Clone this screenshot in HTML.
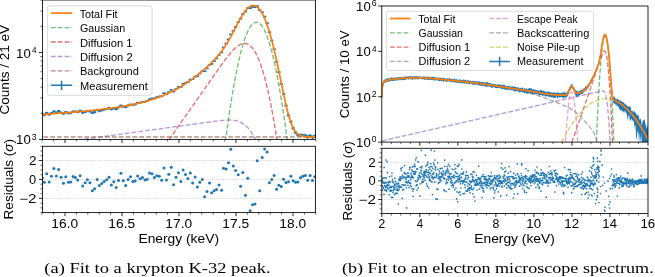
<!DOCTYPE html>
<html><head><meta charset="utf-8"><title>Fit figures</title>
<style>html,body{margin:0;padding:0;background:#fff;} svg{display:block;filter:blur(0.25px);} text{fill:#000;} text.s{stroke:none;}</style>
</head><body>
<svg width="655" height="277" viewBox="0 0 655 277">
<rect width="655" height="277" fill="#fff"/>
<defs>
<clipPath id="cL"><rect x="42.5" y="0.0" width="272.9" height="139.4"/></clipPath>
<clipPath id="cLr"><rect x="42.5" y="146.3" width="272.9" height="66.29999999999998"/></clipPath>
</defs>
<g clip-path="url(#cL)">
<path d="M220.48,182.86 L220.72,180.74 L220.95,178.63 L221.19,176.54 L221.43,174.46 L221.67,172.40 L221.90,170.35 L222.14,168.32 L222.38,166.30 L222.62,164.29 L222.86,162.30 L223.09,160.32 L223.33,158.36 L223.57,156.41 L223.81,154.47 L224.04,152.55 L224.28,150.64 L224.52,148.74 L224.76,146.86 L224.99,145.00 L225.23,143.15 L225.47,141.31 L225.71,139.48 L225.95,137.68 L226.18,135.88 L226.42,134.10 L226.66,132.33 L226.90,130.58 L227.13,128.84 L227.37,127.11 L227.61,125.40 L227.85,123.70 L228.08,122.02 L228.32,120.35 L228.56,118.70 L228.80,117.06 L229.04,115.43 L229.27,113.82 L229.51,112.22 L229.75,110.63 L229.99,109.06 L230.22,107.51 L230.46,105.96 L230.70,104.44 L230.94,102.92 L231.17,101.42 L231.41,99.94 L231.65,98.46 L231.89,97.00 L232.13,95.56 L232.36,94.13 L232.60,92.72 L232.84,91.31 L233.08,89.93 L233.31,88.55 L233.55,87.19 L233.79,85.85 L234.03,84.52 L234.26,83.20 L234.50,81.90 L234.74,80.61 L234.98,79.33 L235.22,78.07 L235.45,76.82 L235.69,75.59 L235.93,74.37 L236.17,73.17 L236.40,71.98 L236.64,70.80 L236.88,69.64 L237.12,68.49 L237.35,67.35 L237.59,66.23 L237.83,65.13 L238.07,64.03 L238.31,62.96 L238.54,61.89 L238.78,60.84 L239.02,59.81 L239.26,58.78 L239.49,57.78 L239.73,56.78 L239.97,55.80 L240.21,54.84 L240.44,53.89 L240.68,52.95 L240.92,52.02 L241.16,51.11 L241.40,50.22 L241.63,49.34 L241.87,48.47 L242.11,47.62 L242.35,46.78 L242.58,45.95 L242.82,45.14 L243.06,44.35 L243.30,43.56 L243.54,42.79 L243.77,42.04 L244.01,41.30 L244.25,40.57 L244.49,39.86 L244.72,39.16 L244.96,38.48 L245.20,37.81 L245.44,37.15 L245.67,36.51 L245.91,35.88 L246.15,35.27 L246.39,34.67 L246.63,34.08 L246.86,33.51 L247.10,32.95 L247.34,32.41 L247.58,31.88 L247.81,31.36 L248.05,30.86 L248.29,30.37 L248.53,29.90 L248.76,29.44 L249.00,29.00 L249.24,28.56 L249.48,28.15 L249.72,27.74 L249.95,27.36 L250.19,26.98 L250.43,26.62 L250.67,26.27 L250.90,25.94 L251.14,25.62 L251.38,25.32 L251.62,25.03 L251.85,24.75 L252.09,24.49 L252.33,24.24 L252.57,24.01 L252.81,23.79 L253.04,23.58 L253.28,23.39 L253.52,23.21 L253.76,23.05 L253.99,22.90 L254.23,22.76 L254.47,22.64 L254.71,22.53 L254.94,22.44 L255.18,22.36 L255.42,22.29 L255.66,22.24 L255.90,22.20 L256.13,22.18 L256.37,22.17 L256.61,22.18 L256.85,22.20 L257.08,22.23 L257.32,22.28 L257.56,22.34 L257.80,22.41 L258.03,22.50 L258.27,22.61 L258.51,22.72 L258.75,22.85 L258.99,23.00 L259.22,23.16 L259.46,23.33 L259.70,23.52 L259.94,23.72 L260.17,23.94 L260.41,24.17 L260.65,24.41 L260.89,24.67 L261.12,24.94 L261.36,25.23 L261.60,25.53 L261.84,25.84 L262.08,26.17 L262.31,26.52 L262.55,26.87 L262.79,27.24 L263.03,27.63 L263.26,28.03 L263.50,28.44 L263.74,28.87 L263.98,29.31 L264.21,29.76 L264.45,30.23 L264.69,30.71 L264.93,31.21 L265.17,31.72 L265.40,32.25 L265.64,32.79 L265.88,33.34 L266.12,33.91 L266.35,34.49 L266.59,35.09 L266.83,35.70 L267.07,36.32 L267.30,36.96 L267.54,37.61 L267.78,38.28 L268.02,38.96 L268.26,39.65 L268.49,40.36 L268.73,41.08 L268.97,41.82 L269.21,42.57 L269.44,43.33 L269.68,44.11 L269.92,44.90 L270.16,45.71 L270.39,46.53 L270.63,47.37 L270.87,48.22 L271.11,49.08 L271.35,49.96 L271.58,50.85 L271.82,51.75 L272.06,52.67 L272.30,53.61 L272.53,54.55 L272.77,55.51 L273.01,56.49 L273.25,57.48 L273.48,58.48 L273.72,59.50 L273.96,60.53 L274.20,61.58 L274.44,62.64 L274.67,63.71 L274.91,64.80 L275.15,65.90 L275.39,67.02 L275.62,68.15 L275.86,69.29 L276.10,70.45 L276.34,71.62 L276.58,72.81 L276.81,74.01 L277.05,75.23 L277.29,76.46 L277.53,77.70 L277.76,78.96 L278.00,80.23 L278.24,81.51 L278.48,82.81 L278.71,84.12 L278.95,85.45 L279.19,86.79 L279.43,88.15 L279.67,89.52 L279.90,90.90 L280.14,92.30 L280.38,93.71 L280.62,95.14 L280.85,96.57 L281.09,98.03 L281.33,99.50 L281.57,100.98 L281.80,102.47 L282.04,103.98 L282.28,105.51 L282.52,107.05 L282.76,108.60 L282.99,110.17 L283.23,111.75 L283.47,113.34 L283.71,114.95 L283.94,116.57 L284.18,118.21 L284.42,119.86 L284.66,121.52 L284.89,123.20 L285.13,124.90 L285.37,126.60 L285.61,128.32 L285.85,130.06 L286.08,131.81 L286.32,133.57 L286.56,135.35 L286.80,137.14 L287.03,138.95 L287.27,140.77 L287.51,142.60 L287.75,144.45 L287.98,146.31 L288.22,148.18 L288.46,150.07 L288.70,151.98 L288.94,153.90 L289.17,155.83 L289.41,157.78 L289.65,159.74 L289.89,161.71 L290.12,163.70 L290.36,165.70 L290.60,167.72 L290.84,169.75 L291.07,171.79 L291.31,173.85 L291.55,175.92 L291.79,178.01 L292.03,180.11 L292.26,182.23 L292.50,184.36" stroke="#2ca02c" stroke-opacity="0.66" stroke-width="1.35" stroke-dasharray="4.8 2.05" fill="none"/>
<path d="M137.52,184.80 L137.76,184.46 L138.00,184.12 L138.23,183.78 L138.47,183.44 L138.71,183.10 L138.95,182.76 L139.19,182.42 L139.42,182.08 L139.66,181.74 L139.90,181.40 L140.14,181.06 L140.37,180.72 L140.61,180.38 L140.85,180.04 L141.09,179.70 L141.32,179.36 L141.56,179.02 L141.80,178.68 L142.04,178.34 L142.28,178.00 L142.51,177.66 L142.75,177.32 L142.99,176.98 L143.23,176.64 L143.46,176.30 L143.70,175.96 L143.94,175.62 L144.18,175.28 L144.41,174.94 L144.65,174.60 L144.89,174.25 L145.13,173.91 L145.37,173.57 L145.60,173.23 L145.84,172.89 L146.08,172.55 L146.32,172.21 L146.55,171.87 L146.79,171.53 L147.03,171.19 L147.27,170.85 L147.51,170.51 L147.74,170.17 L147.98,169.83 L148.22,169.49 L148.46,169.15 L148.69,168.81 L148.93,168.47 L149.17,168.13 L149.41,167.79 L149.64,167.45 L149.88,167.11 L150.12,166.77 L150.36,166.43 L150.60,166.09 L150.83,165.75 L151.07,165.41 L151.31,165.07 L151.55,164.73 L151.78,164.39 L152.02,164.05 L152.26,163.71 L152.50,163.37 L152.73,163.03 L152.97,162.69 L153.21,162.35 L153.45,162.01 L153.69,161.67 L153.92,161.33 L154.16,160.99 L154.40,160.65 L154.64,160.31 L154.87,159.97 L155.11,159.63 L155.35,159.29 L155.59,158.95 L155.82,158.61 L156.06,158.27 L156.30,157.93 L156.54,157.59 L156.78,157.25 L157.01,156.91 L157.25,156.57 L157.49,156.23 L157.73,155.89 L157.96,155.55 L158.20,155.21 L158.44,154.87 L158.68,154.53 L158.91,154.19 L159.15,153.85 L159.39,153.51 L159.63,153.17 L159.87,152.83 L160.10,152.49 L160.34,152.15 L160.58,151.81 L160.82,151.47 L161.05,151.13 L161.29,150.79 L161.53,150.45 L161.77,150.11 L162.00,149.77 L162.24,149.43 L162.48,149.09 L162.72,148.75 L162.96,148.41 L163.19,148.07 L163.43,147.73 L163.67,147.39 L163.91,147.05 L164.14,146.71 L164.38,146.37 L164.62,146.03 L164.86,145.69 L165.09,145.35 L165.33,145.01 L165.57,144.67 L165.81,144.33 L166.05,143.99 L166.28,143.65 L166.52,143.31 L166.76,142.97 L167.00,142.63 L167.23,142.29 L167.47,141.95 L167.71,141.61 L167.95,141.27 L168.18,140.93 L168.42,140.59 L168.66,140.25 L168.90,139.91 L169.14,139.57 L169.37,139.23 L169.61,138.89 L169.85,138.55 L170.09,138.21 L170.32,137.87 L170.56,137.53 L170.80,137.19 L171.04,136.85 L171.27,136.51 L171.51,136.17 L171.75,135.83 L171.99,135.49 L172.23,135.15 L172.46,134.81 L172.70,134.47 L172.94,134.13 L173.18,133.79 L173.41,133.45 L173.65,133.11 L173.89,132.77 L174.13,132.43 L174.36,132.09 L174.60,131.75 L174.84,131.41 L175.08,131.07 L175.32,130.73 L175.55,130.39 L175.79,130.05 L176.03,129.71 L176.27,129.37 L176.50,129.02 L176.74,128.68 L176.98,128.34 L177.22,128.00 L177.45,127.66 L177.69,127.32 L177.93,126.98 L178.17,126.64 L178.41,126.30 L178.64,125.96 L178.88,125.62 L179.12,125.28 L179.36,124.94 L179.59,124.60 L179.83,124.26 L180.07,123.92 L180.31,123.58 L180.55,123.24 L180.78,122.90 L181.02,122.56 L181.26,122.22 L181.50,121.88 L181.73,121.54 L181.97,121.20 L182.21,120.86 L182.45,120.52 L182.68,120.18 L182.92,119.84 L183.16,119.50 L183.40,119.16 L183.64,118.82 L183.87,118.48 L184.11,118.14 L184.35,117.80 L184.59,117.46 L184.82,117.12 L185.06,116.78 L185.30,116.44 L185.54,116.10 L185.77,115.76 L186.01,115.42 L186.25,115.08 L186.49,114.74 L186.73,114.40 L186.96,114.06 L187.20,113.72 L187.44,113.38 L187.68,113.04 L187.91,112.70 L188.15,112.36 L188.39,112.02 L188.63,111.68 L188.86,111.34 L189.10,111.00 L189.34,110.66 L189.58,110.32 L189.82,109.98 L190.05,109.64 L190.29,109.30 L190.53,108.96 L190.77,108.62 L191.00,108.28 L191.24,107.94 L191.48,107.60 L191.72,107.26 L191.95,106.92 L192.19,106.58 L192.43,106.24 L192.67,105.90 L192.91,105.56 L193.14,105.22 L193.38,104.88 L193.62,104.54 L193.86,104.20 L194.09,103.86 L194.33,103.52 L194.57,103.18 L194.81,102.84 L195.04,102.50 L195.28,102.16 L195.52,101.82 L195.76,101.48 L196.00,101.14 L196.23,100.80 L196.47,100.46 L196.71,100.12 L196.95,99.78 L197.18,99.44 L197.42,99.10 L197.66,98.76 L197.90,98.42 L198.13,98.08 L198.37,97.74 L198.61,97.40 L198.85,97.06 L199.09,96.72 L199.32,96.38 L199.56,96.04 L199.80,95.70 L200.04,95.36 L200.27,95.02 L200.51,94.68 L200.75,94.34 L200.99,94.00 L201.22,93.66 L201.46,93.32 L201.70,92.98 L201.94,92.64 L202.18,92.30 L202.41,91.96 L202.65,91.62 L202.89,91.28 L203.13,90.94 L203.36,90.60 L203.60,90.26 L203.84,89.92 L204.08,89.58 L204.31,89.24 L204.55,88.90 L204.79,88.56 L205.03,88.22 L205.27,87.88 L205.50,87.54 L205.74,87.20 L205.98,86.86 L206.22,86.52 L206.45,86.18 L206.69,85.84 L206.93,85.50 L207.17,85.16 L207.40,84.82 L207.64,84.48 L207.88,84.14 L208.12,83.80 L208.36,83.46 L208.59,83.12 L208.83,82.78 L209.07,82.44 L209.31,82.10 L209.54,81.76 L209.78,81.42 L210.02,81.08 L210.26,80.74 L210.49,80.40 L210.73,80.06 L210.97,79.72 L211.21,79.38 L211.45,79.05 L211.68,78.71 L211.92,78.37 L212.16,78.03 L212.40,77.69 L212.63,77.35 L212.87,77.01 L213.11,76.67 L213.35,76.33 L213.59,76.00 L213.82,75.66 L214.06,75.32 L214.30,74.98 L214.54,74.64 L214.77,74.30 L215.01,73.97 L215.25,73.63 L215.49,73.29 L215.72,72.95 L215.96,72.62 L216.20,72.28 L216.44,71.94 L216.68,71.61 L216.91,71.27 L217.15,70.93 L217.39,70.60 L217.63,70.26 L217.86,69.93 L218.10,69.59 L218.34,69.26 L218.58,68.92 L218.81,68.59 L219.05,68.25 L219.29,67.92 L219.53,67.59 L219.77,67.25 L220.00,66.92 L220.24,66.59 L220.48,66.26 L220.72,65.93 L220.95,65.60 L221.19,65.27 L221.43,64.94 L221.67,64.61 L221.90,64.28 L222.14,63.95 L222.38,63.63 L222.62,63.30 L222.86,62.97 L223.09,62.65 L223.33,62.33 L223.57,62.00 L223.81,61.68 L224.04,61.36 L224.28,61.04 L224.52,60.72 L224.76,60.40 L224.99,60.08 L225.23,59.77 L225.47,59.45 L225.71,59.14 L225.95,58.82 L226.18,58.51 L226.42,58.20 L226.66,57.89 L226.90,57.58 L227.13,57.28 L227.37,56.97 L227.61,56.67 L227.85,56.37 L228.08,56.07 L228.32,55.77 L228.56,55.47 L228.80,55.18 L229.04,54.88 L229.27,54.59 L229.51,54.30 L229.75,54.02 L229.99,53.73 L230.22,53.45 L230.46,53.17 L230.70,52.89 L230.94,52.62 L231.17,52.34 L231.41,52.07 L231.65,51.80 L231.89,51.54 L232.13,51.28 L232.36,51.02 L232.60,50.76 L232.84,50.50 L233.08,50.25 L233.31,50.01 L233.55,49.76 L233.79,49.52 L234.03,49.28 L234.26,49.05 L234.50,48.82 L234.74,48.59 L234.98,48.36 L235.22,48.14 L235.45,47.93 L235.69,47.72 L235.93,47.51 L236.17,47.30 L236.40,47.10 L236.64,46.91 L236.88,46.72 L237.12,46.53 L237.35,46.35 L237.59,46.17 L237.83,46.00 L238.07,45.83 L238.31,45.67 L238.54,45.51 L238.78,45.36 L239.02,45.21 L239.26,45.07 L239.49,44.93 L239.73,44.80 L239.97,44.67 L240.21,44.55 L240.44,44.44 L240.68,44.33 L240.92,44.22 L241.16,44.13 L241.40,44.04 L241.63,43.95 L241.87,43.87 L242.11,43.80 L242.35,43.74 L242.58,43.68 L242.82,43.63 L243.06,43.58 L243.30,43.54 L243.54,43.51 L243.77,43.48 L244.01,43.47 L244.25,43.46 L244.49,43.45 L244.72,43.46 L244.96,43.47 L245.20,43.49 L245.44,43.51 L245.67,43.55 L245.91,43.59 L246.15,43.64 L246.39,43.70 L246.63,43.76 L246.86,43.84 L247.10,43.92 L247.34,44.01 L247.58,44.11 L247.81,44.22 L248.05,44.33 L248.29,44.46 L248.53,44.59 L248.76,44.73 L249.00,44.88 L249.24,45.04 L249.48,45.21 L249.72,45.39 L249.95,45.58 L250.19,45.77 L250.43,45.98 L250.67,46.19 L250.90,46.42 L251.14,46.65 L251.38,46.89 L251.62,47.14 L251.85,47.41 L252.09,47.68 L252.33,47.96 L252.57,48.25 L252.81,48.56 L253.04,48.87 L253.28,49.19 L253.52,49.52 L253.76,49.86 L253.99,50.22 L254.23,50.58 L254.47,50.95 L254.71,51.34 L254.94,51.73 L255.18,52.13 L255.42,52.55 L255.66,52.98 L255.90,53.41 L256.13,53.86 L256.37,54.32 L256.61,54.79 L256.85,55.27 L257.08,55.76 L257.32,56.26 L257.56,56.78 L257.80,57.30 L258.03,57.84 L258.27,58.39 L258.51,58.94 L258.75,59.51 L258.99,60.10 L259.22,60.69 L259.46,61.29 L259.70,61.91 L259.94,62.54 L260.17,63.18 L260.41,63.83 L260.65,64.49 L260.89,65.16 L261.12,65.85 L261.36,66.55 L261.60,67.26 L261.84,67.98 L262.08,68.72 L262.31,69.46 L262.55,70.22 L262.79,70.99 L263.03,71.77 L263.26,72.57 L263.50,73.37 L263.74,74.19 L263.98,75.02 L264.21,75.87 L264.45,76.72 L264.69,77.59 L264.93,78.47 L265.17,79.37 L265.40,80.27 L265.64,81.19 L265.88,82.12 L266.12,83.06 L266.35,84.02 L266.59,84.99 L266.83,85.97 L267.07,86.96 L267.30,87.97 L267.54,88.99 L267.78,90.02 L268.02,91.07 L268.26,92.13 L268.49,93.20 L268.73,94.28 L268.97,95.38 L269.21,96.49 L269.44,97.61 L269.68,98.75 L269.92,99.90 L270.16,101.06 L270.39,102.24 L270.63,103.42 L270.87,104.62 L271.11,105.84 L271.35,107.07 L271.58,108.31 L271.82,109.56 L272.06,110.83 L272.30,112.11 L272.53,113.41 L272.77,114.71 L273.01,116.03 L273.25,117.37 L273.48,118.72 L273.72,120.08 L273.96,121.45 L274.20,122.84 L274.44,124.24 L274.67,125.66 L274.91,127.08 L275.15,128.53 L275.39,129.98 L275.62,131.45 L275.86,132.93 L276.10,134.43 L276.34,135.94 L276.58,137.46 L276.81,139.00 L277.05,140.55 L277.29,142.12 L277.53,143.70 L277.76,145.29 L278.00,146.89 L278.24,148.51 L278.48,150.15 L278.71,151.79 L278.95,153.45 L279.19,155.13 L279.43,156.82 L279.67,158.52 L279.90,160.24 L280.14,161.97 L280.38,163.71 L280.62,165.47 L280.85,167.24 L281.09,169.03 L281.33,170.83 L281.57,172.64 L281.80,174.47 L282.04,176.31 L282.28,178.17 L282.52,180.04 L282.76,181.92 L282.99,183.82" stroke="#d62728" stroke-opacity="0.66" stroke-width="1.35" stroke-dasharray="4.8 2.05" fill="none"/>
<path d="M36.50,145.70 L36.74,145.67 L36.98,145.64 L37.21,145.60 L37.45,145.57 L37.69,145.54 L37.93,145.51 L38.16,145.47 L38.40,145.44 L38.64,145.41 L38.88,145.38 L39.11,145.34 L39.35,145.31 L39.59,145.28 L39.83,145.24 L40.07,145.21 L40.30,145.18 L40.54,145.15 L40.78,145.11 L41.02,145.08 L41.25,145.05 L41.49,145.02 L41.73,144.98 L41.97,144.95 L42.20,144.92 L42.44,144.89 L42.68,144.85 L42.92,144.82 L43.16,144.79 L43.39,144.76 L43.63,144.72 L43.87,144.69 L44.11,144.66 L44.34,144.63 L44.58,144.59 L44.82,144.56 L45.06,144.53 L45.29,144.49 L45.53,144.46 L45.77,144.43 L46.01,144.40 L46.25,144.36 L46.48,144.33 L46.72,144.30 L46.96,144.27 L47.20,144.23 L47.43,144.20 L47.67,144.17 L47.91,144.14 L48.15,144.10 L48.38,144.07 L48.62,144.04 L48.86,144.01 L49.10,143.97 L49.34,143.94 L49.57,143.91 L49.81,143.88 L50.05,143.84 L50.29,143.81 L50.52,143.78 L50.76,143.74 L51.00,143.71 L51.24,143.68 L51.47,143.65 L51.71,143.61 L51.95,143.58 L52.19,143.55 L52.43,143.52 L52.66,143.48 L52.90,143.45 L53.14,143.42 L53.38,143.39 L53.61,143.35 L53.85,143.32 L54.09,143.29 L54.33,143.26 L54.57,143.22 L54.80,143.19 L55.04,143.16 L55.28,143.13 L55.52,143.09 L55.75,143.06 L55.99,143.03 L56.23,142.99 L56.47,142.96 L56.70,142.93 L56.94,142.90 L57.18,142.86 L57.42,142.83 L57.66,142.80 L57.89,142.77 L58.13,142.73 L58.37,142.70 L58.61,142.67 L58.84,142.64 L59.08,142.60 L59.32,142.57 L59.56,142.54 L59.79,142.51 L60.03,142.47 L60.27,142.44 L60.51,142.41 L60.75,142.38 L60.98,142.34 L61.22,142.31 L61.46,142.28 L61.70,142.24 L61.93,142.21 L62.17,142.18 L62.41,142.15 L62.65,142.11 L62.88,142.08 L63.12,142.05 L63.36,142.02 L63.60,141.98 L63.84,141.95 L64.07,141.92 L64.31,141.89 L64.55,141.85 L64.79,141.82 L65.02,141.79 L65.26,141.76 L65.50,141.72 L65.74,141.69 L65.97,141.66 L66.21,141.63 L66.45,141.59 L66.69,141.56 L66.93,141.53 L67.16,141.49 L67.40,141.46 L67.64,141.43 L67.88,141.40 L68.11,141.36 L68.35,141.33 L68.59,141.30 L68.83,141.27 L69.06,141.23 L69.30,141.20 L69.54,141.17 L69.78,141.14 L70.02,141.10 L70.25,141.07 L70.49,141.04 L70.73,141.01 L70.97,140.97 L71.20,140.94 L71.44,140.91 L71.68,140.88 L71.92,140.84 L72.15,140.81 L72.39,140.78 L72.63,140.74 L72.87,140.71 L73.11,140.68 L73.34,140.65 L73.58,140.61 L73.82,140.58 L74.06,140.55 L74.29,140.52 L74.53,140.48 L74.77,140.45 L75.01,140.42 L75.24,140.39 L75.48,140.35 L75.72,140.32 L75.96,140.29 L76.20,140.26 L76.43,140.22 L76.67,140.19 L76.91,140.16 L77.15,140.13 L77.38,140.09 L77.62,140.06 L77.86,140.03 L78.10,140.00 L78.33,139.96 L78.57,139.93 L78.81,139.90 L79.05,139.86 L79.29,139.83 L79.52,139.80 L79.76,139.77 L80.00,139.73 L80.24,139.70 L80.47,139.67 L80.71,139.64 L80.95,139.60 L81.19,139.57 L81.42,139.54 L81.66,139.51 L81.90,139.47 L82.14,139.44 L82.38,139.41 L82.61,139.38 L82.85,139.34 L83.09,139.31 L83.33,139.28 L83.56,139.25 L83.80,139.21 L84.04,139.18 L84.28,139.15 L84.52,139.11 L84.75,139.08 L84.99,139.05 L85.23,139.02 L85.47,138.98 L85.70,138.95 L85.94,138.92 L86.18,138.89 L86.42,138.85 L86.65,138.82 L86.89,138.79 L87.13,138.76 L87.37,138.72 L87.61,138.69 L87.84,138.66 L88.08,138.63 L88.32,138.59 L88.56,138.56 L88.79,138.53 L89.03,138.50 L89.27,138.46 L89.51,138.43 L89.74,138.40 L89.98,138.36 L90.22,138.33 L90.46,138.30 L90.70,138.27 L90.93,138.23 L91.17,138.20 L91.41,138.17 L91.65,138.14 L91.88,138.10 L92.12,138.07 L92.36,138.04 L92.60,138.01 L92.83,137.97 L93.07,137.94 L93.31,137.91 L93.55,137.88 L93.79,137.84 L94.02,137.81 L94.26,137.78 L94.50,137.75 L94.74,137.71 L94.97,137.68 L95.21,137.65 L95.45,137.61 L95.69,137.58 L95.92,137.55 L96.16,137.52 L96.40,137.48 L96.64,137.45 L96.88,137.42 L97.11,137.39 L97.35,137.35 L97.59,137.32 L97.83,137.29 L98.06,137.26 L98.30,137.22 L98.54,137.19 L98.78,137.16 L99.01,137.13 L99.25,137.09 L99.49,137.06 L99.73,137.03 L99.97,137.00 L100.20,136.96 L100.44,136.93 L100.68,136.90 L100.92,136.86 L101.15,136.83 L101.39,136.80 L101.63,136.77 L101.87,136.73 L102.10,136.70 L102.34,136.67 L102.58,136.64 L102.82,136.60 L103.06,136.57 L103.29,136.54 L103.53,136.51 L103.77,136.47 L104.01,136.44 L104.24,136.41 L104.48,136.38 L104.72,136.34 L104.96,136.31 L105.19,136.28 L105.43,136.25 L105.67,136.21 L105.91,136.18 L106.15,136.15 L106.38,136.11 L106.62,136.08 L106.86,136.05 L107.10,136.02 L107.33,135.98 L107.57,135.95 L107.81,135.92 L108.05,135.89 L108.28,135.85 L108.52,135.82 L108.76,135.79 L109.00,135.76 L109.24,135.72 L109.47,135.69 L109.71,135.66 L109.95,135.63 L110.19,135.59 L110.42,135.56 L110.66,135.53 L110.90,135.50 L111.14,135.46 L111.37,135.43 L111.61,135.40 L111.85,135.36 L112.09,135.33 L112.33,135.30 L112.56,135.27 L112.80,135.23 L113.04,135.20 L113.28,135.17 L113.51,135.14 L113.75,135.10 L113.99,135.07 L114.23,135.04 L114.46,135.01 L114.70,134.97 L114.94,134.94 L115.18,134.91 L115.42,134.88 L115.65,134.84 L115.89,134.81 L116.13,134.78 L116.37,134.75 L116.60,134.71 L116.84,134.68 L117.08,134.65 L117.32,134.61 L117.56,134.58 L117.79,134.55 L118.03,134.52 L118.27,134.48 L118.51,134.45 L118.74,134.42 L118.98,134.39 L119.22,134.35 L119.46,134.32 L119.69,134.29 L119.93,134.26 L120.17,134.22 L120.41,134.19 L120.65,134.16 L120.88,134.13 L121.12,134.09 L121.36,134.06 L121.60,134.03 L121.83,134.00 L122.07,133.96 L122.31,133.93 L122.55,133.90 L122.78,133.86 L123.02,133.83 L123.26,133.80 L123.50,133.77 L123.74,133.73 L123.97,133.70 L124.21,133.67 L124.45,133.64 L124.69,133.60 L124.92,133.57 L125.16,133.54 L125.40,133.51 L125.64,133.47 L125.87,133.44 L126.11,133.41 L126.35,133.38 L126.59,133.34 L126.83,133.31 L127.06,133.28 L127.30,133.25 L127.54,133.21 L127.78,133.18 L128.01,133.15 L128.25,133.11 L128.49,133.08 L128.73,133.05 L128.96,133.02 L129.20,132.98 L129.44,132.95 L129.68,132.92 L129.92,132.89 L130.15,132.85 L130.39,132.82 L130.63,132.79 L130.87,132.76 L131.10,132.72 L131.34,132.69 L131.58,132.66 L131.82,132.63 L132.05,132.59 L132.29,132.56 L132.53,132.53 L132.77,132.50 L133.01,132.46 L133.24,132.43 L133.48,132.40 L133.72,132.36 L133.96,132.33 L134.19,132.30 L134.43,132.27 L134.67,132.23 L134.91,132.20 L135.14,132.17 L135.38,132.14 L135.62,132.10 L135.86,132.07 L136.10,132.04 L136.33,132.01 L136.57,131.97 L136.81,131.94 L137.05,131.91 L137.28,131.88 L137.52,131.84 L137.76,131.81 L138.00,131.78 L138.23,131.75 L138.47,131.71 L138.71,131.68 L138.95,131.65 L139.19,131.61 L139.42,131.58 L139.66,131.55 L139.90,131.52 L140.14,131.48 L140.37,131.45 L140.61,131.42 L140.85,131.39 L141.09,131.35 L141.32,131.32 L141.56,131.29 L141.80,131.26 L142.04,131.22 L142.28,131.19 L142.51,131.16 L142.75,131.13 L142.99,131.09 L143.23,131.06 L143.46,131.03 L143.70,131.00 L143.94,130.96 L144.18,130.93 L144.41,130.90 L144.65,130.86 L144.89,130.83 L145.13,130.80 L145.37,130.77 L145.60,130.73 L145.84,130.70 L146.08,130.67 L146.32,130.64 L146.55,130.60 L146.79,130.57 L147.03,130.54 L147.27,130.51 L147.51,130.47 L147.74,130.44 L147.98,130.41 L148.22,130.38 L148.46,130.34 L148.69,130.31 L148.93,130.28 L149.17,130.25 L149.41,130.21 L149.64,130.18 L149.88,130.15 L150.12,130.11 L150.36,130.08 L150.60,130.05 L150.83,130.02 L151.07,129.98 L151.31,129.95 L151.55,129.92 L151.78,129.89 L152.02,129.85 L152.26,129.82 L152.50,129.79 L152.73,129.76 L152.97,129.72 L153.21,129.69 L153.45,129.66 L153.69,129.63 L153.92,129.59 L154.16,129.56 L154.40,129.53 L154.64,129.50 L154.87,129.46 L155.11,129.43 L155.35,129.40 L155.59,129.36 L155.82,129.33 L156.06,129.30 L156.30,129.27 L156.54,129.23 L156.78,129.20 L157.01,129.17 L157.25,129.14 L157.49,129.10 L157.73,129.07 L157.96,129.04 L158.20,129.01 L158.44,128.97 L158.68,128.94 L158.91,128.91 L159.15,128.88 L159.39,128.84 L159.63,128.81 L159.87,128.78 L160.10,128.75 L160.34,128.71 L160.58,128.68 L160.82,128.65 L161.05,128.61 L161.29,128.58 L161.53,128.55 L161.77,128.52 L162.00,128.48 L162.24,128.45 L162.48,128.42 L162.72,128.39 L162.96,128.35 L163.19,128.32 L163.43,128.29 L163.67,128.26 L163.91,128.22 L164.14,128.19 L164.38,128.16 L164.62,128.13 L164.86,128.09 L165.09,128.06 L165.33,128.03 L165.57,128.00 L165.81,127.96 L166.05,127.93 L166.28,127.90 L166.52,127.86 L166.76,127.83 L167.00,127.80 L167.23,127.77 L167.47,127.73 L167.71,127.70 L167.95,127.67 L168.18,127.64 L168.42,127.60 L168.66,127.57 L168.90,127.54 L169.14,127.51 L169.37,127.47 L169.61,127.44 L169.85,127.41 L170.09,127.38 L170.32,127.34 L170.56,127.31 L170.80,127.28 L171.04,127.25 L171.27,127.21 L171.51,127.18 L171.75,127.15 L171.99,127.11 L172.23,127.08 L172.46,127.05 L172.70,127.02 L172.94,126.98 L173.18,126.95 L173.41,126.92 L173.65,126.89 L173.89,126.85 L174.13,126.82 L174.36,126.79 L174.60,126.76 L174.84,126.72 L175.08,126.69 L175.32,126.66 L175.55,126.63 L175.79,126.59 L176.03,126.56 L176.27,126.53 L176.50,126.50 L176.74,126.46 L176.98,126.43 L177.22,126.40 L177.45,126.36 L177.69,126.33 L177.93,126.30 L178.17,126.27 L178.41,126.23 L178.64,126.20 L178.88,126.17 L179.12,126.14 L179.36,126.10 L179.59,126.07 L179.83,126.04 L180.07,126.01 L180.31,125.97 L180.55,125.94 L180.78,125.91 L181.02,125.88 L181.26,125.84 L181.50,125.81 L181.73,125.78 L181.97,125.75 L182.21,125.71 L182.45,125.68 L182.68,125.65 L182.92,125.61 L183.16,125.58 L183.40,125.55 L183.64,125.52 L183.87,125.48 L184.11,125.45 L184.35,125.42 L184.59,125.39 L184.82,125.35 L185.06,125.32 L185.30,125.29 L185.54,125.26 L185.77,125.22 L186.01,125.19 L186.25,125.16 L186.49,125.13 L186.73,125.09 L186.96,125.06 L187.20,125.03 L187.44,125.00 L187.68,124.96 L187.91,124.93 L188.15,124.90 L188.39,124.86 L188.63,124.83 L188.86,124.80 L189.10,124.77 L189.34,124.73 L189.58,124.70 L189.82,124.67 L190.05,124.64 L190.29,124.60 L190.53,124.57 L190.77,124.54 L191.00,124.51 L191.24,124.47 L191.48,124.44 L191.72,124.41 L191.95,124.38 L192.19,124.34 L192.43,124.31 L192.67,124.28 L192.91,124.25 L193.14,124.21 L193.38,124.18 L193.62,124.15 L193.86,124.11 L194.09,124.08 L194.33,124.05 L194.57,124.02 L194.81,123.98 L195.04,123.95 L195.28,123.92 L195.52,123.89 L195.76,123.85 L196.00,123.82 L196.23,123.79 L196.47,123.76 L196.71,123.72 L196.95,123.69 L197.18,123.66 L197.42,123.63 L197.66,123.59 L197.90,123.56 L198.13,123.53 L198.37,123.50 L198.61,123.46 L198.85,123.43 L199.09,123.40 L199.32,123.37 L199.56,123.33 L199.80,123.30 L200.04,123.27 L200.27,123.23 L200.51,123.20 L200.75,123.17 L200.99,123.14 L201.22,123.10 L201.46,123.07 L201.70,123.04 L201.94,123.01 L202.18,122.97 L202.41,122.94 L202.65,122.91 L202.89,122.88 L203.13,122.84 L203.36,122.81 L203.60,122.78 L203.84,122.75 L204.08,122.71 L204.31,122.68 L204.55,122.65 L204.79,122.62 L205.03,122.58 L205.27,122.55 L205.50,122.52 L205.74,122.49 L205.98,122.45 L206.22,122.42 L206.45,122.39 L206.69,122.36 L206.93,122.33 L207.17,122.29 L207.40,122.26 L207.64,122.23 L207.88,122.20 L208.12,122.16 L208.36,122.13 L208.59,122.10 L208.83,122.07 L209.07,122.03 L209.31,122.00 L209.54,121.97 L209.78,121.94 L210.02,121.91 L210.26,121.87 L210.49,121.84 L210.73,121.81 L210.97,121.78 L211.21,121.75 L211.45,121.72 L211.68,121.68 L211.92,121.65 L212.16,121.62 L212.40,121.59 L212.63,121.56 L212.87,121.53 L213.11,121.49 L213.35,121.46 L213.59,121.43 L213.82,121.40 L214.06,121.37 L214.30,121.34 L214.54,121.31 L214.77,121.28 L215.01,121.25 L215.25,121.22 L215.49,121.19 L215.72,121.16 L215.96,121.13 L216.20,121.10 L216.44,121.07 L216.68,121.04 L216.91,121.01 L217.15,120.98 L217.39,120.95 L217.63,120.92 L217.86,120.89 L218.10,120.86 L218.34,120.83 L218.58,120.80 L218.81,120.78 L219.05,120.75 L219.29,120.72 L219.53,120.69 L219.77,120.67 L220.00,120.64 L220.24,120.61 L220.48,120.59 L220.72,120.56 L220.95,120.54 L221.19,120.51 L221.43,120.49 L221.67,120.46 L221.90,120.44 L222.14,120.42 L222.38,120.39 L222.62,120.37 L222.86,120.35 L223.09,120.33 L223.33,120.31 L223.57,120.29 L223.81,120.27 L224.04,120.25 L224.28,120.23 L224.52,120.21 L224.76,120.19 L224.99,120.18 L225.23,120.16 L225.47,120.15 L225.71,120.13 L225.95,120.12 L226.18,120.10 L226.42,120.09 L226.66,120.08 L226.90,120.07 L227.13,120.06 L227.37,120.05 L227.61,120.04 L227.85,120.04 L228.08,120.03 L228.32,120.03 L228.56,120.02 L228.80,120.02 L229.04,120.02 L229.27,120.02 L229.51,120.02 L229.75,120.02 L229.99,120.03 L230.22,120.03 L230.46,120.04 L230.70,120.05 L230.94,120.06 L231.17,120.07 L231.41,120.08 L231.65,120.10 L231.89,120.11 L232.13,120.13 L232.36,120.15 L232.60,120.17 L232.84,120.19 L233.08,120.22 L233.31,120.25 L233.55,120.28 L233.79,120.31 L234.03,120.34 L234.26,120.37 L234.50,120.41 L234.74,120.45 L234.98,120.49 L235.22,120.54 L235.45,120.58 L235.69,120.63 L235.93,120.69 L236.17,120.74 L236.40,120.80 L236.64,120.86 L236.88,120.92 L237.12,120.98 L237.35,121.05 L237.59,121.12 L237.83,121.20 L238.07,121.27 L238.31,121.35 L238.54,121.44 L238.78,121.52 L239.02,121.61 L239.26,121.70 L239.49,121.80 L239.73,121.90 L239.97,122.00 L240.21,122.11 L240.44,122.22 L240.68,122.33 L240.92,122.45 L241.16,122.57 L241.40,122.70 L241.63,122.83 L241.87,122.96 L242.11,123.10 L242.35,123.24 L242.58,123.39 L242.82,123.54 L243.06,123.69 L243.30,123.85 L243.54,124.01 L243.77,124.18 L244.01,124.35 L244.25,124.53 L244.49,124.71 L244.72,124.90 L244.96,125.09 L245.20,125.28 L245.44,125.49 L245.67,125.69 L245.91,125.90 L246.15,126.12 L246.39,126.34 L246.63,126.57 L246.86,126.80 L247.10,127.04 L247.34,127.28 L247.58,127.53 L247.81,127.78 L248.05,128.04 L248.29,128.31 L248.53,128.58 L248.76,128.86 L249.00,129.14 L249.24,129.43 L249.48,129.72 L249.72,130.02 L249.95,130.33 L250.19,130.64 L250.43,130.96 L250.67,131.29 L250.90,131.62 L251.14,131.96 L251.38,132.30 L251.62,132.65 L251.85,133.01 L252.09,133.38 L252.33,133.75 L252.57,134.12 L252.81,134.51 L253.04,134.90 L253.28,135.30 L253.52,135.70 L253.76,136.12 L253.99,136.54 L254.23,136.96 L254.47,137.40 L254.71,137.84 L254.94,138.28 L255.18,138.74 L255.42,139.20 L255.66,139.67 L255.90,140.15 L256.13,140.64 L256.37,141.13 L256.61,141.63 L256.85,142.14 L257.08,142.65 L257.32,143.18 L257.56,143.71 L257.80,144.25 L258.03,144.79 L258.27,145.35 L258.51,145.91 L258.75,146.48 L258.99,147.06 L259.22,147.65 L259.46,148.24 L259.70,148.84 L259.94,149.46 L260.17,150.08 L260.41,150.70 L260.65,151.34 L260.89,151.98 L261.12,152.64 L261.36,153.30 L261.60,153.97 L261.84,154.65 L262.08,155.33 L262.31,156.03 L262.55,156.73 L262.79,157.45 L263.03,158.17 L263.26,158.90 L263.50,159.64 L263.74,160.39 L263.98,161.14 L264.21,161.91 L264.45,162.68 L264.69,163.47 L264.93,164.26 L265.17,165.06 L265.40,165.87 L265.64,166.69 L265.88,167.52 L266.12,168.36 L266.35,169.21 L266.59,170.06 L266.83,170.93 L267.07,171.80 L267.30,172.69 L267.54,173.58 L267.78,174.48 L268.02,175.40 L268.26,176.32 L268.49,177.25 L268.73,178.19 L268.97,179.14 L269.21,180.10 L269.44,181.07 L269.68,182.05 L269.92,183.03 L270.16,184.03" stroke="#9467bd" stroke-opacity="0.66" stroke-width="1.35" stroke-dasharray="4.8 2.05" fill="none"/>
<path d="M36.50,136.97 L36.74,136.97 L36.98,136.97 L37.21,136.97 L37.45,136.97 L37.69,136.97 L37.93,136.97 L38.16,136.97 L38.40,136.97 L38.64,136.97 L38.88,136.97 L39.11,136.97 L39.35,136.97 L39.59,136.97 L39.83,136.97 L40.07,136.97 L40.30,136.97 L40.54,136.97 L40.78,136.97 L41.02,136.97 L41.25,136.97 L41.49,136.97 L41.73,136.97 L41.97,136.97 L42.20,136.97 L42.44,136.97 L42.68,136.97 L42.92,136.97 L43.16,136.97 L43.39,136.97 L43.63,136.97 L43.87,136.97 L44.11,136.97 L44.34,136.97 L44.58,136.97 L44.82,136.97 L45.06,136.97 L45.29,136.97 L45.53,136.97 L45.77,136.97 L46.01,136.97 L46.25,136.97 L46.48,136.97 L46.72,136.97 L46.96,136.97 L47.20,136.97 L47.43,136.97 L47.67,136.97 L47.91,136.97 L48.15,136.97 L48.38,136.97 L48.62,136.97 L48.86,136.97 L49.10,136.97 L49.34,136.97 L49.57,136.97 L49.81,136.97 L50.05,136.97 L50.29,136.97 L50.52,136.97 L50.76,136.97 L51.00,136.97 L51.24,136.97 L51.47,136.97 L51.71,136.97 L51.95,136.97 L52.19,136.97 L52.43,136.97 L52.66,136.97 L52.90,136.97 L53.14,136.97 L53.38,136.97 L53.61,136.97 L53.85,136.97 L54.09,136.97 L54.33,136.97 L54.57,136.97 L54.80,136.97 L55.04,136.97 L55.28,136.97 L55.52,136.97 L55.75,136.97 L55.99,136.97 L56.23,136.97 L56.47,136.97 L56.70,136.97 L56.94,136.97 L57.18,136.97 L57.42,136.97 L57.66,136.97 L57.89,136.97 L58.13,136.97 L58.37,136.97 L58.61,136.97 L58.84,136.97 L59.08,136.97 L59.32,136.97 L59.56,136.97 L59.79,136.97 L60.03,136.97 L60.27,136.97 L60.51,136.97 L60.75,136.97 L60.98,136.97 L61.22,136.97 L61.46,136.97 L61.70,136.97 L61.93,136.97 L62.17,136.97 L62.41,136.97 L62.65,136.97 L62.88,136.97 L63.12,136.97 L63.36,136.97 L63.60,136.97 L63.84,136.97 L64.07,136.97 L64.31,136.97 L64.55,136.97 L64.79,136.97 L65.02,136.97 L65.26,136.97 L65.50,136.97 L65.74,136.97 L65.97,136.97 L66.21,136.97 L66.45,136.97 L66.69,136.97 L66.93,136.97 L67.16,136.97 L67.40,136.97 L67.64,136.97 L67.88,136.97 L68.11,136.97 L68.35,136.97 L68.59,136.97 L68.83,136.97 L69.06,136.97 L69.30,136.97 L69.54,136.97 L69.78,136.97 L70.02,136.97 L70.25,136.97 L70.49,136.97 L70.73,136.97 L70.97,136.97 L71.20,136.97 L71.44,136.97 L71.68,136.97 L71.92,136.97 L72.15,136.97 L72.39,136.97 L72.63,136.97 L72.87,136.97 L73.11,136.97 L73.34,136.97 L73.58,136.97 L73.82,136.97 L74.06,136.97 L74.29,136.97 L74.53,136.97 L74.77,136.97 L75.01,136.97 L75.24,136.97 L75.48,136.97 L75.72,136.97 L75.96,136.97 L76.20,136.97 L76.43,136.97 L76.67,136.97 L76.91,136.97 L77.15,136.97 L77.38,136.97 L77.62,136.97 L77.86,136.97 L78.10,136.97 L78.33,136.97 L78.57,136.97 L78.81,136.97 L79.05,136.97 L79.29,136.97 L79.52,136.97 L79.76,136.97 L80.00,136.97 L80.24,136.97 L80.47,136.97 L80.71,136.97 L80.95,136.97 L81.19,136.97 L81.42,136.97 L81.66,136.97 L81.90,136.97 L82.14,136.97 L82.38,136.97 L82.61,136.97 L82.85,136.97 L83.09,136.97 L83.33,136.97 L83.56,136.97 L83.80,136.97 L84.04,136.97 L84.28,136.97 L84.52,136.97 L84.75,136.97 L84.99,136.97 L85.23,136.97 L85.47,136.97 L85.70,136.97 L85.94,136.97 L86.18,136.97 L86.42,136.97 L86.65,136.97 L86.89,136.97 L87.13,136.97 L87.37,136.97 L87.61,136.97 L87.84,136.97 L88.08,136.97 L88.32,136.97 L88.56,136.97 L88.79,136.97 L89.03,136.97 L89.27,136.97 L89.51,136.97 L89.74,136.97 L89.98,136.97 L90.22,136.97 L90.46,136.97 L90.70,136.97 L90.93,136.97 L91.17,136.97 L91.41,136.97 L91.65,136.97 L91.88,136.97 L92.12,136.97 L92.36,136.97 L92.60,136.97 L92.83,136.97 L93.07,136.97 L93.31,136.97 L93.55,136.97 L93.79,136.97 L94.02,136.97 L94.26,136.97 L94.50,136.97 L94.74,136.97 L94.97,136.97 L95.21,136.97 L95.45,136.97 L95.69,136.97 L95.92,136.97 L96.16,136.97 L96.40,136.97 L96.64,136.97 L96.88,136.97 L97.11,136.97 L97.35,136.97 L97.59,136.97 L97.83,136.97 L98.06,136.97 L98.30,136.97 L98.54,136.97 L98.78,136.97 L99.01,136.97 L99.25,136.97 L99.49,136.97 L99.73,136.97 L99.97,136.97 L100.20,136.97 L100.44,136.97 L100.68,136.97 L100.92,136.97 L101.15,136.97 L101.39,136.97 L101.63,136.97 L101.87,136.97 L102.10,136.97 L102.34,136.97 L102.58,136.97 L102.82,136.97 L103.06,136.97 L103.29,136.97 L103.53,136.97 L103.77,136.97 L104.01,136.97 L104.24,136.97 L104.48,136.97 L104.72,136.97 L104.96,136.97 L105.19,136.97 L105.43,136.97 L105.67,136.97 L105.91,136.97 L106.15,136.97 L106.38,136.97 L106.62,136.97 L106.86,136.97 L107.10,136.97 L107.33,136.97 L107.57,136.97 L107.81,136.97 L108.05,136.97 L108.28,136.97 L108.52,136.97 L108.76,136.97 L109.00,136.97 L109.24,136.97 L109.47,136.97 L109.71,136.97 L109.95,136.97 L110.19,136.97 L110.42,136.97 L110.66,136.97 L110.90,136.97 L111.14,136.97 L111.37,136.97 L111.61,136.97 L111.85,136.97 L112.09,136.97 L112.33,136.97 L112.56,136.97 L112.80,136.97 L113.04,136.97 L113.28,136.97 L113.51,136.97 L113.75,136.97 L113.99,136.97 L114.23,136.97 L114.46,136.97 L114.70,136.97 L114.94,136.97 L115.18,136.97 L115.42,136.97 L115.65,136.97 L115.89,136.97 L116.13,136.97 L116.37,136.97 L116.60,136.97 L116.84,136.97 L117.08,136.97 L117.32,136.97 L117.56,136.97 L117.79,136.97 L118.03,136.97 L118.27,136.97 L118.51,136.97 L118.74,136.97 L118.98,136.97 L119.22,136.97 L119.46,136.97 L119.69,136.97 L119.93,136.97 L120.17,136.97 L120.41,136.97 L120.65,136.97 L120.88,136.97 L121.12,136.97 L121.36,136.97 L121.60,136.97 L121.83,136.97 L122.07,136.97 L122.31,136.97 L122.55,136.97 L122.78,136.97 L123.02,136.97 L123.26,136.97 L123.50,136.97 L123.74,136.97 L123.97,136.97 L124.21,136.97 L124.45,136.97 L124.69,136.97 L124.92,136.97 L125.16,136.97 L125.40,136.97 L125.64,136.97 L125.87,136.97 L126.11,136.97 L126.35,136.97 L126.59,136.97 L126.83,136.97 L127.06,136.97 L127.30,136.97 L127.54,136.97 L127.78,136.97 L128.01,136.97 L128.25,136.97 L128.49,136.97 L128.73,136.97 L128.96,136.97 L129.20,136.97 L129.44,136.97 L129.68,136.97 L129.92,136.97 L130.15,136.97 L130.39,136.97 L130.63,136.97 L130.87,136.97 L131.10,136.97 L131.34,136.97 L131.58,136.97 L131.82,136.97 L132.05,136.97 L132.29,136.97 L132.53,136.97 L132.77,136.97 L133.01,136.97 L133.24,136.97 L133.48,136.97 L133.72,136.97 L133.96,136.97 L134.19,136.97 L134.43,136.97 L134.67,136.97 L134.91,136.97 L135.14,136.97 L135.38,136.97 L135.62,136.97 L135.86,136.97 L136.10,136.97 L136.33,136.97 L136.57,136.97 L136.81,136.97 L137.05,136.97 L137.28,136.97 L137.52,136.97 L137.76,136.97 L138.00,136.97 L138.23,136.97 L138.47,136.97 L138.71,136.97 L138.95,136.97 L139.19,136.97 L139.42,136.97 L139.66,136.97 L139.90,136.97 L140.14,136.97 L140.37,136.97 L140.61,136.97 L140.85,136.97 L141.09,136.97 L141.32,136.97 L141.56,136.97 L141.80,136.97 L142.04,136.97 L142.28,136.97 L142.51,136.97 L142.75,136.97 L142.99,136.97 L143.23,136.97 L143.46,136.97 L143.70,136.97 L143.94,136.97 L144.18,136.97 L144.41,136.97 L144.65,136.97 L144.89,136.97 L145.13,136.97 L145.37,136.97 L145.60,136.97 L145.84,136.97 L146.08,136.97 L146.32,136.97 L146.55,136.97 L146.79,136.97 L147.03,136.97 L147.27,136.97 L147.51,136.97 L147.74,136.97 L147.98,136.97 L148.22,136.97 L148.46,136.97 L148.69,136.97 L148.93,136.97 L149.17,136.97 L149.41,136.97 L149.64,136.97 L149.88,136.97 L150.12,136.97 L150.36,136.97 L150.60,136.97 L150.83,136.97 L151.07,136.97 L151.31,136.97 L151.55,136.97 L151.78,136.97 L152.02,136.97 L152.26,136.97 L152.50,136.97 L152.73,136.97 L152.97,136.97 L153.21,136.97 L153.45,136.97 L153.69,136.97 L153.92,136.97 L154.16,136.97 L154.40,136.97 L154.64,136.97 L154.87,136.97 L155.11,136.97 L155.35,136.97 L155.59,136.97 L155.82,136.97 L156.06,136.97 L156.30,136.97 L156.54,136.97 L156.78,136.97 L157.01,136.97 L157.25,136.97 L157.49,136.97 L157.73,136.97 L157.96,136.97 L158.20,136.97 L158.44,136.97 L158.68,136.97 L158.91,136.97 L159.15,136.97 L159.39,136.97 L159.63,136.97 L159.87,136.97 L160.10,136.97 L160.34,136.97 L160.58,136.97 L160.82,136.97 L161.05,136.97 L161.29,136.97 L161.53,136.97 L161.77,136.97 L162.00,136.97 L162.24,136.97 L162.48,136.97 L162.72,136.97 L162.96,136.97 L163.19,136.97 L163.43,136.97 L163.67,136.97 L163.91,136.97 L164.14,136.97 L164.38,136.97 L164.62,136.97 L164.86,136.97 L165.09,136.97 L165.33,136.97 L165.57,136.97 L165.81,136.97 L166.05,136.97 L166.28,136.97 L166.52,136.97 L166.76,136.97 L167.00,136.97 L167.23,136.97 L167.47,136.97 L167.71,136.97 L167.95,136.97 L168.18,136.97 L168.42,136.97 L168.66,136.97 L168.90,136.97 L169.14,136.97 L169.37,136.97 L169.61,136.97 L169.85,136.97 L170.09,136.97 L170.32,136.97 L170.56,136.97 L170.80,136.97 L171.04,136.97 L171.27,136.97 L171.51,136.97 L171.75,136.97 L171.99,136.97 L172.23,136.97 L172.46,136.97 L172.70,136.97 L172.94,136.97 L173.18,136.97 L173.41,136.97 L173.65,136.97 L173.89,136.97 L174.13,136.97 L174.36,136.97 L174.60,136.97 L174.84,136.97 L175.08,136.97 L175.32,136.97 L175.55,136.97 L175.79,136.97 L176.03,136.97 L176.27,136.97 L176.50,136.97 L176.74,136.97 L176.98,136.97 L177.22,136.97 L177.45,136.97 L177.69,136.97 L177.93,136.97 L178.17,136.97 L178.41,136.97 L178.64,136.97 L178.88,136.97 L179.12,136.97 L179.36,136.97 L179.59,136.97 L179.83,136.97 L180.07,136.97 L180.31,136.97 L180.55,136.97 L180.78,136.97 L181.02,136.97 L181.26,136.97 L181.50,136.97 L181.73,136.97 L181.97,136.97 L182.21,136.97 L182.45,136.97 L182.68,136.97 L182.92,136.97 L183.16,136.97 L183.40,136.97 L183.64,136.97 L183.87,136.97 L184.11,136.97 L184.35,136.97 L184.59,136.97 L184.82,136.97 L185.06,136.97 L185.30,136.97 L185.54,136.97 L185.77,136.97 L186.01,136.97 L186.25,136.97 L186.49,136.97 L186.73,136.97 L186.96,136.97 L187.20,136.97 L187.44,136.97 L187.68,136.97 L187.91,136.97 L188.15,136.97 L188.39,136.97 L188.63,136.97 L188.86,136.97 L189.10,136.97 L189.34,136.97 L189.58,136.97 L189.82,136.97 L190.05,136.97 L190.29,136.97 L190.53,136.97 L190.77,136.97 L191.00,136.97 L191.24,136.97 L191.48,136.97 L191.72,136.97 L191.95,136.97 L192.19,136.97 L192.43,136.97 L192.67,136.97 L192.91,136.97 L193.14,136.97 L193.38,136.97 L193.62,136.97 L193.86,136.97 L194.09,136.97 L194.33,136.97 L194.57,136.97 L194.81,136.97 L195.04,136.97 L195.28,136.97 L195.52,136.97 L195.76,136.97 L196.00,136.97 L196.23,136.97 L196.47,136.97 L196.71,136.97 L196.95,136.97 L197.18,136.97 L197.42,136.97 L197.66,136.97 L197.90,136.97 L198.13,136.97 L198.37,136.97 L198.61,136.97 L198.85,136.97 L199.09,136.97 L199.32,136.97 L199.56,136.97 L199.80,136.97 L200.04,136.97 L200.27,136.97 L200.51,136.97 L200.75,136.97 L200.99,136.97 L201.22,136.97 L201.46,136.97 L201.70,136.97 L201.94,136.97 L202.18,136.97 L202.41,136.97 L202.65,136.97 L202.89,136.97 L203.13,136.97 L203.36,136.97 L203.60,136.97 L203.84,136.97 L204.08,136.97 L204.31,136.97 L204.55,136.97 L204.79,136.97 L205.03,136.97 L205.27,136.97 L205.50,136.97 L205.74,136.97 L205.98,136.97 L206.22,136.97 L206.45,136.97 L206.69,136.97 L206.93,136.97 L207.17,136.97 L207.40,136.97 L207.64,136.97 L207.88,136.97 L208.12,136.97 L208.36,136.97 L208.59,136.97 L208.83,136.97 L209.07,136.97 L209.31,136.97 L209.54,136.97 L209.78,136.97 L210.02,136.97 L210.26,136.97 L210.49,136.97 L210.73,136.97 L210.97,136.97 L211.21,136.97 L211.45,136.97 L211.68,136.97 L211.92,136.97 L212.16,136.97 L212.40,136.97 L212.63,136.97 L212.87,136.97 L213.11,136.97 L213.35,136.97 L213.59,136.97 L213.82,136.97 L214.06,136.97 L214.30,136.97 L214.54,136.97 L214.77,136.97 L215.01,136.97 L215.25,136.97 L215.49,136.97 L215.72,136.97 L215.96,136.97 L216.20,136.97 L216.44,136.97 L216.68,136.97 L216.91,136.97 L217.15,136.97 L217.39,136.97 L217.63,136.97 L217.86,136.97 L218.10,136.97 L218.34,136.97 L218.58,136.97 L218.81,136.97 L219.05,136.97 L219.29,136.97 L219.53,136.97 L219.77,136.97 L220.00,136.97 L220.24,136.97 L220.48,136.97 L220.72,136.97 L220.95,136.97 L221.19,136.97 L221.43,136.97 L221.67,136.97 L221.90,136.97 L222.14,136.97 L222.38,136.97 L222.62,136.97 L222.86,136.97 L223.09,136.97 L223.33,136.97 L223.57,136.97 L223.81,136.97 L224.04,136.97 L224.28,136.97 L224.52,136.97 L224.76,136.97 L224.99,136.97 L225.23,136.97 L225.47,136.97 L225.71,136.97 L225.95,136.97 L226.18,136.97 L226.42,136.97 L226.66,136.97 L226.90,136.97 L227.13,136.97 L227.37,136.97 L227.61,136.97 L227.85,136.97 L228.08,136.97 L228.32,136.97 L228.56,136.97 L228.80,136.97 L229.04,136.97 L229.27,136.97 L229.51,136.97 L229.75,136.97 L229.99,136.97 L230.22,136.97 L230.46,136.97 L230.70,136.97 L230.94,136.97 L231.17,136.97 L231.41,136.97 L231.65,136.97 L231.89,136.97 L232.13,136.97 L232.36,136.97 L232.60,136.97 L232.84,136.97 L233.08,136.97 L233.31,136.97 L233.55,136.97 L233.79,136.97 L234.03,136.97 L234.26,136.97 L234.50,136.97 L234.74,136.97 L234.98,136.97 L235.22,136.97 L235.45,136.97 L235.69,136.97 L235.93,136.97 L236.17,136.97 L236.40,136.97 L236.64,136.97 L236.88,136.97 L237.12,136.97 L237.35,136.97 L237.59,136.97 L237.83,136.97 L238.07,136.97 L238.31,136.97 L238.54,136.97 L238.78,136.97 L239.02,136.97 L239.26,136.97 L239.49,136.97 L239.73,136.97 L239.97,136.97 L240.21,136.97 L240.44,136.97 L240.68,136.97 L240.92,136.97 L241.16,136.97 L241.40,136.97 L241.63,136.97 L241.87,136.97 L242.11,136.97 L242.35,136.97 L242.58,136.97 L242.82,136.97 L243.06,136.97 L243.30,136.97 L243.54,136.97 L243.77,136.97 L244.01,136.97 L244.25,136.97 L244.49,136.97 L244.72,136.97 L244.96,136.97 L245.20,136.97 L245.44,136.97 L245.67,136.97 L245.91,136.97 L246.15,136.97 L246.39,136.97 L246.63,136.97 L246.86,136.97 L247.10,136.97 L247.34,136.97 L247.58,136.97 L247.81,136.97 L248.05,136.97 L248.29,136.97 L248.53,136.97 L248.76,136.97 L249.00,136.97 L249.24,136.97 L249.48,136.97 L249.72,136.97 L249.95,136.97 L250.19,136.97 L250.43,136.97 L250.67,136.97 L250.90,136.97 L251.14,136.97 L251.38,136.97 L251.62,136.97 L251.85,136.97 L252.09,136.97 L252.33,136.97 L252.57,136.97 L252.81,136.97 L253.04,136.97 L253.28,136.97 L253.52,136.97 L253.76,136.97 L253.99,136.97 L254.23,136.97 L254.47,136.97 L254.71,136.97 L254.94,136.97 L255.18,136.97 L255.42,136.97 L255.66,136.97 L255.90,136.97 L256.13,136.97 L256.37,136.97 L256.61,136.97 L256.85,136.97 L257.08,136.97 L257.32,136.97 L257.56,136.97 L257.80,136.97 L258.03,136.97 L258.27,136.97 L258.51,136.97 L258.75,136.97 L258.99,136.97 L259.22,136.97 L259.46,136.97 L259.70,136.97 L259.94,136.97 L260.17,136.97 L260.41,136.97 L260.65,136.97 L260.89,136.97 L261.12,136.97 L261.36,136.97 L261.60,136.97 L261.84,136.97 L262.08,136.97 L262.31,136.97 L262.55,136.97 L262.79,136.97 L263.03,136.97 L263.26,136.97 L263.50,136.97 L263.74,136.97 L263.98,136.97 L264.21,136.97 L264.45,136.97 L264.69,136.97 L264.93,136.97 L265.17,136.97 L265.40,136.97 L265.64,136.97 L265.88,136.97 L266.12,136.97 L266.35,136.97 L266.59,136.97 L266.83,136.97 L267.07,136.97 L267.30,136.97 L267.54,136.97 L267.78,136.97 L268.02,136.97 L268.26,136.97 L268.49,136.97 L268.73,136.97 L268.97,136.97 L269.21,136.97 L269.44,136.97 L269.68,136.97 L269.92,136.97 L270.16,136.97 L270.39,136.97 L270.63,136.97 L270.87,136.97 L271.11,136.97 L271.35,136.97 L271.58,136.97 L271.82,136.97 L272.06,136.97 L272.30,136.97 L272.53,136.97 L272.77,136.97 L273.01,136.97 L273.25,136.97 L273.48,136.97 L273.72,136.97 L273.96,136.97 L274.20,136.97 L274.44,136.97 L274.67,136.97 L274.91,136.97 L275.15,136.97 L275.39,136.97 L275.62,136.97 L275.86,136.97 L276.10,136.97 L276.34,136.97 L276.58,136.97 L276.81,136.97 L277.05,136.97 L277.29,136.97 L277.53,136.97 L277.76,136.97 L278.00,136.97 L278.24,136.97 L278.48,136.97 L278.71,136.97 L278.95,136.97 L279.19,136.97 L279.43,136.97 L279.67,136.97 L279.90,136.97 L280.14,136.97 L280.38,136.97 L280.62,136.97 L280.85,136.97 L281.09,136.97 L281.33,136.97 L281.57,136.97 L281.80,136.97 L282.04,136.97 L282.28,136.97 L282.52,136.97 L282.76,136.97 L282.99,136.97 L283.23,136.97 L283.47,136.97 L283.71,136.97 L283.94,136.97 L284.18,136.97 L284.42,136.97 L284.66,136.97 L284.89,136.97 L285.13,136.97 L285.37,136.97 L285.61,136.97 L285.85,136.97 L286.08,136.97 L286.32,136.97 L286.56,136.97 L286.80,136.97 L287.03,136.97 L287.27,136.97 L287.51,136.97 L287.75,136.97 L287.98,136.97 L288.22,136.97 L288.46,136.97 L288.70,136.97 L288.94,136.97 L289.17,136.97 L289.41,136.97 L289.65,136.97 L289.89,136.97 L290.12,136.97 L290.36,136.97 L290.60,136.97 L290.84,136.97 L291.07,136.97 L291.31,136.97 L291.55,136.97 L291.79,136.97 L292.03,136.97 L292.26,136.97 L292.50,136.97 L292.74,136.97 L292.98,136.97 L293.21,136.97 L293.45,136.97 L293.69,136.97 L293.93,136.97 L294.16,136.97 L294.40,136.97 L294.64,136.97 L294.88,136.97 L295.12,136.97 L295.35,136.97 L295.59,136.97 L295.83,136.97 L296.07,136.97 L296.30,136.97 L296.54,136.97 L296.78,136.97 L297.02,136.97 L297.25,136.97 L297.49,136.97 L297.73,136.97 L297.97,136.97 L298.21,136.97 L298.44,136.97 L298.68,136.97 L298.92,136.97 L299.16,136.97 L299.39,136.97 L299.63,136.97 L299.87,136.97 L300.11,136.97 L300.34,136.97 L300.58,136.97 L300.82,136.97 L301.06,136.97 L301.30,136.97 L301.53,136.97 L301.77,136.97 L302.01,136.97 L302.25,136.97 L302.48,136.97 L302.72,136.97 L302.96,136.97 L303.20,136.97 L303.43,136.97 L303.67,136.97 L303.91,136.97 L304.15,136.97 L304.39,136.97 L304.62,136.97 L304.86,136.97 L305.10,136.97 L305.34,136.97 L305.57,136.97 L305.81,136.97 L306.05,136.97 L306.29,136.97 L306.53,136.97 L306.76,136.97 L307.00,136.97 L307.24,136.97 L307.48,136.97 L307.71,136.97 L307.95,136.97 L308.19,136.97 L308.43,136.97 L308.66,136.97 L308.90,136.97 L309.14,136.97 L309.38,136.97 L309.62,136.97 L309.85,136.97 L310.09,136.97 L310.33,136.97 L310.57,136.97 L310.80,136.97 L311.04,136.97 L311.28,136.97 L311.52,136.97 L311.75,136.97 L311.99,136.97 L312.23,136.97 L312.47,136.97 L312.71,136.97 L312.94,136.97 L313.18,136.97 L313.42,136.97 L313.66,136.97 L313.89,136.97 L314.13,136.97 L314.37,136.97 L314.61,136.97 L314.84,136.97 L315.08,136.97 L315.32,136.97 L315.56,136.97 L315.80,136.97 L316.03,136.97 L316.27,136.97 L316.51,136.97 L316.75,136.97 L316.98,136.97 L317.22,136.97 L317.46,136.97 L317.70,136.97 L317.93,136.97 L318.17,136.97 L318.41,136.97 L318.65,136.97 L318.89,136.97 L319.12,136.97 L319.36,136.97 L319.60,136.97 L319.84,136.97 L320.07,136.97 L320.31,136.97 L320.55,136.97 L320.79,136.97 L321.02,136.97 L321.26,136.97 L321.50,136.97" stroke="#8c564b" stroke-opacity="0.66" stroke-width="1.35" stroke-dasharray="4.8 2.05" fill="none"/>
<path d="M42.40,115.39V112.84M40.70,114.09H44.10M44.30,116.20V113.59M42.60,114.88H46.00M46.70,114.17V111.69M45.00,112.91H48.40M49.20,115.81V113.22M47.50,114.49H50.90M51.40,114.39V111.88M49.70,113.11H53.10M53.90,112.52V110.13M52.20,111.30H55.60M56.30,113.97V111.48M54.60,112.70H58.00M58.60,112.41V110.01M56.90,111.19H60.30M61.10,113.89V111.40M59.40,112.62H62.80M63.50,115.04V112.46M61.80,113.73H65.20M65.80,113.42V110.94M64.10,112.16H67.50M68.40,114.40V111.85M66.70,113.10H70.10M70.70,114.17V111.63M69.00,112.88H72.40M73.10,112.79V110.33M71.40,111.54H74.80M75.40,112.81V110.35M73.70,111.56H77.10M77.70,113.13V110.64M76.00,111.86H79.40M80.10,112.02V109.59M78.40,110.78H81.80M82.70,114.02V111.46M81.00,112.72H84.40M85.20,113.05V110.55M83.50,111.78H86.90M87.40,112.19V109.73M85.70,110.94H89.10M89.90,112.59V110.10M88.20,111.32H91.60M92.30,114.12V111.52M90.60,112.80H94.00M94.60,113.42V110.86M92.90,112.12H96.30M97.10,111.12V108.70M95.40,109.89H98.80M99.30,112.16V109.66M97.60,110.89H101.00M101.80,111.43V108.97M100.10,110.18H103.50M104.20,110.69V108.27M102.50,109.46H105.90M106.70,110.04V107.65M105.00,108.83H108.40M109.00,109.21V106.86M107.30,108.02H110.70M111.40,110.53V108.09M109.70,109.29H113.10M113.80,109.49V107.11M112.10,108.28H115.50M116.20,110.36V107.90M114.50,109.11H117.90M118.50,108.51V106.16M116.80,107.32H120.20M120.90,106.68V104.43M119.20,105.54H122.60M123.30,107.78V105.45M121.60,106.59H125.00M125.70,108.33V105.95M124.00,107.12H127.40M128.10,106.62V104.34M126.40,105.46H129.80M130.50,105.62V103.38M128.80,104.48H132.20M132.90,106.05V103.77M131.20,104.89H134.60M135.20,105.45V103.19M133.50,104.30H136.90M137.60,103.95V101.77M135.90,102.84H139.30M140.10,103.87V101.67M138.40,102.75H141.80M142.50,103.01V100.84M140.80,101.91H144.20M144.90,102.86V100.68M143.20,101.75H146.60M147.10,102.10V99.95M145.40,101.01H148.80M149.50,100.25V98.18M147.80,99.20H151.20M152.00,99.60V97.54M150.30,98.56H153.70M154.40,99.49V97.42M152.70,98.44H156.10M156.80,98.31V96.28M155.10,97.28H158.50M159.30,97.49V95.48M157.60,96.47H161.00M161.70,97.25V95.22M160.00,96.22H163.40M164.00,94.20V92.31M162.30,93.24H165.70M166.50,95.15V93.18M164.80,94.15H168.20M168.80,93.12V91.23M167.10,92.16H170.50M171.20,90.87V89.06M169.50,89.95H172.90M173.60,92.47V90.55M171.90,91.50H175.30M176.00,89.98V88.15M174.30,89.05H177.70M178.50,87.88V86.12M176.80,86.99H180.20M180.90,87.79V86.00M179.20,86.89H182.60M183.10,84.73V83.05M181.40,83.88H184.80M185.50,83.85V82.17M183.80,83.00H187.20M187.90,82.85V81.18M186.20,82.00H189.60M190.30,80.38V78.78M188.60,79.57H192.00M192.60,80.10V78.47M190.90,79.28H194.30M195.10,77.39V75.84M193.40,76.60H196.80M197.40,76.91V75.34M195.70,76.12H199.10M199.80,74.28V72.77M198.10,73.52H201.50M202.30,71.79V70.34M200.60,71.06H204.00M204.60,71.94V70.45M202.90,71.19H206.30M207.00,69.02V67.60M205.30,68.30H208.70M209.50,65.61V64.27M207.80,64.94H211.20M211.70,64.55V63.20M210.00,63.87H213.40M214.10,61.81V60.52M212.40,61.16H215.80M216.50,58.99V57.75M214.80,58.36H218.20M219.00,55.56V54.38M217.30,54.97H220.70M221.50,52.89V51.74M219.80,52.31H223.20M223.60,47.91V46.87M221.90,47.38H225.30M226.20,44.09V43.10M224.50,43.59H227.90M228.50,39.82V38.88M226.80,39.35H230.20M230.80,34.78V33.92M229.10,34.35H232.50M233.30,31.39V30.55M231.60,30.96H235.00M235.60,27.30V26.50M233.90,26.90H237.30M238.20,22.61V21.85M236.50,22.23H239.90M240.60,18.94V18.21M238.90,18.57H242.30M242.80,14.44V13.76M241.10,14.10H244.50M245.40,12.02V11.35M243.70,11.69H247.10M247.70,8.50V7.87M246.00,8.19H249.40M250.10,8.41V7.77M248.40,8.09H251.80M252.60,7.19V6.57M250.90,6.88H254.30M255.00,7.41V6.77M253.30,7.09H256.70M257.20,6.35V5.75M255.50,6.05H258.90M259.70,10.52V9.87M258.00,10.19H261.40M262.20,12.53V11.88M260.50,12.20H263.90M264.60,16.93V16.24M262.90,16.58H266.30M267.10,23.45V22.70M265.40,23.08H268.80M269.40,32.63V31.76M267.70,32.19H271.10M271.80,40.95V39.99M270.10,40.47H273.50M274.10,49.83V48.75M272.40,49.29H275.80M276.60,62.30V61.01M274.90,61.65H278.30M278.90,72.81V71.33M277.20,72.06H280.60M281.30,84.85V83.11M279.60,83.97H283.00M283.60,94.96V93.00M281.90,93.97H285.30M286.00,106.65V104.35M284.30,105.48H287.70M288.50,116.67V114.04M286.80,115.33H290.20M290.90,123.14V120.34M289.20,121.71H292.60M293.10,129.64V126.54M291.40,128.06H294.80M295.50,134.13V130.83M293.80,132.44H297.20M297.90,136.58V133.17M296.20,134.84H299.60M300.40,136.77V133.41M298.70,135.05H302.10M302.80,137.04V133.69M301.10,135.33H304.50M305.30,137.22V133.87M303.60,135.51H307.00M307.70,138.82V135.34M306.00,137.04H309.40M310.10,137.48V134.12M308.40,135.76H311.80M312.50,139.01V135.51M310.80,137.22H314.20M314.80,137.90V134.50M313.10,136.16H316.50" stroke="#1f77b4" stroke-width="1.65" fill="none"/>
<path d="M36.50,114.79 L36.74,114.78 L36.98,114.76 L37.21,114.75 L37.45,114.73 L37.69,114.72 L37.93,114.70 L38.16,114.68 L38.40,114.67 L38.64,114.65 L38.88,114.64 L39.11,114.62 L39.35,114.61 L39.59,114.59 L39.83,114.57 L40.07,114.56 L40.30,114.54 L40.54,114.53 L40.78,114.51 L41.02,114.50 L41.25,114.48 L41.49,114.46 L41.73,114.45 L41.97,114.43 L42.20,114.42 L42.44,114.40 L42.68,114.38 L42.92,114.37 L43.16,114.35 L43.39,114.34 L43.63,114.32 L43.87,114.30 L44.11,114.29 L44.34,114.27 L44.58,114.26 L44.82,114.24 L45.06,114.22 L45.29,114.21 L45.53,114.19 L45.77,114.17 L46.01,114.16 L46.25,114.14 L46.48,114.13 L46.72,114.11 L46.96,114.09 L47.20,114.08 L47.43,114.06 L47.67,114.04 L47.91,114.03 L48.15,114.01 L48.38,113.99 L48.62,113.98 L48.86,113.96 L49.10,113.95 L49.34,113.93 L49.57,113.91 L49.81,113.90 L50.05,113.88 L50.29,113.86 L50.52,113.85 L50.76,113.83 L51.00,113.81 L51.24,113.80 L51.47,113.78 L51.71,113.76 L51.95,113.75 L52.19,113.73 L52.43,113.71 L52.66,113.69 L52.90,113.68 L53.14,113.66 L53.38,113.64 L53.61,113.63 L53.85,113.61 L54.09,113.59 L54.33,113.58 L54.57,113.56 L54.80,113.54 L55.04,113.52 L55.28,113.51 L55.52,113.49 L55.75,113.47 L55.99,113.46 L56.23,113.44 L56.47,113.42 L56.70,113.40 L56.94,113.39 L57.18,113.37 L57.42,113.35 L57.66,113.33 L57.89,113.32 L58.13,113.30 L58.37,113.28 L58.61,113.26 L58.84,113.25 L59.08,113.23 L59.32,113.21 L59.56,113.19 L59.79,113.18 L60.03,113.16 L60.27,113.14 L60.51,113.12 L60.75,113.11 L60.98,113.09 L61.22,113.07 L61.46,113.05 L61.70,113.03 L61.93,113.02 L62.17,113.00 L62.41,112.98 L62.65,112.96 L62.88,112.94 L63.12,112.93 L63.36,112.91 L63.60,112.89 L63.84,112.87 L64.07,112.85 L64.31,112.84 L64.55,112.82 L64.79,112.80 L65.02,112.78 L65.26,112.76 L65.50,112.74 L65.74,112.73 L65.97,112.71 L66.21,112.69 L66.45,112.67 L66.69,112.65 L66.93,112.63 L67.16,112.61 L67.40,112.60 L67.64,112.58 L67.88,112.56 L68.11,112.54 L68.35,112.52 L68.59,112.50 L68.83,112.48 L69.06,112.46 L69.30,112.45 L69.54,112.43 L69.78,112.41 L70.02,112.39 L70.25,112.37 L70.49,112.35 L70.73,112.33 L70.97,112.31 L71.20,112.29 L71.44,112.27 L71.68,112.25 L71.92,112.23 L72.15,112.21 L72.39,112.19 L72.63,112.18 L72.87,112.16 L73.11,112.14 L73.34,112.12 L73.58,112.10 L73.82,112.08 L74.06,112.06 L74.29,112.04 L74.53,112.02 L74.77,112.00 L75.01,111.98 L75.24,111.96 L75.48,111.94 L75.72,111.92 L75.96,111.90 L76.20,111.88 L76.43,111.86 L76.67,111.84 L76.91,111.82 L77.15,111.80 L77.38,111.78 L77.62,111.76 L77.86,111.74 L78.10,111.71 L78.33,111.69 L78.57,111.67 L78.81,111.65 L79.05,111.63 L79.29,111.61 L79.52,111.59 L79.76,111.57 L80.00,111.55 L80.24,111.53 L80.47,111.51 L80.71,111.49 L80.95,111.46 L81.19,111.44 L81.42,111.42 L81.66,111.40 L81.90,111.38 L82.14,111.36 L82.38,111.34 L82.61,111.31 L82.85,111.29 L83.09,111.27 L83.33,111.25 L83.56,111.23 L83.80,111.21 L84.04,111.18 L84.28,111.16 L84.52,111.14 L84.75,111.12 L84.99,111.10 L85.23,111.07 L85.47,111.05 L85.70,111.03 L85.94,111.01 L86.18,110.98 L86.42,110.96 L86.65,110.94 L86.89,110.92 L87.13,110.89 L87.37,110.87 L87.61,110.85 L87.84,110.83 L88.08,110.80 L88.32,110.78 L88.56,110.76 L88.79,110.73 L89.03,110.71 L89.27,110.69 L89.51,110.66 L89.74,110.64 L89.98,110.62 L90.22,110.59 L90.46,110.57 L90.70,110.55 L90.93,110.52 L91.17,110.50 L91.41,110.48 L91.65,110.45 L91.88,110.43 L92.12,110.40 L92.36,110.38 L92.60,110.35 L92.83,110.33 L93.07,110.31 L93.31,110.28 L93.55,110.26 L93.79,110.23 L94.02,110.21 L94.26,110.18 L94.50,110.16 L94.74,110.13 L94.97,110.11 L95.21,110.08 L95.45,110.06 L95.69,110.03 L95.92,110.01 L96.16,109.98 L96.40,109.96 L96.64,109.93 L96.88,109.90 L97.11,109.88 L97.35,109.85 L97.59,109.83 L97.83,109.80 L98.06,109.78 L98.30,109.75 L98.54,109.72 L98.78,109.70 L99.01,109.67 L99.25,109.64 L99.49,109.62 L99.73,109.59 L99.97,109.56 L100.20,109.54 L100.44,109.51 L100.68,109.48 L100.92,109.45 L101.15,109.43 L101.39,109.40 L101.63,109.37 L101.87,109.34 L102.10,109.32 L102.34,109.29 L102.58,109.26 L102.82,109.23 L103.06,109.20 L103.29,109.18 L103.53,109.15 L103.77,109.12 L104.01,109.09 L104.24,109.06 L104.48,109.03 L104.72,109.00 L104.96,108.98 L105.19,108.95 L105.43,108.92 L105.67,108.89 L105.91,108.86 L106.15,108.83 L106.38,108.80 L106.62,108.77 L106.86,108.74 L107.10,108.71 L107.33,108.68 L107.57,108.65 L107.81,108.62 L108.05,108.59 L108.28,108.56 L108.52,108.53 L108.76,108.50 L109.00,108.46 L109.24,108.43 L109.47,108.40 L109.71,108.37 L109.95,108.34 L110.19,108.31 L110.42,108.28 L110.66,108.24 L110.90,108.21 L111.14,108.18 L111.37,108.15 L111.61,108.11 L111.85,108.08 L112.09,108.05 L112.33,108.02 L112.56,107.98 L112.80,107.95 L113.04,107.92 L113.28,107.88 L113.51,107.85 L113.75,107.82 L113.99,107.78 L114.23,107.75 L114.46,107.71 L114.70,107.68 L114.94,107.65 L115.18,107.61 L115.42,107.58 L115.65,107.54 L115.89,107.51 L116.13,107.47 L116.37,107.44 L116.60,107.40 L116.84,107.36 L117.08,107.33 L117.32,107.29 L117.56,107.26 L117.79,107.22 L118.03,107.18 L118.27,107.15 L118.51,107.11 L118.74,107.07 L118.98,107.04 L119.22,107.00 L119.46,106.96 L119.69,106.92 L119.93,106.89 L120.17,106.85 L120.41,106.81 L120.65,106.77 L120.88,106.73 L121.12,106.69 L121.36,106.65 L121.60,106.62 L121.83,106.58 L122.07,106.54 L122.31,106.50 L122.55,106.46 L122.78,106.42 L123.02,106.38 L123.26,106.34 L123.50,106.30 L123.74,106.26 L123.97,106.21 L124.21,106.17 L124.45,106.13 L124.69,106.09 L124.92,106.05 L125.16,106.01 L125.40,105.96 L125.64,105.92 L125.87,105.88 L126.11,105.84 L126.35,105.79 L126.59,105.75 L126.83,105.71 L127.06,105.66 L127.30,105.62 L127.54,105.57 L127.78,105.53 L128.01,105.49 L128.25,105.44 L128.49,105.40 L128.73,105.35 L128.96,105.31 L129.20,105.26 L129.44,105.21 L129.68,105.17 L129.92,105.12 L130.15,105.07 L130.39,105.03 L130.63,104.98 L130.87,104.93 L131.10,104.89 L131.34,104.84 L131.58,104.79 L131.82,104.74 L132.05,104.69 L132.29,104.64 L132.53,104.60 L132.77,104.55 L133.01,104.50 L133.24,104.45 L133.48,104.40 L133.72,104.35 L133.96,104.30 L134.19,104.24 L134.43,104.19 L134.67,104.14 L134.91,104.09 L135.14,104.04 L135.38,103.99 L135.62,103.93 L135.86,103.88 L136.10,103.83 L136.33,103.78 L136.57,103.72 L136.81,103.67 L137.05,103.61 L137.28,103.56 L137.52,103.50 L137.76,103.45 L138.00,103.39 L138.23,103.34 L138.47,103.28 L138.71,103.23 L138.95,103.17 L139.19,103.11 L139.42,103.06 L139.66,103.00 L139.90,102.94 L140.14,102.88 L140.37,102.82 L140.61,102.77 L140.85,102.71 L141.09,102.65 L141.32,102.59 L141.56,102.53 L141.80,102.47 L142.04,102.41 L142.28,102.35 L142.51,102.29 L142.75,102.22 L142.99,102.16 L143.23,102.10 L143.46,102.04 L143.70,101.98 L143.94,101.91 L144.18,101.85 L144.41,101.78 L144.65,101.72 L144.89,101.66 L145.13,101.59 L145.37,101.53 L145.60,101.46 L145.84,101.39 L146.08,101.33 L146.32,101.26 L146.55,101.19 L146.79,101.13 L147.03,101.06 L147.27,100.99 L147.51,100.92 L147.74,100.85 L147.98,100.78 L148.22,100.71 L148.46,100.64 L148.69,100.57 L148.93,100.50 L149.17,100.43 L149.41,100.36 L149.64,100.29 L149.88,100.22 L150.12,100.14 L150.36,100.07 L150.60,100.00 L150.83,99.92 L151.07,99.85 L151.31,99.77 L151.55,99.70 L151.78,99.62 L152.02,99.55 L152.26,99.47 L152.50,99.39 L152.73,99.32 L152.97,99.24 L153.21,99.16 L153.45,99.08 L153.69,99.00 L153.92,98.92 L154.16,98.84 L154.40,98.76 L154.64,98.68 L154.87,98.60 L155.11,98.52 L155.35,98.44 L155.59,98.36 L155.82,98.27 L156.06,98.19 L156.30,98.11 L156.54,98.02 L156.78,97.94 L157.01,97.85 L157.25,97.77 L157.49,97.68 L157.73,97.60 L157.96,97.51 L158.20,97.42 L158.44,97.33 L158.68,97.24 L158.91,97.16 L159.15,97.07 L159.39,96.98 L159.63,96.89 L159.87,96.80 L160.10,96.70 L160.34,96.61 L160.58,96.52 L160.82,96.43 L161.05,96.33 L161.29,96.24 L161.53,96.15 L161.77,96.05 L162.00,95.96 L162.24,95.86 L162.48,95.76 L162.72,95.67 L162.96,95.57 L163.19,95.47 L163.43,95.37 L163.67,95.28 L163.91,95.18 L164.14,95.08 L164.38,94.98 L164.62,94.87 L164.86,94.77 L165.09,94.67 L165.33,94.57 L165.57,94.47 L165.81,94.36 L166.05,94.26 L166.28,94.15 L166.52,94.05 L166.76,93.94 L167.00,93.84 L167.23,93.73 L167.47,93.62 L167.71,93.51 L167.95,93.41 L168.18,93.30 L168.42,93.19 L168.66,93.08 L168.90,92.97 L169.14,92.85 L169.37,92.74 L169.61,92.63 L169.85,92.52 L170.09,92.40 L170.32,92.29 L170.56,92.17 L170.80,92.06 L171.04,91.94 L171.27,91.83 L171.51,91.71 L171.75,91.59 L171.99,91.47 L172.23,91.35 L172.46,91.23 L172.70,91.11 L172.94,90.99 L173.18,90.87 L173.41,90.75 L173.65,90.63 L173.89,90.50 L174.13,90.38 L174.36,90.26 L174.60,90.13 L174.84,90.01 L175.08,89.88 L175.32,89.75 L175.55,89.63 L175.79,89.50 L176.03,89.37 L176.27,89.24 L176.50,89.11 L176.74,88.98 L176.98,88.85 L177.22,88.72 L177.45,88.58 L177.69,88.45 L177.93,88.32 L178.17,88.18 L178.41,88.05 L178.64,87.91 L178.88,87.78 L179.12,87.64 L179.36,87.50 L179.59,87.36 L179.83,87.22 L180.07,87.09 L180.31,86.95 L180.55,86.80 L180.78,86.66 L181.02,86.52 L181.26,86.38 L181.50,86.23 L181.73,86.09 L181.97,85.95 L182.21,85.80 L182.45,85.66 L182.68,85.51 L182.92,85.36 L183.16,85.21 L183.40,85.06 L183.64,84.92 L183.87,84.77 L184.11,84.61 L184.35,84.46 L184.59,84.31 L184.82,84.16 L185.06,84.01 L185.30,83.85 L185.54,83.70 L185.77,83.54 L186.01,83.39 L186.25,83.23 L186.49,83.07 L186.73,82.91 L186.96,82.76 L187.20,82.60 L187.44,82.44 L187.68,82.28 L187.91,82.11 L188.15,81.95 L188.39,81.79 L188.63,81.63 L188.86,81.46 L189.10,81.30 L189.34,81.13 L189.58,80.97 L189.82,80.80 L190.05,80.63 L190.29,80.46 L190.53,80.29 L190.77,80.12 L191.00,79.95 L191.24,79.78 L191.48,79.61 L191.72,79.44 L191.95,79.27 L192.19,79.09 L192.43,78.92 L192.67,78.74 L192.91,78.57 L193.14,78.39 L193.38,78.21 L193.62,78.04 L193.86,77.86 L194.09,77.68 L194.33,77.50 L194.57,77.32 L194.81,77.14 L195.04,76.96 L195.28,76.77 L195.52,76.59 L195.76,76.41 L196.00,76.22 L196.23,76.04 L196.47,75.85 L196.71,75.66 L196.95,75.47 L197.18,75.29 L197.42,75.10 L197.66,74.91 L197.90,74.72 L198.13,74.53 L198.37,74.34 L198.61,74.14 L198.85,73.95 L199.09,73.76 L199.32,73.56 L199.56,73.37 L199.80,73.17 L200.04,72.97 L200.27,72.78 L200.51,72.58 L200.75,72.38 L200.99,72.18 L201.22,71.98 L201.46,71.78 L201.70,71.58 L201.94,71.38 L202.18,71.17 L202.41,70.97 L202.65,70.77 L202.89,70.56 L203.13,70.36 L203.36,70.15 L203.60,69.94 L203.84,69.73 L204.08,69.52 L204.31,69.32 L204.55,69.10 L204.79,68.89 L205.03,68.68 L205.27,68.47 L205.50,68.26 L205.74,68.04 L205.98,67.83 L206.22,67.61 L206.45,67.40 L206.69,67.18 L206.93,66.96 L207.17,66.74 L207.40,66.52 L207.64,66.30 L207.88,66.08 L208.12,65.86 L208.36,65.63 L208.59,65.41 L208.83,65.19 L209.07,64.96 L209.31,64.73 L209.54,64.51 L209.78,64.28 L210.02,64.05 L210.26,63.82 L210.49,63.59 L210.73,63.35 L210.97,63.12 L211.21,62.89 L211.45,62.65 L211.68,62.41 L211.92,62.18 L212.16,61.94 L212.40,61.70 L212.63,61.45 L212.87,61.21 L213.11,60.97 L213.35,60.72 L213.59,60.48 L213.82,60.23 L214.06,59.98 L214.30,59.73 L214.54,59.48 L214.77,59.22 L215.01,58.97 L215.25,58.71 L215.49,58.45 L215.72,58.19 L215.96,57.93 L216.20,57.67 L216.44,57.41 L216.68,57.14 L216.91,56.87 L217.15,56.60 L217.39,56.33 L217.63,56.06 L217.86,55.78 L218.10,55.50 L218.34,55.22 L218.58,54.94 L218.81,54.65 L219.05,54.37 L219.29,54.08 L219.53,53.79 L219.77,53.49 L220.00,53.20 L220.24,52.90 L220.48,52.60 L220.72,52.30 L220.95,51.99 L221.19,51.68 L221.43,51.37 L221.67,51.05 L221.90,50.74 L222.14,50.42 L222.38,50.09 L222.62,49.77 L222.86,49.44 L223.09,49.11 L223.33,48.77 L223.57,48.43 L223.81,48.09 L224.04,47.75 L224.28,47.40 L224.52,47.05 L224.76,46.70 L224.99,46.34 L225.23,45.98 L225.47,45.62 L225.71,45.25 L225.95,44.88 L226.18,44.51 L226.42,44.13 L226.66,43.75 L226.90,43.36 L227.13,42.98 L227.37,42.59 L227.61,42.19 L227.85,41.80 L228.08,41.40 L228.32,40.99 L228.56,40.59 L228.80,40.18 L229.04,39.77 L229.27,39.35 L229.51,38.93 L229.75,38.51 L229.99,38.09 L230.22,37.66 L230.46,37.23 L230.70,36.80 L230.94,36.37 L231.17,35.93 L231.41,35.49 L231.65,35.05 L231.89,34.60 L232.13,34.16 L232.36,33.71 L232.60,33.26 L232.84,32.81 L233.08,32.36 L233.31,31.91 L233.55,31.45 L233.79,30.99 L234.03,30.54 L234.26,30.08 L234.50,29.62 L234.74,29.16 L234.98,28.70 L235.22,28.24 L235.45,27.78 L235.69,27.32 L235.93,26.86 L236.17,26.41 L236.40,25.95 L236.64,25.49 L236.88,25.03 L237.12,24.58 L237.35,24.12 L237.59,23.67 L237.83,23.22 L238.07,22.77 L238.31,22.33 L238.54,21.88 L238.78,21.44 L239.02,21.00 L239.26,20.56 L239.49,20.13 L239.73,19.70 L239.97,19.27 L240.21,18.85 L240.44,18.43 L240.68,18.01 L240.92,17.60 L241.16,17.19 L241.40,16.79 L241.63,16.39 L241.87,16.00 L242.11,15.61 L242.35,15.22 L242.58,14.84 L242.82,14.47 L243.06,14.10 L243.30,13.74 L243.54,13.38 L243.77,13.03 L244.01,12.69 L244.25,12.35 L244.49,12.02 L244.72,11.70 L244.96,11.38 L245.20,11.07 L245.44,10.76 L245.67,10.47 L245.91,10.18 L246.15,9.90 L246.39,9.62 L246.63,9.36 L246.86,9.10 L247.10,8.85 L247.34,8.61 L247.58,8.37 L247.81,8.15 L248.05,7.93 L248.29,7.72 L248.53,7.52 L248.76,7.33 L249.00,7.15 L249.24,6.98 L249.48,6.81 L249.72,6.66 L249.95,6.51 L250.19,6.38 L250.43,6.25 L250.67,6.14 L250.90,6.03 L251.14,5.93 L251.38,5.85 L251.62,5.77 L251.85,5.70 L252.09,5.65 L252.33,5.60 L252.57,5.56 L252.81,5.54 L253.04,5.52 L253.28,5.52 L253.52,5.52 L253.76,5.54 L253.99,5.57 L254.23,5.60 L254.47,5.65 L254.71,5.71 L254.94,5.78 L255.18,5.87 L255.42,5.96 L255.66,6.06 L255.90,6.18 L256.13,6.30 L256.37,6.44 L256.61,6.59 L256.85,6.75 L257.08,6.92 L257.32,7.10 L257.56,7.30 L257.80,7.50 L258.03,7.72 L258.27,7.95 L258.51,8.19 L258.75,8.44 L258.99,8.71 L259.22,8.98 L259.46,9.27 L259.70,9.57 L259.94,9.88 L260.17,10.20 L260.41,10.54 L260.65,10.89 L260.89,11.24 L261.12,11.61 L261.36,12.00 L261.60,12.39 L261.84,12.80 L262.08,13.22 L262.31,13.65 L262.55,14.09 L262.79,14.54 L263.03,15.01 L263.26,15.49 L263.50,15.98 L263.74,16.48 L263.98,16.99 L264.21,17.52 L264.45,18.06 L264.69,18.60 L264.93,19.17 L265.17,19.74 L265.40,20.33 L265.64,20.92 L265.88,21.53 L266.12,22.16 L266.35,22.79 L266.59,23.43 L266.83,24.09 L267.07,24.76 L267.30,25.44 L267.54,26.13 L267.78,26.84 L268.02,27.55 L268.26,28.28 L268.49,29.02 L268.73,29.77 L268.97,30.53 L269.21,31.31 L269.44,32.09 L269.68,32.89 L269.92,33.69 L270.16,34.51 L270.39,35.34 L270.63,36.18 L270.87,37.04 L271.11,37.90 L271.35,38.77 L271.58,39.66 L271.82,40.55 L272.06,41.46 L272.30,42.37 L272.53,43.30 L272.77,44.24 L273.01,45.18 L273.25,46.14 L273.48,47.11 L273.72,48.08 L273.96,49.07 L274.20,50.06 L274.44,51.07 L274.67,52.08 L274.91,53.10 L275.15,54.13 L275.39,55.17 L275.62,56.22 L275.86,57.27 L276.10,58.34 L276.34,59.41 L276.58,60.48 L276.81,61.57 L277.05,62.66 L277.29,63.76 L277.53,64.86 L277.76,65.97 L278.00,67.09 L278.24,68.21 L278.48,69.34 L278.71,70.47 L278.95,71.60 L279.19,72.74 L279.43,73.88 L279.67,75.03 L279.90,76.18 L280.14,77.33 L280.38,78.48 L280.62,79.63 L280.85,80.79 L281.09,81.94 L281.33,83.09 L281.57,84.25 L281.80,85.40 L282.04,86.55 L282.28,87.70 L282.52,88.84 L282.76,89.98 L282.99,91.12 L283.23,92.25 L283.47,93.38 L283.71,94.50 L283.94,95.61 L284.18,96.72 L284.42,97.82 L284.66,98.91 L284.89,99.99 L285.13,101.06 L285.37,102.12 L285.61,103.17 L285.85,104.21 L286.08,105.23 L286.32,106.25 L286.56,107.24 L286.80,108.23 L287.03,109.20 L287.27,110.15 L287.51,111.09 L287.75,112.01 L287.98,112.92 L288.22,113.80 L288.46,114.67 L288.70,115.52 L288.94,116.36 L289.17,117.17 L289.41,117.97 L289.65,118.74 L289.89,119.50 L290.12,120.23 L290.36,120.95 L290.60,121.64 L290.84,122.32 L291.07,122.97 L291.31,123.61 L291.55,124.22 L291.79,124.81 L292.03,125.39 L292.26,125.94 L292.50,126.48 L292.74,126.99 L292.98,127.49 L293.21,127.97 L293.45,128.42 L293.69,128.86 L293.93,129.29 L294.16,129.69 L294.40,130.08 L294.64,130.45 L294.88,130.80 L295.12,131.14 L295.35,131.47 L295.59,131.77 L295.83,132.07 L296.07,132.35 L296.30,132.61 L296.54,132.87 L296.78,133.11 L297.02,133.34 L297.25,133.55 L297.49,133.76 L297.73,133.95 L297.97,134.14 L298.21,134.31 L298.44,134.48 L298.68,134.63 L298.92,134.78 L299.16,134.92 L299.39,135.05 L299.63,135.17 L299.87,135.29 L300.11,135.40 L300.34,135.50 L300.58,135.60 L300.82,135.69 L301.06,135.77 L301.30,135.85 L301.53,135.93 L301.77,136.00 L302.01,136.07 L302.25,136.13 L302.48,136.19 L302.72,136.24 L302.96,136.29 L303.20,136.34 L303.43,136.38 L303.67,136.42 L303.91,136.46 L304.15,136.50 L304.39,136.53 L304.62,136.56 L304.86,136.59 L305.10,136.62 L305.34,136.65 L305.57,136.67 L305.81,136.69 L306.05,136.71 L306.29,136.73 L306.53,136.75 L306.76,136.77 L307.00,136.78 L307.24,136.80 L307.48,136.81 L307.71,136.82 L307.95,136.83 L308.19,136.84 L308.43,136.85 L308.66,136.86 L308.90,136.87 L309.14,136.88 L309.38,136.88 L309.62,136.89 L309.85,136.90 L310.09,136.90 L310.33,136.91 L310.57,136.91 L310.80,136.92 L311.04,136.92 L311.28,136.92 L311.52,136.93 L311.75,136.93 L311.99,136.93 L312.23,136.94 L312.47,136.94 L312.71,136.94 L312.94,136.94 L313.18,136.95 L313.42,136.95 L313.66,136.95 L313.89,136.95 L314.13,136.95 L314.37,136.95 L314.61,136.95 L314.84,136.96 L315.08,136.96 L315.32,136.96 L315.56,136.96 L315.80,136.96 L316.03,136.96 L316.27,136.96 L316.51,136.96 L316.75,136.96 L316.98,136.96 L317.22,136.96 L317.46,136.96 L317.70,136.96 L317.93,136.96 L318.17,136.96 L318.41,136.96 L318.65,136.96 L318.89,136.96 L319.12,136.96 L319.36,136.96 L319.60,136.97 L319.84,136.97 L320.07,136.97 L320.31,136.97 L320.55,136.97 L320.79,136.97 L321.02,136.97 L321.26,136.97 L321.50,136.97" stroke="#ff7f0e" stroke-width="1.7" fill="none"/>
</g>
<g clip-path="url(#cLr)">
<line x1="42.5" y1="198.39" x2="315.4" y2="198.39" stroke="#c4c4c4" stroke-width="0.75" stroke-dasharray="1.1 1.1"/>
<line x1="42.5" y1="179.45" x2="315.4" y2="179.45" stroke="#c4c4c4" stroke-width="0.75" stroke-dasharray="1.1 1.1"/>
<line x1="42.5" y1="160.51" x2="315.4" y2="160.51" stroke="#c4c4c4" stroke-width="0.75" stroke-dasharray="1.1 1.1"/>
<g fill="#1f77b4"><circle cx="42.40" cy="178.00" r="1.5"/><circle cx="44.30" cy="182.20" r="1.5"/><circle cx="46.70" cy="173.80" r="1.5"/><circle cx="49.20" cy="182.00" r="1.5"/><circle cx="51.40" cy="176.30" r="1.5"/><circle cx="53.90" cy="168.40" r="1.5"/><circle cx="56.30" cy="176.00" r="1.5"/><circle cx="58.60" cy="169.50" r="1.5"/><circle cx="61.10" cy="177.30" r="1.5"/><circle cx="63.50" cy="183.30" r="1.5"/><circle cx="65.80" cy="176.80" r="1.5"/><circle cx="68.40" cy="182.20" r="1.5"/><circle cx="70.70" cy="182.00" r="1.5"/><circle cx="73.10" cy="176.60" r="1.5"/><circle cx="75.40" cy="177.60" r="1.5"/><circle cx="77.70" cy="180.00" r="1.5"/><circle cx="80.10" cy="175.80" r="1.5"/><circle cx="82.70" cy="186.10" r="1.5"/><circle cx="85.20" cy="182.80" r="1.5"/><circle cx="87.40" cy="179.80" r="1.5"/><circle cx="89.90" cy="182.80" r="1.5"/><circle cx="92.30" cy="190.80" r="1.5"/><circle cx="94.60" cy="188.80" r="1.5"/><circle cx="97.10" cy="179.50" r="1.5"/><circle cx="99.30" cy="185.50" r="1.5"/><circle cx="101.80" cy="183.50" r="1.5"/><circle cx="104.20" cy="181.40" r="1.5"/><circle cx="106.70" cy="179.80" r="1.5"/><circle cx="109.00" cy="177.20" r="1.5"/><circle cx="111.40" cy="185.10" r="1.5"/><circle cx="113.80" cy="181.80" r="1.5"/><circle cx="116.20" cy="187.60" r="1.5"/><circle cx="118.50" cy="180.50" r="1.5"/><circle cx="120.90" cy="173.30" r="1.5"/><circle cx="123.30" cy="180.80" r="1.5"/><circle cx="125.70" cy="185.60" r="1.5"/><circle cx="128.10" cy="179.40" r="1.5"/><circle cx="130.50" cy="176.70" r="1.5"/><circle cx="132.90" cy="181.40" r="1.5"/><circle cx="135.20" cy="180.90" r="1.5"/><circle cx="137.60" cy="176.00" r="1.5"/><circle cx="140.10" cy="178.70" r="1.5"/><circle cx="142.50" cy="177.40" r="1.5"/><circle cx="144.90" cy="180.00" r="1.5"/><circle cx="147.10" cy="179.30" r="1.5"/><circle cx="149.50" cy="173.10" r="1.5"/><circle cx="152.00" cy="173.80" r="1.5"/><circle cx="154.40" cy="177.60" r="1.5"/><circle cx="156.80" cy="175.70" r="1.5"/><circle cx="159.30" cy="176.30" r="1.5"/><circle cx="161.70" cy="180.30" r="1.5"/><circle cx="164.00" cy="167.90" r="1.5"/><circle cx="166.50" cy="180.00" r="1.5"/><circle cx="168.80" cy="174.20" r="1.5"/><circle cx="171.20" cy="167.30" r="1.5"/><circle cx="173.60" cy="184.70" r="1.5"/><circle cx="176.00" cy="177.30" r="1.5"/><circle cx="178.50" cy="172.80" r="1.5"/><circle cx="180.90" cy="181.40" r="1.5"/><circle cx="183.10" cy="170.00" r="1.5"/><circle cx="185.50" cy="174.40" r="1.5"/><circle cx="187.90" cy="178.60" r="1.5"/><circle cx="190.30" cy="173.00" r="1.5"/><circle cx="192.60" cy="183.00" r="1.5"/><circle cx="195.10" cy="177.10" r="1.5"/><circle cx="197.40" cy="187.10" r="1.5"/><circle cx="199.80" cy="182.20" r="1.5"/><circle cx="202.30" cy="179.40" r="1.5"/><circle cx="204.60" cy="196.80" r="1.5"/><circle cx="207.00" cy="191.40" r="1.5"/><circle cx="209.50" cy="182.90" r="1.5"/><circle cx="211.70" cy="192.70" r="1.5"/><circle cx="214.10" cy="190.80" r="1.5"/><circle cx="216.50" cy="189.40" r="1.5"/><circle cx="219.00" cy="184.90" r="1.5"/><circle cx="221.50" cy="190.30" r="1.5"/><circle cx="223.60" cy="168.20" r="1.5"/><circle cx="226.20" cy="169.00" r="1.5"/><circle cx="228.50" cy="162.70" r="1.5"/><circle cx="230.80" cy="149.30" r="1.5"/><circle cx="233.30" cy="166.00" r="1.5"/><circle cx="235.60" cy="170.60" r="1.5"/><circle cx="238.20" cy="174.80" r="1.5"/><circle cx="240.60" cy="186.30" r="1.5"/><circle cx="242.80" cy="172.40" r="1.5"/><circle cx="245.40" cy="195.20" r="1.5"/><circle cx="247.70" cy="178.20" r="1.5"/><circle cx="250.10" cy="210.70" r="1.5"/><circle cx="252.60" cy="204.70" r="1.5"/><circle cx="255.00" cy="204.00" r="1.5"/><circle cx="257.20" cy="160.80" r="1.5"/><circle cx="259.70" cy="190.80" r="1.5"/><circle cx="262.20" cy="157.40" r="1.5"/><circle cx="264.60" cy="148.90" r="1.5"/><circle cx="267.10" cy="152.00" r="1.5"/><circle cx="269.40" cy="182.80" r="1.5"/><circle cx="271.80" cy="179.40" r="1.5"/><circle cx="274.10" cy="175.50" r="1.5"/><circle cx="276.60" cy="189.20" r="1.5"/><circle cx="278.90" cy="185.20" r="1.5"/><circle cx="281.30" cy="186.50" r="1.5"/><circle cx="283.60" cy="179.30" r="1.5"/><circle cx="286.00" cy="182.60" r="1.5"/><circle cx="288.50" cy="181.80" r="1.5"/><circle cx="290.90" cy="176.20" r="1.5"/><circle cx="293.10" cy="180.70" r="1.5"/><circle cx="295.50" cy="182.30" r="1.5"/><circle cx="297.90" cy="182.10" r="1.5"/><circle cx="300.40" cy="177.80" r="1.5"/><circle cx="302.80" cy="176.20" r="1.5"/><circle cx="305.30" cy="175.50" r="1.5"/><circle cx="307.70" cy="180.20" r="1.5"/><circle cx="310.10" cy="175.50" r="1.5"/><circle cx="312.50" cy="180.40" r="1.5"/><circle cx="314.80" cy="176.70" r="1.5"/></g>
</g>
<rect x="42.5" y="0.0" width="272.90" height="139.40" fill="none" stroke="#000" stroke-width="0.85"/>
<rect x="42.5" y="146.3" width="272.90" height="66.30" fill="none" stroke="#000" stroke-width="0.85"/>
<defs><clipPath id="cR"><rect x="381.8" y="6.0" width="266.20" height="136.10"/></clipPath>
<clipPath id="cRr"><rect x="381.8" y="148.3" width="266.20" height="65.20"/></clipPath></defs>
<g clip-path="url(#cR)">
<path d="M596.06,148.36 L596.13,146.71 L596.20,145.07 L596.26,143.45 L596.33,141.84 L596.40,140.24 L596.47,138.65 L596.53,137.08 L596.60,135.52 L596.67,133.97 L596.73,132.43 L596.80,130.90 L596.87,129.39 L596.93,127.89 L597.00,126.40 L597.07,124.92 L597.14,123.46 L597.20,122.00 L597.27,120.56 L597.34,119.14 L597.40,117.72 L597.47,116.32 L597.54,114.93 L597.61,113.55 L597.67,112.18 L597.74,110.83 L597.81,109.49 L597.87,108.16 L597.94,106.84 L598.01,105.53 L598.07,104.24 L598.14,102.96 L598.21,101.69 L598.28,100.43 L598.34,99.19 L598.41,97.96 L598.48,96.74 L598.54,95.53 L598.61,94.34 L598.68,93.15 L598.75,91.98 L598.81,90.82 L598.88,89.68 L598.95,88.54 L599.01,87.42 L599.08,86.31 L599.15,85.22 L599.21,84.13 L599.28,83.06 L599.35,82.00 L599.42,80.95 L599.48,79.91 L599.55,78.89 L599.62,77.88 L599.68,76.88 L599.75,75.89 L599.82,74.92 L599.88,73.96 L599.95,73.01 L600.02,72.07 L600.09,71.14 L600.15,70.23 L600.22,69.33 L600.29,68.44 L600.35,67.56 L600.42,66.70 L600.49,65.85 L600.56,65.01 L600.62,64.18 L600.69,63.36 L600.76,62.56 L600.82,61.77 L600.89,60.99 L600.96,60.22 L601.02,59.47 L601.09,58.73 L601.16,58.00 L601.23,57.28 L601.29,56.58 L601.36,55.88 L601.43,55.20 L601.49,54.53 L601.56,53.88 L601.63,53.23 L601.69,52.60 L601.76,51.98 L601.83,51.38 L601.90,50.78 L601.96,50.20 L602.03,49.63 L602.10,49.07 L602.16,48.52 L602.23,47.99 L602.30,47.47 L602.37,46.96 L602.43,46.46 L602.50,45.98 L602.57,45.50 L602.63,45.04 L602.70,44.60 L602.77,44.16 L602.83,43.74 L602.90,43.33 L602.97,42.93 L603.04,42.54 L603.10,42.17 L603.17,41.80 L603.24,41.45 L603.30,41.12 L603.37,40.79 L603.44,40.48 L603.50,40.18 L603.57,39.89 L603.64,39.61 L603.71,39.35 L603.77,39.09 L603.84,38.85 L603.91,38.63 L603.97,38.41 L604.04,38.21 L604.11,38.02 L604.18,37.84 L604.24,37.67 L604.31,37.52 L604.38,37.38 L604.44,37.25 L604.51,37.13 L604.58,37.02 L604.64,36.93 L604.71,36.85 L604.78,36.78 L604.85,36.73 L604.91,36.68 L604.98,36.65 L605.05,36.63 L605.11,36.62 L605.18,36.63 L605.25,36.65 L605.32,36.68 L605.38,36.72 L605.45,36.77 L605.52,36.84 L605.58,36.92 L605.65,37.01 L605.72,37.11 L605.78,37.23 L605.85,37.35 L605.92,37.49 L605.99,37.65 L606.05,37.81 L606.12,37.99 L606.19,38.18 L606.25,38.38 L606.32,38.59 L606.39,38.82 L606.45,39.05 L606.52,39.30 L606.59,39.57 L606.66,39.84 L606.72,40.13 L606.79,40.43 L606.86,40.74 L606.92,41.06 L606.99,41.40 L607.06,41.74 L607.13,42.11 L607.19,42.48 L607.26,42.86 L607.33,43.26 L607.39,43.67 L607.46,44.09 L607.53,44.52 L607.59,44.97 L607.66,45.43 L607.73,45.90 L607.80,46.38 L607.86,46.88 L607.93,47.38 L608.00,47.90 L608.06,48.43 L608.13,48.98 L608.20,49.53 L608.26,50.10 L608.33,50.68 L608.40,51.28 L608.47,51.88 L608.53,52.50 L608.60,53.13 L608.67,53.77 L608.73,54.43 L608.80,55.09 L608.87,55.77 L608.94,56.46 L609.00,57.16 L609.07,57.88 L609.14,58.61 L609.20,59.35 L609.27,60.10 L609.34,60.86 L609.40,61.64 L609.47,62.43 L609.54,63.23 L609.61,64.04 L609.67,64.87 L609.74,65.71 L609.81,66.56 L609.87,67.42 L609.94,68.30 L610.01,69.18 L610.07,70.08 L610.14,70.99 L610.21,71.92 L610.28,72.85 L610.34,73.80 L610.41,74.76 L610.48,75.73 L610.54,76.72 L610.61,77.72 L610.68,78.72 L610.75,79.75 L610.81,80.78 L610.88,81.83 L610.95,82.88 L611.01,83.96 L611.08,85.04 L611.15,86.13 L611.21,87.24 L611.28,88.36 L611.35,89.49 L611.42,90.64 L611.48,91.79 L611.55,92.96 L611.62,94.14 L611.68,95.33 L611.75,96.54 L611.82,97.76 L611.89,98.99 L611.95,100.23 L612.02,101.48 L612.09,102.75 L612.15,104.03 L612.22,105.32 L612.29,106.62 L612.35,107.94 L612.42,109.27 L612.49,110.61 L612.56,111.96 L612.62,113.32 L612.69,114.70 L612.76,116.09 L612.82,117.49 L612.89,118.90 L612.96,120.33 L613.02,121.77 L613.09,123.22 L613.16,124.68 L613.23,126.15 L613.29,127.64 L613.36,129.14 L613.43,130.65 L613.49,132.18 L613.56,133.71 L613.63,135.26 L613.70,136.82 L613.76,138.39 L613.83,139.98 L613.90,141.58 L613.96,143.19 L614.03,144.81 L614.10,146.44 L614.16,148.09" stroke="#2ca02c" stroke-opacity="0.66" stroke-width="1.35" stroke-dasharray="4.8 2.05" fill="none"/>
<path d="M569.58,148.91 L569.65,148.71 L569.72,148.52 L569.78,148.32 L569.85,148.13 L569.92,147.93 L569.98,147.74 L570.05,147.55 L570.12,147.35 L570.19,147.16 L570.25,146.96 L570.32,146.77 L570.39,146.57 L570.45,146.38 L570.52,146.18 L570.59,145.99 L570.65,145.79 L570.72,145.60 L570.79,145.41 L570.86,145.21 L570.92,145.02 L570.99,144.82 L571.06,144.63 L571.12,144.43 L571.19,144.24 L571.26,144.04 L571.33,143.85 L571.39,143.65 L571.46,143.46 L571.53,143.27 L571.59,143.07 L571.66,142.88 L571.73,142.68 L571.79,142.49 L571.86,142.29 L571.93,142.10 L572.00,141.90 L572.06,141.71 L572.13,141.52 L572.20,141.32 L572.26,141.13 L572.33,140.93 L572.40,140.74 L572.46,140.54 L572.53,140.35 L572.60,140.15 L572.67,139.96 L572.73,139.76 L572.80,139.57 L572.87,139.38 L572.93,139.18 L573.00,138.99 L573.07,138.79 L573.14,138.60 L573.20,138.40 L573.27,138.21 L573.34,138.01 L573.40,137.82 L573.47,137.63 L573.54,137.43 L573.60,137.24 L573.67,137.04 L573.74,136.85 L573.81,136.65 L573.87,136.46 L573.94,136.26 L574.01,136.07 L574.07,135.87 L574.14,135.68 L574.21,135.49 L574.28,135.29 L574.34,135.10 L574.41,134.90 L574.48,134.71 L574.54,134.51 L574.61,134.32 L574.68,134.12 L574.74,133.93 L574.81,133.73 L574.88,133.54 L574.95,133.35 L575.01,133.15 L575.08,132.96 L575.15,132.76 L575.21,132.57 L575.28,132.37 L575.35,132.18 L575.41,131.98 L575.48,131.79 L575.55,131.60 L575.62,131.40 L575.68,131.21 L575.75,131.01 L575.82,130.82 L575.88,130.62 L575.95,130.43 L576.02,130.23 L576.09,130.04 L576.15,129.84 L576.22,129.65 L576.29,129.46 L576.35,129.26 L576.42,129.07 L576.49,128.87 L576.55,128.68 L576.62,128.48 L576.69,128.29 L576.76,128.09 L576.82,127.90 L576.89,127.71 L576.96,127.51 L577.02,127.32 L577.09,127.12 L577.16,126.93 L577.22,126.73 L577.29,126.54 L577.36,126.34 L577.43,126.15 L577.49,125.95 L577.56,125.76 L577.63,125.57 L577.69,125.37 L577.76,125.18 L577.83,124.98 L577.90,124.79 L577.96,124.59 L578.03,124.40 L578.10,124.20 L578.16,124.01 L578.23,123.81 L578.30,123.62 L578.36,123.43 L578.43,123.23 L578.50,123.04 L578.57,122.84 L578.63,122.65 L578.70,122.45 L578.77,122.26 L578.83,122.06 L578.90,121.87 L578.97,121.68 L579.03,121.48 L579.10,121.29 L579.17,121.09 L579.24,120.90 L579.30,120.70 L579.37,120.51 L579.44,120.31 L579.50,120.12 L579.57,119.92 L579.64,119.73 L579.71,119.54 L579.77,119.34 L579.84,119.15 L579.91,118.95 L579.97,118.76 L580.04,118.56 L580.11,118.37 L580.17,118.17 L580.24,117.98 L580.31,117.79 L580.38,117.59 L580.44,117.40 L580.51,117.20 L580.58,117.01 L580.64,116.81 L580.71,116.62 L580.78,116.42 L580.85,116.23 L580.91,116.03 L580.98,115.84 L581.05,115.65 L581.11,115.45 L581.18,115.26 L581.25,115.06 L581.31,114.87 L581.38,114.67 L581.45,114.48 L581.52,114.28 L581.58,114.09 L581.65,113.89 L581.72,113.70 L581.78,113.51 L581.85,113.31 L581.92,113.12 L581.98,112.92 L582.05,112.73 L582.12,112.53 L582.19,112.34 L582.25,112.14 L582.32,111.95 L582.39,111.76 L582.45,111.56 L582.52,111.37 L582.59,111.17 L582.66,110.98 L582.72,110.78 L582.79,110.59 L582.86,110.39 L582.92,110.20 L582.99,110.00 L583.06,109.81 L583.12,109.62 L583.19,109.42 L583.26,109.23 L583.33,109.03 L583.39,108.84 L583.46,108.64 L583.53,108.45 L583.59,108.25 L583.66,108.06 L583.73,107.87 L583.79,107.67 L583.86,107.48 L583.93,107.28 L584.00,107.09 L584.06,106.89 L584.13,106.70 L584.20,106.50 L584.26,106.31 L584.33,106.11 L584.40,105.92 L584.47,105.73 L584.53,105.53 L584.60,105.34 L584.67,105.14 L584.73,104.95 L584.80,104.75 L584.87,104.56 L584.93,104.36 L585.00,104.17 L585.07,103.97 L585.14,103.78 L585.20,103.59 L585.27,103.39 L585.34,103.20 L585.40,103.00 L585.47,102.81 L585.54,102.61 L585.60,102.42 L585.67,102.22 L585.74,102.03 L585.81,101.84 L585.87,101.64 L585.94,101.45 L586.01,101.25 L586.07,101.06 L586.14,100.86 L586.21,100.67 L586.28,100.47 L586.34,100.28 L586.41,100.08 L586.48,99.89 L586.54,99.70 L586.61,99.50 L586.68,99.31 L586.74,99.11 L586.81,98.92 L586.88,98.72 L586.95,98.53 L587.01,98.33 L587.08,98.14 L587.15,97.95 L587.21,97.75 L587.28,97.56 L587.35,97.36 L587.42,97.17 L587.48,96.97 L587.55,96.78 L587.62,96.58 L587.68,96.39 L587.75,96.19 L587.82,96.00 L587.88,95.81 L587.95,95.61 L588.02,95.42 L588.09,95.22 L588.15,95.03 L588.22,94.83 L588.29,94.64 L588.35,94.44 L588.42,94.25 L588.49,94.05 L588.55,93.86 L588.62,93.67 L588.69,93.47 L588.76,93.28 L588.82,93.08 L588.89,92.89 L588.96,92.69 L589.02,92.50 L589.09,92.30 L589.16,92.11 L589.23,91.92 L589.29,91.72 L589.36,91.53 L589.43,91.33 L589.49,91.14 L589.56,90.94 L589.63,90.75 L589.69,90.55 L589.76,90.36 L589.83,90.16 L589.90,89.97 L589.96,89.78 L590.03,89.58 L590.10,89.39 L590.16,89.19 L590.23,89.00 L590.30,88.80 L590.36,88.61 L590.43,88.41 L590.50,88.22 L590.57,88.03 L590.63,87.83 L590.70,87.64 L590.77,87.44 L590.83,87.25 L590.90,87.05 L590.97,86.86 L591.04,86.66 L591.10,86.47 L591.17,86.27 L591.24,86.08 L591.30,85.89 L591.37,85.69 L591.44,85.50 L591.50,85.30 L591.57,85.11 L591.64,84.91 L591.71,84.72 L591.77,84.52 L591.84,84.33 L591.91,84.14 L591.97,83.94 L592.04,83.75 L592.11,83.55 L592.18,83.36 L592.24,83.16 L592.31,82.97 L592.38,82.77 L592.44,82.58 L592.51,82.38 L592.58,82.19 L592.64,82.00 L592.71,81.80 L592.78,81.61 L592.85,81.41 L592.91,81.22 L592.98,81.02 L593.05,80.83 L593.11,80.63 L593.18,80.44 L593.25,80.24 L593.31,80.05 L593.38,79.86 L593.45,79.66 L593.52,79.47 L593.58,79.27 L593.65,79.08 L593.72,78.88 L593.78,78.69 L593.85,78.49 L593.92,78.30 L593.99,78.11 L594.05,77.91 L594.12,77.72 L594.19,77.52 L594.25,77.33 L594.32,77.13 L594.39,76.94 L594.45,76.74 L594.52,76.55 L594.59,76.35 L594.66,76.16 L594.72,75.97 L594.79,75.77 L594.86,75.58 L594.92,75.38 L594.99,75.19 L595.06,74.99 L595.12,74.80 L595.19,74.60 L595.26,74.41 L595.33,74.22 L595.39,74.02 L595.46,73.83 L595.53,73.63 L595.59,73.44 L595.66,73.24 L595.73,73.05 L595.80,72.85 L595.86,72.66 L595.93,72.46 L596.00,72.27 L596.06,72.08 L596.13,71.88 L596.20,71.69 L596.26,71.49 L596.33,71.30 L596.40,71.10 L596.47,70.91 L596.53,70.71 L596.60,70.52 L596.67,70.32 L596.73,70.13 L596.80,69.94 L596.87,69.74 L596.93,69.55 L597.00,69.35 L597.07,69.16 L597.14,68.96 L597.20,68.77 L597.27,68.57 L597.34,68.38 L597.40,68.19 L597.47,67.99 L597.54,67.80 L597.61,67.60 L597.67,67.41 L597.74,67.21 L597.81,67.02 L597.87,66.82 L597.94,66.63 L598.01,66.43 L598.07,66.24 L598.14,66.05 L598.21,65.85 L598.28,65.66 L598.34,65.46 L598.41,65.27 L598.48,65.07 L598.54,64.88 L598.61,64.68 L598.68,64.49 L598.75,64.30 L598.81,64.10 L598.88,63.91 L598.95,63.71 L599.01,63.52 L599.08,63.32 L599.15,63.13 L599.21,62.93 L599.28,62.74 L599.35,62.55 L599.42,62.35 L599.48,62.16 L599.55,61.96 L599.62,61.77 L599.68,61.57 L599.75,61.38 L599.82,61.19 L599.88,60.99 L599.95,60.80 L600.02,60.60 L600.09,60.41 L600.15,60.22 L600.22,60.02 L600.29,59.83 L600.35,59.64 L600.42,59.44 L600.49,59.25 L600.56,59.06 L600.62,58.86 L600.69,58.67 L600.76,58.48 L600.82,58.29 L600.89,58.10 L600.96,57.91 L601.02,57.72 L601.09,57.53 L601.16,57.34 L601.23,57.15 L601.29,56.96 L601.36,56.77 L601.43,56.58 L601.49,56.40 L601.56,56.21 L601.63,56.03 L601.69,55.85 L601.76,55.66 L601.83,55.48 L601.90,55.30 L601.96,55.13 L602.03,54.95 L602.10,54.77 L602.16,54.60 L602.23,54.43 L602.30,54.26 L602.37,54.10 L602.43,53.93 L602.50,53.77 L602.57,53.61 L602.63,53.45 L602.70,53.30 L602.77,53.15 L602.83,53.00 L602.90,52.86 L602.97,52.72 L603.04,52.58 L603.10,52.45 L603.17,52.32 L603.24,52.20 L603.30,52.08 L603.37,51.97 L603.44,51.86 L603.50,51.76 L603.57,51.66 L603.64,51.56 L603.71,51.48 L603.77,51.40 L603.84,51.32 L603.91,51.25 L603.97,51.19 L604.04,51.14 L604.11,51.09 L604.18,51.05 L604.24,51.02 L604.31,50.99 L604.38,50.98 L604.44,50.97 L604.51,50.97 L604.58,50.98 L604.64,50.99 L604.71,51.02 L604.78,51.05 L604.85,51.10 L604.91,51.15 L604.98,51.21 L605.05,51.28 L605.11,51.37 L605.18,51.46 L605.25,51.56 L605.32,51.68 L605.38,51.80 L605.45,51.93 L605.52,52.08 L605.58,52.24 L605.65,52.41 L605.72,52.58 L605.78,52.77 L605.85,52.98 L605.92,53.19 L605.99,53.42 L606.05,53.66 L606.12,53.91 L606.19,54.17 L606.25,54.44 L606.32,54.73 L606.39,55.03 L606.45,55.34 L606.52,55.67 L606.59,56.01 L606.66,56.36 L606.72,56.72 L606.79,57.10 L606.86,57.49 L606.92,57.89 L606.99,58.31 L607.06,58.74 L607.13,59.19 L607.19,59.65 L607.26,60.12 L607.33,60.61 L607.39,61.11 L607.46,61.62 L607.53,62.15 L607.59,62.69 L607.66,63.25 L607.73,63.82 L607.80,64.40 L607.86,65.00 L607.93,65.62 L608.00,66.25 L608.06,66.89 L608.13,67.55 L608.20,68.22 L608.26,68.91 L608.33,69.61 L608.40,70.32 L608.47,71.06 L608.53,71.80 L608.60,72.56 L608.67,73.34 L608.73,74.13 L608.80,74.94 L608.87,75.76 L608.94,76.60 L609.00,77.45 L609.07,78.32 L609.14,79.20 L609.20,80.10 L609.27,81.01 L609.34,81.94 L609.40,82.88 L609.47,83.84 L609.54,84.82 L609.61,85.81 L609.67,86.81 L609.74,87.83 L609.81,88.87 L609.87,89.92 L609.94,90.99 L610.01,92.08 L610.07,93.18 L610.14,94.29 L610.21,95.42 L610.28,96.57 L610.34,97.73 L610.41,98.91 L610.48,100.10 L610.54,101.31 L610.61,102.54 L610.68,103.78 L610.75,105.04 L610.81,106.31 L610.88,107.60 L610.95,108.90 L611.01,110.23 L611.08,111.56 L611.15,112.92 L611.21,114.29 L611.28,115.67 L611.35,117.07 L611.42,118.49 L611.48,119.92 L611.55,121.37 L611.62,122.84 L611.68,124.32 L611.75,125.82 L611.82,127.33 L611.89,128.86 L611.95,130.41 L612.02,131.97 L612.09,133.55 L612.15,135.14 L612.22,136.75 L612.29,138.38 L612.35,140.02 L612.42,141.68 L612.49,143.36 L612.56,145.05 L612.62,146.76 L612.69,148.48" stroke="#d62728" stroke-opacity="0.66" stroke-width="1.35" stroke-dasharray="4.8 2.05" fill="none"/>
<path d="M381.80,140.92 L381.87,140.90 L381.93,140.89 L382.00,140.87 L382.07,140.86 L382.14,140.84 L382.20,140.83 L382.27,140.81 L382.34,140.80 L382.40,140.78 L382.47,140.77 L382.54,140.75 L382.60,140.74 L382.67,140.72 L382.74,140.71 L382.81,140.69 L382.87,140.68 L382.94,140.66 L383.01,140.64 L383.07,140.63 L383.14,140.61 L383.21,140.60 L383.27,140.58 L383.34,140.57 L383.41,140.55 L383.48,140.54 L383.54,140.52 L383.61,140.51 L383.68,140.49 L383.74,140.48 L383.81,140.46 L383.88,140.45 L383.95,140.43 L384.01,140.42 L384.08,140.40 L384.15,140.39 L384.21,140.37 L384.28,140.36 L384.35,140.34 L384.41,140.32 L384.48,140.31 L384.55,140.29 L384.62,140.28 L384.68,140.26 L384.75,140.25 L384.82,140.23 L384.88,140.22 L384.95,140.20 L385.02,140.19 L385.09,140.17 L385.15,140.16 L385.22,140.14 L385.29,140.13 L385.35,140.11 L385.42,140.10 L385.49,140.08 L385.55,140.07 L385.62,140.05 L385.69,140.04 L385.76,140.02 L385.82,140.00 L385.89,139.99 L385.96,139.97 L386.02,139.96 L386.09,139.94 L386.16,139.93 L386.22,139.91 L386.29,139.90 L386.36,139.88 L386.43,139.87 L386.49,139.85 L386.56,139.84 L386.63,139.82 L386.69,139.81 L386.76,139.79 L386.83,139.78 L386.90,139.76 L386.96,139.75 L387.03,139.73 L387.10,139.72 L387.16,139.70 L387.23,139.68 L387.30,139.67 L387.36,139.65 L387.43,139.64 L387.50,139.62 L387.57,139.61 L387.63,139.59 L387.70,139.58 L387.77,139.56 L387.83,139.55 L387.90,139.53 L387.97,139.52 L388.03,139.50 L388.10,139.49 L388.17,139.47 L388.24,139.46 L388.30,139.44 L388.37,139.43 L388.44,139.41 L388.50,139.40 L388.57,139.38 L388.64,139.36 L388.71,139.35 L388.77,139.33 L388.84,139.32 L388.91,139.30 L388.97,139.29 L389.04,139.27 L389.11,139.26 L389.17,139.24 L389.24,139.23 L389.31,139.21 L389.38,139.20 L389.44,139.18 L389.51,139.17 L389.58,139.15 L389.64,139.14 L389.71,139.12 L389.78,139.11 L389.84,139.09 L389.91,139.08 L389.98,139.06 L390.05,139.04 L390.11,139.03 L390.18,139.01 L390.25,139.00 L390.31,138.98 L390.38,138.97 L390.45,138.95 L390.52,138.94 L390.58,138.92 L390.65,138.91 L390.72,138.89 L390.78,138.88 L390.85,138.86 L390.92,138.85 L390.98,138.83 L391.05,138.82 L391.12,138.80 L391.19,138.79 L391.25,138.77 L391.32,138.76 L391.39,138.74 L391.45,138.72 L391.52,138.71 L391.59,138.69 L391.66,138.68 L391.72,138.66 L391.79,138.65 L391.86,138.63 L391.92,138.62 L391.99,138.60 L392.06,138.59 L392.12,138.57 L392.19,138.56 L392.26,138.54 L392.33,138.53 L392.39,138.51 L392.46,138.50 L392.53,138.48 L392.59,138.47 L392.66,138.45 L392.73,138.44 L392.79,138.42 L392.86,138.40 L392.93,138.39 L393.00,138.37 L393.06,138.36 L393.13,138.34 L393.20,138.33 L393.26,138.31 L393.33,138.30 L393.40,138.28 L393.47,138.27 L393.53,138.25 L393.60,138.24 L393.67,138.22 L393.73,138.21 L393.80,138.19 L393.87,138.18 L393.93,138.16 L394.00,138.15 L394.07,138.13 L394.14,138.12 L394.20,138.10 L394.27,138.08 L394.34,138.07 L394.40,138.05 L394.47,138.04 L394.54,138.02 L394.60,138.01 L394.67,137.99 L394.74,137.98 L394.81,137.96 L394.87,137.95 L394.94,137.93 L395.01,137.92 L395.07,137.90 L395.14,137.89 L395.21,137.87 L395.28,137.86 L395.34,137.84 L395.41,137.83 L395.48,137.81 L395.54,137.80 L395.61,137.78 L395.68,137.76 L395.74,137.75 L395.81,137.73 L395.88,137.72 L395.95,137.70 L396.01,137.69 L396.08,137.67 L396.15,137.66 L396.21,137.64 L396.28,137.63 L396.35,137.61 L396.41,137.60 L396.48,137.58 L396.55,137.57 L396.62,137.55 L396.68,137.54 L396.75,137.52 L396.82,137.51 L396.88,137.49 L396.95,137.48 L397.02,137.46 L397.09,137.44 L397.15,137.43 L397.22,137.41 L397.29,137.40 L397.35,137.38 L397.42,137.37 L397.49,137.35 L397.55,137.34 L397.62,137.32 L397.69,137.31 L397.76,137.29 L397.82,137.28 L397.89,137.26 L397.96,137.25 L398.02,137.23 L398.09,137.22 L398.16,137.20 L398.23,137.19 L398.29,137.17 L398.36,137.16 L398.43,137.14 L398.49,137.12 L398.56,137.11 L398.63,137.09 L398.69,137.08 L398.76,137.06 L398.83,137.05 L398.90,137.03 L398.96,137.02 L399.03,137.00 L399.10,136.99 L399.16,136.97 L399.23,136.96 L399.30,136.94 L399.36,136.93 L399.43,136.91 L399.50,136.90 L399.57,136.88 L399.63,136.87 L399.70,136.85 L399.77,136.84 L399.83,136.82 L399.90,136.80 L399.97,136.79 L400.04,136.77 L400.10,136.76 L400.17,136.74 L400.24,136.73 L400.30,136.71 L400.37,136.70 L400.44,136.68 L400.50,136.67 L400.57,136.65 L400.64,136.64 L400.71,136.62 L400.77,136.61 L400.84,136.59 L400.91,136.58 L400.97,136.56 L401.04,136.55 L401.11,136.53 L401.17,136.52 L401.24,136.50 L401.31,136.48 L401.38,136.47 L401.44,136.45 L401.51,136.44 L401.58,136.42 L401.64,136.41 L401.71,136.39 L401.78,136.38 L401.85,136.36 L401.91,136.35 L401.98,136.33 L402.05,136.32 L402.11,136.30 L402.18,136.29 L402.25,136.27 L402.31,136.26 L402.38,136.24 L402.45,136.23 L402.52,136.21 L402.58,136.20 L402.65,136.18 L402.72,136.16 L402.78,136.15 L402.85,136.13 L402.92,136.12 L402.98,136.10 L403.05,136.09 L403.12,136.07 L403.19,136.06 L403.25,136.04 L403.32,136.03 L403.39,136.01 L403.45,136.00 L403.52,135.98 L403.59,135.97 L403.66,135.95 L403.72,135.94 L403.79,135.92 L403.86,135.91 L403.92,135.89 L403.99,135.88 L404.06,135.86 L404.12,135.84 L404.19,135.83 L404.26,135.81 L404.33,135.80 L404.39,135.78 L404.46,135.77 L404.53,135.75 L404.59,135.74 L404.66,135.72 L404.73,135.71 L404.80,135.69 L404.86,135.68 L404.93,135.66 L405.00,135.65 L405.06,135.63 L405.13,135.62 L405.20,135.60 L405.26,135.59 L405.33,135.57 L405.40,135.56 L405.47,135.54 L405.53,135.52 L405.60,135.51 L405.67,135.49 L405.73,135.48 L405.80,135.46 L405.87,135.45 L405.93,135.43 L406.00,135.42 L406.07,135.40 L406.14,135.39 L406.20,135.37 L406.27,135.36 L406.34,135.34 L406.40,135.33 L406.47,135.31 L406.54,135.30 L406.61,135.28 L406.67,135.27 L406.74,135.25 L406.81,135.24 L406.87,135.22 L406.94,135.20 L407.01,135.19 L407.07,135.17 L407.14,135.16 L407.21,135.14 L407.28,135.13 L407.34,135.11 L407.41,135.10 L407.48,135.08 L407.54,135.07 L407.61,135.05 L407.68,135.04 L407.74,135.02 L407.81,135.01 L407.88,134.99 L407.95,134.98 L408.01,134.96 L408.08,134.95 L408.15,134.93 L408.21,134.92 L408.28,134.90 L408.35,134.88 L408.42,134.87 L408.48,134.85 L408.55,134.84 L408.62,134.82 L408.68,134.81 L408.75,134.79 L408.82,134.78 L408.88,134.76 L408.95,134.75 L409.02,134.73 L409.09,134.72 L409.15,134.70 L409.22,134.69 L409.29,134.67 L409.35,134.66 L409.42,134.64 L409.49,134.63 L409.56,134.61 L409.62,134.60 L409.69,134.58 L409.76,134.56 L409.82,134.55 L409.89,134.53 L409.96,134.52 L410.02,134.50 L410.09,134.49 L410.16,134.47 L410.23,134.46 L410.29,134.44 L410.36,134.43 L410.43,134.41 L410.49,134.40 L410.56,134.38 L410.63,134.37 L410.69,134.35 L410.76,134.34 L410.83,134.32 L410.90,134.31 L410.96,134.29 L411.03,134.28 L411.10,134.26 L411.16,134.24 L411.23,134.23 L411.30,134.21 L411.37,134.20 L411.43,134.18 L411.50,134.17 L411.57,134.15 L411.63,134.14 L411.70,134.12 L411.77,134.11 L411.83,134.09 L411.90,134.08 L411.97,134.06 L412.04,134.05 L412.10,134.03 L412.17,134.02 L412.24,134.00 L412.30,133.99 L412.37,133.97 L412.44,133.96 L412.50,133.94 L412.57,133.92 L412.64,133.91 L412.71,133.89 L412.77,133.88 L412.84,133.86 L412.91,133.85 L412.97,133.83 L413.04,133.82 L413.11,133.80 L413.18,133.79 L413.24,133.77 L413.31,133.76 L413.38,133.74 L413.44,133.73 L413.51,133.71 L413.58,133.70 L413.64,133.68 L413.71,133.67 L413.78,133.65 L413.85,133.64 L413.91,133.62 L413.98,133.60 L414.05,133.59 L414.11,133.57 L414.18,133.56 L414.25,133.54 L414.31,133.53 L414.38,133.51 L414.45,133.50 L414.52,133.48 L414.58,133.47 L414.65,133.45 L414.72,133.44 L414.78,133.42 L414.85,133.41 L414.92,133.39 L414.99,133.38 L415.05,133.36 L415.12,133.35 L415.19,133.33 L415.25,133.32 L415.32,133.30 L415.39,133.28 L415.45,133.27 L415.52,133.25 L415.59,133.24 L415.66,133.22 L415.72,133.21 L415.79,133.19 L415.86,133.18 L415.92,133.16 L415.99,133.15 L416.06,133.13 L416.13,133.12 L416.19,133.10 L416.26,133.09 L416.33,133.07 L416.39,133.06 L416.46,133.04 L416.53,133.03 L416.59,133.01 L416.66,133.00 L416.73,132.98 L416.80,132.96 L416.86,132.95 L416.93,132.93 L417.00,132.92 L417.06,132.90 L417.13,132.89 L417.20,132.87 L417.26,132.86 L417.33,132.84 L417.40,132.83 L417.47,132.81 L417.53,132.80 L417.60,132.78 L417.67,132.77 L417.73,132.75 L417.80,132.74 L417.87,132.72 L417.94,132.71 L418.00,132.69 L418.07,132.68 L418.14,132.66 L418.20,132.64 L418.27,132.63 L418.34,132.61 L418.40,132.60 L418.47,132.58 L418.54,132.57 L418.61,132.55 L418.67,132.54 L418.74,132.52 L418.81,132.51 L418.87,132.49 L418.94,132.48 L419.01,132.46 L419.07,132.45 L419.14,132.43 L419.21,132.42 L419.28,132.40 L419.34,132.39 L419.41,132.37 L419.48,132.36 L419.54,132.34 L419.61,132.32 L419.68,132.31 L419.75,132.29 L419.81,132.28 L419.88,132.26 L419.95,132.25 L420.01,132.23 L420.08,132.22 L420.15,132.20 L420.21,132.19 L420.28,132.17 L420.35,132.16 L420.42,132.14 L420.48,132.13 L420.55,132.11 L420.62,132.10 L420.68,132.08 L420.75,132.07 L420.82,132.05 L420.88,132.04 L420.95,132.02 L421.02,132.00 L421.09,131.99 L421.15,131.97 L421.22,131.96 L421.29,131.94 L421.35,131.93 L421.42,131.91 L421.49,131.90 L421.56,131.88 L421.62,131.87 L421.69,131.85 L421.76,131.84 L421.82,131.82 L421.89,131.81 L421.96,131.79 L422.02,131.78 L422.09,131.76 L422.16,131.75 L422.23,131.73 L422.29,131.72 L422.36,131.70 L422.43,131.68 L422.49,131.67 L422.56,131.65 L422.63,131.64 L422.70,131.62 L422.76,131.61 L422.83,131.59 L422.90,131.58 L422.96,131.56 L423.03,131.55 L423.10,131.53 L423.16,131.52 L423.23,131.50 L423.30,131.49 L423.37,131.47 L423.43,131.46 L423.50,131.44 L423.57,131.43 L423.63,131.41 L423.70,131.40 L423.77,131.38 L423.83,131.36 L423.90,131.35 L423.97,131.33 L424.04,131.32 L424.10,131.30 L424.17,131.29 L424.24,131.27 L424.30,131.26 L424.37,131.24 L424.44,131.23 L424.51,131.21 L424.57,131.20 L424.64,131.18 L424.71,131.17 L424.77,131.15 L424.84,131.14 L424.91,131.12 L424.97,131.11 L425.04,131.09 L425.11,131.08 L425.18,131.06 L425.24,131.04 L425.31,131.03 L425.38,131.01 L425.44,131.00 L425.51,130.98 L425.58,130.97 L425.64,130.95 L425.71,130.94 L425.78,130.92 L425.85,130.91 L425.91,130.89 L425.98,130.88 L426.05,130.86 L426.11,130.85 L426.18,130.83 L426.25,130.82 L426.32,130.80 L426.38,130.79 L426.45,130.77 L426.52,130.76 L426.58,130.74 L426.65,130.72 L426.72,130.71 L426.78,130.69 L426.85,130.68 L426.92,130.66 L426.99,130.65 L427.05,130.63 L427.12,130.62 L427.19,130.60 L427.25,130.59 L427.32,130.57 L427.39,130.56 L427.45,130.54 L427.52,130.53 L427.59,130.51 L427.66,130.50 L427.72,130.48 L427.79,130.47 L427.86,130.45 L427.92,130.44 L427.99,130.42 L428.06,130.40 L428.13,130.39 L428.19,130.37 L428.26,130.36 L428.33,130.34 L428.39,130.33 L428.46,130.31 L428.53,130.30 L428.59,130.28 L428.66,130.27 L428.73,130.25 L428.80,130.24 L428.86,130.22 L428.93,130.21 L429.00,130.19 L429.06,130.18 L429.13,130.16 L429.20,130.15 L429.27,130.13 L429.33,130.12 L429.40,130.10 L429.47,130.08 L429.53,130.07 L429.60,130.05 L429.67,130.04 L429.73,130.02 L429.80,130.01 L429.87,129.99 L429.94,129.98 L430.00,129.96 L430.07,129.95 L430.14,129.93 L430.20,129.92 L430.27,129.90 L430.34,129.89 L430.40,129.87 L430.47,129.86 L430.54,129.84 L430.61,129.83 L430.67,129.81 L430.74,129.80 L430.81,129.78 L430.87,129.76 L430.94,129.75 L431.01,129.73 L431.08,129.72 L431.14,129.70 L431.21,129.69 L431.28,129.67 L431.34,129.66 L431.41,129.64 L431.48,129.63 L431.54,129.61 L431.61,129.60 L431.68,129.58 L431.75,129.57 L431.81,129.55 L431.88,129.54 L431.95,129.52 L432.01,129.51 L432.08,129.49 L432.15,129.48 L432.21,129.46 L432.28,129.44 L432.35,129.43 L432.42,129.41 L432.48,129.40 L432.55,129.38 L432.62,129.37 L432.68,129.35 L432.75,129.34 L432.82,129.32 L432.89,129.31 L432.95,129.29 L433.02,129.28 L433.09,129.26 L433.15,129.25 L433.22,129.23 L433.29,129.22 L433.35,129.20 L433.42,129.19 L433.49,129.17 L433.56,129.16 L433.62,129.14 L433.69,129.12 L433.76,129.11 L433.82,129.09 L433.89,129.08 L433.96,129.06 L434.03,129.05 L434.09,129.03 L434.16,129.02 L434.23,129.00 L434.29,128.99 L434.36,128.97 L434.43,128.96 L434.49,128.94 L434.56,128.93 L434.63,128.91 L434.70,128.90 L434.76,128.88 L434.83,128.87 L434.90,128.85 L434.96,128.84 L435.03,128.82 L435.10,128.80 L435.16,128.79 L435.23,128.77 L435.30,128.76 L435.37,128.74 L435.43,128.73 L435.50,128.71 L435.57,128.70 L435.63,128.68 L435.70,128.67 L435.77,128.65 L435.84,128.64 L435.90,128.62 L435.97,128.61 L436.04,128.59 L436.10,128.58 L436.17,128.56 L436.24,128.55 L436.30,128.53 L436.37,128.52 L436.44,128.50 L436.51,128.48 L436.57,128.47 L436.64,128.45 L436.71,128.44 L436.77,128.42 L436.84,128.41 L436.91,128.39 L436.97,128.38 L437.04,128.36 L437.11,128.35 L437.18,128.33 L437.24,128.32 L437.31,128.30 L437.38,128.29 L437.44,128.27 L437.51,128.26 L437.58,128.24 L437.65,128.23 L437.71,128.21 L437.78,128.20 L437.85,128.18 L437.91,128.16 L437.98,128.15 L438.05,128.13 L438.11,128.12 L438.18,128.10 L438.25,128.09 L438.32,128.07 L438.38,128.06 L438.45,128.04 L438.52,128.03 L438.58,128.01 L438.65,128.00 L438.72,127.98 L438.78,127.97 L438.85,127.95 L438.92,127.94 L438.99,127.92 L439.05,127.91 L439.12,127.89 L439.19,127.88 L439.25,127.86 L439.32,127.84 L439.39,127.83 L439.46,127.81 L439.52,127.80 L439.59,127.78 L439.66,127.77 L439.72,127.75 L439.79,127.74 L439.86,127.72 L439.92,127.71 L439.99,127.69 L440.06,127.68 L440.13,127.66 L440.19,127.65 L440.26,127.63 L440.33,127.62 L440.39,127.60 L440.46,127.59 L440.53,127.57 L440.60,127.56 L440.66,127.54 L440.73,127.52 L440.80,127.51 L440.86,127.49 L440.93,127.48 L441.00,127.46 L441.06,127.45 L441.13,127.43 L441.20,127.42 L441.27,127.40 L441.33,127.39 L441.40,127.37 L441.47,127.36 L441.53,127.34 L441.60,127.33 L441.67,127.31 L441.73,127.30 L441.80,127.28 L441.87,127.27 L441.94,127.25 L442.00,127.24 L442.07,127.22 L442.14,127.20 L442.20,127.19 L442.27,127.17 L442.34,127.16 L442.41,127.14 L442.47,127.13 L442.54,127.11 L442.61,127.10 L442.67,127.08 L442.74,127.07 L442.81,127.05 L442.87,127.04 L442.94,127.02 L443.01,127.01 L443.08,126.99 L443.14,126.98 L443.21,126.96 L443.28,126.95 L443.34,126.93 L443.41,126.92 L443.48,126.90 L443.54,126.88 L443.61,126.87 L443.68,126.85 L443.75,126.84 L443.81,126.82 L443.88,126.81 L443.95,126.79 L444.01,126.78 L444.08,126.76 L444.15,126.75 L444.22,126.73 L444.28,126.72 L444.35,126.70 L444.42,126.69 L444.48,126.67 L444.55,126.66 L444.62,126.64 L444.68,126.63 L444.75,126.61 L444.82,126.60 L444.89,126.58 L444.95,126.56 L445.02,126.55 L445.09,126.53 L445.15,126.52 L445.22,126.50 L445.29,126.49 L445.35,126.47 L445.42,126.46 L445.49,126.44 L445.56,126.43 L445.62,126.41 L445.69,126.40 L445.76,126.38 L445.82,126.37 L445.89,126.35 L445.96,126.34 L446.03,126.32 L446.09,126.31 L446.16,126.29 L446.23,126.28 L446.29,126.26 L446.36,126.24 L446.43,126.23 L446.49,126.21 L446.56,126.20 L446.63,126.18 L446.70,126.17 L446.76,126.15 L446.83,126.14 L446.90,126.12 L446.96,126.11 L447.03,126.09 L447.10,126.08 L447.17,126.06 L447.23,126.05 L447.30,126.03 L447.37,126.02 L447.43,126.00 L447.50,125.99 L447.57,125.97 L447.63,125.96 L447.70,125.94 L447.77,125.92 L447.84,125.91 L447.90,125.89 L447.97,125.88 L448.04,125.86 L448.10,125.85 L448.17,125.83 L448.24,125.82 L448.30,125.80 L448.37,125.79 L448.44,125.77 L448.51,125.76 L448.57,125.74 L448.64,125.73 L448.71,125.71 L448.77,125.70 L448.84,125.68 L448.91,125.67 L448.98,125.65 L449.04,125.64 L449.11,125.62 L449.18,125.60 L449.24,125.59 L449.31,125.57 L449.38,125.56 L449.44,125.54 L449.51,125.53 L449.58,125.51 L449.65,125.50 L449.71,125.48 L449.78,125.47 L449.85,125.45 L449.91,125.44 L449.98,125.42 L450.05,125.41 L450.11,125.39 L450.18,125.38 L450.25,125.36 L450.32,125.35 L450.38,125.33 L450.45,125.32 L450.52,125.30 L450.58,125.28 L450.65,125.27 L450.72,125.25 L450.79,125.24 L450.85,125.22 L450.92,125.21 L450.99,125.19 L451.05,125.18 L451.12,125.16 L451.19,125.15 L451.25,125.13 L451.32,125.12 L451.39,125.10 L451.46,125.09 L451.52,125.07 L451.59,125.06 L451.66,125.04 L451.72,125.03 L451.79,125.01 L451.86,125.00 L451.93,124.98 L451.99,124.96 L452.06,124.95 L452.13,124.93 L452.19,124.92 L452.26,124.90 L452.33,124.89 L452.39,124.87 L452.46,124.86 L452.53,124.84 L452.60,124.83 L452.66,124.81 L452.73,124.80 L452.80,124.78 L452.86,124.77 L452.93,124.75 L453.00,124.74 L453.06,124.72 L453.13,124.71 L453.20,124.69 L453.27,124.68 L453.33,124.66 L453.40,124.64 L453.47,124.63 L453.53,124.61 L453.60,124.60 L453.67,124.58 L453.74,124.57 L453.80,124.55 L453.87,124.54 L453.94,124.52 L454.00,124.51 L454.07,124.49 L454.14,124.48 L454.20,124.46 L454.27,124.45 L454.34,124.43 L454.41,124.42 L454.47,124.40 L454.54,124.39 L454.61,124.37 L454.67,124.36 L454.74,124.34 L454.81,124.32 L454.87,124.31 L454.94,124.29 L455.01,124.28 L455.08,124.26 L455.14,124.25 L455.21,124.23 L455.28,124.22 L455.34,124.20 L455.41,124.19 L455.48,124.17 L455.55,124.16 L455.61,124.14 L455.68,124.13 L455.75,124.11 L455.81,124.10 L455.88,124.08 L455.95,124.07 L456.01,124.05 L456.08,124.04 L456.15,124.02 L456.22,124.00 L456.28,123.99 L456.35,123.97 L456.42,123.96 L456.48,123.94 L456.55,123.93 L456.62,123.91 L456.68,123.90 L456.75,123.88 L456.82,123.87 L456.89,123.85 L456.95,123.84 L457.02,123.82 L457.09,123.81 L457.15,123.79 L457.22,123.78 L457.29,123.76 L457.36,123.75 L457.42,123.73 L457.49,123.72 L457.56,123.70 L457.62,123.68 L457.69,123.67 L457.76,123.65 L457.82,123.64 L457.89,123.62 L457.96,123.61 L458.03,123.59 L458.09,123.58 L458.16,123.56 L458.23,123.55 L458.29,123.53 L458.36,123.52 L458.43,123.50 L458.50,123.49 L458.56,123.47 L458.63,123.46 L458.70,123.44 L458.76,123.43 L458.83,123.41 L458.90,123.40 L458.96,123.38 L459.03,123.36 L459.10,123.35 L459.17,123.33 L459.23,123.32 L459.30,123.30 L459.37,123.29 L459.43,123.27 L459.50,123.26 L459.57,123.24 L459.63,123.23 L459.70,123.21 L459.77,123.20 L459.84,123.18 L459.90,123.17 L459.97,123.15 L460.04,123.14 L460.10,123.12 L460.17,123.11 L460.24,123.09 L460.31,123.08 L460.37,123.06 L460.44,123.04 L460.51,123.03 L460.57,123.01 L460.64,123.00 L460.71,122.98 L460.77,122.97 L460.84,122.95 L460.91,122.94 L460.98,122.92 L461.04,122.91 L461.11,122.89 L461.18,122.88 L461.24,122.86 L461.31,122.85 L461.38,122.83 L461.44,122.82 L461.51,122.80 L461.58,122.79 L461.65,122.77 L461.71,122.76 L461.78,122.74 L461.85,122.72 L461.91,122.71 L461.98,122.69 L462.05,122.68 L462.12,122.66 L462.18,122.65 L462.25,122.63 L462.32,122.62 L462.38,122.60 L462.45,122.59 L462.52,122.57 L462.58,122.56 L462.65,122.54 L462.72,122.53 L462.79,122.51 L462.85,122.50 L462.92,122.48 L462.99,122.47 L463.05,122.45 L463.12,122.44 L463.19,122.42 L463.25,122.41 L463.32,122.39 L463.39,122.37 L463.46,122.36 L463.52,122.34 L463.59,122.33 L463.66,122.31 L463.72,122.30 L463.79,122.28 L463.86,122.27 L463.93,122.25 L463.99,122.24 L464.06,122.22 L464.13,122.21 L464.19,122.19 L464.26,122.18 L464.33,122.16 L464.39,122.15 L464.46,122.13 L464.53,122.12 L464.60,122.10 L464.66,122.09 L464.73,122.07 L464.80,122.05 L464.86,122.04 L464.93,122.02 L465.00,122.01 L465.07,121.99 L465.13,121.98 L465.20,121.96 L465.27,121.95 L465.33,121.93 L465.40,121.92 L465.47,121.90 L465.53,121.89 L465.60,121.87 L465.67,121.86 L465.74,121.84 L465.80,121.83 L465.87,121.81 L465.94,121.80 L466.00,121.78 L466.07,121.77 L466.14,121.75 L466.20,121.73 L466.27,121.72 L466.34,121.70 L466.41,121.69 L466.47,121.67 L466.54,121.66 L466.61,121.64 L466.67,121.63 L466.74,121.61 L466.81,121.60 L466.88,121.58 L466.94,121.57 L467.01,121.55 L467.08,121.54 L467.14,121.52 L467.21,121.51 L467.28,121.49 L467.34,121.48 L467.41,121.46 L467.48,121.45 L467.55,121.43 L467.61,121.41 L467.68,121.40 L467.75,121.38 L467.81,121.37 L467.88,121.35 L467.95,121.34 L468.01,121.32 L468.08,121.31 L468.15,121.29 L468.22,121.28 L468.28,121.26 L468.35,121.25 L468.42,121.23 L468.48,121.22 L468.55,121.20 L468.62,121.19 L468.69,121.17 L468.75,121.16 L468.82,121.14 L468.89,121.13 L468.95,121.11 L469.02,121.09 L469.09,121.08 L469.15,121.06 L469.22,121.05 L469.29,121.03 L469.36,121.02 L469.42,121.00 L469.49,120.99 L469.56,120.97 L469.62,120.96 L469.69,120.94 L469.76,120.93 L469.82,120.91 L469.89,120.90 L469.96,120.88 L470.03,120.87 L470.09,120.85 L470.16,120.84 L470.23,120.82 L470.29,120.81 L470.36,120.79 L470.43,120.77 L470.50,120.76 L470.56,120.74 L470.63,120.73 L470.70,120.71 L470.76,120.70 L470.83,120.68 L470.90,120.67 L470.96,120.65 L471.03,120.64 L471.10,120.62 L471.17,120.61 L471.23,120.59 L471.30,120.58 L471.37,120.56 L471.43,120.55 L471.50,120.53 L471.57,120.52 L471.64,120.50 L471.70,120.49 L471.77,120.47 L471.84,120.45 L471.90,120.44 L471.97,120.42 L472.04,120.41 L472.10,120.39 L472.17,120.38 L472.24,120.36 L472.31,120.35 L472.37,120.33 L472.44,120.32 L472.51,120.30 L472.57,120.29 L472.64,120.27 L472.71,120.26 L472.77,120.24 L472.84,120.23 L472.91,120.21 L472.98,120.20 L473.04,120.18 L473.11,120.17 L473.18,120.15 L473.24,120.13 L473.31,120.12 L473.38,120.10 L473.45,120.09 L473.51,120.07 L473.58,120.06 L473.65,120.04 L473.71,120.03 L473.78,120.01 L473.85,120.00 L473.91,119.98 L473.98,119.97 L474.05,119.95 L474.12,119.94 L474.18,119.92 L474.25,119.91 L474.32,119.89 L474.38,119.88 L474.45,119.86 L474.52,119.85 L474.58,119.83 L474.65,119.81 L474.72,119.80 L474.79,119.78 L474.85,119.77 L474.92,119.75 L474.99,119.74 L475.05,119.72 L475.12,119.71 L475.19,119.69 L475.26,119.68 L475.32,119.66 L475.39,119.65 L475.46,119.63 L475.52,119.62 L475.59,119.60 L475.66,119.59 L475.72,119.57 L475.79,119.56 L475.86,119.54 L475.93,119.53 L475.99,119.51 L476.06,119.49 L476.13,119.48 L476.19,119.46 L476.26,119.45 L476.33,119.43 L476.40,119.42 L476.46,119.40 L476.53,119.39 L476.60,119.37 L476.66,119.36 L476.73,119.34 L476.80,119.33 L476.86,119.31 L476.93,119.30 L477.00,119.28 L477.07,119.27 L477.13,119.25 L477.20,119.24 L477.27,119.22 L477.33,119.21 L477.40,119.19 L477.47,119.17 L477.53,119.16 L477.60,119.14 L477.67,119.13 L477.74,119.11 L477.80,119.10 L477.87,119.08 L477.94,119.07 L478.00,119.05 L478.07,119.04 L478.14,119.02 L478.21,119.01 L478.27,118.99 L478.34,118.98 L478.41,118.96 L478.47,118.95 L478.54,118.93 L478.61,118.92 L478.67,118.90 L478.74,118.89 L478.81,118.87 L478.88,118.85 L478.94,118.84 L479.01,118.82 L479.08,118.81 L479.14,118.79 L479.21,118.78 L479.28,118.76 L479.34,118.75 L479.41,118.73 L479.48,118.72 L479.55,118.70 L479.61,118.69 L479.68,118.67 L479.75,118.66 L479.81,118.64 L479.88,118.63 L479.95,118.61 L480.02,118.60 L480.08,118.58 L480.15,118.57 L480.22,118.55 L480.28,118.53 L480.35,118.52 L480.42,118.50 L480.48,118.49 L480.55,118.47 L480.62,118.46 L480.69,118.44 L480.75,118.43 L480.82,118.41 L480.89,118.40 L480.95,118.38 L481.02,118.37 L481.09,118.35 L481.15,118.34 L481.22,118.32 L481.29,118.31 L481.36,118.29 L481.42,118.28 L481.49,118.26 L481.56,118.25 L481.62,118.23 L481.69,118.21 L481.76,118.20 L481.83,118.18 L481.89,118.17 L481.96,118.15 L482.03,118.14 L482.09,118.12 L482.16,118.11 L482.23,118.09 L482.29,118.08 L482.36,118.06 L482.43,118.05 L482.50,118.03 L482.56,118.02 L482.63,118.00 L482.70,117.99 L482.76,117.97 L482.83,117.96 L482.90,117.94 L482.97,117.93 L483.03,117.91 L483.10,117.89 L483.17,117.88 L483.23,117.86 L483.30,117.85 L483.37,117.83 L483.43,117.82 L483.50,117.80 L483.57,117.79 L483.64,117.77 L483.70,117.76 L483.77,117.74 L483.84,117.73 L483.90,117.71 L483.97,117.70 L484.04,117.68 L484.10,117.67 L484.17,117.65 L484.24,117.64 L484.31,117.62 L484.37,117.61 L484.44,117.59 L484.51,117.57 L484.57,117.56 L484.64,117.54 L484.71,117.53 L484.78,117.51 L484.84,117.50 L484.91,117.48 L484.98,117.47 L485.04,117.45 L485.11,117.44 L485.18,117.42 L485.24,117.41 L485.31,117.39 L485.38,117.38 L485.45,117.36 L485.51,117.35 L485.58,117.33 L485.65,117.32 L485.71,117.30 L485.78,117.29 L485.85,117.27 L485.91,117.25 L485.98,117.24 L486.05,117.22 L486.12,117.21 L486.18,117.19 L486.25,117.18 L486.32,117.16 L486.38,117.15 L486.45,117.13 L486.52,117.12 L486.59,117.10 L486.65,117.09 L486.72,117.07 L486.79,117.06 L486.85,117.04 L486.92,117.03 L486.99,117.01 L487.05,117.00 L487.12,116.98 L487.19,116.97 L487.26,116.95 L487.32,116.93 L487.39,116.92 L487.46,116.90 L487.52,116.89 L487.59,116.87 L487.66,116.86 L487.72,116.84 L487.79,116.83 L487.86,116.81 L487.93,116.80 L487.99,116.78 L488.06,116.77 L488.13,116.75 L488.19,116.74 L488.26,116.72 L488.33,116.71 L488.40,116.69 L488.46,116.68 L488.53,116.66 L488.60,116.65 L488.66,116.63 L488.73,116.61 L488.80,116.60 L488.86,116.58 L488.93,116.57 L489.00,116.55 L489.07,116.54 L489.13,116.52 L489.20,116.51 L489.27,116.49 L489.33,116.48 L489.40,116.46 L489.47,116.45 L489.54,116.43 L489.60,116.42 L489.67,116.40 L489.74,116.39 L489.80,116.37 L489.87,116.36 L489.94,116.34 L490.00,116.33 L490.07,116.31 L490.14,116.29 L490.21,116.28 L490.27,116.26 L490.34,116.25 L490.41,116.23 L490.47,116.22 L490.54,116.20 L490.61,116.19 L490.67,116.17 L490.74,116.16 L490.81,116.14 L490.88,116.13 L490.94,116.11 L491.01,116.10 L491.08,116.08 L491.14,116.07 L491.21,116.05 L491.28,116.04 L491.35,116.02 L491.41,116.01 L491.48,115.99 L491.55,115.97 L491.61,115.96 L491.68,115.94 L491.75,115.93 L491.81,115.91 L491.88,115.90 L491.95,115.88 L492.02,115.87 L492.08,115.85 L492.15,115.84 L492.22,115.82 L492.28,115.81 L492.35,115.79 L492.42,115.78 L492.48,115.76 L492.55,115.75 L492.62,115.73 L492.69,115.72 L492.75,115.70 L492.82,115.69 L492.89,115.67 L492.95,115.65 L493.02,115.64 L493.09,115.62 L493.16,115.61 L493.22,115.59 L493.29,115.58 L493.36,115.56 L493.42,115.55 L493.49,115.53 L493.56,115.52 L493.62,115.50 L493.69,115.49 L493.76,115.47 L493.83,115.46 L493.89,115.44 L493.96,115.43 L494.03,115.41 L494.09,115.40 L494.16,115.38 L494.23,115.37 L494.29,115.35 L494.36,115.33 L494.43,115.32 L494.50,115.30 L494.56,115.29 L494.63,115.27 L494.70,115.26 L494.76,115.24 L494.83,115.23 L494.90,115.21 L494.97,115.20 L495.03,115.18 L495.10,115.17 L495.17,115.15 L495.23,115.14 L495.30,115.12 L495.37,115.11 L495.43,115.09 L495.50,115.08 L495.57,115.06 L495.64,115.05 L495.70,115.03 L495.77,115.01 L495.84,115.00 L495.90,114.98 L495.97,114.97 L496.04,114.95 L496.11,114.94 L496.17,114.92 L496.24,114.91 L496.31,114.89 L496.37,114.88 L496.44,114.86 L496.51,114.85 L496.57,114.83 L496.64,114.82 L496.71,114.80 L496.78,114.79 L496.84,114.77 L496.91,114.76 L496.98,114.74 L497.04,114.73 L497.11,114.71 L497.18,114.69 L497.24,114.68 L497.31,114.66 L497.38,114.65 L497.45,114.63 L497.51,114.62 L497.58,114.60 L497.65,114.59 L497.71,114.57 L497.78,114.56 L497.85,114.54 L497.92,114.53 L497.98,114.51 L498.05,114.50 L498.12,114.48 L498.18,114.47 L498.25,114.45 L498.32,114.44 L498.38,114.42 L498.45,114.41 L498.52,114.39 L498.59,114.37 L498.65,114.36 L498.72,114.34 L498.79,114.33 L498.85,114.31 L498.92,114.30 L498.99,114.28 L499.05,114.27 L499.12,114.25 L499.19,114.24 L499.26,114.22 L499.32,114.21 L499.39,114.19 L499.46,114.18 L499.52,114.16 L499.59,114.15 L499.66,114.13 L499.73,114.12 L499.79,114.10 L499.86,114.09 L499.93,114.07 L499.99,114.05 L500.06,114.04 L500.13,114.02 L500.19,114.01 L500.26,113.99 L500.33,113.98 L500.40,113.96 L500.46,113.95 L500.53,113.93 L500.60,113.92 L500.66,113.90 L500.73,113.89 L500.80,113.87 L500.87,113.86 L500.93,113.84 L501.00,113.83 L501.07,113.81 L501.13,113.80 L501.20,113.78 L501.27,113.77 L501.33,113.75 L501.40,113.73 L501.47,113.72 L501.54,113.70 L501.60,113.69 L501.67,113.67 L501.74,113.66 L501.80,113.64 L501.87,113.63 L501.94,113.61 L502.00,113.60 L502.07,113.58 L502.14,113.57 L502.21,113.55 L502.27,113.54 L502.34,113.52 L502.41,113.51 L502.47,113.49 L502.54,113.48 L502.61,113.46 L502.68,113.45 L502.74,113.43 L502.81,113.41 L502.88,113.40 L502.94,113.38 L503.01,113.37 L503.08,113.35 L503.14,113.34 L503.21,113.32 L503.28,113.31 L503.35,113.29 L503.41,113.28 L503.48,113.26 L503.55,113.25 L503.61,113.23 L503.68,113.22 L503.75,113.20 L503.81,113.19 L503.88,113.17 L503.95,113.16 L504.02,113.14 L504.08,113.13 L504.15,113.11 L504.22,113.09 L504.28,113.08 L504.35,113.06 L504.42,113.05 L504.49,113.03 L504.55,113.02 L504.62,113.00 L504.69,112.99 L504.75,112.97 L504.82,112.96 L504.89,112.94 L504.95,112.93 L505.02,112.91 L505.09,112.90 L505.16,112.88 L505.22,112.87 L505.29,112.85 L505.36,112.84 L505.42,112.82 L505.49,112.81 L505.56,112.79 L505.62,112.77 L505.69,112.76 L505.76,112.74 L505.83,112.73 L505.89,112.71 L505.96,112.70 L506.03,112.68 L506.09,112.67 L506.16,112.65 L506.23,112.64 L506.30,112.62 L506.36,112.61 L506.43,112.59 L506.50,112.58 L506.56,112.56 L506.63,112.55 L506.70,112.53 L506.76,112.52 L506.83,112.50 L506.90,112.49 L506.97,112.47 L507.03,112.45 L507.10,112.44 L507.17,112.42 L507.23,112.41 L507.30,112.39 L507.37,112.38 L507.44,112.36 L507.50,112.35 L507.57,112.33 L507.64,112.32 L507.70,112.30 L507.77,112.29 L507.84,112.27 L507.90,112.26 L507.97,112.24 L508.04,112.23 L508.11,112.21 L508.17,112.20 L508.24,112.18 L508.31,112.17 L508.37,112.15 L508.44,112.13 L508.51,112.12 L508.57,112.10 L508.64,112.09 L508.71,112.07 L508.78,112.06 L508.84,112.04 L508.91,112.03 L508.98,112.01 L509.04,112.00 L509.11,111.98 L509.18,111.97 L509.25,111.95 L509.31,111.94 L509.38,111.92 L509.45,111.91 L509.51,111.89 L509.58,111.88 L509.65,111.86 L509.71,111.85 L509.78,111.83 L509.85,111.81 L509.92,111.80 L509.98,111.78 L510.05,111.77 L510.12,111.75 L510.18,111.74 L510.25,111.72 L510.32,111.71 L510.38,111.69 L510.45,111.68 L510.52,111.66 L510.59,111.65 L510.65,111.63 L510.72,111.62 L510.79,111.60 L510.85,111.59 L510.92,111.57 L510.99,111.56 L511.06,111.54 L511.12,111.53 L511.19,111.51 L511.26,111.49 L511.32,111.48 L511.39,111.46 L511.46,111.45 L511.52,111.43 L511.59,111.42 L511.66,111.40 L511.73,111.39 L511.79,111.37 L511.86,111.36 L511.93,111.34 L511.99,111.33 L512.06,111.31 L512.13,111.30 L512.19,111.28 L512.26,111.27 L512.33,111.25 L512.40,111.24 L512.46,111.22 L512.53,111.21 L512.60,111.19 L512.66,111.17 L512.73,111.16 L512.80,111.14 L512.87,111.13 L512.93,111.11 L513.00,111.10 L513.07,111.08 L513.13,111.07 L513.20,111.05 L513.27,111.04 L513.33,111.02 L513.40,111.01 L513.47,110.99 L513.54,110.98 L513.60,110.96 L513.67,110.95 L513.74,110.93 L513.80,110.92 L513.87,110.90 L513.94,110.89 L514.01,110.87 L514.07,110.85 L514.14,110.84 L514.21,110.82 L514.27,110.81 L514.34,110.79 L514.41,110.78 L514.47,110.76 L514.54,110.75 L514.61,110.73 L514.68,110.72 L514.74,110.70 L514.81,110.69 L514.88,110.67 L514.94,110.66 L515.01,110.64 L515.08,110.63 L515.14,110.61 L515.21,110.60 L515.28,110.58 L515.35,110.57 L515.41,110.55 L515.48,110.53 L515.55,110.52 L515.61,110.50 L515.68,110.49 L515.75,110.47 L515.82,110.46 L515.88,110.44 L515.95,110.43 L516.02,110.41 L516.08,110.40 L516.15,110.38 L516.22,110.37 L516.28,110.35 L516.35,110.34 L516.42,110.32 L516.49,110.31 L516.55,110.29 L516.62,110.28 L516.69,110.26 L516.75,110.25 L516.82,110.23 L516.89,110.21 L516.95,110.20 L517.02,110.18 L517.09,110.17 L517.16,110.15 L517.22,110.14 L517.29,110.12 L517.36,110.11 L517.42,110.09 L517.49,110.08 L517.56,110.06 L517.63,110.05 L517.69,110.03 L517.76,110.02 L517.83,110.00 L517.89,109.99 L517.96,109.97 L518.03,109.96 L518.09,109.94 L518.16,109.93 L518.23,109.91 L518.30,109.89 L518.36,109.88 L518.43,109.86 L518.50,109.85 L518.56,109.83 L518.63,109.82 L518.70,109.80 L518.76,109.79 L518.83,109.77 L518.90,109.76 L518.97,109.74 L519.03,109.73 L519.10,109.71 L519.17,109.70 L519.23,109.68 L519.30,109.67 L519.37,109.65 L519.44,109.64 L519.50,109.62 L519.57,109.61 L519.64,109.59 L519.70,109.57 L519.77,109.56 L519.84,109.54 L519.90,109.53 L519.97,109.51 L520.04,109.50 L520.11,109.48 L520.17,109.47 L520.24,109.45 L520.31,109.44 L520.37,109.42 L520.44,109.41 L520.51,109.39 L520.58,109.38 L520.64,109.36 L520.71,109.35 L520.78,109.33 L520.84,109.32 L520.91,109.30 L520.98,109.29 L521.04,109.27 L521.11,109.25 L521.18,109.24 L521.25,109.22 L521.31,109.21 L521.38,109.19 L521.45,109.18 L521.51,109.16 L521.58,109.15 L521.65,109.13 L521.71,109.12 L521.78,109.10 L521.85,109.09 L521.92,109.07 L521.98,109.06 L522.05,109.04 L522.12,109.03 L522.18,109.01 L522.25,109.00 L522.32,108.98 L522.39,108.97 L522.45,108.95 L522.52,108.93 L522.59,108.92 L522.65,108.90 L522.72,108.89 L522.79,108.87 L522.85,108.86 L522.92,108.84 L522.99,108.83 L523.06,108.81 L523.12,108.80 L523.19,108.78 L523.26,108.77 L523.32,108.75 L523.39,108.74 L523.46,108.72 L523.52,108.71 L523.59,108.69 L523.66,108.68 L523.73,108.66 L523.79,108.65 L523.86,108.63 L523.93,108.61 L523.99,108.60 L524.06,108.58 L524.13,108.57 L524.20,108.55 L524.26,108.54 L524.33,108.52 L524.40,108.51 L524.46,108.49 L524.53,108.48 L524.60,108.46 L524.66,108.45 L524.73,108.43 L524.80,108.42 L524.87,108.40 L524.93,108.39 L525.00,108.37 L525.07,108.36 L525.13,108.34 L525.20,108.33 L525.27,108.31 L525.34,108.29 L525.40,108.28 L525.47,108.26 L525.54,108.25 L525.60,108.23 L525.67,108.22 L525.74,108.20 L525.80,108.19 L525.87,108.17 L525.94,108.16 L526.01,108.14 L526.07,108.13 L526.14,108.11 L526.21,108.10 L526.27,108.08 L526.34,108.07 L526.41,108.05 L526.47,108.04 L526.54,108.02 L526.61,108.01 L526.68,107.99 L526.74,107.97 L526.81,107.96 L526.88,107.94 L526.94,107.93 L527.01,107.91 L527.08,107.90 L527.15,107.88 L527.21,107.87 L527.28,107.85 L527.35,107.84 L527.41,107.82 L527.48,107.81 L527.55,107.79 L527.61,107.78 L527.68,107.76 L527.75,107.75 L527.82,107.73 L527.88,107.72 L527.95,107.70 L528.02,107.69 L528.08,107.67 L528.15,107.65 L528.22,107.64 L528.28,107.62 L528.35,107.61 L528.42,107.59 L528.49,107.58 L528.55,107.56 L528.62,107.55 L528.69,107.53 L528.75,107.52 L528.82,107.50 L528.89,107.49 L528.96,107.47 L529.02,107.46 L529.09,107.44 L529.16,107.43 L529.22,107.41 L529.29,107.40 L529.36,107.38 L529.42,107.37 L529.49,107.35 L529.56,107.33 L529.63,107.32 L529.69,107.30 L529.76,107.29 L529.83,107.27 L529.89,107.26 L529.96,107.24 L530.03,107.23 L530.09,107.21 L530.16,107.20 L530.23,107.18 L530.30,107.17 L530.36,107.15 L530.43,107.14 L530.50,107.12 L530.56,107.11 L530.63,107.09 L530.70,107.08 L530.77,107.06 L530.83,107.05 L530.90,107.03 L530.97,107.01 L531.03,107.00 L531.10,106.98 L531.17,106.97 L531.23,106.95 L531.30,106.94 L531.37,106.92 L531.44,106.91 L531.50,106.89 L531.57,106.88 L531.64,106.86 L531.70,106.85 L531.77,106.83 L531.84,106.82 L531.91,106.80 L531.97,106.79 L532.04,106.77 L532.11,106.76 L532.17,106.74 L532.24,106.73 L532.31,106.71 L532.37,106.69 L532.44,106.68 L532.51,106.66 L532.58,106.65 L532.64,106.63 L532.71,106.62 L532.78,106.60 L532.84,106.59 L532.91,106.57 L532.98,106.56 L533.04,106.54 L533.11,106.53 L533.18,106.51 L533.25,106.50 L533.31,106.48 L533.38,106.47 L533.45,106.45 L533.51,106.44 L533.58,106.42 L533.65,106.41 L533.72,106.39 L533.78,106.37 L533.85,106.36 L533.92,106.34 L533.98,106.33 L534.05,106.31 L534.12,106.30 L534.18,106.28 L534.25,106.27 L534.32,106.25 L534.39,106.24 L534.45,106.22 L534.52,106.21 L534.59,106.19 L534.65,106.18 L534.72,106.16 L534.79,106.15 L534.85,106.13 L534.92,106.12 L534.99,106.10 L535.06,106.09 L535.12,106.07 L535.19,106.05 L535.26,106.04 L535.32,106.02 L535.39,106.01 L535.46,105.99 L535.53,105.98 L535.59,105.96 L535.66,105.95 L535.73,105.93 L535.79,105.92 L535.86,105.90 L535.93,105.89 L535.99,105.87 L536.06,105.86 L536.13,105.84 L536.20,105.83 L536.26,105.81 L536.33,105.80 L536.40,105.78 L536.46,105.77 L536.53,105.75 L536.60,105.73 L536.66,105.72 L536.73,105.70 L536.80,105.69 L536.87,105.67 L536.93,105.66 L537.00,105.64 L537.07,105.63 L537.13,105.61 L537.20,105.60 L537.27,105.58 L537.34,105.57 L537.40,105.55 L537.47,105.54 L537.54,105.52 L537.60,105.51 L537.67,105.49 L537.74,105.48 L537.80,105.46 L537.87,105.45 L537.94,105.43 L538.01,105.41 L538.07,105.40 L538.14,105.38 L538.21,105.37 L538.27,105.35 L538.34,105.34 L538.41,105.32 L538.48,105.31 L538.54,105.29 L538.61,105.28 L538.68,105.26 L538.74,105.25 L538.81,105.23 L538.88,105.22 L538.94,105.20 L539.01,105.19 L539.08,105.17 L539.15,105.16 L539.21,105.14 L539.28,105.13 L539.35,105.11 L539.41,105.09 L539.48,105.08 L539.55,105.06 L539.61,105.05 L539.68,105.03 L539.75,105.02 L539.82,105.00 L539.88,104.99 L539.95,104.97 L540.02,104.96 L540.08,104.94 L540.15,104.93 L540.22,104.91 L540.29,104.90 L540.35,104.88 L540.42,104.87 L540.49,104.85 L540.55,104.84 L540.62,104.82 L540.69,104.81 L540.75,104.79 L540.82,104.77 L540.89,104.76 L540.96,104.74 L541.02,104.73 L541.09,104.71 L541.16,104.70 L541.22,104.68 L541.29,104.67 L541.36,104.65 L541.42,104.64 L541.49,104.62 L541.56,104.61 L541.63,104.59 L541.69,104.58 L541.76,104.56 L541.83,104.55 L541.89,104.53 L541.96,104.52 L542.03,104.50 L542.10,104.49 L542.16,104.47 L542.23,104.45 L542.30,104.44 L542.36,104.42 L542.43,104.41 L542.50,104.39 L542.56,104.38 L542.63,104.36 L542.70,104.35 L542.77,104.33 L542.83,104.32 L542.90,104.30 L542.97,104.29 L543.03,104.27 L543.10,104.26 L543.17,104.24 L543.23,104.23 L543.30,104.21 L543.37,104.20 L543.44,104.18 L543.50,104.17 L543.57,104.15 L543.64,104.13 L543.70,104.12 L543.77,104.10 L543.84,104.09 L543.91,104.07 L543.97,104.06 L544.04,104.04 L544.11,104.03 L544.17,104.01 L544.24,104.00 L544.31,103.98 L544.37,103.97 L544.44,103.95 L544.51,103.94 L544.58,103.92 L544.64,103.91 L544.71,103.89 L544.78,103.88 L544.84,103.86 L544.91,103.85 L544.98,103.83 L545.05,103.81 L545.11,103.80 L545.18,103.78 L545.25,103.77 L545.31,103.75 L545.38,103.74 L545.45,103.72 L545.51,103.71 L545.58,103.69 L545.65,103.68 L545.72,103.66 L545.78,103.65 L545.85,103.63 L545.92,103.62 L545.98,103.60 L546.05,103.59 L546.12,103.57 L546.18,103.56 L546.25,103.54 L546.32,103.53 L546.39,103.51 L546.45,103.49 L546.52,103.48 L546.59,103.46 L546.65,103.45 L546.72,103.43 L546.79,103.42 L546.86,103.40 L546.92,103.39 L546.99,103.37 L547.06,103.36 L547.12,103.34 L547.19,103.33 L547.26,103.31 L547.32,103.30 L547.39,103.28 L547.46,103.27 L547.53,103.25 L547.59,103.24 L547.66,103.22 L547.73,103.21 L547.79,103.19 L547.86,103.17 L547.93,103.16 L547.99,103.14 L548.06,103.13 L548.13,103.11 L548.20,103.10 L548.26,103.08 L548.33,103.07 L548.40,103.05 L548.46,103.04 L548.53,103.02 L548.60,103.01 L548.67,102.99 L548.73,102.98 L548.80,102.96 L548.87,102.95 L548.93,102.93 L549.00,102.92 L549.07,102.90 L549.13,102.89 L549.20,102.87 L549.27,102.85 L549.34,102.84 L549.40,102.82 L549.47,102.81 L549.54,102.79 L549.60,102.78 L549.67,102.76 L549.74,102.75 L549.81,102.73 L549.87,102.72 L549.94,102.70 L550.01,102.69 L550.07,102.67 L550.14,102.66 L550.21,102.64 L550.27,102.63 L550.34,102.61 L550.41,102.60 L550.48,102.58 L550.54,102.57 L550.61,102.55 L550.68,102.54 L550.74,102.52 L550.81,102.50 L550.88,102.49 L550.94,102.47 L551.01,102.46 L551.08,102.44 L551.15,102.43 L551.21,102.41 L551.28,102.40 L551.35,102.38 L551.41,102.37 L551.48,102.35 L551.55,102.34 L551.62,102.32 L551.68,102.31 L551.75,102.29 L551.82,102.28 L551.88,102.26 L551.95,102.25 L552.02,102.23 L552.08,102.22 L552.15,102.20 L552.22,102.18 L552.29,102.17 L552.35,102.15 L552.42,102.14 L552.49,102.12 L552.55,102.11 L552.62,102.09 L552.69,102.08 L552.75,102.06 L552.82,102.05 L552.89,102.03 L552.96,102.02 L553.02,102.00 L553.09,101.99 L553.16,101.97 L553.22,101.96 L553.29,101.94 L553.36,101.93 L553.43,101.91 L553.49,101.90 L553.56,101.88 L553.63,101.86 L553.69,101.85 L553.76,101.83 L553.83,101.82 L553.89,101.80 L553.96,101.79 L554.03,101.77 L554.10,101.76 L554.16,101.74 L554.23,101.73 L554.30,101.71 L554.36,101.70 L554.43,101.68 L554.50,101.67 L554.56,101.65 L554.63,101.64 L554.70,101.62 L554.77,101.61 L554.83,101.59 L554.90,101.58 L554.97,101.56 L555.03,101.54 L555.10,101.53 L555.17,101.51 L555.24,101.50 L555.30,101.48 L555.37,101.47 L555.44,101.45 L555.50,101.44 L555.57,101.42 L555.64,101.41 L555.70,101.39 L555.77,101.38 L555.84,101.36 L555.91,101.35 L555.97,101.33 L556.04,101.32 L556.11,101.30 L556.17,101.29 L556.24,101.27 L556.31,101.26 L556.38,101.24 L556.44,101.22 L556.51,101.21 L556.58,101.19 L556.64,101.18 L556.71,101.16 L556.78,101.15 L556.84,101.13 L556.91,101.12 L556.98,101.10 L557.05,101.09 L557.11,101.07 L557.18,101.06 L557.25,101.04 L557.31,101.03 L557.38,101.01 L557.45,101.00 L557.51,100.98 L557.58,100.97 L557.65,100.95 L557.72,100.94 L557.78,100.92 L557.85,100.90 L557.92,100.89 L557.98,100.87 L558.05,100.86 L558.12,100.84 L558.19,100.83 L558.25,100.81 L558.32,100.80 L558.39,100.78 L558.45,100.77 L558.52,100.75 L558.59,100.74 L558.65,100.72 L558.72,100.71 L558.79,100.69 L558.86,100.68 L558.92,100.66 L558.99,100.65 L559.06,100.63 L559.12,100.62 L559.19,100.60 L559.26,100.58 L559.32,100.57 L559.39,100.55 L559.46,100.54 L559.53,100.52 L559.59,100.51 L559.66,100.49 L559.73,100.48 L559.79,100.46 L559.86,100.45 L559.93,100.43 L560.00,100.42 L560.06,100.40 L560.13,100.39 L560.20,100.37 L560.26,100.36 L560.33,100.34 L560.40,100.33 L560.46,100.31 L560.53,100.30 L560.60,100.28 L560.67,100.26 L560.73,100.25 L560.80,100.23 L560.87,100.22 L560.93,100.20 L561.00,100.19 L561.07,100.17 L561.13,100.16 L561.20,100.14 L561.27,100.13 L561.34,100.11 L561.40,100.10 L561.47,100.08 L561.54,100.07 L561.60,100.05 L561.67,100.04 L561.74,100.02 L561.81,100.01 L561.87,99.99 L561.94,99.98 L562.01,99.96 L562.07,99.94 L562.14,99.93 L562.21,99.91 L562.27,99.90 L562.34,99.88 L562.41,99.87 L562.48,99.85 L562.54,99.84 L562.61,99.82 L562.68,99.81 L562.74,99.79 L562.81,99.78 L562.88,99.76 L562.95,99.75 L563.01,99.73 L563.08,99.72 L563.15,99.70 L563.21,99.69 L563.28,99.67 L563.35,99.66 L563.41,99.64 L563.48,99.62 L563.55,99.61 L563.62,99.59 L563.68,99.58 L563.75,99.56 L563.82,99.55 L563.88,99.53 L563.95,99.52 L564.02,99.50 L564.08,99.49 L564.15,99.47 L564.22,99.46 L564.29,99.44 L564.35,99.43 L564.42,99.41 L564.49,99.40 L564.55,99.38 L564.62,99.37 L564.69,99.35 L564.76,99.34 L564.82,99.32 L564.89,99.30 L564.96,99.29 L565.02,99.27 L565.09,99.26 L565.16,99.24 L565.22,99.23 L565.29,99.21 L565.36,99.20 L565.43,99.18 L565.49,99.17 L565.56,99.15 L565.63,99.14 L565.69,99.12 L565.76,99.11 L565.83,99.09 L565.89,99.08 L565.96,99.06 L566.03,99.05 L566.10,99.03 L566.16,99.02 L566.23,99.00 L566.30,98.98 L566.36,98.97 L566.43,98.95 L566.50,98.94 L566.57,98.92 L566.63,98.91 L566.70,98.89 L566.77,98.88 L566.83,98.86 L566.90,98.85 L566.97,98.83 L567.03,98.82 L567.10,98.80 L567.17,98.79 L567.24,98.77 L567.30,98.76 L567.37,98.74 L567.44,98.73 L567.50,98.71 L567.57,98.70 L567.64,98.68 L567.70,98.66 L567.77,98.65 L567.84,98.63 L567.91,98.62 L567.97,98.60 L568.04,98.59 L568.11,98.57 L568.17,98.56 L568.24,98.54 L568.31,98.53 L568.38,98.51 L568.44,98.50 L568.51,98.48 L568.58,98.47 L568.64,98.45 L568.71,98.44 L568.78,98.42 L568.84,98.41 L568.91,98.39 L568.98,98.38 L569.05,98.36 L569.11,98.34 L569.18,98.33 L569.25,98.31 L569.31,98.30 L569.38,98.28 L569.45,98.27 L569.52,98.25 L569.58,98.24 L569.65,98.22 L569.72,98.21 L569.78,98.19 L569.85,98.18 L569.92,98.16 L569.98,98.15 L570.05,98.13 L570.12,98.12 L570.19,98.10 L570.25,98.09 L570.32,98.07 L570.39,98.06 L570.45,98.04 L570.52,98.02 L570.59,98.01 L570.65,97.99 L570.72,97.98 L570.79,97.96 L570.86,97.95 L570.92,97.93 L570.99,97.92 L571.06,97.90 L571.12,97.89 L571.19,97.87 L571.26,97.86 L571.33,97.84 L571.39,97.83 L571.46,97.81 L571.53,97.80 L571.59,97.78 L571.66,97.77 L571.73,97.75 L571.79,97.74 L571.86,97.72 L571.93,97.70 L572.00,97.69 L572.06,97.67 L572.13,97.66 L572.20,97.64 L572.26,97.63 L572.33,97.61 L572.40,97.60 L572.46,97.58 L572.53,97.57 L572.60,97.55 L572.67,97.54 L572.73,97.52 L572.80,97.51 L572.87,97.49 L572.93,97.48 L573.00,97.46 L573.07,97.45 L573.14,97.43 L573.20,97.42 L573.27,97.40 L573.34,97.38 L573.40,97.37 L573.47,97.35 L573.54,97.34 L573.60,97.32 L573.67,97.31 L573.74,97.29 L573.81,97.28 L573.87,97.26 L573.94,97.25 L574.01,97.23 L574.07,97.22 L574.14,97.20 L574.21,97.19 L574.28,97.17 L574.34,97.16 L574.41,97.14 L574.48,97.13 L574.54,97.11 L574.61,97.10 L574.68,97.08 L574.74,97.06 L574.81,97.05 L574.88,97.03 L574.95,97.02 L575.01,97.00 L575.08,96.99 L575.15,96.97 L575.21,96.96 L575.28,96.94 L575.35,96.93 L575.41,96.91 L575.48,96.90 L575.55,96.88 L575.62,96.87 L575.68,96.85 L575.75,96.84 L575.82,96.82 L575.88,96.81 L575.95,96.79 L576.02,96.78 L576.09,96.76 L576.15,96.74 L576.22,96.73 L576.29,96.71 L576.35,96.70 L576.42,96.68 L576.49,96.67 L576.55,96.65 L576.62,96.64 L576.69,96.62 L576.76,96.61 L576.82,96.59 L576.89,96.58 L576.96,96.56 L577.02,96.55 L577.09,96.53 L577.16,96.52 L577.22,96.50 L577.29,96.49 L577.36,96.47 L577.43,96.46 L577.49,96.44 L577.56,96.42 L577.63,96.41 L577.69,96.39 L577.76,96.38 L577.83,96.36 L577.90,96.35 L577.96,96.33 L578.03,96.32 L578.10,96.30 L578.16,96.29 L578.23,96.27 L578.30,96.26 L578.36,96.24 L578.43,96.23 L578.50,96.21 L578.57,96.20 L578.63,96.18 L578.70,96.17 L578.77,96.15 L578.83,96.14 L578.90,96.12 L578.97,96.10 L579.03,96.09 L579.10,96.07 L579.17,96.06 L579.24,96.04 L579.30,96.03 L579.37,96.01 L579.44,96.00 L579.50,95.98 L579.57,95.97 L579.64,95.95 L579.71,95.94 L579.77,95.92 L579.84,95.91 L579.91,95.89 L579.97,95.88 L580.04,95.86 L580.11,95.85 L580.17,95.83 L580.24,95.82 L580.31,95.80 L580.38,95.78 L580.44,95.77 L580.51,95.75 L580.58,95.74 L580.64,95.72 L580.71,95.71 L580.78,95.69 L580.85,95.68 L580.91,95.66 L580.98,95.65 L581.05,95.63 L581.11,95.62 L581.18,95.60 L581.25,95.59 L581.31,95.57 L581.38,95.56 L581.45,95.54 L581.52,95.53 L581.58,95.51 L581.65,95.50 L581.72,95.48 L581.78,95.46 L581.85,95.45 L581.92,95.43 L581.98,95.42 L582.05,95.40 L582.12,95.39 L582.19,95.37 L582.25,95.36 L582.32,95.34 L582.39,95.33 L582.45,95.31 L582.52,95.30 L582.59,95.28 L582.66,95.27 L582.72,95.25 L582.79,95.24 L582.86,95.22 L582.92,95.21 L582.99,95.19 L583.06,95.18 L583.12,95.16 L583.19,95.14 L583.26,95.13 L583.33,95.11 L583.39,95.10 L583.46,95.08 L583.53,95.07 L583.59,95.05 L583.66,95.04 L583.73,95.02 L583.79,95.01 L583.86,94.99 L583.93,94.98 L584.00,94.96 L584.06,94.95 L584.13,94.93 L584.20,94.92 L584.26,94.90 L584.33,94.89 L584.40,94.87 L584.47,94.86 L584.53,94.84 L584.60,94.82 L584.67,94.81 L584.73,94.79 L584.80,94.78 L584.87,94.76 L584.93,94.75 L585.00,94.73 L585.07,94.72 L585.14,94.70 L585.20,94.69 L585.27,94.67 L585.34,94.66 L585.40,94.64 L585.47,94.63 L585.54,94.61 L585.60,94.60 L585.67,94.58 L585.74,94.57 L585.81,94.55 L585.87,94.54 L585.94,94.52 L586.01,94.50 L586.07,94.49 L586.14,94.47 L586.21,94.46 L586.28,94.44 L586.34,94.43 L586.41,94.41 L586.48,94.40 L586.54,94.38 L586.61,94.37 L586.68,94.35 L586.74,94.34 L586.81,94.32 L586.88,94.31 L586.95,94.29 L587.01,94.28 L587.08,94.26 L587.15,94.25 L587.21,94.23 L587.28,94.22 L587.35,94.20 L587.42,94.18 L587.48,94.17 L587.55,94.15 L587.62,94.14 L587.68,94.12 L587.75,94.11 L587.82,94.09 L587.88,94.08 L587.95,94.06 L588.02,94.05 L588.09,94.03 L588.15,94.02 L588.22,94.00 L588.29,93.99 L588.35,93.97 L588.42,93.96 L588.49,93.94 L588.55,93.93 L588.62,93.91 L588.69,93.90 L588.76,93.88 L588.82,93.86 L588.89,93.85 L588.96,93.83 L589.02,93.82 L589.09,93.80 L589.16,93.79 L589.23,93.77 L589.29,93.76 L589.36,93.74 L589.43,93.73 L589.49,93.71 L589.56,93.70 L589.63,93.68 L589.69,93.67 L589.76,93.65 L589.83,93.64 L589.90,93.62 L589.96,93.61 L590.03,93.59 L590.10,93.58 L590.16,93.56 L590.23,93.54 L590.30,93.53 L590.36,93.51 L590.43,93.50 L590.50,93.48 L590.57,93.47 L590.63,93.45 L590.70,93.44 L590.77,93.42 L590.83,93.41 L590.90,93.39 L590.97,93.38 L591.04,93.36 L591.10,93.35 L591.17,93.33 L591.24,93.32 L591.30,93.30 L591.37,93.29 L591.44,93.27 L591.50,93.26 L591.57,93.24 L591.64,93.22 L591.71,93.21 L591.77,93.19 L591.84,93.18 L591.91,93.16 L591.97,93.15 L592.04,93.13 L592.11,93.12 L592.18,93.10 L592.24,93.09 L592.31,93.07 L592.38,93.06 L592.44,93.04 L592.51,93.03 L592.58,93.01 L592.64,93.00 L592.71,92.98 L592.78,92.97 L592.85,92.95 L592.91,92.94 L592.98,92.92 L593.05,92.90 L593.11,92.89 L593.18,92.87 L593.25,92.86 L593.31,92.84 L593.38,92.83 L593.45,92.81 L593.52,92.80 L593.58,92.78 L593.65,92.77 L593.72,92.75 L593.78,92.74 L593.85,92.72 L593.92,92.71 L593.99,92.69 L594.05,92.68 L594.12,92.66 L594.19,92.65 L594.25,92.63 L594.32,92.62 L594.39,92.60 L594.45,92.58 L594.52,92.57 L594.59,92.55 L594.66,92.54 L594.72,92.52 L594.79,92.51 L594.86,92.49 L594.92,92.48 L594.99,92.46 L595.06,92.45 L595.12,92.43 L595.19,92.42 L595.26,92.40 L595.33,92.39 L595.39,92.37 L595.46,92.36 L595.53,92.34 L595.59,92.33 L595.66,92.31 L595.73,92.30 L595.80,92.28 L595.86,92.26 L595.93,92.25 L596.00,92.23 L596.06,92.22 L596.13,92.20 L596.20,92.19 L596.26,92.17 L596.33,92.16 L596.40,92.14 L596.47,92.13 L596.53,92.11 L596.60,92.10 L596.67,92.08 L596.73,92.07 L596.80,92.05 L596.87,92.04 L596.93,92.02 L597.00,92.01 L597.07,91.99 L597.14,91.98 L597.20,91.96 L597.27,91.94 L597.34,91.93 L597.40,91.91 L597.47,91.90 L597.54,91.88 L597.61,91.87 L597.67,91.85 L597.74,91.84 L597.81,91.82 L597.87,91.81 L597.94,91.79 L598.01,91.78 L598.07,91.76 L598.14,91.75 L598.21,91.73 L598.28,91.72 L598.34,91.70 L598.41,91.69 L598.48,91.67 L598.54,91.66 L598.61,91.64 L598.68,91.62 L598.75,91.61 L598.81,91.59 L598.88,91.58 L598.95,91.56 L599.01,91.55 L599.08,91.53 L599.15,91.52 L599.21,91.50 L599.28,91.49 L599.35,91.47 L599.42,91.46 L599.48,91.44 L599.55,91.43 L599.62,91.41 L599.68,91.40 L599.75,91.38 L599.82,91.37 L599.88,91.35 L599.95,91.34 L600.02,91.32 L600.09,91.31 L600.15,91.29 L600.22,91.27 L600.29,91.26 L600.35,91.24 L600.42,91.23 L600.49,91.21 L600.56,91.20 L600.62,91.18 L600.69,91.17 L600.76,91.15 L600.82,91.14 L600.89,91.12 L600.96,91.11 L601.02,91.10 L601.09,91.08 L601.16,91.07 L601.23,91.05 L601.29,91.04 L601.36,91.02 L601.43,91.01 L601.49,91.00 L601.56,90.98 L601.63,90.97 L601.69,90.96 L601.76,90.94 L601.83,90.93 L601.90,90.92 L601.96,90.91 L602.03,90.90 L602.10,90.89 L602.16,90.88 L602.23,90.87 L602.30,90.86 L602.37,90.85 L602.43,90.85 L602.50,90.84 L602.57,90.84 L602.63,90.84 L602.70,90.83 L602.77,90.83 L602.83,90.83 L602.90,90.84 L602.97,90.84 L603.04,90.85 L603.10,90.86 L603.17,90.87 L603.24,90.88 L603.30,90.90 L603.37,90.92 L603.44,90.94 L603.50,90.96 L603.57,90.99 L603.64,91.02 L603.71,91.06 L603.77,91.10 L603.84,91.14 L603.91,91.19 L603.97,91.24 L604.04,91.30 L604.11,91.36 L604.18,91.43 L604.24,91.50 L604.31,91.58 L604.38,91.67 L604.44,91.76 L604.51,91.86 L604.58,91.96 L604.64,92.07 L604.71,92.19 L604.78,92.32 L604.85,92.45 L604.91,92.60 L604.98,92.75 L605.05,92.91 L605.11,93.07 L605.18,93.25 L605.25,93.44 L605.32,93.63 L605.38,93.84 L605.45,94.05 L605.52,94.28 L605.58,94.52 L605.65,94.76 L605.72,95.02 L605.78,95.29 L605.85,95.57 L605.92,95.86 L605.99,96.16 L606.05,96.48 L606.12,96.80 L606.19,97.14 L606.25,97.49 L606.32,97.86 L606.39,98.23 L606.45,98.62 L606.52,99.02 L606.59,99.44 L606.66,99.87 L606.72,100.31 L606.79,100.77 L606.86,101.24 L606.92,101.72 L606.99,102.22 L607.06,102.73 L607.13,103.26 L607.19,103.80 L607.26,104.35 L607.33,104.93 L607.39,105.51 L607.46,106.11 L607.53,106.73 L607.59,107.36 L607.66,108.00 L607.73,108.66 L607.80,109.34 L607.86,110.03 L607.93,110.74 L608.00,111.46 L608.06,112.20 L608.13,112.96 L608.20,113.73 L608.26,114.52 L608.33,115.32 L608.40,116.14 L608.47,116.98 L608.53,117.83 L608.60,118.70 L608.67,119.58 L608.73,120.48 L608.80,121.40 L608.87,122.34 L608.94,123.29 L609.00,124.26 L609.07,125.24 L609.14,126.25 L609.20,127.26 L609.27,128.30 L609.34,129.35 L609.40,130.42 L609.47,131.51 L609.54,132.62 L609.61,133.74 L609.67,134.88 L609.74,136.03 L609.81,137.21 L609.87,138.40 L609.94,139.61 L610.01,140.83 L610.07,142.08 L610.14,143.34 L610.21,144.62 L610.28,145.91 L610.34,147.22 L610.41,148.56" stroke="#9467bd" stroke-opacity="0.66" stroke-width="1.35" stroke-dasharray="4.8 2.05" fill="none"/>
<path d="M565.22,148.19 L565.29,147.02 L565.36,145.87 L565.43,144.72 L565.49,143.59 L565.56,142.47 L565.63,141.36 L565.69,140.27 L565.76,139.19 L565.83,138.12 L565.89,137.06 L565.96,136.01 L566.03,134.98 L566.10,133.96 L566.16,132.95 L566.23,131.95 L566.30,130.96 L566.36,129.99 L566.43,129.03 L566.50,128.08 L566.57,127.15 L566.63,126.22 L566.70,125.31 L566.77,124.41 L566.83,123.53 L566.90,122.65 L566.97,121.79 L567.03,120.94 L567.10,120.10 L567.17,119.28 L567.24,118.46 L567.30,117.66 L567.37,116.87 L567.44,116.10 L567.50,115.33 L567.57,114.58 L567.64,113.84 L567.70,113.11 L567.77,112.40 L567.84,111.69 L567.91,111.00 L567.97,110.32 L568.04,109.66 L568.11,109.00 L568.17,108.36 L568.24,107.73 L568.31,107.11 L568.38,106.51 L568.44,105.92 L568.51,105.34 L568.58,104.77 L568.64,104.21 L568.71,103.67 L568.78,103.14 L568.84,102.62 L568.91,102.11 L568.98,101.61 L569.05,101.13 L569.11,100.66 L569.18,100.20 L569.25,99.76 L569.31,99.32 L569.38,98.90 L569.45,98.49 L569.52,98.09 L569.58,97.71 L569.65,97.34 L569.72,96.98 L569.78,96.63 L569.85,96.29 L569.92,95.97 L569.98,95.66 L570.05,95.36 L570.12,95.07 L570.19,94.80 L570.25,94.54 L570.32,94.29 L570.39,94.05 L570.45,93.82 L570.52,93.61 L570.59,93.41 L570.65,93.22 L570.72,93.04 L570.79,92.88 L570.86,92.73 L570.92,92.59 L570.99,92.46 L571.06,92.34 L571.12,92.24 L571.19,92.15 L571.26,92.07 L571.33,92.01 L571.39,91.95 L571.46,91.91 L571.53,91.88 L571.59,91.86 L571.66,91.86 L571.73,91.86 L571.79,91.88 L571.86,91.92 L571.93,91.96 L572.00,92.02 L572.06,92.08 L572.13,92.16 L572.20,92.26 L572.26,92.36 L572.33,92.48 L572.40,92.61 L572.46,92.75 L572.53,92.91 L572.60,93.07 L572.67,93.25 L572.73,93.44 L572.80,93.64 L572.87,93.86 L572.93,94.09 L573.00,94.33 L573.07,94.58 L573.14,94.84 L573.20,95.12 L573.27,95.41 L573.34,95.71 L573.40,96.02 L573.47,96.35 L573.54,96.69 L573.60,97.04 L573.67,97.40 L573.74,97.77 L573.81,98.16 L573.87,98.56 L573.94,98.97 L574.01,99.39 L574.07,99.83 L574.14,100.28 L574.21,100.74 L574.28,101.21 L574.34,101.70 L574.41,102.19 L574.48,102.70 L574.54,103.22 L574.61,103.76 L574.68,104.30 L574.74,104.86 L574.81,105.43 L574.88,106.01 L574.95,106.61 L575.01,107.22 L575.08,107.84 L575.15,108.47 L575.21,109.11 L575.28,109.77 L575.35,110.44 L575.41,111.12 L575.48,111.81 L575.55,112.52 L575.62,113.23 L575.68,113.96 L575.75,114.71 L575.82,115.46 L575.88,116.23 L575.95,117.00 L576.02,117.80 L576.09,118.60 L576.15,119.41 L576.22,120.24 L576.29,121.08 L576.35,121.93 L576.42,122.80 L576.49,123.67 L576.55,124.56 L576.62,125.46 L576.69,126.38 L576.76,127.30 L576.82,128.24 L576.89,129.19 L576.96,130.15 L577.02,131.13 L577.09,132.12 L577.16,133.12 L577.22,134.13 L577.29,135.15 L577.36,136.19 L577.43,137.23 L577.49,138.29 L577.56,139.37 L577.63,140.45 L577.69,141.55 L577.76,142.66 L577.83,143.78 L577.90,144.91 L577.96,146.06 L578.03,147.22 L578.10,148.39" stroke="#e377c2" stroke-opacity="0.66" stroke-width="1.35" stroke-dasharray="4.8 2.05" fill="none"/>
<path d="M381.80,97.73 L381.87,95.24 L381.93,93.38 L382.00,91.90 L382.07,90.70 L382.14,89.69 L382.20,88.83 L382.27,88.09 L382.34,87.44 L382.40,86.87 L382.47,86.36 L382.54,85.91 L382.60,85.51 L382.67,85.14 L382.74,84.81 L382.81,84.51 L382.87,84.23 L382.94,83.98 L383.01,83.75 L383.07,83.54 L383.14,83.34 L383.21,83.16 L383.27,82.99 L383.34,82.84 L383.41,82.69 L383.48,82.56 L383.54,82.43 L383.61,82.32 L383.68,82.21 L383.74,82.10 L383.81,82.01 L383.88,81.92 L383.95,81.83 L384.01,81.75 L384.08,81.68 L384.15,81.61 L384.21,81.54 L384.28,81.48 L384.35,81.42 L384.41,81.36 L384.48,81.31 L384.55,81.26 L384.62,81.21 L384.68,81.16 L384.75,81.12 L384.82,81.07 L384.88,81.03 L384.95,80.99 L385.02,80.96 L385.09,80.92 L385.15,80.88 L385.22,80.85 L385.29,80.82 L385.35,80.79 L385.42,80.76 L385.49,80.73 L385.55,80.70 L385.62,80.67 L385.69,80.65 L385.76,80.62 L385.82,80.60 L385.89,80.57 L385.96,80.55 L386.02,80.53 L386.09,80.51 L386.16,80.48 L386.22,80.46 L386.29,80.44 L386.36,80.42 L386.43,80.40 L386.49,80.38 L386.56,80.36 L386.63,80.35 L386.69,80.33 L386.76,80.31 L386.83,80.29 L386.90,80.28 L386.96,80.26 L387.03,80.24 L387.10,80.23 L387.16,80.21 L387.23,80.19 L387.30,80.18 L387.36,80.16 L387.43,80.15 L387.50,80.13 L387.57,80.12 L387.63,80.10 L387.70,80.09 L387.77,80.07 L387.83,80.06 L387.90,80.05 L387.97,80.03 L388.03,80.02 L388.10,80.00 L388.17,79.99 L388.24,79.98 L388.30,79.96 L388.37,79.95 L388.44,79.94 L388.50,79.93 L388.57,79.91 L388.64,79.90 L388.71,79.89 L388.77,79.88 L388.84,79.86 L388.91,79.85 L388.97,79.84 L389.04,79.83 L389.11,79.82 L389.17,79.81 L389.24,79.79 L389.31,79.78 L389.38,79.77 L389.44,79.76 L389.51,79.75 L389.58,79.74 L389.64,79.73 L389.71,79.72 L389.78,79.71 L389.84,79.70 L389.91,79.69 L389.98,79.67 L390.05,79.66 L390.11,79.65 L390.18,79.64 L390.25,79.63 L390.31,79.62 L390.38,79.61 L390.45,79.60 L390.52,79.59 L390.58,79.58 L390.65,79.57 L390.72,79.56 L390.78,79.56 L390.85,79.55 L390.92,79.54 L390.98,79.53 L391.05,79.52 L391.12,79.51 L391.19,79.50 L391.25,79.49 L391.32,79.48 L391.39,79.47 L391.45,79.46 L391.52,79.45 L391.59,79.45 L391.66,79.44 L391.72,79.43 L391.79,79.42 L391.86,79.41 L391.92,79.40 L391.99,79.39 L392.06,79.39 L392.12,79.38 L392.19,79.37 L392.26,79.36 L392.33,79.35 L392.39,79.34 L392.46,79.34 L392.53,79.33 L392.59,79.32 L392.66,79.31 L392.73,79.30 L392.79,79.30 L392.86,79.29 L392.93,79.28 L393.00,79.27 L393.06,79.27 L393.13,79.26 L393.20,79.25 L393.26,79.24 L393.33,79.24 L393.40,79.23 L393.47,79.22 L393.53,79.21 L393.60,79.21 L393.67,79.20 L393.73,79.19 L393.80,79.18 L393.87,79.18 L393.93,79.17 L394.00,79.16 L394.07,79.16 L394.14,79.15 L394.20,79.14 L394.27,79.14 L394.34,79.13 L394.40,79.12 L394.47,79.11 L394.54,79.11 L394.60,79.10 L394.67,79.09 L394.74,79.09 L394.81,79.08 L394.87,79.07 L394.94,79.07 L395.01,79.06 L395.07,79.06 L395.14,79.05 L395.21,79.04 L395.28,79.04 L395.34,79.03 L395.41,79.02 L395.48,79.02 L395.54,79.01 L395.61,79.00 L395.68,79.00 L395.74,78.99 L395.81,78.99 L395.88,78.98 L395.95,78.97 L396.01,78.97 L396.08,78.96 L396.15,78.96 L396.21,78.95 L396.28,78.94 L396.35,78.94 L396.41,78.93 L396.48,78.93 L396.55,78.92 L396.62,78.91 L396.68,78.91 L396.75,78.90 L396.82,78.90 L396.88,78.89 L396.95,78.89 L397.02,78.88 L397.09,78.87 L397.15,78.87 L397.22,78.86 L397.29,78.86 L397.35,78.85 L397.42,78.85 L397.49,78.84 L397.55,78.83 L397.62,78.83 L397.69,78.82 L397.76,78.82 L397.82,78.81 L397.89,78.81 L397.96,78.80 L398.02,78.80 L398.09,78.79 L398.16,78.79 L398.23,78.78 L398.29,78.78 L398.36,78.77 L398.43,78.76 L398.49,78.76 L398.56,78.75 L398.63,78.75 L398.69,78.74 L398.76,78.74 L398.83,78.73 L398.90,78.73 L398.96,78.72 L399.03,78.72 L399.10,78.71 L399.16,78.71 L399.23,78.70 L399.30,78.70 L399.36,78.69 L399.43,78.69 L399.50,78.68 L399.57,78.68 L399.63,78.67 L399.70,78.67 L399.77,78.66 L399.83,78.66 L399.90,78.65 L399.97,78.65 L400.04,78.64 L400.10,78.64 L400.17,78.63 L400.24,78.63 L400.30,78.62 L400.37,78.62 L400.44,78.61 L400.50,78.61 L400.57,78.60 L400.64,78.60 L400.71,78.60 L400.77,78.59 L400.84,78.59 L400.91,78.58 L400.97,78.58 L401.04,78.57 L401.11,78.57 L401.17,78.56 L401.24,78.56 L401.31,78.55 L401.38,78.55 L401.44,78.54 L401.51,78.54 L401.58,78.53 L401.64,78.53 L401.71,78.52 L401.78,78.52 L401.85,78.51 L401.91,78.51 L401.98,78.50 L402.05,78.49 L402.11,78.49 L402.18,78.48 L402.25,78.48 L402.31,78.47 L402.38,78.47 L402.45,78.46 L402.52,78.46 L402.58,78.45 L402.65,78.45 L402.72,78.44 L402.78,78.44 L402.85,78.43 L402.92,78.42 L402.98,78.42 L403.05,78.41 L403.12,78.41 L403.19,78.40 L403.25,78.40 L403.32,78.39 L403.39,78.38 L403.45,78.38 L403.52,78.37 L403.59,78.37 L403.66,78.36 L403.72,78.36 L403.79,78.35 L403.86,78.35 L403.92,78.34 L403.99,78.33 L404.06,78.33 L404.12,78.32 L404.19,78.32 L404.26,78.31 L404.33,78.30 L404.39,78.30 L404.46,78.29 L404.53,78.29 L404.59,78.28 L404.66,78.28 L404.73,78.27 L404.80,78.26 L404.86,78.26 L404.93,78.25 L405.00,78.25 L405.06,78.24 L405.13,78.24 L405.20,78.23 L405.26,78.23 L405.33,78.22 L405.40,78.21 L405.47,78.21 L405.53,78.20 L405.60,78.20 L405.67,78.19 L405.73,78.19 L405.80,78.18 L405.87,78.17 L405.93,78.17 L406.00,78.16 L406.07,78.16 L406.14,78.15 L406.20,78.15 L406.27,78.14 L406.34,78.14 L406.40,78.13 L406.47,78.13 L406.54,78.12 L406.61,78.12 L406.67,78.11 L406.74,78.10 L406.81,78.10 L406.87,78.09 L406.94,78.09 L407.01,78.08 L407.07,78.08 L407.14,78.07 L407.21,78.07 L407.28,78.06 L407.34,78.06 L407.41,78.05 L407.48,78.05 L407.54,78.04 L407.61,78.04 L407.68,78.03 L407.74,78.03 L407.81,78.03 L407.88,78.02 L407.95,78.02 L408.01,78.01 L408.08,78.01 L408.15,78.00 L408.21,78.00 L408.28,77.99 L408.35,77.99 L408.42,77.98 L408.48,77.98 L408.55,77.98 L408.62,77.97 L408.68,77.97 L408.75,77.96 L408.82,77.96 L408.88,77.96 L408.95,77.95 L409.02,77.95 L409.09,77.94 L409.15,77.94 L409.22,77.94 L409.29,77.93 L409.35,77.93 L409.42,77.93 L409.49,77.92 L409.56,77.92 L409.62,77.92 L409.69,77.91 L409.76,77.91 L409.82,77.91 L409.89,77.90 L409.96,77.90 L410.02,77.90 L410.09,77.89 L410.16,77.89 L410.23,77.89 L410.29,77.89 L410.36,77.88 L410.43,77.88 L410.49,77.88 L410.56,77.87 L410.63,77.87 L410.69,77.87 L410.76,77.87 L410.83,77.87 L410.90,77.86 L410.96,77.86 L411.03,77.86 L411.10,77.86 L411.16,77.86 L411.23,77.85 L411.30,77.85 L411.37,77.85 L411.43,77.85 L411.50,77.85 L411.57,77.85 L411.63,77.85 L411.70,77.84 L411.77,77.84 L411.83,77.84 L411.90,77.84 L411.97,77.84 L412.04,77.84 L412.10,77.84 L412.17,77.84 L412.24,77.84 L412.30,77.84 L412.37,77.84 L412.44,77.84 L412.50,77.84 L412.57,77.84 L412.64,77.84 L412.71,77.84 L412.77,77.84 L412.84,77.84 L412.91,77.84 L412.97,77.84 L413.04,77.84 L413.11,77.84 L413.18,77.84 L413.24,77.84 L413.31,77.84 L413.38,77.84 L413.44,77.84 L413.51,77.84 L413.58,77.84 L413.64,77.84 L413.71,77.84 L413.78,77.84 L413.85,77.84 L413.91,77.84 L413.98,77.84 L414.05,77.84 L414.11,77.84 L414.18,77.84 L414.25,77.84 L414.31,77.84 L414.38,77.84 L414.45,77.84 L414.52,77.84 L414.58,77.84 L414.65,77.84 L414.72,77.84 L414.78,77.84 L414.85,77.84 L414.92,77.85 L414.99,77.85 L415.05,77.85 L415.12,77.85 L415.19,77.85 L415.25,77.85 L415.32,77.85 L415.39,77.85 L415.45,77.85 L415.52,77.85 L415.59,77.85 L415.66,77.85 L415.72,77.86 L415.79,77.86 L415.86,77.86 L415.92,77.86 L415.99,77.86 L416.06,77.86 L416.13,77.86 L416.19,77.86 L416.26,77.86 L416.33,77.86 L416.39,77.87 L416.46,77.87 L416.53,77.87 L416.59,77.87 L416.66,77.87 L416.73,77.87 L416.80,77.87 L416.86,77.87 L416.93,77.88 L417.00,77.88 L417.06,77.88 L417.13,77.88 L417.20,77.88 L417.26,77.88 L417.33,77.88 L417.40,77.88 L417.47,77.89 L417.53,77.89 L417.60,77.89 L417.67,77.89 L417.73,77.89 L417.80,77.89 L417.87,77.90 L417.94,77.90 L418.00,77.90 L418.07,77.90 L418.14,77.90 L418.20,77.90 L418.27,77.90 L418.34,77.91 L418.40,77.91 L418.47,77.91 L418.54,77.91 L418.61,77.91 L418.67,77.91 L418.74,77.92 L418.81,77.92 L418.87,77.92 L418.94,77.92 L419.01,77.92 L419.07,77.93 L419.14,77.93 L419.21,77.93 L419.28,77.93 L419.34,77.93 L419.41,77.93 L419.48,77.94 L419.54,77.94 L419.61,77.94 L419.68,77.94 L419.75,77.94 L419.81,77.95 L419.88,77.95 L419.95,77.95 L420.01,77.95 L420.08,77.95 L420.15,77.96 L420.21,77.96 L420.28,77.96 L420.35,77.96 L420.42,77.96 L420.48,77.97 L420.55,77.97 L420.62,77.97 L420.68,77.97 L420.75,77.97 L420.82,77.98 L420.88,77.98 L420.95,77.98 L421.02,77.98 L421.09,77.99 L421.15,77.99 L421.22,77.99 L421.29,77.99 L421.35,77.99 L421.42,78.00 L421.49,78.00 L421.56,78.00 L421.62,78.00 L421.69,78.00 L421.76,78.01 L421.82,78.01 L421.89,78.01 L421.96,78.01 L422.02,78.02 L422.09,78.02 L422.16,78.02 L422.23,78.02 L422.29,78.02 L422.36,78.03 L422.43,78.03 L422.49,78.03 L422.56,78.03 L422.63,78.04 L422.70,78.04 L422.76,78.04 L422.83,78.04 L422.90,78.05 L422.96,78.05 L423.03,78.05 L423.10,78.05 L423.16,78.05 L423.23,78.06 L423.30,78.06 L423.37,78.06 L423.43,78.06 L423.50,78.07 L423.57,78.07 L423.63,78.07 L423.70,78.07 L423.77,78.08 L423.83,78.08 L423.90,78.08 L423.97,78.08 L424.04,78.09 L424.10,78.09 L424.17,78.09 L424.24,78.09 L424.30,78.09 L424.37,78.10 L424.44,78.10 L424.51,78.10 L424.57,78.10 L424.64,78.11 L424.71,78.11 L424.77,78.11 L424.84,78.11 L424.91,78.12 L424.97,78.12 L425.04,78.12 L425.11,78.13 L425.18,78.13 L425.24,78.13 L425.31,78.13 L425.38,78.14 L425.44,78.14 L425.51,78.14 L425.58,78.15 L425.64,78.15 L425.71,78.15 L425.78,78.16 L425.85,78.16 L425.91,78.16 L425.98,78.17 L426.05,78.17 L426.11,78.17 L426.18,78.18 L426.25,78.18 L426.32,78.18 L426.38,78.19 L426.45,78.19 L426.52,78.20 L426.58,78.20 L426.65,78.20 L426.72,78.21 L426.78,78.21 L426.85,78.21 L426.92,78.22 L426.99,78.22 L427.05,78.23 L427.12,78.23 L427.19,78.23 L427.25,78.24 L427.32,78.24 L427.39,78.25 L427.45,78.25 L427.52,78.26 L427.59,78.26 L427.66,78.26 L427.72,78.27 L427.79,78.27 L427.86,78.28 L427.92,78.28 L427.99,78.29 L428.06,78.29 L428.13,78.30 L428.19,78.30 L428.26,78.30 L428.33,78.31 L428.39,78.31 L428.46,78.32 L428.53,78.32 L428.59,78.33 L428.66,78.33 L428.73,78.34 L428.80,78.34 L428.86,78.35 L428.93,78.35 L429.00,78.36 L429.06,78.36 L429.13,78.37 L429.20,78.37 L429.27,78.38 L429.33,78.38 L429.40,78.39 L429.47,78.39 L429.53,78.40 L429.60,78.40 L429.67,78.41 L429.73,78.41 L429.80,78.42 L429.87,78.42 L429.94,78.43 L430.00,78.43 L430.07,78.44 L430.14,78.44 L430.20,78.45 L430.27,78.45 L430.34,78.46 L430.40,78.46 L430.47,78.47 L430.54,78.48 L430.61,78.48 L430.67,78.49 L430.74,78.49 L430.81,78.50 L430.87,78.50 L430.94,78.51 L431.01,78.51 L431.08,78.52 L431.14,78.53 L431.21,78.53 L431.28,78.54 L431.34,78.54 L431.41,78.55 L431.48,78.55 L431.54,78.56 L431.61,78.56 L431.68,78.57 L431.75,78.58 L431.81,78.58 L431.88,78.59 L431.95,78.59 L432.01,78.60 L432.08,78.60 L432.15,78.61 L432.21,78.62 L432.28,78.62 L432.35,78.63 L432.42,78.63 L432.48,78.64 L432.55,78.65 L432.62,78.65 L432.68,78.66 L432.75,78.66 L432.82,78.67 L432.89,78.67 L432.95,78.68 L433.02,78.69 L433.09,78.69 L433.15,78.70 L433.22,78.70 L433.29,78.71 L433.35,78.72 L433.42,78.72 L433.49,78.73 L433.56,78.73 L433.62,78.74 L433.69,78.75 L433.76,78.75 L433.82,78.76 L433.89,78.76 L433.96,78.77 L434.03,78.77 L434.09,78.78 L434.16,78.79 L434.23,78.79 L434.29,78.80 L434.36,78.80 L434.43,78.81 L434.49,78.82 L434.56,78.82 L434.63,78.83 L434.70,78.83 L434.76,78.84 L434.83,78.85 L434.90,78.85 L434.96,78.86 L435.03,78.86 L435.10,78.87 L435.16,78.88 L435.23,78.88 L435.30,78.89 L435.37,78.89 L435.43,78.90 L435.50,78.91 L435.57,78.91 L435.63,78.92 L435.70,78.92 L435.77,78.93 L435.84,78.93 L435.90,78.94 L435.97,78.95 L436.04,78.95 L436.10,78.96 L436.17,78.96 L436.24,78.97 L436.30,78.98 L436.37,78.98 L436.44,78.99 L436.51,78.99 L436.57,79.00 L436.64,79.00 L436.71,79.01 L436.77,79.02 L436.84,79.02 L436.91,79.03 L436.97,79.03 L437.04,79.04 L437.11,79.05 L437.18,79.05 L437.24,79.06 L437.31,79.06 L437.38,79.07 L437.44,79.08 L437.51,79.08 L437.58,79.09 L437.65,79.09 L437.71,79.10 L437.78,79.11 L437.85,79.11 L437.91,79.12 L437.98,79.13 L438.05,79.13 L438.11,79.14 L438.18,79.14 L438.25,79.15 L438.32,79.16 L438.38,79.16 L438.45,79.17 L438.52,79.18 L438.58,79.18 L438.65,79.19 L438.72,79.19 L438.78,79.20 L438.85,79.21 L438.92,79.21 L438.99,79.22 L439.05,79.23 L439.12,79.23 L439.19,79.24 L439.25,79.25 L439.32,79.25 L439.39,79.26 L439.46,79.27 L439.52,79.27 L439.59,79.28 L439.66,79.29 L439.72,79.29 L439.79,79.30 L439.86,79.31 L439.92,79.31 L439.99,79.32 L440.06,79.33 L440.13,79.33 L440.19,79.34 L440.26,79.35 L440.33,79.35 L440.39,79.36 L440.46,79.37 L440.53,79.37 L440.60,79.38 L440.66,79.39 L440.73,79.40 L440.80,79.40 L440.86,79.41 L440.93,79.42 L441.00,79.42 L441.06,79.43 L441.13,79.44 L441.20,79.44 L441.27,79.45 L441.33,79.46 L441.40,79.46 L441.47,79.47 L441.53,79.48 L441.60,79.49 L441.67,79.49 L441.73,79.50 L441.80,79.51 L441.87,79.51 L441.94,79.52 L442.00,79.53 L442.07,79.53 L442.14,79.54 L442.20,79.55 L442.27,79.56 L442.34,79.56 L442.41,79.57 L442.47,79.58 L442.54,79.58 L442.61,79.59 L442.67,79.60 L442.74,79.61 L442.81,79.61 L442.87,79.62 L442.94,79.63 L443.01,79.63 L443.08,79.64 L443.14,79.65 L443.21,79.66 L443.28,79.66 L443.34,79.67 L443.41,79.68 L443.48,79.68 L443.54,79.69 L443.61,79.70 L443.68,79.71 L443.75,79.71 L443.81,79.72 L443.88,79.73 L443.95,79.74 L444.01,79.74 L444.08,79.75 L444.15,79.76 L444.22,79.76 L444.28,79.77 L444.35,79.78 L444.42,79.79 L444.48,79.79 L444.55,79.80 L444.62,79.81 L444.68,79.81 L444.75,79.82 L444.82,79.83 L444.89,79.84 L444.95,79.84 L445.02,79.85 L445.09,79.86 L445.15,79.87 L445.22,79.87 L445.29,79.88 L445.35,79.89 L445.42,79.89 L445.49,79.90 L445.56,79.91 L445.62,79.92 L445.69,79.92 L445.76,79.93 L445.82,79.94 L445.89,79.94 L445.96,79.95 L446.03,79.96 L446.09,79.97 L446.16,79.97 L446.23,79.98 L446.29,79.99 L446.36,79.99 L446.43,80.00 L446.49,80.01 L446.56,80.02 L446.63,80.02 L446.70,80.03 L446.76,80.04 L446.83,80.04 L446.90,80.05 L446.96,80.06 L447.03,80.07 L447.10,80.07 L447.17,80.08 L447.23,80.09 L447.30,80.09 L447.37,80.10 L447.43,80.11 L447.50,80.12 L447.57,80.12 L447.63,80.13 L447.70,80.14 L447.77,80.14 L447.84,80.15 L447.90,80.16 L447.97,80.17 L448.04,80.17 L448.10,80.18 L448.17,80.19 L448.24,80.19 L448.30,80.20 L448.37,80.21 L448.44,80.21 L448.51,80.22 L448.57,80.23 L448.64,80.23 L448.71,80.24 L448.77,80.25 L448.84,80.26 L448.91,80.26 L448.98,80.27 L449.04,80.28 L449.11,80.28 L449.18,80.29 L449.24,80.30 L449.31,80.30 L449.38,80.31 L449.44,80.32 L449.51,80.32 L449.58,80.33 L449.65,80.34 L449.71,80.34 L449.78,80.35 L449.85,80.36 L449.91,80.36 L449.98,80.37 L450.05,80.38 L450.11,80.38 L450.18,80.39 L450.25,80.40 L450.32,80.41 L450.38,80.41 L450.45,80.42 L450.52,80.43 L450.58,80.43 L450.65,80.44 L450.72,80.45 L450.79,80.45 L450.85,80.46 L450.92,80.47 L450.99,80.47 L451.05,80.48 L451.12,80.49 L451.19,80.49 L451.25,80.50 L451.32,80.51 L451.39,80.51 L451.46,80.52 L451.52,80.53 L451.59,80.53 L451.66,80.54 L451.72,80.55 L451.79,80.55 L451.86,80.56 L451.93,80.57 L451.99,80.57 L452.06,80.58 L452.13,80.59 L452.19,80.59 L452.26,80.60 L452.33,80.61 L452.39,80.61 L452.46,80.62 L452.53,80.63 L452.60,80.63 L452.66,80.64 L452.73,80.65 L452.80,80.65 L452.86,80.66 L452.93,80.67 L453.00,80.67 L453.06,80.68 L453.13,80.69 L453.20,80.69 L453.27,80.70 L453.33,80.71 L453.40,80.71 L453.47,80.72 L453.53,80.73 L453.60,80.73 L453.67,80.74 L453.74,80.75 L453.80,80.75 L453.87,80.76 L453.94,80.77 L454.00,80.77 L454.07,80.78 L454.14,80.79 L454.20,80.79 L454.27,80.80 L454.34,80.81 L454.41,80.81 L454.47,80.82 L454.54,80.83 L454.61,80.83 L454.67,80.84 L454.74,80.85 L454.81,80.85 L454.87,80.86 L454.94,80.87 L455.01,80.87 L455.08,80.88 L455.14,80.89 L455.21,80.90 L455.28,80.90 L455.34,80.91 L455.41,80.92 L455.48,80.92 L455.55,80.93 L455.61,80.94 L455.68,80.94 L455.75,80.95 L455.81,80.96 L455.88,80.96 L455.95,80.97 L456.01,80.98 L456.08,80.98 L456.15,80.99 L456.22,81.00 L456.28,81.00 L456.35,81.01 L456.42,81.02 L456.48,81.02 L456.55,81.03 L456.62,81.04 L456.68,81.04 L456.75,81.05 L456.82,81.06 L456.89,81.07 L456.95,81.07 L457.02,81.08 L457.09,81.09 L457.15,81.09 L457.22,81.10 L457.29,81.11 L457.36,81.11 L457.42,81.12 L457.49,81.13 L457.56,81.13 L457.62,81.14 L457.69,81.15 L457.76,81.16 L457.82,81.16 L457.89,81.17 L457.96,81.18 L458.03,81.18 L458.09,81.19 L458.16,81.20 L458.23,81.20 L458.29,81.21 L458.36,81.22 L458.43,81.23 L458.50,81.23 L458.56,81.24 L458.63,81.25 L458.70,81.25 L458.76,81.26 L458.83,81.27 L458.90,81.28 L458.96,81.28 L459.03,81.29 L459.10,81.30 L459.17,81.30 L459.23,81.31 L459.30,81.32 L459.37,81.33 L459.43,81.33 L459.50,81.34 L459.57,81.35 L459.63,81.35 L459.70,81.36 L459.77,81.37 L459.84,81.38 L459.90,81.38 L459.97,81.39 L460.04,81.40 L460.10,81.41 L460.17,81.41 L460.24,81.42 L460.31,81.43 L460.37,81.43 L460.44,81.44 L460.51,81.45 L460.57,81.46 L460.64,81.46 L460.71,81.47 L460.77,81.48 L460.84,81.49 L460.91,81.49 L460.98,81.50 L461.04,81.51 L461.11,81.52 L461.18,81.52 L461.24,81.53 L461.31,81.54 L461.38,81.55 L461.44,81.55 L461.51,81.56 L461.58,81.57 L461.65,81.58 L461.71,81.58 L461.78,81.59 L461.85,81.60 L461.91,81.61 L461.98,81.61 L462.05,81.62 L462.12,81.63 L462.18,81.64 L462.25,81.64 L462.32,81.65 L462.38,81.66 L462.45,81.67 L462.52,81.67 L462.58,81.68 L462.65,81.69 L462.72,81.70 L462.79,81.70 L462.85,81.71 L462.92,81.72 L462.99,81.73 L463.05,81.73 L463.12,81.74 L463.19,81.75 L463.25,81.76 L463.32,81.77 L463.39,81.77 L463.46,81.78 L463.52,81.79 L463.59,81.80 L463.66,81.80 L463.72,81.81 L463.79,81.82 L463.86,81.83 L463.93,81.83 L463.99,81.84 L464.06,81.85 L464.13,81.86 L464.19,81.86 L464.26,81.87 L464.33,81.88 L464.39,81.89 L464.46,81.90 L464.53,81.90 L464.60,81.91 L464.66,81.92 L464.73,81.93 L464.80,81.93 L464.86,81.94 L464.93,81.95 L465.00,81.96 L465.07,81.96 L465.13,81.97 L465.20,81.98 L465.27,81.99 L465.33,82.00 L465.40,82.00 L465.47,82.01 L465.53,82.02 L465.60,82.03 L465.67,82.03 L465.74,82.04 L465.80,82.05 L465.87,82.06 L465.94,82.07 L466.00,82.07 L466.07,82.08 L466.14,82.09 L466.20,82.10 L466.27,82.10 L466.34,82.11 L466.41,82.12 L466.47,82.13 L466.54,82.14 L466.61,82.14 L466.67,82.15 L466.74,82.16 L466.81,82.17 L466.88,82.18 L466.94,82.18 L467.01,82.19 L467.08,82.20 L467.14,82.21 L467.21,82.21 L467.28,82.22 L467.34,82.23 L467.41,82.24 L467.48,82.25 L467.55,82.25 L467.61,82.26 L467.68,82.27 L467.75,82.28 L467.81,82.29 L467.88,82.29 L467.95,82.30 L468.01,82.31 L468.08,82.32 L468.15,82.33 L468.22,82.33 L468.28,82.34 L468.35,82.35 L468.42,82.36 L468.48,82.37 L468.55,82.37 L468.62,82.38 L468.69,82.39 L468.75,82.40 L468.82,82.41 L468.89,82.41 L468.95,82.42 L469.02,82.43 L469.09,82.44 L469.15,82.45 L469.22,82.45 L469.29,82.46 L469.36,82.47 L469.42,82.48 L469.49,82.49 L469.56,82.49 L469.62,82.50 L469.69,82.51 L469.76,82.52 L469.82,82.53 L469.89,82.54 L469.96,82.54 L470.03,82.55 L470.09,82.56 L470.16,82.57 L470.23,82.58 L470.29,82.58 L470.36,82.59 L470.43,82.60 L470.50,82.61 L470.56,82.62 L470.63,82.63 L470.70,82.63 L470.76,82.64 L470.83,82.65 L470.90,82.66 L470.96,82.67 L471.03,82.67 L471.10,82.68 L471.17,82.69 L471.23,82.70 L471.30,82.71 L471.37,82.72 L471.43,82.72 L471.50,82.73 L471.57,82.74 L471.64,82.75 L471.70,82.76 L471.77,82.77 L471.84,82.77 L471.90,82.78 L471.97,82.79 L472.04,82.80 L472.10,82.81 L472.17,82.82 L472.24,82.83 L472.31,82.83 L472.37,82.84 L472.44,82.85 L472.51,82.86 L472.57,82.87 L472.64,82.88 L472.71,82.88 L472.77,82.89 L472.84,82.90 L472.91,82.91 L472.98,82.92 L473.04,82.93 L473.11,82.94 L473.18,82.94 L473.24,82.95 L473.31,82.96 L473.38,82.97 L473.45,82.98 L473.51,82.99 L473.58,82.99 L473.65,83.00 L473.71,83.01 L473.78,83.02 L473.85,83.03 L473.91,83.04 L473.98,83.05 L474.05,83.06 L474.12,83.06 L474.18,83.07 L474.25,83.08 L474.32,83.09 L474.38,83.10 L474.45,83.11 L474.52,83.12 L474.58,83.12 L474.65,83.13 L474.72,83.14 L474.79,83.15 L474.85,83.16 L474.92,83.17 L474.99,83.18 L475.05,83.19 L475.12,83.19 L475.19,83.20 L475.26,83.21 L475.32,83.22 L475.39,83.23 L475.46,83.24 L475.52,83.25 L475.59,83.26 L475.66,83.26 L475.72,83.27 L475.79,83.28 L475.86,83.29 L475.93,83.30 L475.99,83.31 L476.06,83.32 L476.13,83.33 L476.19,83.34 L476.26,83.34 L476.33,83.35 L476.40,83.36 L476.46,83.37 L476.53,83.38 L476.60,83.39 L476.66,83.40 L476.73,83.41 L476.80,83.42 L476.86,83.43 L476.93,83.43 L477.00,83.44 L477.07,83.45 L477.13,83.46 L477.20,83.47 L477.27,83.48 L477.33,83.49 L477.40,83.50 L477.47,83.51 L477.53,83.52 L477.60,83.53 L477.67,83.53 L477.74,83.54 L477.80,83.55 L477.87,83.56 L477.94,83.57 L478.00,83.58 L478.07,83.59 L478.14,83.60 L478.21,83.61 L478.27,83.62 L478.34,83.63 L478.41,83.64 L478.47,83.64 L478.54,83.65 L478.61,83.66 L478.67,83.67 L478.74,83.68 L478.81,83.69 L478.88,83.70 L478.94,83.71 L479.01,83.72 L479.08,83.73 L479.14,83.74 L479.21,83.75 L479.28,83.76 L479.34,83.77 L479.41,83.78 L479.48,83.78 L479.55,83.79 L479.61,83.80 L479.68,83.81 L479.75,83.82 L479.81,83.83 L479.88,83.84 L479.95,83.85 L480.02,83.86 L480.08,83.87 L480.15,83.88 L480.22,83.89 L480.28,83.90 L480.35,83.91 L480.42,83.92 L480.48,83.93 L480.55,83.94 L480.62,83.95 L480.69,83.96 L480.75,83.97 L480.82,83.98 L480.89,83.99 L480.95,84.00 L481.02,84.01 L481.09,84.02 L481.15,84.03 L481.22,84.03 L481.29,84.04 L481.36,84.05 L481.42,84.06 L481.49,84.07 L481.56,84.08 L481.62,84.09 L481.69,84.10 L481.76,84.11 L481.83,84.12 L481.89,84.13 L481.96,84.15 L482.03,84.16 L482.09,84.17 L482.16,84.18 L482.23,84.19 L482.29,84.20 L482.36,84.21 L482.43,84.22 L482.50,84.23 L482.56,84.24 L482.63,84.25 L482.70,84.26 L482.76,84.27 L482.83,84.28 L482.90,84.29 L482.97,84.30 L483.03,84.31 L483.10,84.32 L483.17,84.33 L483.23,84.34 L483.30,84.35 L483.37,84.36 L483.43,84.37 L483.50,84.38 L483.57,84.39 L483.64,84.40 L483.70,84.41 L483.77,84.43 L483.84,84.44 L483.90,84.45 L483.97,84.46 L484.04,84.47 L484.10,84.48 L484.17,84.49 L484.24,84.50 L484.31,84.51 L484.37,84.52 L484.44,84.53 L484.51,84.54 L484.57,84.55 L484.64,84.56 L484.71,84.58 L484.78,84.59 L484.84,84.60 L484.91,84.61 L484.98,84.62 L485.04,84.63 L485.11,84.64 L485.18,84.65 L485.24,84.66 L485.31,84.67 L485.38,84.68 L485.45,84.69 L485.51,84.71 L485.58,84.72 L485.65,84.73 L485.71,84.74 L485.78,84.75 L485.85,84.76 L485.91,84.77 L485.98,84.78 L486.05,84.79 L486.12,84.80 L486.18,84.82 L486.25,84.83 L486.32,84.84 L486.38,84.85 L486.45,84.86 L486.52,84.87 L486.59,84.88 L486.65,84.89 L486.72,84.90 L486.79,84.92 L486.85,84.93 L486.92,84.94 L486.99,84.95 L487.05,84.96 L487.12,84.97 L487.19,84.98 L487.26,84.99 L487.32,85.01 L487.39,85.02 L487.46,85.03 L487.52,85.04 L487.59,85.05 L487.66,85.06 L487.72,85.07 L487.79,85.08 L487.86,85.10 L487.93,85.11 L487.99,85.12 L488.06,85.13 L488.13,85.14 L488.19,85.15 L488.26,85.16 L488.33,85.17 L488.40,85.19 L488.46,85.20 L488.53,85.21 L488.60,85.22 L488.66,85.23 L488.73,85.24 L488.80,85.25 L488.86,85.27 L488.93,85.28 L489.00,85.29 L489.07,85.30 L489.13,85.31 L489.20,85.32 L489.27,85.33 L489.33,85.35 L489.40,85.36 L489.47,85.37 L489.54,85.38 L489.60,85.39 L489.67,85.40 L489.74,85.41 L489.80,85.43 L489.87,85.44 L489.94,85.45 L490.00,85.46 L490.07,85.47 L490.14,85.48 L490.21,85.49 L490.27,85.51 L490.34,85.52 L490.41,85.53 L490.47,85.54 L490.54,85.55 L490.61,85.56 L490.67,85.57 L490.74,85.59 L490.81,85.60 L490.88,85.61 L490.94,85.62 L491.01,85.63 L491.08,85.64 L491.14,85.65 L491.21,85.67 L491.28,85.68 L491.35,85.69 L491.41,85.70 L491.48,85.71 L491.55,85.72 L491.61,85.73 L491.68,85.75 L491.75,85.76 L491.81,85.77 L491.88,85.78 L491.95,85.79 L492.02,85.80 L492.08,85.81 L492.15,85.83 L492.22,85.84 L492.28,85.85 L492.35,85.86 L492.42,85.87 L492.48,85.88 L492.55,85.89 L492.62,85.91 L492.69,85.92 L492.75,85.93 L492.82,85.94 L492.89,85.95 L492.95,85.96 L493.02,85.97 L493.09,85.99 L493.16,86.00 L493.22,86.01 L493.29,86.02 L493.36,86.03 L493.42,86.04 L493.49,86.05 L493.56,86.07 L493.62,86.08 L493.69,86.09 L493.76,86.10 L493.83,86.11 L493.89,86.12 L493.96,86.14 L494.03,86.15 L494.09,86.16 L494.16,86.17 L494.23,86.18 L494.29,86.19 L494.36,86.21 L494.43,86.22 L494.50,86.23 L494.56,86.24 L494.63,86.25 L494.70,86.26 L494.76,86.28 L494.83,86.29 L494.90,86.30 L494.97,86.31 L495.03,86.32 L495.10,86.33 L495.17,86.35 L495.23,86.36 L495.30,86.37 L495.37,86.38 L495.43,86.39 L495.50,86.40 L495.57,86.42 L495.64,86.43 L495.70,86.44 L495.77,86.45 L495.84,86.46 L495.90,86.48 L495.97,86.49 L496.04,86.50 L496.11,86.51 L496.17,86.52 L496.24,86.53 L496.31,86.55 L496.37,86.56 L496.44,86.57 L496.51,86.58 L496.57,86.59 L496.64,86.61 L496.71,86.62 L496.78,86.63 L496.84,86.64 L496.91,86.65 L496.98,86.67 L497.04,86.68 L497.11,86.69 L497.18,86.70 L497.24,86.71 L497.31,86.73 L497.38,86.74 L497.45,86.75 L497.51,86.76 L497.58,86.77 L497.65,86.79 L497.71,86.80 L497.78,86.81 L497.85,86.82 L497.92,86.83 L497.98,86.84 L498.05,86.86 L498.12,86.87 L498.18,86.88 L498.25,86.89 L498.32,86.91 L498.38,86.92 L498.45,86.93 L498.52,86.94 L498.59,86.95 L498.65,86.97 L498.72,86.98 L498.79,86.99 L498.85,87.00 L498.92,87.01 L498.99,87.03 L499.05,87.04 L499.12,87.05 L499.19,87.06 L499.26,87.07 L499.32,87.09 L499.39,87.10 L499.46,87.11 L499.52,87.12 L499.59,87.13 L499.66,87.15 L499.73,87.16 L499.79,87.17 L499.86,87.18 L499.93,87.20 L499.99,87.21 L500.06,87.22 L500.13,87.23 L500.19,87.24 L500.26,87.26 L500.33,87.27 L500.40,87.28 L500.46,87.29 L500.53,87.31 L500.60,87.32 L500.66,87.33 L500.73,87.34 L500.80,87.35 L500.87,87.37 L500.93,87.38 L501.00,87.39 L501.07,87.40 L501.13,87.42 L501.20,87.43 L501.27,87.44 L501.33,87.45 L501.40,87.46 L501.47,87.48 L501.54,87.49 L501.60,87.50 L501.67,87.51 L501.74,87.53 L501.80,87.54 L501.87,87.55 L501.94,87.56 L502.00,87.57 L502.07,87.59 L502.14,87.60 L502.21,87.61 L502.27,87.62 L502.34,87.64 L502.41,87.65 L502.47,87.66 L502.54,87.67 L502.61,87.69 L502.68,87.70 L502.74,87.71 L502.81,87.72 L502.88,87.73 L502.94,87.75 L503.01,87.76 L503.08,87.77 L503.14,87.78 L503.21,87.80 L503.28,87.81 L503.35,87.82 L503.41,87.83 L503.48,87.85 L503.55,87.86 L503.61,87.87 L503.68,87.88 L503.75,87.90 L503.81,87.91 L503.88,87.92 L503.95,87.93 L504.02,87.95 L504.08,87.96 L504.15,87.97 L504.22,87.98 L504.28,87.99 L504.35,88.01 L504.42,88.02 L504.49,88.03 L504.55,88.04 L504.62,88.06 L504.69,88.07 L504.75,88.08 L504.82,88.09 L504.89,88.11 L504.95,88.12 L505.02,88.13 L505.09,88.14 L505.16,88.16 L505.22,88.17 L505.29,88.18 L505.36,88.19 L505.42,88.21 L505.49,88.22 L505.56,88.23 L505.62,88.24 L505.69,88.26 L505.76,88.27 L505.83,88.28 L505.89,88.29 L505.96,88.31 L506.03,88.32 L506.09,88.33 L506.16,88.34 L506.23,88.36 L506.30,88.37 L506.36,88.38 L506.43,88.39 L506.50,88.41 L506.56,88.42 L506.63,88.43 L506.70,88.44 L506.76,88.46 L506.83,88.47 L506.90,88.48 L506.97,88.49 L507.03,88.51 L507.10,88.52 L507.17,88.53 L507.23,88.54 L507.30,88.56 L507.37,88.57 L507.44,88.58 L507.50,88.59 L507.57,88.61 L507.64,88.62 L507.70,88.63 L507.77,88.64 L507.84,88.66 L507.90,88.67 L507.97,88.68 L508.04,88.69 L508.11,88.71 L508.17,88.72 L508.24,88.73 L508.31,88.74 L508.37,88.76 L508.44,88.77 L508.51,88.78 L508.57,88.79 L508.64,88.81 L508.71,88.82 L508.78,88.83 L508.84,88.84 L508.91,88.86 L508.98,88.87 L509.04,88.88 L509.11,88.90 L509.18,88.91 L509.25,88.92 L509.31,88.93 L509.38,88.95 L509.45,88.96 L509.51,88.97 L509.58,88.98 L509.65,89.00 L509.71,89.01 L509.78,89.02 L509.85,89.03 L509.92,89.05 L509.98,89.06 L510.05,89.07 L510.12,89.09 L510.18,89.10 L510.25,89.11 L510.32,89.12 L510.38,89.14 L510.45,89.15 L510.52,89.16 L510.59,89.17 L510.65,89.19 L510.72,89.20 L510.79,89.21 L510.85,89.23 L510.92,89.24 L510.99,89.25 L511.06,89.26 L511.12,89.28 L511.19,89.29 L511.26,89.30 L511.32,89.32 L511.39,89.33 L511.46,89.34 L511.52,89.35 L511.59,89.37 L511.66,89.38 L511.73,89.39 L511.79,89.41 L511.86,89.42 L511.93,89.43 L511.99,89.44 L512.06,89.46 L512.13,89.47 L512.19,89.48 L512.26,89.50 L512.33,89.51 L512.40,89.52 L512.46,89.54 L512.53,89.55 L512.60,89.56 L512.66,89.57 L512.73,89.59 L512.80,89.60 L512.87,89.61 L512.93,89.63 L513.00,89.64 L513.07,89.65 L513.13,89.67 L513.20,89.68 L513.27,89.69 L513.33,89.71 L513.40,89.72 L513.47,89.73 L513.54,89.75 L513.60,89.76 L513.67,89.77 L513.74,89.78 L513.80,89.80 L513.87,89.81 L513.94,89.82 L514.01,89.84 L514.07,89.85 L514.14,89.86 L514.21,89.88 L514.27,89.89 L514.34,89.90 L514.41,89.92 L514.47,89.93 L514.54,89.94 L514.61,89.96 L514.68,89.97 L514.74,89.98 L514.81,90.00 L514.88,90.01 L514.94,90.02 L515.01,90.04 L515.08,90.05 L515.14,90.06 L515.21,90.08 L515.28,90.09 L515.35,90.10 L515.41,90.12 L515.48,90.13 L515.55,90.14 L515.61,90.16 L515.68,90.17 L515.75,90.19 L515.82,90.20 L515.88,90.21 L515.95,90.23 L516.02,90.24 L516.08,90.25 L516.15,90.27 L516.22,90.28 L516.28,90.29 L516.35,90.31 L516.42,90.32 L516.49,90.33 L516.55,90.35 L516.62,90.36 L516.69,90.38 L516.75,90.39 L516.82,90.40 L516.89,90.42 L516.95,90.43 L517.02,90.44 L517.09,90.46 L517.16,90.47 L517.22,90.49 L517.29,90.50 L517.36,90.51 L517.42,90.53 L517.49,90.54 L517.56,90.55 L517.63,90.57 L517.69,90.58 L517.76,90.59 L517.83,90.61 L517.89,90.62 L517.96,90.64 L518.03,90.65 L518.09,90.66 L518.16,90.68 L518.23,90.69 L518.30,90.70 L518.36,90.72 L518.43,90.73 L518.50,90.74 L518.56,90.76 L518.63,90.77 L518.70,90.79 L518.76,90.80 L518.83,90.81 L518.90,90.83 L518.97,90.84 L519.03,90.85 L519.10,90.87 L519.17,90.88 L519.23,90.90 L519.30,90.91 L519.37,90.92 L519.44,90.94 L519.50,90.95 L519.57,90.96 L519.64,90.98 L519.70,90.99 L519.77,91.01 L519.84,91.02 L519.90,91.03 L519.97,91.05 L520.04,91.06 L520.11,91.07 L520.17,91.09 L520.24,91.10 L520.31,91.12 L520.37,91.13 L520.44,91.14 L520.51,91.16 L520.58,91.17 L520.64,91.19 L520.71,91.20 L520.78,91.21 L520.84,91.23 L520.91,91.24 L520.98,91.25 L521.04,91.27 L521.11,91.28 L521.18,91.30 L521.25,91.31 L521.31,91.32 L521.38,91.34 L521.45,91.35 L521.51,91.37 L521.58,91.38 L521.65,91.39 L521.71,91.41 L521.78,91.42 L521.85,91.44 L521.92,91.45 L521.98,91.47 L522.05,91.48 L522.12,91.49 L522.18,91.51 L522.25,91.52 L522.32,91.54 L522.39,91.55 L522.45,91.56 L522.52,91.58 L522.59,91.59 L522.65,91.61 L522.72,91.62 L522.79,91.64 L522.85,91.65 L522.92,91.66 L522.99,91.68 L523.06,91.69 L523.12,91.71 L523.19,91.72 L523.26,91.74 L523.32,91.75 L523.39,91.77 L523.46,91.78 L523.52,91.79 L523.59,91.81 L523.66,91.82 L523.73,91.84 L523.79,91.85 L523.86,91.87 L523.93,91.88 L523.99,91.90 L524.06,91.91 L524.13,91.93 L524.20,91.94 L524.26,91.96 L524.33,91.97 L524.40,91.99 L524.46,92.00 L524.53,92.01 L524.60,92.03 L524.66,92.04 L524.73,92.06 L524.80,92.07 L524.87,92.09 L524.93,92.10 L525.00,92.12 L525.07,92.13 L525.13,92.15 L525.20,92.16 L525.27,92.18 L525.34,92.19 L525.40,92.21 L525.47,92.23 L525.54,92.24 L525.60,92.26 L525.67,92.27 L525.74,92.29 L525.80,92.30 L525.87,92.32 L525.94,92.33 L526.01,92.35 L526.07,92.36 L526.14,92.38 L526.21,92.39 L526.27,92.41 L526.34,92.43 L526.41,92.44 L526.47,92.46 L526.54,92.47 L526.61,92.49 L526.68,92.50 L526.74,92.52 L526.81,92.54 L526.88,92.55 L526.94,92.57 L527.01,92.58 L527.08,92.60 L527.15,92.61 L527.21,92.63 L527.28,92.65 L527.35,92.66 L527.41,92.68 L527.48,92.70 L527.55,92.71 L527.61,92.73 L527.68,92.74 L527.75,92.76 L527.82,92.78 L527.88,92.79 L527.95,92.81 L528.02,92.83 L528.08,92.84 L528.15,92.86 L528.22,92.87 L528.28,92.89 L528.35,92.91 L528.42,92.92 L528.49,92.94 L528.55,92.96 L528.62,92.97 L528.69,92.99 L528.75,93.01 L528.82,93.02 L528.89,93.04 L528.96,93.06 L529.02,93.08 L529.09,93.09 L529.16,93.11 L529.22,93.13 L529.29,93.14 L529.36,93.16 L529.42,93.18 L529.49,93.20 L529.56,93.21 L529.63,93.23 L529.69,93.25 L529.76,93.26 L529.83,93.28 L529.89,93.30 L529.96,93.32 L530.03,93.33 L530.09,93.35 L530.16,93.37 L530.23,93.39 L530.30,93.41 L530.36,93.42 L530.43,93.44 L530.50,93.46 L530.56,93.48 L530.63,93.49 L530.70,93.51 L530.77,93.53 L530.83,93.55 L530.90,93.57 L530.97,93.58 L531.03,93.60 L531.10,93.62 L531.17,93.64 L531.23,93.66 L531.30,93.68 L531.37,93.69 L531.44,93.71 L531.50,93.73 L531.57,93.75 L531.64,93.77 L531.70,93.79 L531.77,93.80 L531.84,93.82 L531.91,93.84 L531.97,93.86 L532.04,93.88 L532.11,93.90 L532.17,93.92 L532.24,93.93 L532.31,93.95 L532.37,93.97 L532.44,93.99 L532.51,94.01 L532.58,94.03 L532.64,94.05 L532.71,94.07 L532.78,94.09 L532.84,94.10 L532.91,94.12 L532.98,94.14 L533.04,94.16 L533.11,94.18 L533.18,94.20 L533.25,94.22 L533.31,94.24 L533.38,94.26 L533.45,94.28 L533.51,94.30 L533.58,94.32 L533.65,94.34 L533.72,94.36 L533.78,94.37 L533.85,94.39 L533.92,94.41 L533.98,94.43 L534.05,94.45 L534.12,94.47 L534.18,94.49 L534.25,94.51 L534.32,94.53 L534.39,94.55 L534.45,94.57 L534.52,94.59 L534.59,94.61 L534.65,94.63 L534.72,94.65 L534.79,94.67 L534.85,94.69 L534.92,94.71 L534.99,94.73 L535.06,94.75 L535.12,94.77 L535.19,94.79 L535.26,94.81 L535.32,94.83 L535.39,94.85 L535.46,94.87 L535.53,94.89 L535.59,94.91 L535.66,94.93 L535.73,94.95 L535.79,94.97 L535.86,94.99 L535.93,95.01 L535.99,95.03 L536.06,95.05 L536.13,95.08 L536.20,95.10 L536.26,95.12 L536.33,95.14 L536.40,95.16 L536.46,95.18 L536.53,95.20 L536.60,95.22 L536.66,95.24 L536.73,95.26 L536.80,95.28 L536.87,95.30 L536.93,95.32 L537.00,95.34 L537.07,95.37 L537.13,95.39 L537.20,95.41 L537.27,95.43 L537.34,95.45 L537.40,95.47 L537.47,95.49 L537.54,95.51 L537.60,95.53 L537.67,95.55 L537.74,95.58 L537.80,95.60 L537.87,95.62 L537.94,95.64 L538.01,95.66 L538.07,95.68 L538.14,95.70 L538.21,95.72 L538.27,95.75 L538.34,95.77 L538.41,95.79 L538.48,95.81 L538.54,95.83 L538.61,95.85 L538.68,95.87 L538.74,95.89 L538.81,95.92 L538.88,95.94 L538.94,95.96 L539.01,95.98 L539.08,96.00 L539.15,96.02 L539.21,96.05 L539.28,96.07 L539.35,96.09 L539.41,96.11 L539.48,96.13 L539.55,96.15 L539.61,96.18 L539.68,96.20 L539.75,96.22 L539.82,96.24 L539.88,96.26 L539.95,96.28 L540.02,96.31 L540.08,96.33 L540.15,96.35 L540.22,96.37 L540.29,96.39 L540.35,96.42 L540.42,96.44 L540.49,96.46 L540.55,96.48 L540.62,96.50 L540.69,96.53 L540.75,96.55 L540.82,96.57 L540.89,96.59 L540.96,96.61 L541.02,96.64 L541.09,96.66 L541.16,96.68 L541.22,96.70 L541.29,96.73 L541.36,96.75 L541.42,96.77 L541.49,96.79 L541.56,96.82 L541.63,96.84 L541.69,96.86 L541.76,96.88 L541.83,96.91 L541.89,96.93 L541.96,96.95 L542.03,96.98 L542.10,97.00 L542.16,97.02 L542.23,97.05 L542.30,97.07 L542.36,97.09 L542.43,97.12 L542.50,97.14 L542.56,97.16 L542.63,97.19 L542.70,97.21 L542.77,97.23 L542.83,97.26 L542.90,97.28 L542.97,97.30 L543.03,97.33 L543.10,97.35 L543.17,97.38 L543.23,97.40 L543.30,97.42 L543.37,97.45 L543.44,97.47 L543.50,97.50 L543.57,97.52 L543.64,97.54 L543.70,97.57 L543.77,97.59 L543.84,97.62 L543.91,97.64 L543.97,97.67 L544.04,97.69 L544.11,97.72 L544.17,97.74 L544.24,97.76 L544.31,97.79 L544.37,97.81 L544.44,97.84 L544.51,97.86 L544.58,97.89 L544.64,97.91 L544.71,97.94 L544.78,97.96 L544.84,97.99 L544.91,98.01 L544.98,98.04 L545.05,98.06 L545.11,98.09 L545.18,98.11 L545.25,98.14 L545.31,98.16 L545.38,98.19 L545.45,98.21 L545.51,98.24 L545.58,98.26 L545.65,98.29 L545.72,98.31 L545.78,98.34 L545.85,98.36 L545.92,98.39 L545.98,98.42 L546.05,98.44 L546.12,98.47 L546.18,98.49 L546.25,98.52 L546.32,98.54 L546.39,98.57 L546.45,98.59 L546.52,98.62 L546.59,98.64 L546.65,98.67 L546.72,98.70 L546.79,98.72 L546.86,98.75 L546.92,98.77 L546.99,98.80 L547.06,98.82 L547.12,98.85 L547.19,98.87 L547.26,98.90 L547.32,98.93 L547.39,98.95 L547.46,98.98 L547.53,99.00 L547.59,99.03 L547.66,99.05 L547.73,99.08 L547.79,99.11 L547.86,99.13 L547.93,99.16 L547.99,99.18 L548.06,99.21 L548.13,99.23 L548.20,99.26 L548.26,99.29 L548.33,99.31 L548.40,99.34 L548.46,99.36 L548.53,99.39 L548.60,99.41 L548.67,99.44 L548.73,99.47 L548.80,99.49 L548.87,99.52 L548.93,99.54 L549.00,99.57 L549.07,99.59 L549.13,99.62 L549.20,99.65 L549.27,99.67 L549.34,99.70 L549.40,99.72 L549.47,99.75 L549.54,99.77 L549.60,99.80 L549.67,99.82 L549.74,99.85 L549.81,99.88 L549.87,99.90 L549.94,99.93 L550.01,99.95 L550.07,99.98 L550.14,100.00 L550.21,100.03 L550.27,100.05 L550.34,100.08 L550.41,100.10 L550.48,100.13 L550.54,100.16 L550.61,100.18 L550.68,100.21 L550.74,100.23 L550.81,100.26 L550.88,100.28 L550.94,100.31 L551.01,100.33 L551.08,100.36 L551.15,100.38 L551.21,100.41 L551.28,100.43 L551.35,100.46 L551.41,100.48 L551.48,100.51 L551.55,100.53 L551.62,100.56 L551.68,100.58 L551.75,100.61 L551.82,100.63 L551.88,100.66 L551.95,100.68 L552.02,100.71 L552.08,100.73 L552.15,100.76 L552.22,100.78 L552.29,100.81 L552.35,100.83 L552.42,100.86 L552.49,100.88 L552.55,100.91 L552.62,100.94 L552.69,100.96 L552.75,100.99 L552.82,101.01 L552.89,101.04 L552.96,101.06 L553.02,101.09 L553.09,101.11 L553.16,101.14 L553.22,101.16 L553.29,101.19 L553.36,101.21 L553.43,101.24 L553.49,101.26 L553.56,101.29 L553.63,101.31 L553.69,101.34 L553.76,101.36 L553.83,101.39 L553.89,101.41 L553.96,101.44 L554.03,101.46 L554.10,101.49 L554.16,101.51 L554.23,101.54 L554.30,101.56 L554.36,101.59 L554.43,101.61 L554.50,101.64 L554.56,101.66 L554.63,101.69 L554.70,101.71 L554.77,101.74 L554.83,101.77 L554.90,101.79 L554.97,101.82 L555.03,101.84 L555.10,101.87 L555.17,101.89 L555.24,101.92 L555.30,101.94 L555.37,101.97 L555.44,101.99 L555.50,102.02 L555.57,102.05 L555.64,102.07 L555.70,102.10 L555.77,102.12 L555.84,102.15 L555.91,102.17 L555.97,102.20 L556.04,102.22 L556.11,102.25 L556.17,102.28 L556.24,102.30 L556.31,102.33 L556.38,102.35 L556.44,102.38 L556.51,102.41 L556.58,102.43 L556.64,102.46 L556.71,102.48 L556.78,102.51 L556.84,102.54 L556.91,102.56 L556.98,102.59 L557.05,102.61 L557.11,102.64 L557.18,102.67 L557.25,102.69 L557.31,102.72 L557.38,102.75 L557.45,102.77 L557.51,102.80 L557.58,102.82 L557.65,102.85 L557.72,102.88 L557.78,102.90 L557.85,102.93 L557.92,102.96 L557.98,102.98 L558.05,103.01 L558.12,103.04 L558.19,103.06 L558.25,103.09 L558.32,103.12 L558.39,103.15 L558.45,103.17 L558.52,103.20 L558.59,103.23 L558.65,103.25 L558.72,103.28 L558.79,103.31 L558.86,103.34 L558.92,103.36 L558.99,103.39 L559.06,103.42 L559.12,103.44 L559.19,103.47 L559.26,103.50 L559.32,103.53 L559.39,103.56 L559.46,103.58 L559.53,103.61 L559.59,103.64 L559.66,103.67 L559.73,103.69 L559.79,103.72 L559.86,103.75 L559.93,103.78 L560.00,103.81 L560.06,103.83 L560.13,103.86 L560.20,103.89 L560.26,103.92 L560.33,103.95 L560.40,103.98 L560.46,104.01 L560.53,104.03 L560.60,104.06 L560.67,104.09 L560.73,104.12 L560.80,104.15 L560.87,104.18 L560.93,104.21 L561.00,104.24 L561.07,104.26 L561.13,104.29 L561.20,104.32 L561.27,104.35 L561.34,104.38 L561.40,104.41 L561.47,104.44 L561.54,104.47 L561.60,104.50 L561.67,104.53 L561.74,104.56 L561.81,104.59 L561.87,104.62 L561.94,104.65 L562.01,104.68 L562.07,104.71 L562.14,104.74 L562.21,104.76 L562.27,104.79 L562.34,104.82 L562.41,104.85 L562.48,104.88 L562.54,104.91 L562.61,104.94 L562.68,104.97 L562.74,105.00 L562.81,105.03 L562.88,105.06 L562.95,105.09 L563.01,105.12 L563.08,105.15 L563.15,105.18 L563.21,105.21 L563.28,105.23 L563.35,105.26 L563.41,105.29 L563.48,105.32 L563.55,105.35 L563.62,105.38 L563.68,105.41 L563.75,105.44 L563.82,105.47 L563.88,105.50 L563.95,105.53 L564.02,105.56 L564.08,105.59 L564.15,105.62 L564.22,105.65 L564.29,105.68 L564.35,105.71 L564.42,105.74 L564.49,105.77 L564.55,105.80 L564.62,105.83 L564.69,105.86 L564.76,105.89 L564.82,105.92 L564.89,105.95 L564.96,105.98 L565.02,106.01 L565.09,106.04 L565.16,106.07 L565.22,106.10 L565.29,106.13 L565.36,106.16 L565.43,106.19 L565.49,106.22 L565.56,106.25 L565.63,106.28 L565.69,106.31 L565.76,106.34 L565.83,106.37 L565.89,106.40 L565.96,106.43 L566.03,106.46 L566.10,106.50 L566.16,106.53 L566.23,106.56 L566.30,106.59 L566.36,106.62 L566.43,106.65 L566.50,106.68 L566.57,106.71 L566.63,106.74 L566.70,106.78 L566.77,106.81 L566.83,106.84 L566.90,106.87 L566.97,106.90 L567.03,106.94 L567.10,106.97 L567.17,107.00 L567.24,107.03 L567.30,107.06 L567.37,107.10 L567.44,107.13 L567.50,107.16 L567.57,107.19 L567.64,107.23 L567.70,107.26 L567.77,107.29 L567.84,107.33 L567.91,107.36 L567.97,107.39 L568.04,107.42 L568.11,107.46 L568.17,107.49 L568.24,107.53 L568.31,107.56 L568.38,107.59 L568.44,107.63 L568.51,107.66 L568.58,107.69 L568.64,107.73 L568.71,107.76 L568.78,107.80 L568.84,107.83 L568.91,107.87 L568.98,107.90 L569.05,107.94 L569.11,107.97 L569.18,108.01 L569.25,108.04 L569.31,108.08 L569.38,108.11 L569.45,108.15 L569.52,108.18 L569.58,108.22 L569.65,108.26 L569.72,108.29 L569.78,108.33 L569.85,108.36 L569.92,108.40 L569.98,108.44 L570.05,108.47 L570.12,108.51 L570.19,108.55 L570.25,108.59 L570.32,108.62 L570.39,108.66 L570.45,108.70 L570.52,108.74 L570.59,108.77 L570.65,108.81 L570.72,108.85 L570.79,108.89 L570.86,108.93 L570.92,108.97 L570.99,109.00 L571.06,109.04 L571.12,109.08 L571.19,109.12 L571.26,109.16 L571.33,109.20 L571.39,109.24 L571.46,109.28 L571.53,109.32 L571.59,109.36 L571.66,109.40 L571.73,109.44 L571.79,109.48 L571.86,109.52 L571.93,109.56 L572.00,109.61 L572.06,109.65 L572.13,109.69 L572.20,109.73 L572.26,109.77 L572.33,109.81 L572.40,109.86 L572.46,109.90 L572.53,109.94 L572.60,109.99 L572.67,110.03 L572.73,110.07 L572.80,110.11 L572.87,110.16 L572.93,110.20 L573.00,110.25 L573.07,110.29 L573.14,110.33 L573.20,110.38 L573.27,110.42 L573.34,110.47 L573.40,110.52 L573.47,110.56 L573.54,110.61 L573.60,110.66 L573.67,110.70 L573.74,110.75 L573.81,110.80 L573.87,110.85 L573.94,110.90 L574.01,110.95 L574.07,111.00 L574.14,111.04 L574.21,111.10 L574.28,111.15 L574.34,111.20 L574.41,111.25 L574.48,111.30 L574.54,111.35 L574.61,111.40 L574.68,111.46 L574.74,111.51 L574.81,111.56 L574.88,111.62 L574.95,111.67 L575.01,111.72 L575.08,111.78 L575.15,111.83 L575.21,111.89 L575.28,111.94 L575.35,112.00 L575.41,112.05 L575.48,112.11 L575.55,112.17 L575.62,112.22 L575.68,112.28 L575.75,112.34 L575.82,112.40 L575.88,112.45 L575.95,112.51 L576.02,112.57 L576.09,112.63 L576.15,112.69 L576.22,112.75 L576.29,112.81 L576.35,112.87 L576.42,112.93 L576.49,112.99 L576.55,113.05 L576.62,113.11 L576.69,113.17 L576.76,113.23 L576.82,113.29 L576.89,113.35 L576.96,113.41 L577.02,113.48 L577.09,113.54 L577.16,113.60 L577.22,113.66 L577.29,113.73 L577.36,113.79 L577.43,113.85 L577.49,113.92 L577.56,113.98 L577.63,114.04 L577.69,114.11 L577.76,114.17 L577.83,114.24 L577.90,114.30 L577.96,114.37 L578.03,114.43 L578.10,114.50 L578.16,114.56 L578.23,114.63 L578.30,114.70 L578.36,114.76 L578.43,114.83 L578.50,114.89 L578.57,114.96 L578.63,115.03 L578.70,115.10 L578.77,115.16 L578.83,115.23 L578.90,115.30 L578.97,115.36 L579.03,115.43 L579.10,115.50 L579.17,115.57 L579.24,115.64 L579.30,115.70 L579.37,115.77 L579.44,115.84 L579.50,115.91 L579.57,115.98 L579.64,116.05 L579.71,116.12 L579.77,116.19 L579.84,116.26 L579.91,116.32 L579.97,116.39 L580.04,116.46 L580.11,116.53 L580.17,116.60 L580.24,116.67 L580.31,116.74 L580.38,116.81 L580.44,116.88 L580.51,116.95 L580.58,117.02 L580.64,117.10 L580.71,117.17 L580.78,117.24 L580.85,117.31 L580.91,117.38 L580.98,117.45 L581.05,117.52 L581.11,117.59 L581.18,117.66 L581.25,117.73 L581.31,117.80 L581.38,117.88 L581.45,117.95 L581.52,118.02 L581.58,118.09 L581.65,118.16 L581.72,118.23 L581.78,118.30 L581.85,118.38 L581.92,118.45 L581.98,118.52 L582.05,118.59 L582.12,118.66 L582.19,118.73 L582.25,118.81 L582.32,118.88 L582.39,118.95 L582.45,119.02 L582.52,119.09 L582.59,119.16 L582.66,119.24 L582.72,119.31 L582.79,119.38 L582.86,119.45 L582.92,119.52 L582.99,119.59 L583.06,119.67 L583.12,119.74 L583.19,119.81 L583.26,119.88 L583.33,119.95 L583.39,120.02 L583.46,120.10 L583.53,120.17 L583.59,120.24 L583.66,120.31 L583.73,120.38 L583.79,120.45 L583.86,120.52 L583.93,120.60 L584.00,120.67 L584.06,120.74 L584.13,120.81 L584.20,120.88 L584.26,120.95 L584.33,121.02 L584.40,121.09 L584.47,121.16 L584.53,121.24 L584.60,121.31 L584.67,121.38 L584.73,121.45 L584.80,121.52 L584.87,121.59 L584.93,121.66 L585.00,121.73 L585.07,121.80 L585.14,121.87 L585.20,121.94 L585.27,122.01 L585.34,122.07 L585.40,122.14 L585.47,122.21 L585.54,122.28 L585.60,122.35 L585.67,122.42 L585.74,122.49 L585.81,122.56 L585.87,122.63 L585.94,122.69 L586.01,122.76 L586.07,122.83 L586.14,122.90 L586.21,122.97 L586.28,123.04 L586.34,123.11 L586.41,123.17 L586.48,123.24 L586.54,123.31 L586.61,123.38 L586.68,123.45 L586.74,123.52 L586.81,123.59 L586.88,123.66 L586.95,123.73 L587.01,123.80 L587.08,123.87 L587.15,123.94 L587.21,124.00 L587.28,124.07 L587.35,124.14 L587.42,124.22 L587.48,124.29 L587.55,124.36 L587.62,124.43 L587.68,124.50 L587.75,124.57 L587.82,124.64 L587.88,124.71 L587.95,124.78 L588.02,124.86 L588.09,124.93 L588.15,125.00 L588.22,125.07 L588.29,125.15 L588.35,125.22 L588.42,125.30 L588.49,125.37 L588.55,125.44 L588.62,125.52 L588.69,125.59 L588.76,125.67 L588.82,125.75 L588.89,125.82 L588.96,125.90 L589.02,125.98 L589.09,126.05 L589.16,126.13 L589.23,126.21 L589.29,126.29 L589.36,126.37 L589.43,126.45 L589.49,126.53 L589.56,126.61 L589.63,126.69 L589.69,126.77 L589.76,126.85 L589.83,126.93 L589.90,127.02 L589.96,127.10 L590.03,127.18 L590.10,127.27 L590.16,127.35 L590.23,127.44 L590.30,127.52 L590.36,127.61 L590.43,127.70 L590.50,127.79 L590.57,127.87 L590.63,127.96 L590.70,128.05 L590.77,128.14 L590.83,128.23 L590.90,128.33 L590.97,128.42 L591.04,128.51 L591.10,128.60 L591.17,128.70 L591.24,128.79 L591.30,128.89 L591.37,128.98 L591.44,129.08 L591.50,129.18 L591.57,129.28 L591.64,129.38 L591.71,129.48 L591.77,129.58 L591.84,129.68 L591.91,129.78 L591.97,129.88 L592.04,129.98 L592.11,130.08 L592.18,130.18 L592.24,130.28 L592.31,130.38 L592.38,130.48 L592.44,130.58 L592.51,130.68 L592.58,130.78 L592.64,130.89 L592.71,130.99 L592.78,131.09 L592.85,131.20 L592.91,131.30 L592.98,131.41 L593.05,131.52 L593.11,131.63 L593.18,131.73 L593.25,131.84 L593.31,131.95 L593.38,132.07 L593.45,132.18 L593.52,132.29 L593.58,132.41 L593.65,132.53 L593.72,132.65 L593.78,132.76 L593.85,132.89 L593.92,133.01 L593.99,133.13 L594.05,133.26 L594.12,133.39 L594.19,133.51 L594.25,133.65 L594.32,133.78 L594.39,133.91 L594.45,134.05 L594.52,134.19 L594.59,134.33 L594.66,134.47 L594.72,134.62 L594.79,134.76 L594.86,134.91 L594.92,135.06 L594.99,135.22 L595.06,135.37 L595.12,135.53 L595.19,135.69 L595.26,135.86 L595.33,136.02 L595.39,136.19 L595.46,136.36 L595.53,136.54 L595.59,136.72 L595.66,136.90 L595.73,137.08 L595.80,137.27 L595.86,137.45 L595.93,137.65 L596.00,137.84 L596.06,138.04 L596.13,138.24 L596.20,138.45 L596.26,138.66 L596.33,138.87 L596.40,139.10 L596.47,139.33 L596.53,139.58 L596.60,139.84 L596.67,140.11 L596.73,140.40 L596.80,140.70 L596.87,141.00 L596.93,141.33 L597.00,141.66 L597.07,142.01 L597.14,142.37 L597.20,142.74 L597.27,143.12 L597.34,143.52 L597.40,143.93 L597.47,144.36 L597.54,144.80 L597.61,145.25 L597.67,145.72 L597.74,146.20 L597.81,146.69 L597.87,147.21 L597.94,147.76 L598.01,148.34" stroke="#7f7f7f" stroke-opacity="0.66" stroke-width="1.35" stroke-dasharray="4.8 2.05" fill="none"/>
<path d="M558.39,148.84 L558.45,148.69 L558.52,148.55 L558.59,148.41 L558.65,148.27 L558.72,148.12 L558.79,147.98 L558.86,147.84 L558.92,147.70 L558.99,147.56 L559.06,147.42 L559.12,147.28 L559.19,147.14 L559.26,147.00 L559.32,146.85 L559.39,146.71 L559.46,146.58 L559.53,146.44 L559.59,146.30 L559.66,146.16 L559.73,146.02 L559.79,145.88 L559.86,145.74 L559.93,145.60 L560.00,145.46 L560.06,145.33 L560.13,145.19 L560.20,145.05 L560.26,144.91 L560.33,144.78 L560.40,144.64 L560.46,144.50 L560.53,144.37 L560.60,144.23 L560.67,144.09 L560.73,143.96 L560.80,143.82 L560.87,143.69 L560.93,143.55 L561.00,143.42 L561.07,143.28 L561.13,143.15 L561.20,143.01 L561.27,142.88 L561.34,142.74 L561.40,142.61 L561.47,142.47 L561.54,142.34 L561.60,142.21 L561.67,142.07 L561.74,141.94 L561.81,141.81 L561.87,141.68 L561.94,141.54 L562.01,141.41 L562.07,141.28 L562.14,141.15 L562.21,141.02 L562.27,140.89 L562.34,140.76 L562.41,140.62 L562.48,140.49 L562.54,140.36 L562.61,140.23 L562.68,140.10 L562.74,139.97 L562.81,139.84 L562.88,139.71 L562.95,139.58 L563.01,139.46 L563.08,139.33 L563.15,139.20 L563.21,139.07 L563.28,138.94 L563.35,138.81 L563.41,138.69 L563.48,138.56 L563.55,138.43 L563.62,138.30 L563.68,138.18 L563.75,138.05 L563.82,137.92 L563.88,137.80 L563.95,137.67 L564.02,137.54 L564.08,137.42 L564.15,137.29 L564.22,137.17 L564.29,137.04 L564.35,136.92 L564.42,136.79 L564.49,136.67 L564.55,136.54 L564.62,136.42 L564.69,136.30 L564.76,136.17 L564.82,136.05 L564.89,135.93 L564.96,135.80 L565.02,135.68 L565.09,135.56 L565.16,135.43 L565.22,135.31 L565.29,135.19 L565.36,135.07 L565.43,134.95 L565.49,134.82 L565.56,134.70 L565.63,134.58 L565.69,134.46 L565.76,134.34 L565.83,134.22 L565.89,134.10 L565.96,133.98 L566.03,133.86 L566.10,133.74 L566.16,133.62 L566.23,133.50 L566.30,133.38 L566.36,133.26 L566.43,133.14 L566.50,133.03 L566.57,132.91 L566.63,132.79 L566.70,132.67 L566.77,132.55 L566.83,132.44 L566.90,132.32 L566.97,132.20 L567.03,132.09 L567.10,131.97 L567.17,131.85 L567.24,131.74 L567.30,131.62 L567.37,131.50 L567.44,131.39 L567.50,131.27 L567.57,131.16 L567.64,131.04 L567.70,130.93 L567.77,130.81 L567.84,130.70 L567.91,130.59 L567.97,130.47 L568.04,130.36 L568.11,130.24 L568.17,130.13 L568.24,130.02 L568.31,129.90 L568.38,129.79 L568.44,129.68 L568.51,129.57 L568.58,129.45 L568.64,129.34 L568.71,129.23 L568.78,129.12 L568.84,129.01 L568.91,128.90 L568.98,128.79 L569.05,128.68 L569.11,128.57 L569.18,128.45 L569.25,128.34 L569.31,128.23 L569.38,128.12 L569.45,128.02 L569.52,127.91 L569.58,127.80 L569.65,127.69 L569.72,127.58 L569.78,127.47 L569.85,127.36 L569.92,127.25 L569.98,127.15 L570.05,127.04 L570.12,126.93 L570.19,126.82 L570.25,126.72 L570.32,126.61 L570.39,126.50 L570.45,126.40 L570.52,126.29 L570.59,126.19 L570.65,126.08 L570.72,125.97 L570.79,125.87 L570.86,125.76 L570.92,125.66 L570.99,125.55 L571.06,125.45 L571.12,125.34 L571.19,125.24 L571.26,125.14 L571.33,125.03 L571.39,124.93 L571.46,124.83 L571.53,124.72 L571.59,124.62 L571.66,124.52 L571.73,124.41 L571.79,124.31 L571.86,124.21 L571.93,124.11 L572.00,124.01 L572.06,123.90 L572.13,123.80 L572.20,123.70 L572.26,123.60 L572.33,123.50 L572.40,123.40 L572.46,123.30 L572.53,123.20 L572.60,123.10 L572.67,123.00 L572.73,122.90 L572.80,122.80 L572.87,122.70 L572.93,122.60 L573.00,122.50 L573.07,122.40 L573.14,122.31 L573.20,122.21 L573.27,122.11 L573.34,122.01 L573.40,121.92 L573.47,121.82 L573.54,121.72 L573.60,121.62 L573.67,121.53 L573.74,121.43 L573.81,121.33 L573.87,121.24 L573.94,121.14 L574.01,121.05 L574.07,120.95 L574.14,120.86 L574.21,120.76 L574.28,120.67 L574.34,120.57 L574.41,120.48 L574.48,120.38 L574.54,120.29 L574.61,120.20 L574.68,120.10 L574.74,120.01 L574.81,119.92 L574.88,119.82 L574.95,119.73 L575.01,119.64 L575.08,119.54 L575.15,119.45 L575.21,119.36 L575.28,119.27 L575.35,119.18 L575.41,119.09 L575.48,118.99 L575.55,118.90 L575.62,118.81 L575.68,118.72 L575.75,118.63 L575.82,118.54 L575.88,118.45 L575.95,118.36 L576.02,118.27 L576.09,118.18 L576.15,118.09 L576.22,118.00 L576.29,117.92 L576.35,117.83 L576.42,117.74 L576.49,117.65 L576.55,117.56 L576.62,117.48 L576.69,117.39 L576.76,117.30 L576.82,117.21 L576.89,117.13 L576.96,117.04 L577.02,116.95 L577.09,116.87 L577.16,116.78 L577.22,116.69 L577.29,116.61 L577.36,116.52 L577.43,116.44 L577.49,116.35 L577.56,116.27 L577.63,116.18 L577.69,116.10 L577.76,116.02 L577.83,115.93 L577.90,115.85 L577.96,115.76 L578.03,115.68 L578.10,115.60 L578.16,115.51 L578.23,115.43 L578.30,115.35 L578.36,115.27 L578.43,115.18 L578.50,115.10 L578.57,115.02 L578.63,114.94 L578.70,114.86 L578.77,114.78 L578.83,114.69 L578.90,114.61 L578.97,114.53 L579.03,114.45 L579.10,114.37 L579.17,114.29 L579.24,114.21 L579.30,114.13 L579.37,114.05 L579.44,113.97 L579.50,113.90 L579.57,113.82 L579.64,113.74 L579.71,113.66 L579.77,113.58 L579.84,113.50 L579.91,113.43 L579.97,113.35 L580.04,113.27 L580.11,113.19 L580.17,113.12 L580.24,113.04 L580.31,112.96 L580.38,112.89 L580.44,112.81 L580.51,112.74 L580.58,112.66 L580.64,112.58 L580.71,112.51 L580.78,112.43 L580.85,112.36 L580.91,112.28 L580.98,112.21 L581.05,112.14 L581.11,112.06 L581.18,111.99 L581.25,111.91 L581.31,111.84 L581.38,111.77 L581.45,111.69 L581.52,111.62 L581.58,111.55 L581.65,111.48 L581.72,111.40 L581.78,111.33 L581.85,111.26 L581.92,111.19 L581.98,111.12 L582.05,111.05 L582.12,110.97 L582.19,110.90 L582.25,110.83 L582.32,110.76 L582.39,110.69 L582.45,110.62 L582.52,110.55 L582.59,110.48 L582.66,110.41 L582.72,110.34 L582.79,110.28 L582.86,110.21 L582.92,110.14 L582.99,110.07 L583.06,110.00 L583.12,109.93 L583.19,109.87 L583.26,109.80 L583.33,109.73 L583.39,109.66 L583.46,109.60 L583.53,109.53 L583.59,109.46 L583.66,109.40 L583.73,109.33 L583.79,109.27 L583.86,109.20 L583.93,109.13 L584.00,109.07 L584.06,109.00 L584.13,108.94 L584.20,108.87 L584.26,108.81 L584.33,108.75 L584.40,108.68 L584.47,108.62 L584.53,108.55 L584.60,108.49 L584.67,108.43 L584.73,108.36 L584.80,108.30 L584.87,108.24 L584.93,108.18 L585.00,108.11 L585.07,108.05 L585.14,107.99 L585.20,107.93 L585.27,107.87 L585.34,107.80 L585.40,107.74 L585.47,107.68 L585.54,107.62 L585.60,107.56 L585.67,107.50 L585.74,107.44 L585.81,107.38 L585.87,107.32 L585.94,107.26 L586.01,107.20 L586.07,107.14 L586.14,107.09 L586.21,107.03 L586.28,106.97 L586.34,106.91 L586.41,106.85 L586.48,106.79 L586.54,106.74 L586.61,106.68 L586.68,106.62 L586.74,106.57 L586.81,106.51 L586.88,106.45 L586.95,106.40 L587.01,106.34 L587.08,106.28 L587.15,106.23 L587.21,106.17 L587.28,106.12 L587.35,106.06 L587.42,106.01 L587.48,105.95 L587.55,105.90 L587.62,105.84 L587.68,105.79 L587.75,105.73 L587.82,105.68 L587.88,105.63 L587.95,105.57 L588.02,105.52 L588.09,105.47 L588.15,105.42 L588.22,105.36 L588.29,105.31 L588.35,105.26 L588.42,105.21 L588.49,105.16 L588.55,105.10 L588.62,105.05 L588.69,105.00 L588.76,104.95 L588.82,104.90 L588.89,104.85 L588.96,104.80 L589.02,104.75 L589.09,104.70 L589.16,104.65 L589.23,104.60 L589.29,104.55 L589.36,104.50 L589.43,104.45 L589.49,104.40 L589.56,104.36 L589.63,104.31 L589.69,104.26 L589.76,104.21 L589.83,104.16 L589.90,104.12 L589.96,104.07 L590.03,104.02 L590.10,103.98 L590.16,103.93 L590.23,103.88 L590.30,103.84 L590.36,103.79 L590.43,103.74 L590.50,103.70 L590.57,103.65 L590.63,103.61 L590.70,103.56 L590.77,103.52 L590.83,103.47 L590.90,103.43 L590.97,103.39 L591.04,103.34 L591.10,103.30 L591.17,103.25 L591.24,103.21 L591.30,103.17 L591.37,103.12 L591.44,103.08 L591.50,103.04 L591.57,103.00 L591.64,102.96 L591.71,102.91 L591.77,102.87 L591.84,102.83 L591.91,102.79 L591.97,102.75 L592.04,102.71 L592.11,102.67 L592.18,102.63 L592.24,102.59 L592.31,102.55 L592.38,102.51 L592.44,102.47 L592.51,102.43 L592.58,102.39 L592.64,102.35 L592.71,102.31 L592.78,102.27 L592.85,102.23 L592.91,102.19 L592.98,102.16 L593.05,102.12 L593.11,102.08 L593.18,102.04 L593.25,102.01 L593.31,101.97 L593.38,101.93 L593.45,101.89 L593.52,101.86 L593.58,101.82 L593.65,101.79 L593.72,101.75 L593.78,101.71 L593.85,101.68 L593.92,101.64 L593.99,101.61 L594.05,101.57 L594.12,101.54 L594.19,101.51 L594.25,101.47 L594.32,101.44 L594.39,101.40 L594.45,101.37 L594.52,101.34 L594.59,101.30 L594.66,101.27 L594.72,101.24 L594.79,101.20 L594.86,101.17 L594.92,101.14 L594.99,101.11 L595.06,101.08 L595.12,101.05 L595.19,101.01 L595.26,100.98 L595.33,100.95 L595.39,100.92 L595.46,100.89 L595.53,100.86 L595.59,100.83 L595.66,100.80 L595.73,100.77 L595.80,100.74 L595.86,100.71 L595.93,100.68 L596.00,100.65 L596.06,100.62 L596.13,100.60 L596.20,100.57 L596.26,100.54 L596.33,100.51 L596.40,100.48 L596.47,100.46 L596.53,100.43 L596.60,100.40 L596.67,100.38 L596.73,100.35 L596.80,100.32 L596.87,100.30 L596.93,100.27 L597.00,100.24 L597.07,100.22 L597.14,100.19 L597.20,100.17 L597.27,100.14 L597.34,100.12 L597.40,100.09 L597.47,100.07 L597.54,100.05 L597.61,100.02 L597.67,100.00 L597.74,99.97 L597.81,99.95 L597.87,99.93 L597.94,99.90 L598.01,99.88 L598.07,99.86 L598.14,99.84 L598.21,99.81 L598.28,99.79 L598.34,99.77 L598.41,99.75 L598.48,99.73 L598.54,99.71 L598.61,99.69 L598.68,99.66 L598.75,99.64 L598.81,99.62 L598.88,99.60 L598.95,99.58 L599.01,99.56 L599.08,99.54 L599.15,99.52 L599.21,99.51 L599.28,99.49 L599.35,99.47 L599.42,99.45 L599.48,99.43 L599.55,99.41 L599.62,99.40 L599.68,99.38 L599.75,99.36 L599.82,99.34 L599.88,99.33 L599.95,99.31 L600.02,99.29 L600.09,99.28 L600.15,99.26 L600.22,99.24 L600.29,99.23 L600.35,99.21 L600.42,99.20 L600.49,99.18 L600.56,99.17 L600.62,99.15 L600.69,99.14 L600.76,99.12 L600.82,99.11 L600.89,99.09 L600.96,99.08 L601.02,99.07 L601.09,99.05 L601.16,99.04 L601.23,99.03 L601.29,99.01 L601.36,99.00 L601.43,98.99 L601.49,98.98 L601.56,98.96 L601.63,98.95 L601.69,98.94 L601.76,98.93 L601.83,98.92 L601.90,98.91 L601.96,98.90 L602.03,98.89 L602.10,98.88 L602.16,98.87 L602.23,98.86 L602.30,98.85 L602.37,98.84 L602.43,98.83 L602.50,98.82 L602.57,98.81 L602.63,98.80 L602.70,98.79 L602.77,98.78 L602.83,98.78 L602.90,98.77 L602.97,98.76 L603.04,98.75 L603.10,98.74 L603.17,98.74 L603.24,98.73 L603.30,98.72 L603.37,98.72 L603.44,98.71 L603.50,98.71 L603.57,98.70 L603.64,98.69 L603.71,98.69 L603.77,98.68 L603.84,98.68 L603.91,98.67 L603.97,98.67 L604.04,98.66 L604.11,98.66 L604.18,98.66 L604.24,98.65 L604.31,98.65 L604.38,98.64 L604.44,98.64 L604.51,98.64 L604.58,98.64 L604.64,98.63 L604.71,98.63 L604.78,98.63 L604.85,98.63 L604.91,98.62 L604.98,98.62 L605.05,98.62 L605.11,98.62 L605.18,98.62 L605.25,98.62 L605.32,98.62 L605.38,98.62 L605.45,98.62 L605.52,98.62 L605.58,98.62 L605.65,98.62 L605.72,98.62 L605.78,98.62 L605.85,98.62 L605.92,98.62 L605.99,98.62 L606.05,98.62 L606.12,98.63 L606.19,98.63 L606.25,98.63 L606.32,98.63 L606.39,98.64 L606.45,98.64 L606.52,98.64 L606.59,98.64 L606.66,98.65 L606.72,98.65 L606.79,98.66 L606.86,98.66 L606.92,98.66 L606.99,98.67 L607.06,98.67 L607.13,98.68 L607.19,98.68 L607.26,98.69 L607.33,98.69 L607.39,98.70 L607.46,98.71 L607.53,98.71 L607.59,98.72 L607.66,98.72 L607.73,98.73 L607.80,98.74 L607.86,98.75 L607.93,98.75 L608.00,98.76 L608.06,98.77 L608.13,98.78 L608.20,98.78 L608.26,98.79 L608.33,98.80 L608.40,98.81 L608.47,98.82 L608.53,98.83 L608.60,98.84 L608.67,98.85 L608.73,98.86 L608.80,98.87 L608.87,98.88 L608.94,98.89 L609.00,98.90 L609.07,98.91 L609.14,98.92 L609.20,98.93 L609.27,98.94 L609.34,98.95 L609.40,98.97 L609.47,98.98 L609.54,98.99 L609.61,99.00 L609.67,99.01 L609.74,99.03 L609.81,99.04 L609.87,99.05 L609.94,99.07 L610.01,99.08 L610.07,99.09 L610.14,99.11 L610.21,99.12 L610.28,99.14 L610.34,99.15 L610.41,99.17 L610.48,99.18 L610.54,99.20 L610.61,99.21 L610.68,99.23 L610.75,99.24 L610.81,99.26 L610.88,99.28 L610.95,99.29 L611.01,99.31 L611.08,99.33 L611.15,99.34 L611.21,99.36 L611.28,99.38 L611.35,99.40 L611.42,99.41 L611.48,99.43 L611.55,99.45 L611.62,99.47 L611.68,99.49 L611.75,99.51 L611.82,99.53 L611.89,99.55 L611.95,99.56 L612.02,99.58 L612.09,99.60 L612.15,99.62 L612.22,99.65 L612.29,99.67 L612.35,99.69 L612.42,99.71 L612.49,99.73 L612.56,99.75 L612.62,99.77 L612.69,99.79 L612.76,99.82 L612.82,99.84 L612.89,99.86 L612.96,99.88 L613.02,99.91 L613.09,99.93 L613.16,99.95 L613.23,99.98 L613.29,100.00 L613.36,100.02 L613.43,100.05 L613.49,100.07 L613.56,100.10 L613.63,100.12 L613.70,100.14 L613.76,100.17 L613.83,100.19 L613.90,100.22 L613.96,100.25 L614.03,100.27 L614.10,100.30 L614.16,100.32 L614.23,100.35 L614.30,100.38 L614.37,100.40 L614.43,100.43 L614.50,100.46 L614.57,100.49 L614.63,100.51 L614.70,100.54 L614.77,100.57 L614.83,100.60 L614.90,100.63 L614.97,100.66 L615.04,100.68 L615.10,100.71 L615.17,100.74 L615.24,100.77 L615.30,100.80 L615.37,100.83 L615.44,100.86 L615.51,100.89 L615.57,100.92 L615.64,100.95 L615.71,100.98 L615.77,101.02 L615.84,101.05 L615.91,101.08 L615.97,101.11 L616.04,101.14 L616.11,101.17 L616.18,101.21 L616.24,101.24 L616.31,101.27 L616.38,101.31 L616.44,101.34 L616.51,101.37 L616.58,101.41 L616.65,101.44 L616.71,101.47 L616.78,101.51 L616.85,101.54 L616.91,101.58 L616.98,101.61 L617.05,101.65 L617.11,101.68 L617.18,101.72 L617.25,101.75 L617.32,101.79 L617.38,101.82 L617.45,101.86 L617.52,101.90 L617.58,101.93 L617.65,101.97 L617.72,102.01 L617.78,102.04 L617.85,102.08 L617.92,102.12 L617.99,102.16 L618.05,102.20 L618.12,102.23 L618.19,102.27 L618.25,102.31 L618.32,102.35 L618.39,102.39 L618.46,102.43 L618.52,102.47 L618.59,102.51 L618.66,102.55 L618.72,102.59 L618.79,102.63 L618.86,102.67 L618.92,102.71 L618.99,102.75 L619.06,102.79 L619.13,102.83 L619.19,102.87 L619.26,102.92 L619.33,102.96 L619.39,103.00 L619.46,103.04 L619.53,103.08 L619.59,103.13 L619.66,103.17 L619.73,103.21 L619.80,103.26 L619.86,103.30 L619.93,103.34 L620.00,103.39 L620.06,103.43 L620.13,103.48 L620.20,103.52 L620.27,103.57 L620.33,103.61 L620.40,103.66 L620.47,103.70 L620.53,103.75 L620.60,103.79 L620.67,103.84 L620.73,103.89 L620.80,103.93 L620.87,103.98 L620.94,104.03 L621.00,104.07 L621.07,104.12 L621.14,104.17 L621.20,104.21 L621.27,104.26 L621.34,104.31 L621.40,104.36 L621.47,104.41 L621.54,104.46 L621.61,104.50 L621.67,104.55 L621.74,104.60 L621.81,104.65 L621.87,104.70 L621.94,104.75 L622.01,104.80 L622.08,104.85 L622.14,104.90 L622.21,104.95 L622.28,105.00 L622.34,105.06 L622.41,105.11 L622.48,105.16 L622.54,105.21 L622.61,105.26 L622.68,105.31 L622.75,105.37 L622.81,105.42 L622.88,105.47 L622.95,105.52 L623.01,105.58 L623.08,105.63 L623.15,105.68 L623.22,105.74 L623.28,105.79 L623.35,105.85 L623.42,105.90 L623.48,105.96 L623.55,106.01 L623.62,106.06 L623.68,106.12 L623.75,106.18 L623.82,106.23 L623.89,106.29 L623.95,106.34 L624.02,106.40 L624.09,106.46 L624.15,106.51 L624.22,106.57 L624.29,106.63 L624.35,106.68 L624.42,106.74 L624.49,106.80 L624.56,106.86 L624.62,106.91 L624.69,106.97 L624.76,107.03 L624.82,107.09 L624.89,107.15 L624.96,107.21 L625.03,107.27 L625.09,107.33 L625.16,107.39 L625.23,107.44 L625.29,107.51 L625.36,107.57 L625.43,107.63 L625.49,107.69 L625.56,107.75 L625.63,107.81 L625.70,107.87 L625.76,107.93 L625.83,107.99 L625.90,108.05 L625.96,108.12 L626.03,108.18 L626.10,108.24 L626.16,108.30 L626.23,108.37 L626.30,108.43 L626.37,108.49 L626.43,108.56 L626.50,108.62 L626.57,108.68 L626.63,108.75 L626.70,108.81 L626.77,108.88 L626.84,108.94 L626.90,109.01 L626.97,109.07 L627.04,109.14 L627.10,109.20 L627.17,109.27 L627.24,109.34 L627.30,109.40 L627.37,109.47 L627.44,109.53 L627.51,109.60 L627.57,109.67 L627.64,109.74 L627.71,109.80 L627.77,109.87 L627.84,109.94 L627.91,110.01 L627.97,110.07 L628.04,110.14 L628.11,110.21 L628.18,110.28 L628.24,110.35 L628.31,110.42 L628.38,110.49 L628.44,110.56 L628.51,110.63 L628.58,110.70 L628.65,110.77 L628.71,110.84 L628.78,110.91 L628.85,110.98 L628.91,111.05 L628.98,111.12 L629.05,111.19 L629.11,111.26 L629.18,111.34 L629.25,111.41 L629.32,111.48 L629.38,111.55 L629.45,111.63 L629.52,111.70 L629.58,111.77 L629.65,111.84 L629.72,111.92 L629.79,111.99 L629.85,112.07 L629.92,112.14 L629.99,112.21 L630.05,112.29 L630.12,112.36 L630.19,112.44 L630.25,112.51 L630.32,112.59 L630.39,112.66 L630.46,112.74 L630.52,112.82 L630.59,112.89 L630.66,112.97 L630.72,113.05 L630.79,113.12 L630.86,113.20 L630.92,113.28 L630.99,113.35 L631.06,113.43 L631.13,113.51 L631.19,113.59 L631.26,113.66 L631.33,113.74 L631.39,113.82 L631.46,113.90 L631.53,113.98 L631.60,114.06 L631.66,114.14 L631.73,114.22 L631.80,114.30 L631.86,114.38 L631.93,114.46 L632.00,114.54 L632.06,114.62 L632.13,114.70 L632.20,114.78 L632.27,114.86 L632.33,114.94 L632.40,115.02 L632.47,115.11 L632.53,115.19 L632.60,115.27 L632.67,115.35 L632.73,115.44 L632.80,115.52 L632.87,115.60 L632.94,115.68 L633.00,115.77 L633.07,115.85 L633.14,115.94 L633.20,116.02 L633.27,116.10 L633.34,116.19 L633.41,116.27 L633.47,116.36 L633.54,116.44 L633.61,116.53 L633.67,116.61 L633.74,116.70 L633.81,116.79 L633.87,116.87 L633.94,116.96 L634.01,117.04 L634.08,117.13 L634.14,117.22 L634.21,117.31 L634.28,117.39 L634.34,117.48 L634.41,117.57 L634.48,117.66 L634.54,117.74 L634.61,117.83 L634.68,117.92 L634.75,118.01 L634.81,118.10 L634.88,118.19 L634.95,118.28 L635.01,118.37 L635.08,118.46 L635.15,118.55 L635.22,118.64 L635.28,118.73 L635.35,118.82 L635.42,118.91 L635.48,119.00 L635.55,119.09 L635.62,119.18 L635.68,119.27 L635.75,119.37 L635.82,119.46 L635.89,119.55 L635.95,119.64 L636.02,119.73 L636.09,119.83 L636.15,119.92 L636.22,120.01 L636.29,120.11 L636.36,120.20 L636.42,120.29 L636.49,120.39 L636.56,120.48 L636.62,120.58 L636.69,120.67 L636.76,120.77 L636.82,120.86 L636.89,120.96 L636.96,121.05 L637.03,121.15 L637.09,121.24 L637.16,121.34 L637.23,121.44 L637.29,121.53 L637.36,121.63 L637.43,121.73 L637.49,121.82 L637.56,121.92 L637.63,122.02 L637.70,122.12 L637.76,122.21 L637.83,122.31 L637.90,122.41 L637.96,122.51 L638.03,122.61 L638.10,122.71 L638.17,122.81 L638.23,122.91 L638.30,123.00 L638.37,123.10 L638.43,123.20 L638.50,123.30 L638.57,123.40 L638.63,123.51 L638.70,123.61 L638.77,123.71 L638.84,123.81 L638.90,123.91 L638.97,124.01 L639.04,124.11 L639.10,124.22 L639.17,124.32 L639.24,124.42 L639.30,124.52 L639.37,124.63 L639.44,124.73 L639.51,124.83 L639.57,124.93 L639.64,125.04 L639.71,125.14 L639.77,125.25 L639.84,125.35 L639.91,125.45 L639.98,125.56 L640.04,125.66 L640.11,125.77 L640.18,125.87 L640.24,125.98 L640.31,126.09 L640.38,126.19 L640.44,126.30 L640.51,126.40 L640.58,126.51 L640.65,126.62 L640.71,126.72 L640.78,126.83 L640.85,126.94 L640.91,127.05 L640.98,127.15 L641.05,127.26 L641.12,127.37 L641.18,127.48 L641.25,127.59 L641.32,127.69 L641.38,127.80 L641.45,127.91 L641.52,128.02 L641.58,128.13 L641.65,128.24 L641.72,128.35 L641.79,128.46 L641.85,128.57 L641.92,128.68 L641.99,128.79 L642.05,128.90 L642.12,129.01 L642.19,129.13 L642.25,129.24 L642.32,129.35 L642.39,129.46 L642.46,129.57 L642.52,129.69 L642.59,129.80 L642.66,129.91 L642.72,130.02 L642.79,130.14 L642.86,130.25 L642.93,130.36 L642.99,130.48 L643.06,130.59 L643.13,130.71 L643.19,130.82 L643.26,130.94 L643.33,131.05 L643.39,131.17 L643.46,131.28 L643.53,131.40 L643.60,131.51 L643.66,131.63 L643.73,131.74 L643.80,131.86 L643.86,131.98 L643.93,132.09 L644.00,132.21 L644.06,132.33 L644.13,132.44 L644.20,132.56 L644.27,132.68 L644.33,132.80 L644.40,132.91 L644.47,133.03 L644.53,133.15 L644.60,133.27 L644.67,133.39 L644.74,133.51 L644.80,133.63 L644.87,133.75 L644.94,133.87 L645.00,133.99 L645.07,134.11 L645.14,134.23 L645.20,134.35 L645.27,134.47 L645.34,134.59 L645.41,134.71 L645.47,134.83 L645.54,134.95 L645.61,135.07 L645.67,135.20 L645.74,135.32 L645.81,135.44 L645.87,135.56 L645.94,135.69 L646.01,135.81 L646.08,135.93 L646.14,136.06 L646.21,136.18 L646.28,136.30 L646.34,136.43 L646.41,136.55 L646.48,136.68 L646.55,136.80 L646.61,136.92 L646.68,137.05 L646.75,137.17 L646.81,137.30 L646.88,137.43 L646.95,137.55 L647.01,137.68 L647.08,137.80 L647.15,137.93 L647.22,138.06 L647.28,138.18 L647.35,138.31 L647.42,138.44 L647.48,138.57 L647.55,138.69 L647.62,138.82 L647.69,138.95 L647.75,139.08 L647.82,139.21 L647.89,139.33 L647.95,139.46 L648.02,139.59 L648.09,139.72 L648.15,139.85 L648.22,139.98 L648.29,140.11 L648.36,140.24 L648.42,140.37 L648.49,140.50 L648.56,140.63 L648.62,140.76 L648.69,140.89 L648.76,141.03 L648.82,141.16 L648.89,141.29 L648.96,141.42 L649.03,141.55 L649.09,141.68 L649.16,141.82 L649.23,141.95 L649.29,142.08 L649.36,142.22 L649.43,142.35 L649.50,142.48 L649.56,142.62 L649.63,142.75 L649.70,142.88 L649.76,143.02 L649.83,143.15 L649.90,143.29" stroke="#bcbd22" stroke-opacity="0.66" stroke-width="1.35" stroke-dasharray="4.8 2.05" fill="none"/>
<path d="M382.2,84.5 L382.9,82.4 L383.6,80.6 L384.2,79.6 L384.9,79.5 L385.7,79.5 L386.4,78.8 L387.1,77.8 L387.8,78.4 L388.4,78.2 L389.2,78.7 L389.9,78.0 L390.6,78.0 L391.2,77.4 L391.9,77.3 L392.7,77.9 L393.4,77.8 L394.1,77.5 L394.8,77.8 L395.4,77.5 L396.2,77.1 L396.9,78.0 L397.6,76.9 L398.2,77.2 L398.9,77.0 L399.7,77.1 L400.4,77.0 L401.1,77.3 L401.8,76.9 L402.4,77.5 L403.2,77.2 L403.9,76.6 L404.6,76.8 L405.2,76.8 L405.9,76.3 L406.7,76.6 L407.4,76.8 L408.1,76.2 L408.8,76.2 L409.4,76.2 L410.2,76.2 L410.9,76.3 L411.6,76.6 L412.2,76.2 L412.9,76.6 L413.7,76.2 L414.4,76.1 L415.1,76.6 L415.8,75.9 L416.4,76.3 L417.1,76.5 L417.9,76.1 L418.6,76.6 L419.2,76.4 L419.9,76.5 L420.6,76.4 L421.4,76.4 L422.1,76.9 L422.8,76.4 L423.4,76.4 L424.1,76.6 L424.9,76.6 L425.6,77.0 L426.2,76.8 L426.9,76.4 L427.6,76.8 L428.4,76.2 L429.1,77.2 L429.8,76.9 L430.4,76.6 L431.1,77.2 L431.9,76.5 L432.6,76.8 L433.2,76.9 L433.9,76.8 L434.6,77.2 L435.4,77.4 L436.1,77.5 L436.8,77.5 L437.4,77.9 L438.1,77.6 L438.9,77.5 L439.6,77.7 L440.2,78.2 L440.9,77.3 L441.6,77.9 L442.4,78.3 L443.1,77.7 L443.8,77.8 L444.4,78.5 L445.1,78.1 L445.9,78.7 L446.6,78.9 L447.2,78.3 L447.9,78.2 L448.6,78.4 L449.4,78.2 L450.1,78.7 L450.8,78.3 L451.4,79.3 L452.1,79.0 L452.9,79.0 L453.6,79.4 L454.2,78.3 L454.9,78.6 L455.6,79.7 L456.4,79.1 L457.1,79.6 L457.8,79.7 L458.4,79.5 L459.1,80.0 L459.9,79.5 L460.6,79.2 L461.2,80.1 L461.9,79.8 L462.6,80.3 L463.4,79.3 L464.1,79.7 L464.8,80.1 L465.4,79.3 L466.1,81.0 L466.9,80.0 L467.6,80.2 L468.2,79.9 L468.9,80.9 L469.6,80.6 L470.4,80.6 L471.1,80.9 L471.8,81.3 L472.4,80.4 L473.1,81.8 L473.9,80.4 L474.6,81.3 L475.2,81.4 L475.9,81.2 L476.6,81.1 L477.4,81.5 L478.1,81.4 L478.8,81.9 L479.4,81.0 L480.1,81.7 L480.9,82.5 L481.6,81.7 L482.2,81.8 L482.9,82.0 L483.6,82.4 L484.4,82.3 L485.1,81.9 L485.8,82.8 L486.4,82.5 L487.1,82.3 L487.9,81.8 L488.6,83.2 L489.2,83.1 L489.9,83.0 L490.6,83.6 L491.4,83.5 L492.1,84.0 L492.8,83.8 L493.4,83.5 L494.1,84.2 L494.9,84.5 L495.6,83.8 L496.2,84.7 L496.9,84.3 L497.6,84.7 L498.4,84.0 L499.1,84.8 L499.8,84.1 L500.4,84.7 L501.1,85.1 L501.9,84.8 L502.6,84.4 L503.2,85.1 L503.9,84.9 L504.6,84.8 L505.4,85.8 L506.1,86.7 L506.8,85.5 L507.4,86.2 L508.1,86.2 L508.9,85.5 L509.6,85.9 L510.2,86.4 L511.0,87.1 L511.6,86.3 L512.4,86.2 L513.0,86.6 L513.8,86.7 L514.5,86.7 L515.1,86.6 L515.9,87.1 L516.5,87.8 L517.2,87.2 L518.0,87.3 L518.6,87.5 L519.4,88.6 L520.0,87.8 L520.8,88.2 L521.5,87.8 L522.1,87.3 L522.9,88.2 L523.5,88.9 L524.2,88.1 L525.0,88.4 L525.6,89.1 L526.4,88.5 L527.0,88.4 L527.8,89.5 L528.5,88.4 L529.1,87.8 L529.9,88.4 L530.5,88.3 L531.2,87.8 L532.0,89.3 L532.6,89.7 L533.4,89.1 L534.0,88.9 L534.8,90.7 L535.5,89.2 L536.1,89.9 L536.9,90.5 L537.5,90.2 L538.2,89.9 L539.0,91.5 L539.6,90.7 L540.4,89.6 L541.0,90.3 L541.8,90.4 L542.5,90.5 L543.1,91.0 L543.9,91.0 L544.5,90.8 L545.2,92.2 L546.0,91.3 L546.6,92.5 L547.4,91.3 L548.0,91.7 L548.8,91.9 L549.5,91.2 L550.1,92.5 L550.9,92.1 L551.5,92.4 L552.2,93.3 L553.0,92.1 L553.6,92.5 L554.4,92.5 L555.0,92.7 L555.8,92.9 L556.5,92.7 L557.1,92.6 L557.9,92.4 L558.5,92.5 L559.2,92.9 L560.0,93.4 L560.6,93.0 L561.4,92.9 L562.0,92.3 L562.8,92.9 L563.5,92.1 L564.1,92.4 L564.9,92.2 L565.5,93.1 L566.2,93.1 L567.0,91.9 L567.6,91.3 L568.4,89.9 L569.0,88.3 L569.8,86.7 L570.5,85.2 L571.1,84.5 L571.9,84.5 L572.5,84.2 L573.2,87.4 L574.0,86.5 L574.6,88.5 L575.4,89.8 L576.0,91.0 L576.8,90.5 L577.5,91.2 L578.1,91.9 L578.9,91.2 L579.5,90.7 L580.2,90.7 L581.0,89.7 L581.6,89.5 L582.4,90.0 L583.0,89.2 L583.8,88.2 L584.5,87.9 L585.1,86.9 L585.9,86.1 L586.5,86.1 L587.2,85.4 L588.0,84.2 L588.6,83.4 L589.4,82.9 L590.0,80.8 L590.8,79.8 L591.5,78.3 L592.1,77.4 L592.9,76.1 L593.5,74.8 L594.2,73.2 L595.0,71.2 L595.6,69.1 L596.4,68.1 L597.0,66.2 L597.8,64.0 L598.5,61.9 L599.1,59.4 L599.9,55.7 L600.5,52.4 L601.2,47.5 L602.0,42.7 L602.6,39.6 L603.4,36.3 L604.0,34.4 L604.8,33.8 L605.5,33.8 L606.1,34.8 L606.9,37.2 L607.5,40.1 L608.2,45.3 L609.0,52.2 L609.6,58.6 L610.4,67.4 L611.0,78.0 L611.8,87.5 L612.5,91.9 L613.1,96.8 L613.9,97.4 L614.5,96.1 L615.2,99.1 L616.0,98.1 L616.6,99.8 L617.4,98.8 L618.0,99.1 L618.8,99.7 L619.5,100.6 L620.1,101.1 L620.9,100.5 L621.5,101.1 L622.2,102.1 L623.0,102.5 L623.6,102.1 L624.4,103.8 L625.0,103.6 L625.8,104.8 L626.5,105.1 L627.1,105.3 L627.9,106.5 L628.5,107.1 L629.2,106.2 L630.0,106.2 L630.6,106.8 L631.4,111.3 L632.0,110.3 L632.8,111.3 L633.5,113.0 L634.1,109.9 L634.9,112.4 L635.5,112.4 L636.2,113.7 L637.0,116.0 L637.6,114.4 L638.4,114.4 L639.0,117.9 L639.8,120.3 L640.5,117.9 L641.1,120.3 L641.9,126.0 L642.5,121.9 L643.2,120.3 L644.0,120.3 L644.6,119.0 L645.4,123.7 L646.0,126.0 L646.8,129.3 L647.5,123.7 L648.1,129.3 L648.1,144.1 L647.5,144.1 L646.8,144.1 L646.0,144.1 L645.4,144.1 L644.6,144.1 L644.0,144.1 L643.2,144.1 L642.5,144.1 L641.9,144.1 L641.1,132.8 L640.5,144.1 L639.8,132.8 L639.0,144.1 L638.4,132.8 L637.6,130.4 L637.0,136.0 L636.2,140.5 L635.5,123.9 L634.9,128.4 L634.1,123.9 L633.5,120.8 L632.8,120.8 L632.0,119.9 L631.4,118.4 L630.6,119.9 L630.0,121.7 L629.2,114.8 L628.5,115.8 L627.9,120.8 L627.1,115.8 L626.5,113.3 L625.8,111.0 L625.0,113.8 L624.4,110.3 L623.6,112.9 L623.0,110.6 L622.2,111.7 L621.5,110.0 L620.9,110.0 L620.1,110.6 L619.5,109.0 L618.8,107.7 L618.0,105.8 L617.4,106.5 L616.6,105.8 L616.0,103.5 L615.2,105.0 L614.5,103.9 L613.9,102.3 L613.1,103.7 L612.5,100.5 L611.8,95.5 L611.0,87.7 L610.4,77.2 L609.6,67.3 L609.0,58.1 L608.2,51.9 L607.5,45.7 L606.9,40.7 L606.1,38.1 L605.5,36.0 L604.8,35.7 L604.0,37.3 L603.4,40.3 L602.6,43.2 L602.0,48.0 L601.2,52.9 L600.5,56.4 L599.9,60.2 L599.1,63.5 L598.5,65.8 L597.8,67.9 L597.0,69.6 L596.4,71.2 L595.6,73.3 L595.0,74.5 L594.2,76.1 L593.5,77.9 L592.9,79.4 L592.1,80.4 L591.5,82.5 L590.8,83.7 L590.0,84.0 L589.4,85.7 L588.6,87.5 L588.0,87.5 L587.2,89.6 L586.5,90.1 L585.9,91.0 L585.1,90.2 L584.5,92.0 L583.8,92.1 L583.0,93.5 L582.4,94.0 L581.6,94.1 L581.0,94.1 L580.2,95.2 L579.5,95.0 L578.9,95.5 L578.1,96.6 L577.5,96.0 L576.8,97.4 L576.0,96.2 L575.4,95.3 L574.6,93.3 L574.0,90.6 L573.2,90.5 L572.5,88.7 L571.9,87.7 L571.1,88.6 L570.5,90.0 L569.8,90.7 L569.0,94.0 L568.4,94.1 L567.6,96.0 L567.0,96.9 L566.2,97.6 L565.5,97.5 L564.9,97.8 L564.1,97.2 L563.5,98.5 L562.8,98.1 L562.0,97.3 L561.4,96.9 L560.6,97.3 L560.0,97.2 L559.2,97.8 L558.5,96.5 L557.9,98.7 L557.1,98.1 L556.5,96.3 L555.8,97.5 L555.0,98.0 L554.4,98.1 L553.6,97.9 L553.0,97.3 L552.2,97.2 L551.5,98.0 L550.9,96.5 L550.1,97.0 L549.5,96.7 L548.8,97.3 L548.0,96.6 L547.4,95.5 L546.6,96.5 L546.0,96.6 L545.2,96.4 L544.5,95.6 L543.9,95.6 L543.1,95.6 L542.5,96.7 L541.8,94.7 L541.0,95.3 L540.4,95.2 L539.6,95.0 L539.0,95.6 L538.2,94.6 L537.5,93.9 L536.9,94.2 L536.1,94.2 L535.5,94.2 L534.8,94.3 L534.0,93.8 L533.4,93.7 L532.6,93.7 L532.0,94.3 L531.2,93.7 L530.5,94.1 L529.9,93.0 L529.1,92.9 L528.5,93.6 L527.8,93.7 L527.0,93.7 L526.4,92.8 L525.6,92.9 L525.0,93.1 L524.2,92.6 L523.5,92.6 L522.9,92.2 L522.1,92.3 L521.5,92.1 L520.8,91.8 L520.0,91.7 L519.4,93.2 L518.6,91.1 L518.0,91.4 L517.2,90.8 L516.5,90.8 L515.9,92.0 L515.1,91.0 L514.5,91.5 L513.8,91.0 L513.0,90.1 L512.4,90.2 L511.6,89.9 L511.0,90.4 L510.2,89.6 L509.6,89.7 L508.9,89.7 L508.1,89.7 L507.4,90.3 L506.8,89.3 L506.1,90.2 L505.4,89.3 L504.6,89.4 L503.9,89.5 L503.2,88.8 L502.6,88.5 L501.9,89.3 L501.1,88.9 L500.4,87.7 L499.8,88.5 L499.1,88.0 L498.4,87.8 L497.6,88.3 L496.9,88.2 L496.2,88.1 L495.6,88.3 L494.9,87.7 L494.1,87.3 L493.4,86.7 L492.8,87.8 L492.1,87.7 L491.4,87.8 L490.6,86.8 L489.9,86.6 L489.2,86.7 L488.6,86.3 L487.9,87.0 L487.1,86.1 L486.4,87.2 L485.8,87.1 L485.1,86.2 L484.4,85.7 L483.6,85.5 L482.9,86.2 L482.2,86.1 L481.6,86.0 L480.9,85.6 L480.1,85.8 L479.4,85.5 L478.8,84.9 L478.1,85.8 L477.4,84.5 L476.6,85.0 L475.9,84.0 L475.2,85.3 L474.6,85.0 L473.9,84.4 L473.1,84.5 L472.4,85.1 L471.8,84.1 L471.1,83.8 L470.4,83.6 L469.6,84.2 L468.9,84.3 L468.2,83.4 L467.6,83.4 L466.9,83.8 L466.1,83.8 L465.4,82.9 L464.8,83.9 L464.1,83.2 L463.4,83.2 L462.6,83.8 L461.9,82.7 L461.2,83.2 L460.6,83.6 L459.9,82.7 L459.1,82.7 L458.4,83.2 L457.8,82.6 L457.1,82.9 L456.4,82.8 L455.6,82.8 L454.9,82.2 L454.2,82.2 L453.6,82.1 L452.9,82.2 L452.1,82.1 L451.4,82.2 L450.8,81.6 L450.1,81.5 L449.4,82.3 L448.6,81.1 L447.9,81.6 L447.2,81.5 L446.6,81.7 L445.9,82.1 L445.1,80.6 L444.4,81.1 L443.8,81.9 L443.1,81.4 L442.4,80.8 L441.6,81.1 L440.9,80.4 L440.2,81.2 L439.6,81.1 L438.9,81.1 L438.1,80.5 L437.4,80.6 L436.8,80.2 L436.1,80.3 L435.4,80.2 L434.6,80.7 L433.9,80.2 L433.2,80.1 L432.6,80.3 L431.9,79.9 L431.1,80.2 L430.4,79.4 L429.8,79.9 L429.1,79.8 L428.4,79.9 L427.6,79.7 L426.9,79.8 L426.2,79.6 L425.6,79.5 L424.9,80.1 L424.1,79.6 L423.4,79.3 L422.8,79.3 L422.1,79.4 L421.4,79.1 L420.6,79.1 L419.9,79.0 L419.2,79.1 L418.6,79.4 L417.9,79.0 L417.1,79.8 L416.4,79.1 L415.8,79.2 L415.1,79.6 L414.4,79.2 L413.7,78.7 L412.9,80.0 L412.2,79.4 L411.6,79.2 L410.9,79.5 L410.2,79.3 L409.4,79.0 L408.8,79.6 L408.1,79.6 L407.4,79.3 L406.7,79.1 L405.9,79.8 L405.2,80.1 L404.6,80.0 L403.9,79.7 L403.2,80.3 L402.4,80.3 L401.8,80.3 L401.1,79.8 L400.4,80.2 L399.7,79.7 L398.9,80.4 L398.2,80.5 L397.6,79.8 L396.9,81.4 L396.2,79.5 L395.4,81.0 L394.8,80.4 L394.1,80.7 L393.4,80.7 L392.7,81.2 L391.9,80.8 L391.2,81.1 L390.6,80.8 L389.9,81.0 L389.2,82.3 L388.4,81.2 L387.8,81.8 L387.1,81.5 L386.4,81.9 L385.7,82.7 L384.9,82.6 L384.2,83.0 L383.6,84.8 L382.9,86.8 L382.2,95.6Z" fill="#1f77b4" stroke="none"/>
<path d="M381.80,97.61 L381.87,95.15 L381.93,93.30 L382.00,91.83 L382.07,90.63 L382.14,89.63 L382.20,88.78 L382.27,88.04 L382.34,87.40 L382.40,86.83 L382.47,86.32 L382.54,85.87 L382.60,85.47 L382.67,85.10 L382.74,84.77 L382.81,84.47 L382.87,84.20 L382.94,83.95 L383.01,83.72 L383.07,83.51 L383.14,83.31 L383.21,83.13 L383.27,82.96 L383.34,82.81 L383.41,82.66 L383.48,82.53 L383.54,82.41 L383.61,82.29 L383.68,82.18 L383.74,82.08 L383.81,81.98 L383.88,81.89 L383.95,81.81 L384.01,81.73 L384.08,81.65 L384.15,81.58 L384.21,81.52 L384.28,81.45 L384.35,81.39 L384.41,81.34 L384.48,81.28 L384.55,81.23 L384.62,81.18 L384.68,81.14 L384.75,81.09 L384.82,81.05 L384.88,81.01 L384.95,80.97 L385.02,80.93 L385.09,80.90 L385.15,80.86 L385.22,80.83 L385.29,80.80 L385.35,80.76 L385.42,80.73 L385.49,80.71 L385.55,80.68 L385.62,80.65 L385.69,80.63 L385.76,80.60 L385.82,80.57 L385.89,80.55 L385.96,80.53 L386.02,80.50 L386.09,80.48 L386.16,80.46 L386.22,80.44 L386.29,80.42 L386.36,80.40 L386.43,80.38 L386.49,80.36 L386.56,80.34 L386.63,80.32 L386.69,80.30 L386.76,80.29 L386.83,80.27 L386.90,80.25 L386.96,80.23 L387.03,80.22 L387.10,80.20 L387.16,80.19 L387.23,80.17 L387.30,80.15 L387.36,80.14 L387.43,80.12 L387.50,80.11 L387.57,80.09 L387.63,80.08 L387.70,80.06 L387.77,80.05 L387.83,80.04 L387.90,80.02 L387.97,80.01 L388.03,79.99 L388.10,79.98 L388.17,79.97 L388.24,79.95 L388.30,79.94 L388.37,79.93 L388.44,79.92 L388.50,79.90 L388.57,79.89 L388.64,79.88 L388.71,79.87 L388.77,79.85 L388.84,79.84 L388.91,79.83 L388.97,79.82 L389.04,79.81 L389.11,79.79 L389.17,79.78 L389.24,79.77 L389.31,79.76 L389.38,79.75 L389.44,79.74 L389.51,79.73 L389.58,79.72 L389.64,79.70 L389.71,79.69 L389.78,79.68 L389.84,79.67 L389.91,79.66 L389.98,79.65 L390.05,79.64 L390.11,79.63 L390.18,79.62 L390.25,79.61 L390.31,79.60 L390.38,79.59 L390.45,79.58 L390.52,79.57 L390.58,79.56 L390.65,79.55 L390.72,79.54 L390.78,79.53 L390.85,79.52 L390.92,79.51 L390.98,79.50 L391.05,79.49 L391.12,79.48 L391.19,79.48 L391.25,79.47 L391.32,79.46 L391.39,79.45 L391.45,79.44 L391.52,79.43 L391.59,79.42 L391.66,79.41 L391.72,79.40 L391.79,79.40 L391.86,79.39 L391.92,79.38 L391.99,79.37 L392.06,79.36 L392.12,79.35 L392.19,79.34 L392.26,79.34 L392.33,79.33 L392.39,79.32 L392.46,79.31 L392.53,79.30 L392.59,79.30 L392.66,79.29 L392.73,79.28 L392.79,79.27 L392.86,79.26 L392.93,79.26 L393.00,79.25 L393.06,79.24 L393.13,79.23 L393.20,79.23 L393.26,79.22 L393.33,79.21 L393.40,79.20 L393.47,79.20 L393.53,79.19 L393.60,79.18 L393.67,79.17 L393.73,79.17 L393.80,79.16 L393.87,79.15 L393.93,79.15 L394.00,79.14 L394.07,79.13 L394.14,79.12 L394.20,79.12 L394.27,79.11 L394.34,79.10 L394.40,79.10 L394.47,79.09 L394.54,79.08 L394.60,79.08 L394.67,79.07 L394.74,79.06 L394.81,79.06 L394.87,79.05 L394.94,79.04 L395.01,79.04 L395.07,79.03 L395.14,79.02 L395.21,79.02 L395.28,79.01 L395.34,79.00 L395.41,79.00 L395.48,78.99 L395.54,78.99 L395.61,78.98 L395.68,78.97 L395.74,78.97 L395.81,78.96 L395.88,78.95 L395.95,78.95 L396.01,78.94 L396.08,78.94 L396.15,78.93 L396.21,78.92 L396.28,78.92 L396.35,78.91 L396.41,78.91 L396.48,78.90 L396.55,78.89 L396.62,78.89 L396.68,78.88 L396.75,78.88 L396.82,78.87 L396.88,78.87 L396.95,78.86 L397.02,78.85 L397.09,78.85 L397.15,78.84 L397.22,78.84 L397.29,78.83 L397.35,78.83 L397.42,78.82 L397.49,78.81 L397.55,78.81 L397.62,78.80 L397.69,78.80 L397.76,78.79 L397.82,78.79 L397.89,78.78 L397.96,78.78 L398.02,78.77 L398.09,78.77 L398.16,78.76 L398.23,78.75 L398.29,78.75 L398.36,78.74 L398.43,78.74 L398.49,78.73 L398.56,78.73 L398.63,78.72 L398.69,78.72 L398.76,78.71 L398.83,78.71 L398.90,78.70 L398.96,78.70 L399.03,78.69 L399.10,78.69 L399.16,78.68 L399.23,78.68 L399.30,78.67 L399.36,78.67 L399.43,78.66 L399.50,78.66 L399.57,78.65 L399.63,78.65 L399.70,78.64 L399.77,78.64 L399.83,78.63 L399.90,78.63 L399.97,78.62 L400.04,78.62 L400.10,78.61 L400.17,78.61 L400.24,78.60 L400.30,78.60 L400.37,78.59 L400.44,78.59 L400.50,78.58 L400.57,78.58 L400.64,78.57 L400.71,78.57 L400.77,78.56 L400.84,78.56 L400.91,78.55 L400.97,78.55 L401.04,78.54 L401.11,78.54 L401.17,78.53 L401.24,78.53 L401.31,78.52 L401.38,78.52 L401.44,78.51 L401.51,78.51 L401.58,78.50 L401.64,78.50 L401.71,78.49 L401.78,78.49 L401.85,78.48 L401.91,78.48 L401.98,78.47 L402.05,78.47 L402.11,78.46 L402.18,78.46 L402.25,78.45 L402.31,78.45 L402.38,78.44 L402.45,78.43 L402.52,78.43 L402.58,78.42 L402.65,78.42 L402.72,78.41 L402.78,78.41 L402.85,78.40 L402.92,78.40 L402.98,78.39 L403.05,78.38 L403.12,78.38 L403.19,78.37 L403.25,78.37 L403.32,78.36 L403.39,78.36 L403.45,78.35 L403.52,78.35 L403.59,78.34 L403.66,78.33 L403.72,78.33 L403.79,78.32 L403.86,78.32 L403.92,78.31 L403.99,78.31 L404.06,78.30 L404.12,78.29 L404.19,78.29 L404.26,78.28 L404.33,78.28 L404.39,78.27 L404.46,78.26 L404.53,78.26 L404.59,78.25 L404.66,78.25 L404.73,78.24 L404.80,78.24 L404.86,78.23 L404.93,78.22 L405.00,78.22 L405.06,78.21 L405.13,78.21 L405.20,78.20 L405.26,78.20 L405.33,78.19 L405.40,78.18 L405.47,78.18 L405.53,78.17 L405.60,78.17 L405.67,78.16 L405.73,78.16 L405.80,78.15 L405.87,78.15 L405.93,78.14 L406.00,78.13 L406.07,78.13 L406.14,78.12 L406.20,78.12 L406.27,78.11 L406.34,78.11 L406.40,78.10 L406.47,78.10 L406.54,78.09 L406.61,78.09 L406.67,78.08 L406.74,78.08 L406.81,78.07 L406.87,78.06 L406.94,78.06 L407.01,78.05 L407.07,78.05 L407.14,78.04 L407.21,78.04 L407.28,78.03 L407.34,78.03 L407.41,78.02 L407.48,78.02 L407.54,78.01 L407.61,78.01 L407.68,78.00 L407.74,78.00 L407.81,77.99 L407.88,77.99 L407.95,77.99 L408.01,77.98 L408.08,77.98 L408.15,77.97 L408.21,77.97 L408.28,77.96 L408.35,77.96 L408.42,77.95 L408.48,77.95 L408.55,77.95 L408.62,77.94 L408.68,77.94 L408.75,77.93 L408.82,77.93 L408.88,77.92 L408.95,77.92 L409.02,77.92 L409.09,77.91 L409.15,77.91 L409.22,77.91 L409.29,77.90 L409.35,77.90 L409.42,77.89 L409.49,77.89 L409.56,77.89 L409.62,77.88 L409.69,77.88 L409.76,77.88 L409.82,77.87 L409.89,77.87 L409.96,77.87 L410.02,77.87 L410.09,77.86 L410.16,77.86 L410.23,77.86 L410.29,77.85 L410.36,77.85 L410.43,77.85 L410.49,77.85 L410.56,77.84 L410.63,77.84 L410.69,77.84 L410.76,77.84 L410.83,77.83 L410.90,77.83 L410.96,77.83 L411.03,77.83 L411.10,77.83 L411.16,77.82 L411.23,77.82 L411.30,77.82 L411.37,77.82 L411.43,77.82 L411.50,77.82 L411.57,77.81 L411.63,77.81 L411.70,77.81 L411.77,77.81 L411.83,77.81 L411.90,77.81 L411.97,77.81 L412.04,77.81 L412.10,77.81 L412.17,77.81 L412.24,77.81 L412.30,77.81 L412.37,77.81 L412.44,77.80 L412.50,77.80 L412.57,77.80 L412.64,77.80 L412.71,77.80 L412.77,77.80 L412.84,77.80 L412.91,77.80 L412.97,77.80 L413.04,77.80 L413.11,77.80 L413.18,77.80 L413.24,77.80 L413.31,77.80 L413.38,77.80 L413.44,77.80 L413.51,77.80 L413.58,77.80 L413.64,77.80 L413.71,77.80 L413.78,77.80 L413.85,77.80 L413.91,77.80 L413.98,77.80 L414.05,77.80 L414.11,77.80 L414.18,77.81 L414.25,77.81 L414.31,77.81 L414.38,77.81 L414.45,77.81 L414.52,77.81 L414.58,77.81 L414.65,77.81 L414.72,77.81 L414.78,77.81 L414.85,77.81 L414.92,77.81 L414.99,77.81 L415.05,77.81 L415.12,77.81 L415.19,77.81 L415.25,77.81 L415.32,77.81 L415.39,77.82 L415.45,77.82 L415.52,77.82 L415.59,77.82 L415.66,77.82 L415.72,77.82 L415.79,77.82 L415.86,77.82 L415.92,77.82 L415.99,77.82 L416.06,77.82 L416.13,77.83 L416.19,77.83 L416.26,77.83 L416.33,77.83 L416.39,77.83 L416.46,77.83 L416.53,77.83 L416.59,77.83 L416.66,77.83 L416.73,77.84 L416.80,77.84 L416.86,77.84 L416.93,77.84 L417.00,77.84 L417.06,77.84 L417.13,77.84 L417.20,77.84 L417.26,77.85 L417.33,77.85 L417.40,77.85 L417.47,77.85 L417.53,77.85 L417.60,77.85 L417.67,77.85 L417.73,77.85 L417.80,77.86 L417.87,77.86 L417.94,77.86 L418.00,77.86 L418.07,77.86 L418.14,77.86 L418.20,77.87 L418.27,77.87 L418.34,77.87 L418.40,77.87 L418.47,77.87 L418.54,77.87 L418.61,77.87 L418.67,77.88 L418.74,77.88 L418.81,77.88 L418.87,77.88 L418.94,77.88 L419.01,77.89 L419.07,77.89 L419.14,77.89 L419.21,77.89 L419.28,77.89 L419.34,77.89 L419.41,77.90 L419.48,77.90 L419.54,77.90 L419.61,77.90 L419.68,77.90 L419.75,77.90 L419.81,77.91 L419.88,77.91 L419.95,77.91 L420.01,77.91 L420.08,77.91 L420.15,77.92 L420.21,77.92 L420.28,77.92 L420.35,77.92 L420.42,77.92 L420.48,77.93 L420.55,77.93 L420.62,77.93 L420.68,77.93 L420.75,77.93 L420.82,77.94 L420.88,77.94 L420.95,77.94 L421.02,77.94 L421.09,77.94 L421.15,77.95 L421.22,77.95 L421.29,77.95 L421.35,77.95 L421.42,77.95 L421.49,77.96 L421.56,77.96 L421.62,77.96 L421.69,77.96 L421.76,77.97 L421.82,77.97 L421.89,77.97 L421.96,77.97 L422.02,77.97 L422.09,77.98 L422.16,77.98 L422.23,77.98 L422.29,77.98 L422.36,77.98 L422.43,77.99 L422.49,77.99 L422.56,77.99 L422.63,77.99 L422.70,78.00 L422.76,78.00 L422.83,78.00 L422.90,78.00 L422.96,78.00 L423.03,78.01 L423.10,78.01 L423.16,78.01 L423.23,78.01 L423.30,78.02 L423.37,78.02 L423.43,78.02 L423.50,78.02 L423.57,78.02 L423.63,78.03 L423.70,78.03 L423.77,78.03 L423.83,78.03 L423.90,78.04 L423.97,78.04 L424.04,78.04 L424.10,78.04 L424.17,78.05 L424.24,78.05 L424.30,78.05 L424.37,78.05 L424.44,78.05 L424.51,78.06 L424.57,78.06 L424.64,78.06 L424.71,78.06 L424.77,78.07 L424.84,78.07 L424.91,78.07 L424.97,78.07 L425.04,78.08 L425.11,78.08 L425.18,78.08 L425.24,78.09 L425.31,78.09 L425.38,78.09 L425.44,78.09 L425.51,78.10 L425.58,78.10 L425.64,78.10 L425.71,78.11 L425.78,78.11 L425.85,78.11 L425.91,78.12 L425.98,78.12 L426.05,78.12 L426.11,78.13 L426.18,78.13 L426.25,78.13 L426.32,78.14 L426.38,78.14 L426.45,78.14 L426.52,78.15 L426.58,78.15 L426.65,78.16 L426.72,78.16 L426.78,78.16 L426.85,78.17 L426.92,78.17 L426.99,78.17 L427.05,78.18 L427.12,78.18 L427.19,78.19 L427.25,78.19 L427.32,78.19 L427.39,78.20 L427.45,78.20 L427.52,78.21 L427.59,78.21 L427.66,78.22 L427.72,78.22 L427.79,78.22 L427.86,78.23 L427.92,78.23 L427.99,78.24 L428.06,78.24 L428.13,78.25 L428.19,78.25 L428.26,78.25 L428.33,78.26 L428.39,78.26 L428.46,78.27 L428.53,78.27 L428.59,78.28 L428.66,78.28 L428.73,78.29 L428.80,78.29 L428.86,78.30 L428.93,78.30 L429.00,78.31 L429.06,78.31 L429.13,78.32 L429.20,78.32 L429.27,78.33 L429.33,78.33 L429.40,78.33 L429.47,78.34 L429.53,78.34 L429.60,78.35 L429.67,78.35 L429.73,78.36 L429.80,78.37 L429.87,78.37 L429.94,78.38 L430.00,78.38 L430.07,78.39 L430.14,78.39 L430.20,78.40 L430.27,78.40 L430.34,78.41 L430.40,78.41 L430.47,78.42 L430.54,78.42 L430.61,78.43 L430.67,78.43 L430.74,78.44 L430.81,78.44 L430.87,78.45 L430.94,78.45 L431.01,78.46 L431.08,78.47 L431.14,78.47 L431.21,78.48 L431.28,78.48 L431.34,78.49 L431.41,78.49 L431.48,78.50 L431.54,78.50 L431.61,78.51 L431.68,78.51 L431.75,78.52 L431.81,78.53 L431.88,78.53 L431.95,78.54 L432.01,78.54 L432.08,78.55 L432.15,78.55 L432.21,78.56 L432.28,78.57 L432.35,78.57 L432.42,78.58 L432.48,78.58 L432.55,78.59 L432.62,78.59 L432.68,78.60 L432.75,78.61 L432.82,78.61 L432.89,78.62 L432.95,78.62 L433.02,78.63 L433.09,78.63 L433.15,78.64 L433.22,78.65 L433.29,78.65 L433.35,78.66 L433.42,78.66 L433.49,78.67 L433.56,78.67 L433.62,78.68 L433.69,78.69 L433.76,78.69 L433.82,78.70 L433.89,78.70 L433.96,78.71 L434.03,78.72 L434.09,78.72 L434.16,78.73 L434.23,78.73 L434.29,78.74 L434.36,78.74 L434.43,78.75 L434.49,78.76 L434.56,78.76 L434.63,78.77 L434.70,78.77 L434.76,78.78 L434.83,78.78 L434.90,78.79 L434.96,78.80 L435.03,78.80 L435.10,78.81 L435.16,78.81 L435.23,78.82 L435.30,78.83 L435.37,78.83 L435.43,78.84 L435.50,78.84 L435.57,78.85 L435.63,78.85 L435.70,78.86 L435.77,78.87 L435.84,78.87 L435.90,78.88 L435.97,78.88 L436.04,78.89 L436.10,78.89 L436.17,78.90 L436.24,78.91 L436.30,78.91 L436.37,78.92 L436.44,78.92 L436.51,78.93 L436.57,78.93 L436.64,78.94 L436.71,78.95 L436.77,78.95 L436.84,78.96 L436.91,78.96 L436.97,78.97 L437.04,78.97 L437.11,78.98 L437.18,78.99 L437.24,78.99 L437.31,79.00 L437.38,79.00 L437.44,79.01 L437.51,79.02 L437.58,79.02 L437.65,79.03 L437.71,79.03 L437.78,79.04 L437.85,79.05 L437.91,79.05 L437.98,79.06 L438.05,79.06 L438.11,79.07 L438.18,79.08 L438.25,79.08 L438.32,79.09 L438.38,79.09 L438.45,79.10 L438.52,79.11 L438.58,79.11 L438.65,79.12 L438.72,79.13 L438.78,79.13 L438.85,79.14 L438.92,79.14 L438.99,79.15 L439.05,79.16 L439.12,79.16 L439.19,79.17 L439.25,79.18 L439.32,79.18 L439.39,79.19 L439.46,79.20 L439.52,79.20 L439.59,79.21 L439.66,79.22 L439.72,79.22 L439.79,79.23 L439.86,79.23 L439.92,79.24 L439.99,79.25 L440.06,79.25 L440.13,79.26 L440.19,79.27 L440.26,79.27 L440.33,79.28 L440.39,79.29 L440.46,79.29 L440.53,79.30 L440.60,79.31 L440.66,79.31 L440.73,79.32 L440.80,79.33 L440.86,79.33 L440.93,79.34 L441.00,79.35 L441.06,79.35 L441.13,79.36 L441.20,79.37 L441.27,79.37 L441.33,79.38 L441.40,79.39 L441.47,79.40 L441.53,79.40 L441.60,79.41 L441.67,79.42 L441.73,79.42 L441.80,79.43 L441.87,79.44 L441.94,79.44 L442.00,79.45 L442.07,79.46 L442.14,79.46 L442.20,79.47 L442.27,79.48 L442.34,79.48 L442.41,79.49 L442.47,79.50 L442.54,79.51 L442.61,79.51 L442.67,79.52 L442.74,79.53 L442.81,79.53 L442.87,79.54 L442.94,79.55 L443.01,79.55 L443.08,79.56 L443.14,79.57 L443.21,79.58 L443.28,79.58 L443.34,79.59 L443.41,79.60 L443.48,79.60 L443.54,79.61 L443.61,79.62 L443.68,79.62 L443.75,79.63 L443.81,79.64 L443.88,79.65 L443.95,79.65 L444.01,79.66 L444.08,79.67 L444.15,79.67 L444.22,79.68 L444.28,79.69 L444.35,79.69 L444.42,79.70 L444.48,79.71 L444.55,79.72 L444.62,79.72 L444.68,79.73 L444.75,79.74 L444.82,79.74 L444.89,79.75 L444.95,79.76 L445.02,79.77 L445.09,79.77 L445.15,79.78 L445.22,79.79 L445.29,79.79 L445.35,79.80 L445.42,79.81 L445.49,79.81 L445.56,79.82 L445.62,79.83 L445.69,79.84 L445.76,79.84 L445.82,79.85 L445.89,79.86 L445.96,79.86 L446.03,79.87 L446.09,79.88 L446.16,79.88 L446.23,79.89 L446.29,79.90 L446.36,79.91 L446.43,79.91 L446.49,79.92 L446.56,79.93 L446.63,79.93 L446.70,79.94 L446.76,79.95 L446.83,79.95 L446.90,79.96 L446.96,79.97 L447.03,79.97 L447.10,79.98 L447.17,79.99 L447.23,80.00 L447.30,80.00 L447.37,80.01 L447.43,80.02 L447.50,80.02 L447.57,80.03 L447.63,80.04 L447.70,80.04 L447.77,80.05 L447.84,80.06 L447.90,80.06 L447.97,80.07 L448.04,80.08 L448.10,80.08 L448.17,80.09 L448.24,80.10 L448.30,80.10 L448.37,80.11 L448.44,80.12 L448.51,80.12 L448.57,80.13 L448.64,80.14 L448.71,80.14 L448.77,80.15 L448.84,80.16 L448.91,80.16 L448.98,80.17 L449.04,80.18 L449.11,80.18 L449.18,80.19 L449.24,80.20 L449.31,80.20 L449.38,80.21 L449.44,80.22 L449.51,80.22 L449.58,80.23 L449.65,80.24 L449.71,80.24 L449.78,80.25 L449.85,80.26 L449.91,80.26 L449.98,80.27 L450.05,80.28 L450.11,80.28 L450.18,80.29 L450.25,80.30 L450.32,80.30 L450.38,80.31 L450.45,80.32 L450.52,80.32 L450.58,80.33 L450.65,80.34 L450.72,80.34 L450.79,80.35 L450.85,80.35 L450.92,80.36 L450.99,80.37 L451.05,80.37 L451.12,80.38 L451.19,80.39 L451.25,80.39 L451.32,80.40 L451.39,80.41 L451.46,80.41 L451.52,80.42 L451.59,80.43 L451.66,80.43 L451.72,80.44 L451.79,80.45 L451.86,80.45 L451.93,80.46 L451.99,80.47 L452.06,80.47 L452.13,80.48 L452.19,80.48 L452.26,80.49 L452.33,80.50 L452.39,80.50 L452.46,80.51 L452.53,80.52 L452.60,80.52 L452.66,80.53 L452.73,80.54 L452.80,80.54 L452.86,80.55 L452.93,80.56 L453.00,80.56 L453.06,80.57 L453.13,80.57 L453.20,80.58 L453.27,80.59 L453.33,80.59 L453.40,80.60 L453.47,80.61 L453.53,80.61 L453.60,80.62 L453.67,80.63 L453.74,80.63 L453.80,80.64 L453.87,80.65 L453.94,80.65 L454.00,80.66 L454.07,80.66 L454.14,80.67 L454.20,80.68 L454.27,80.68 L454.34,80.69 L454.41,80.70 L454.47,80.70 L454.54,80.71 L454.61,80.72 L454.67,80.72 L454.74,80.73 L454.81,80.74 L454.87,80.74 L454.94,80.75 L455.01,80.76 L455.08,80.76 L455.14,80.77 L455.21,80.77 L455.28,80.78 L455.34,80.79 L455.41,80.79 L455.48,80.80 L455.55,80.81 L455.61,80.81 L455.68,80.82 L455.75,80.83 L455.81,80.83 L455.88,80.84 L455.95,80.85 L456.01,80.85 L456.08,80.86 L456.15,80.87 L456.22,80.87 L456.28,80.88 L456.35,80.89 L456.42,80.89 L456.48,80.90 L456.55,80.91 L456.62,80.91 L456.68,80.92 L456.75,80.93 L456.82,80.93 L456.89,80.94 L456.95,80.94 L457.02,80.95 L457.09,80.96 L457.15,80.96 L457.22,80.97 L457.29,80.98 L457.36,80.98 L457.42,80.99 L457.49,81.00 L457.56,81.00 L457.62,81.01 L457.69,81.02 L457.76,81.02 L457.82,81.03 L457.89,81.04 L457.96,81.04 L458.03,81.05 L458.09,81.06 L458.16,81.06 L458.23,81.07 L458.29,81.08 L458.36,81.09 L458.43,81.09 L458.50,81.10 L458.56,81.11 L458.63,81.11 L458.70,81.12 L458.76,81.13 L458.83,81.13 L458.90,81.14 L458.96,81.15 L459.03,81.15 L459.10,81.16 L459.17,81.17 L459.23,81.17 L459.30,81.18 L459.37,81.19 L459.43,81.19 L459.50,81.20 L459.57,81.21 L459.63,81.21 L459.70,81.22 L459.77,81.23 L459.84,81.24 L459.90,81.24 L459.97,81.25 L460.04,81.26 L460.10,81.26 L460.17,81.27 L460.24,81.28 L460.31,81.28 L460.37,81.29 L460.44,81.30 L460.51,81.31 L460.57,81.31 L460.64,81.32 L460.71,81.33 L460.77,81.33 L460.84,81.34 L460.91,81.35 L460.98,81.36 L461.04,81.36 L461.11,81.37 L461.18,81.38 L461.24,81.38 L461.31,81.39 L461.38,81.40 L461.44,81.41 L461.51,81.41 L461.58,81.42 L461.65,81.43 L461.71,81.43 L461.78,81.44 L461.85,81.45 L461.91,81.46 L461.98,81.46 L462.05,81.47 L462.12,81.48 L462.18,81.48 L462.25,81.49 L462.32,81.50 L462.38,81.51 L462.45,81.51 L462.52,81.52 L462.58,81.53 L462.65,81.53 L462.72,81.54 L462.79,81.55 L462.85,81.56 L462.92,81.56 L462.99,81.57 L463.05,81.58 L463.12,81.59 L463.19,81.59 L463.25,81.60 L463.32,81.61 L463.39,81.61 L463.46,81.62 L463.52,81.63 L463.59,81.64 L463.66,81.64 L463.72,81.65 L463.79,81.66 L463.86,81.67 L463.93,81.67 L463.99,81.68 L464.06,81.69 L464.13,81.69 L464.19,81.70 L464.26,81.71 L464.33,81.72 L464.39,81.72 L464.46,81.73 L464.53,81.74 L464.60,81.75 L464.66,81.75 L464.73,81.76 L464.80,81.77 L464.86,81.77 L464.93,81.78 L465.00,81.79 L465.07,81.80 L465.13,81.80 L465.20,81.81 L465.27,81.82 L465.33,81.83 L465.40,81.83 L465.47,81.84 L465.53,81.85 L465.60,81.86 L465.67,81.86 L465.74,81.87 L465.80,81.88 L465.87,81.89 L465.94,81.89 L466.00,81.90 L466.07,81.91 L466.14,81.91 L466.20,81.92 L466.27,81.93 L466.34,81.94 L466.41,81.94 L466.47,81.95 L466.54,81.96 L466.61,81.97 L466.67,81.97 L466.74,81.98 L466.81,81.99 L466.88,82.00 L466.94,82.00 L467.01,82.01 L467.08,82.02 L467.14,82.03 L467.21,82.03 L467.28,82.04 L467.34,82.05 L467.41,82.06 L467.48,82.06 L467.55,82.07 L467.61,82.08 L467.68,82.09 L467.75,82.09 L467.81,82.10 L467.88,82.11 L467.95,82.12 L468.01,82.12 L468.08,82.13 L468.15,82.14 L468.22,82.15 L468.28,82.15 L468.35,82.16 L468.42,82.17 L468.48,82.18 L468.55,82.18 L468.62,82.19 L468.69,82.20 L468.75,82.21 L468.82,82.21 L468.89,82.22 L468.95,82.23 L469.02,82.24 L469.09,82.24 L469.15,82.25 L469.22,82.26 L469.29,82.27 L469.36,82.28 L469.42,82.28 L469.49,82.29 L469.56,82.30 L469.62,82.31 L469.69,82.31 L469.76,82.32 L469.82,82.33 L469.89,82.34 L469.96,82.34 L470.03,82.35 L470.09,82.36 L470.16,82.37 L470.23,82.38 L470.29,82.38 L470.36,82.39 L470.43,82.40 L470.50,82.41 L470.56,82.41 L470.63,82.42 L470.70,82.43 L470.76,82.44 L470.83,82.44 L470.90,82.45 L470.96,82.46 L471.03,82.47 L471.10,82.48 L471.17,82.48 L471.23,82.49 L471.30,82.50 L471.37,82.51 L471.43,82.52 L471.50,82.52 L471.57,82.53 L471.64,82.54 L471.70,82.55 L471.77,82.55 L471.84,82.56 L471.90,82.57 L471.97,82.58 L472.04,82.59 L472.10,82.59 L472.17,82.60 L472.24,82.61 L472.31,82.62 L472.37,82.63 L472.44,82.63 L472.51,82.64 L472.57,82.65 L472.64,82.66 L472.71,82.66 L472.77,82.67 L472.84,82.68 L472.91,82.69 L472.98,82.70 L473.04,82.70 L473.11,82.71 L473.18,82.72 L473.24,82.73 L473.31,82.74 L473.38,82.74 L473.45,82.75 L473.51,82.76 L473.58,82.77 L473.65,82.78 L473.71,82.78 L473.78,82.79 L473.85,82.80 L473.91,82.81 L473.98,82.82 L474.05,82.83 L474.12,82.83 L474.18,82.84 L474.25,82.85 L474.32,82.86 L474.38,82.87 L474.45,82.87 L474.52,82.88 L474.58,82.89 L474.65,82.90 L474.72,82.91 L474.79,82.91 L474.85,82.92 L474.92,82.93 L474.99,82.94 L475.05,82.95 L475.12,82.96 L475.19,82.96 L475.26,82.97 L475.32,82.98 L475.39,82.99 L475.46,83.00 L475.52,83.00 L475.59,83.01 L475.66,83.02 L475.72,83.03 L475.79,83.04 L475.86,83.05 L475.93,83.05 L475.99,83.06 L476.06,83.07 L476.13,83.08 L476.19,83.09 L476.26,83.10 L476.33,83.10 L476.40,83.11 L476.46,83.12 L476.53,83.13 L476.60,83.14 L476.66,83.15 L476.73,83.15 L476.80,83.16 L476.86,83.17 L476.93,83.18 L477.00,83.19 L477.07,83.20 L477.13,83.20 L477.20,83.21 L477.27,83.22 L477.33,83.23 L477.40,83.24 L477.47,83.25 L477.53,83.26 L477.60,83.26 L477.67,83.27 L477.74,83.28 L477.80,83.29 L477.87,83.30 L477.94,83.31 L478.00,83.31 L478.07,83.32 L478.14,83.33 L478.21,83.34 L478.27,83.35 L478.34,83.36 L478.41,83.37 L478.47,83.37 L478.54,83.38 L478.61,83.39 L478.67,83.40 L478.74,83.41 L478.81,83.42 L478.88,83.43 L478.94,83.44 L479.01,83.44 L479.08,83.45 L479.14,83.46 L479.21,83.47 L479.28,83.48 L479.34,83.49 L479.41,83.50 L479.48,83.50 L479.55,83.51 L479.61,83.52 L479.68,83.53 L479.75,83.54 L479.81,83.55 L479.88,83.56 L479.95,83.57 L480.02,83.57 L480.08,83.58 L480.15,83.59 L480.22,83.60 L480.28,83.61 L480.35,83.62 L480.42,83.63 L480.48,83.64 L480.55,83.65 L480.62,83.65 L480.69,83.66 L480.75,83.67 L480.82,83.68 L480.89,83.69 L480.95,83.70 L481.02,83.71 L481.09,83.72 L481.15,83.73 L481.22,83.74 L481.29,83.75 L481.36,83.75 L481.42,83.76 L481.49,83.77 L481.56,83.78 L481.62,83.79 L481.69,83.80 L481.76,83.81 L481.83,83.82 L481.89,83.83 L481.96,83.84 L482.03,83.85 L482.09,83.86 L482.16,83.87 L482.23,83.88 L482.29,83.88 L482.36,83.89 L482.43,83.90 L482.50,83.91 L482.56,83.92 L482.63,83.93 L482.70,83.94 L482.76,83.95 L482.83,83.96 L482.90,83.97 L482.97,83.98 L483.03,83.99 L483.10,84.00 L483.17,84.01 L483.23,84.02 L483.30,84.03 L483.37,84.04 L483.43,84.05 L483.50,84.06 L483.57,84.07 L483.64,84.08 L483.70,84.09 L483.77,84.10 L483.84,84.11 L483.90,84.12 L483.97,84.13 L484.04,84.14 L484.10,84.14 L484.17,84.15 L484.24,84.16 L484.31,84.17 L484.37,84.18 L484.44,84.19 L484.51,84.20 L484.57,84.21 L484.64,84.22 L484.71,84.23 L484.78,84.24 L484.84,84.25 L484.91,84.26 L484.98,84.27 L485.04,84.28 L485.11,84.29 L485.18,84.30 L485.24,84.31 L485.31,84.32 L485.38,84.33 L485.45,84.34 L485.51,84.35 L485.58,84.36 L485.65,84.37 L485.71,84.38 L485.78,84.39 L485.85,84.40 L485.91,84.41 L485.98,84.42 L486.05,84.43 L486.12,84.44 L486.18,84.45 L486.25,84.46 L486.32,84.47 L486.38,84.48 L486.45,84.50 L486.52,84.51 L486.59,84.52 L486.65,84.53 L486.72,84.54 L486.79,84.55 L486.85,84.56 L486.92,84.57 L486.99,84.58 L487.05,84.59 L487.12,84.60 L487.19,84.61 L487.26,84.62 L487.32,84.63 L487.39,84.64 L487.46,84.65 L487.52,84.66 L487.59,84.67 L487.66,84.68 L487.72,84.69 L487.79,84.70 L487.86,84.71 L487.93,84.72 L487.99,84.73 L488.06,84.74 L488.13,84.75 L488.19,84.76 L488.26,84.77 L488.33,84.78 L488.40,84.79 L488.46,84.80 L488.53,84.81 L488.60,84.82 L488.66,84.83 L488.73,84.84 L488.80,84.85 L488.86,84.86 L488.93,84.87 L489.00,84.88 L489.07,84.89 L489.13,84.91 L489.20,84.92 L489.27,84.93 L489.33,84.94 L489.40,84.95 L489.47,84.96 L489.54,84.97 L489.60,84.98 L489.67,84.99 L489.74,85.00 L489.80,85.01 L489.87,85.02 L489.94,85.03 L490.00,85.04 L490.07,85.05 L490.14,85.06 L490.21,85.07 L490.27,85.08 L490.34,85.09 L490.41,85.10 L490.47,85.11 L490.54,85.12 L490.61,85.13 L490.67,85.14 L490.74,85.15 L490.81,85.16 L490.88,85.17 L490.94,85.18 L491.01,85.19 L491.08,85.20 L491.14,85.21 L491.21,85.22 L491.28,85.24 L491.35,85.25 L491.41,85.26 L491.48,85.27 L491.55,85.28 L491.61,85.29 L491.68,85.30 L491.75,85.31 L491.81,85.32 L491.88,85.33 L491.95,85.34 L492.02,85.35 L492.08,85.36 L492.15,85.37 L492.22,85.38 L492.28,85.39 L492.35,85.40 L492.42,85.41 L492.48,85.42 L492.55,85.43 L492.62,85.44 L492.69,85.45 L492.75,85.46 L492.82,85.47 L492.89,85.48 L492.95,85.49 L493.02,85.50 L493.09,85.51 L493.16,85.52 L493.22,85.53 L493.29,85.54 L493.36,85.55 L493.42,85.56 L493.49,85.57 L493.56,85.58 L493.62,85.59 L493.69,85.60 L493.76,85.61 L493.83,85.62 L493.89,85.63 L493.96,85.64 L494.03,85.66 L494.09,85.67 L494.16,85.68 L494.23,85.69 L494.29,85.70 L494.36,85.71 L494.43,85.72 L494.50,85.73 L494.56,85.74 L494.63,85.75 L494.70,85.76 L494.76,85.77 L494.83,85.78 L494.90,85.79 L494.97,85.80 L495.03,85.81 L495.10,85.82 L495.17,85.83 L495.23,85.84 L495.30,85.85 L495.37,85.86 L495.43,85.87 L495.50,85.88 L495.57,85.89 L495.64,85.90 L495.70,85.91 L495.77,85.92 L495.84,85.93 L495.90,85.94 L495.97,85.96 L496.04,85.97 L496.11,85.98 L496.17,85.99 L496.24,86.00 L496.31,86.01 L496.37,86.02 L496.44,86.03 L496.51,86.04 L496.57,86.05 L496.64,86.06 L496.71,86.07 L496.78,86.08 L496.84,86.09 L496.91,86.10 L496.98,86.11 L497.04,86.12 L497.11,86.13 L497.18,86.14 L497.24,86.15 L497.31,86.16 L497.38,86.17 L497.45,86.18 L497.51,86.20 L497.58,86.21 L497.65,86.22 L497.71,86.23 L497.78,86.24 L497.85,86.25 L497.92,86.26 L497.98,86.27 L498.05,86.28 L498.12,86.29 L498.18,86.30 L498.25,86.31 L498.32,86.32 L498.38,86.33 L498.45,86.34 L498.52,86.35 L498.59,86.36 L498.65,86.37 L498.72,86.38 L498.79,86.39 L498.85,86.40 L498.92,86.41 L498.99,86.43 L499.05,86.44 L499.12,86.45 L499.19,86.46 L499.26,86.47 L499.32,86.48 L499.39,86.49 L499.46,86.50 L499.52,86.51 L499.59,86.52 L499.66,86.53 L499.73,86.54 L499.79,86.55 L499.86,86.56 L499.93,86.57 L499.99,86.58 L500.06,86.59 L500.13,86.60 L500.19,86.61 L500.26,86.62 L500.33,86.63 L500.40,86.65 L500.46,86.66 L500.53,86.67 L500.60,86.68 L500.66,86.69 L500.73,86.70 L500.80,86.71 L500.87,86.72 L500.93,86.73 L501.00,86.74 L501.07,86.75 L501.13,86.76 L501.20,86.77 L501.27,86.78 L501.33,86.79 L501.40,86.80 L501.47,86.81 L501.54,86.82 L501.60,86.83 L501.67,86.84 L501.74,86.85 L501.80,86.87 L501.87,86.88 L501.94,86.89 L502.00,86.90 L502.07,86.91 L502.14,86.92 L502.21,86.93 L502.27,86.94 L502.34,86.95 L502.41,86.96 L502.47,86.97 L502.54,86.98 L502.61,86.99 L502.68,87.00 L502.74,87.01 L502.81,87.02 L502.88,87.03 L502.94,87.04 L503.01,87.05 L503.08,87.06 L503.14,87.07 L503.21,87.08 L503.28,87.10 L503.35,87.11 L503.41,87.12 L503.48,87.13 L503.55,87.14 L503.61,87.15 L503.68,87.16 L503.75,87.17 L503.81,87.18 L503.88,87.19 L503.95,87.20 L504.02,87.21 L504.08,87.22 L504.15,87.23 L504.22,87.24 L504.28,87.25 L504.35,87.26 L504.42,87.27 L504.49,87.28 L504.55,87.29 L504.62,87.30 L504.69,87.31 L504.75,87.32 L504.82,87.33 L504.89,87.35 L504.95,87.36 L505.02,87.37 L505.09,87.38 L505.16,87.39 L505.22,87.40 L505.29,87.41 L505.36,87.42 L505.42,87.43 L505.49,87.44 L505.56,87.45 L505.62,87.46 L505.69,87.47 L505.76,87.48 L505.83,87.49 L505.89,87.50 L505.96,87.51 L506.03,87.52 L506.09,87.53 L506.16,87.54 L506.23,87.55 L506.30,87.56 L506.36,87.57 L506.43,87.58 L506.50,87.59 L506.56,87.60 L506.63,87.61 L506.70,87.62 L506.76,87.63 L506.83,87.64 L506.90,87.65 L506.97,87.66 L507.03,87.68 L507.10,87.69 L507.17,87.70 L507.23,87.71 L507.30,87.72 L507.37,87.73 L507.44,87.74 L507.50,87.75 L507.57,87.76 L507.64,87.77 L507.70,87.78 L507.77,87.79 L507.84,87.80 L507.90,87.81 L507.97,87.82 L508.04,87.83 L508.11,87.84 L508.17,87.85 L508.24,87.86 L508.31,87.87 L508.37,87.88 L508.44,87.89 L508.51,87.90 L508.57,87.91 L508.64,87.92 L508.71,87.93 L508.78,87.94 L508.84,87.95 L508.91,87.96 L508.98,87.97 L509.04,87.98 L509.11,87.99 L509.18,88.00 L509.25,88.01 L509.31,88.02 L509.38,88.03 L509.45,88.04 L509.51,88.05 L509.58,88.06 L509.65,88.07 L509.71,88.08 L509.78,88.09 L509.85,88.10 L509.92,88.11 L509.98,88.12 L510.05,88.13 L510.12,88.15 L510.18,88.16 L510.25,88.17 L510.32,88.18 L510.38,88.19 L510.45,88.20 L510.52,88.21 L510.59,88.22 L510.65,88.23 L510.72,88.24 L510.79,88.25 L510.85,88.26 L510.92,88.27 L510.99,88.28 L511.06,88.29 L511.12,88.30 L511.19,88.31 L511.26,88.32 L511.32,88.33 L511.39,88.34 L511.46,88.35 L511.52,88.36 L511.59,88.37 L511.66,88.38 L511.73,88.39 L511.79,88.40 L511.86,88.41 L511.93,88.42 L511.99,88.43 L512.06,88.44 L512.13,88.45 L512.19,88.46 L512.26,88.47 L512.33,88.48 L512.40,88.49 L512.46,88.50 L512.53,88.51 L512.60,88.52 L512.66,88.53 L512.73,88.54 L512.80,88.55 L512.87,88.56 L512.93,88.57 L513.00,88.58 L513.07,88.59 L513.13,88.60 L513.20,88.61 L513.27,88.62 L513.33,88.63 L513.40,88.64 L513.47,88.65 L513.54,88.67 L513.60,88.68 L513.67,88.69 L513.74,88.70 L513.80,88.71 L513.87,88.72 L513.94,88.73 L514.01,88.74 L514.07,88.75 L514.14,88.76 L514.21,88.77 L514.27,88.78 L514.34,88.79 L514.41,88.80 L514.47,88.81 L514.54,88.82 L514.61,88.83 L514.68,88.84 L514.74,88.85 L514.81,88.86 L514.88,88.87 L514.94,88.88 L515.01,88.89 L515.08,88.90 L515.14,88.91 L515.21,88.92 L515.28,88.93 L515.35,88.94 L515.41,88.95 L515.48,88.96 L515.55,88.97 L515.61,88.98 L515.68,88.99 L515.75,89.00 L515.82,89.01 L515.88,89.02 L515.95,89.03 L516.02,89.04 L516.08,89.05 L516.15,89.06 L516.22,89.07 L516.28,89.09 L516.35,89.10 L516.42,89.11 L516.49,89.12 L516.55,89.13 L516.62,89.14 L516.69,89.15 L516.75,89.16 L516.82,89.17 L516.89,89.18 L516.95,89.19 L517.02,89.20 L517.09,89.21 L517.16,89.22 L517.22,89.23 L517.29,89.24 L517.36,89.25 L517.42,89.26 L517.49,89.27 L517.56,89.28 L517.63,89.29 L517.69,89.30 L517.76,89.31 L517.83,89.32 L517.89,89.33 L517.96,89.34 L518.03,89.35 L518.09,89.36 L518.16,89.37 L518.23,89.38 L518.30,89.39 L518.36,89.40 L518.43,89.41 L518.50,89.42 L518.56,89.43 L518.63,89.44 L518.70,89.45 L518.76,89.46 L518.83,89.47 L518.90,89.48 L518.97,89.49 L519.03,89.50 L519.10,89.51 L519.17,89.52 L519.23,89.53 L519.30,89.54 L519.37,89.55 L519.44,89.56 L519.50,89.57 L519.57,89.58 L519.64,89.59 L519.70,89.60 L519.77,89.61 L519.84,89.62 L519.90,89.63 L519.97,89.64 L520.04,89.65 L520.11,89.66 L520.17,89.67 L520.24,89.68 L520.31,89.69 L520.37,89.70 L520.44,89.71 L520.51,89.72 L520.58,89.73 L520.64,89.74 L520.71,89.75 L520.78,89.76 L520.84,89.77 L520.91,89.78 L520.98,89.79 L521.04,89.80 L521.11,89.81 L521.18,89.82 L521.25,89.83 L521.31,89.84 L521.38,89.85 L521.45,89.86 L521.51,89.87 L521.58,89.88 L521.65,89.89 L521.71,89.90 L521.78,89.91 L521.85,89.92 L521.92,89.93 L521.98,89.94 L522.05,89.95 L522.12,89.96 L522.18,89.97 L522.25,89.98 L522.32,89.99 L522.39,90.00 L522.45,90.01 L522.52,90.02 L522.59,90.03 L522.65,90.04 L522.72,90.05 L522.79,90.06 L522.85,90.07 L522.92,90.08 L522.99,90.09 L523.06,90.10 L523.12,90.11 L523.19,90.12 L523.26,90.13 L523.32,90.14 L523.39,90.15 L523.46,90.16 L523.52,90.17 L523.59,90.18 L523.66,90.19 L523.73,90.20 L523.79,90.21 L523.86,90.22 L523.93,90.23 L523.99,90.24 L524.06,90.25 L524.13,90.26 L524.20,90.27 L524.26,90.28 L524.33,90.29 L524.40,90.30 L524.46,90.31 L524.53,90.32 L524.60,90.33 L524.66,90.34 L524.73,90.35 L524.80,90.36 L524.87,90.37 L524.93,90.38 L525.00,90.39 L525.07,90.40 L525.13,90.41 L525.20,90.42 L525.27,90.43 L525.34,90.44 L525.40,90.45 L525.47,90.46 L525.54,90.47 L525.60,90.48 L525.67,90.49 L525.74,90.50 L525.80,90.51 L525.87,90.52 L525.94,90.53 L526.01,90.54 L526.07,90.55 L526.14,90.56 L526.21,90.57 L526.27,90.58 L526.34,90.59 L526.41,90.60 L526.47,90.61 L526.54,90.62 L526.61,90.64 L526.68,90.65 L526.74,90.66 L526.81,90.67 L526.88,90.68 L526.94,90.69 L527.01,90.70 L527.08,90.71 L527.15,90.72 L527.21,90.73 L527.28,90.74 L527.35,90.75 L527.41,90.76 L527.48,90.77 L527.55,90.78 L527.61,90.79 L527.68,90.80 L527.75,90.81 L527.82,90.82 L527.88,90.83 L527.95,90.85 L528.02,90.86 L528.08,90.87 L528.15,90.88 L528.22,90.89 L528.28,90.90 L528.35,90.91 L528.42,90.92 L528.49,90.93 L528.55,90.94 L528.62,90.95 L528.69,90.96 L528.75,90.97 L528.82,90.99 L528.89,91.00 L528.96,91.01 L529.02,91.02 L529.09,91.03 L529.16,91.04 L529.22,91.05 L529.29,91.06 L529.36,91.07 L529.42,91.08 L529.49,91.09 L529.56,91.11 L529.63,91.12 L529.69,91.13 L529.76,91.14 L529.83,91.15 L529.89,91.16 L529.96,91.17 L530.03,91.18 L530.09,91.19 L530.16,91.21 L530.23,91.22 L530.30,91.23 L530.36,91.24 L530.43,91.25 L530.50,91.26 L530.56,91.27 L530.63,91.28 L530.70,91.30 L530.77,91.31 L530.83,91.32 L530.90,91.33 L530.97,91.34 L531.03,91.35 L531.10,91.36 L531.17,91.37 L531.23,91.39 L531.30,91.40 L531.37,91.41 L531.44,91.42 L531.50,91.43 L531.57,91.44 L531.64,91.45 L531.70,91.47 L531.77,91.48 L531.84,91.49 L531.91,91.50 L531.97,91.51 L532.04,91.52 L532.11,91.53 L532.17,91.55 L532.24,91.56 L532.31,91.57 L532.37,91.58 L532.44,91.59 L532.51,91.60 L532.58,91.61 L532.64,91.63 L532.71,91.64 L532.78,91.65 L532.84,91.66 L532.91,91.67 L532.98,91.68 L533.04,91.69 L533.11,91.71 L533.18,91.72 L533.25,91.73 L533.31,91.74 L533.38,91.75 L533.45,91.76 L533.51,91.78 L533.58,91.79 L533.65,91.80 L533.72,91.81 L533.78,91.82 L533.85,91.83 L533.92,91.85 L533.98,91.86 L534.05,91.87 L534.12,91.88 L534.18,91.89 L534.25,91.90 L534.32,91.91 L534.39,91.93 L534.45,91.94 L534.52,91.95 L534.59,91.96 L534.65,91.97 L534.72,91.98 L534.79,92.00 L534.85,92.01 L534.92,92.02 L534.99,92.03 L535.06,92.04 L535.12,92.05 L535.19,92.07 L535.26,92.08 L535.32,92.09 L535.39,92.10 L535.46,92.11 L535.53,92.12 L535.59,92.13 L535.66,92.15 L535.73,92.16 L535.79,92.17 L535.86,92.18 L535.93,92.19 L535.99,92.20 L536.06,92.22 L536.13,92.23 L536.20,92.24 L536.26,92.25 L536.33,92.26 L536.40,92.27 L536.46,92.28 L536.53,92.30 L536.60,92.31 L536.66,92.32 L536.73,92.33 L536.80,92.34 L536.87,92.35 L536.93,92.37 L537.00,92.38 L537.07,92.39 L537.13,92.40 L537.20,92.41 L537.27,92.42 L537.34,92.43 L537.40,92.45 L537.47,92.46 L537.54,92.47 L537.60,92.48 L537.67,92.49 L537.74,92.50 L537.80,92.51 L537.87,92.53 L537.94,92.54 L538.01,92.55 L538.07,92.56 L538.14,92.57 L538.21,92.58 L538.27,92.59 L538.34,92.60 L538.41,92.62 L538.48,92.63 L538.54,92.64 L538.61,92.65 L538.68,92.66 L538.74,92.67 L538.81,92.68 L538.88,92.69 L538.94,92.71 L539.01,92.72 L539.08,92.73 L539.15,92.74 L539.21,92.75 L539.28,92.76 L539.35,92.77 L539.41,92.78 L539.48,92.79 L539.55,92.81 L539.61,92.82 L539.68,92.83 L539.75,92.84 L539.82,92.85 L539.88,92.86 L539.95,92.87 L540.02,92.88 L540.08,92.89 L540.15,92.90 L540.22,92.92 L540.29,92.93 L540.35,92.94 L540.42,92.95 L540.49,92.96 L540.55,92.97 L540.62,92.98 L540.69,92.99 L540.75,93.00 L540.82,93.01 L540.89,93.02 L540.96,93.04 L541.02,93.05 L541.09,93.06 L541.16,93.07 L541.22,93.08 L541.29,93.09 L541.36,93.10 L541.42,93.11 L541.49,93.12 L541.56,93.13 L541.63,93.14 L541.69,93.15 L541.76,93.16 L541.83,93.18 L541.89,93.19 L541.96,93.20 L542.03,93.21 L542.10,93.22 L542.16,93.23 L542.23,93.24 L542.30,93.25 L542.36,93.26 L542.43,93.27 L542.50,93.28 L542.56,93.30 L542.63,93.31 L542.70,93.32 L542.77,93.33 L542.83,93.34 L542.90,93.35 L542.97,93.36 L543.03,93.37 L543.10,93.38 L543.17,93.39 L543.23,93.40 L543.30,93.42 L543.37,93.43 L543.44,93.44 L543.50,93.45 L543.57,93.46 L543.64,93.47 L543.70,93.48 L543.77,93.49 L543.84,93.50 L543.91,93.51 L543.97,93.52 L544.04,93.53 L544.11,93.55 L544.17,93.56 L544.24,93.57 L544.31,93.58 L544.37,93.59 L544.44,93.60 L544.51,93.61 L544.58,93.62 L544.64,93.63 L544.71,93.64 L544.78,93.65 L544.84,93.66 L544.91,93.67 L544.98,93.68 L545.05,93.70 L545.11,93.71 L545.18,93.72 L545.25,93.73 L545.31,93.74 L545.38,93.75 L545.45,93.76 L545.51,93.77 L545.58,93.78 L545.65,93.79 L545.72,93.80 L545.78,93.81 L545.85,93.82 L545.92,93.83 L545.98,93.84 L546.05,93.85 L546.12,93.86 L546.18,93.87 L546.25,93.88 L546.32,93.89 L546.39,93.90 L546.45,93.91 L546.52,93.92 L546.59,93.93 L546.65,93.94 L546.72,93.95 L546.79,93.96 L546.86,93.97 L546.92,93.98 L546.99,93.99 L547.06,94.00 L547.12,94.01 L547.19,94.02 L547.26,94.03 L547.32,94.04 L547.39,94.05 L547.46,94.06 L547.53,94.07 L547.59,94.08 L547.66,94.09 L547.73,94.10 L547.79,94.11 L547.86,94.12 L547.93,94.13 L547.99,94.13 L548.06,94.14 L548.13,94.15 L548.20,94.16 L548.26,94.17 L548.33,94.18 L548.40,94.19 L548.46,94.20 L548.53,94.21 L548.60,94.22 L548.67,94.22 L548.73,94.23 L548.80,94.24 L548.87,94.25 L548.93,94.26 L549.00,94.27 L549.07,94.28 L549.13,94.29 L549.20,94.29 L549.27,94.30 L549.34,94.31 L549.40,94.32 L549.47,94.33 L549.54,94.34 L549.60,94.34 L549.67,94.35 L549.74,94.36 L549.81,94.37 L549.87,94.38 L549.94,94.38 L550.01,94.39 L550.07,94.40 L550.14,94.41 L550.21,94.41 L550.27,94.42 L550.34,94.43 L550.41,94.44 L550.48,94.44 L550.54,94.45 L550.61,94.46 L550.68,94.47 L550.74,94.47 L550.81,94.48 L550.88,94.49 L550.94,94.50 L551.01,94.50 L551.08,94.51 L551.15,94.52 L551.21,94.52 L551.28,94.53 L551.35,94.54 L551.41,94.54 L551.48,94.55 L551.55,94.56 L551.62,94.56 L551.68,94.57 L551.75,94.58 L551.82,94.58 L551.88,94.59 L551.95,94.60 L552.02,94.60 L552.08,94.61 L552.15,94.62 L552.22,94.62 L552.29,94.63 L552.35,94.63 L552.42,94.64 L552.49,94.65 L552.55,94.65 L552.62,94.66 L552.69,94.66 L552.75,94.67 L552.82,94.68 L552.89,94.68 L552.96,94.69 L553.02,94.69 L553.09,94.70 L553.16,94.70 L553.22,94.71 L553.29,94.71 L553.36,94.72 L553.43,94.73 L553.49,94.73 L553.56,94.74 L553.63,94.74 L553.69,94.75 L553.76,94.75 L553.83,94.76 L553.89,94.76 L553.96,94.77 L554.03,94.77 L554.10,94.78 L554.16,94.78 L554.23,94.79 L554.30,94.79 L554.36,94.80 L554.43,94.80 L554.50,94.81 L554.56,94.81 L554.63,94.82 L554.70,94.82 L554.77,94.83 L554.83,94.83 L554.90,94.83 L554.97,94.84 L555.03,94.84 L555.10,94.85 L555.17,94.85 L555.24,94.86 L555.30,94.86 L555.37,94.87 L555.44,94.87 L555.50,94.87 L555.57,94.88 L555.64,94.88 L555.70,94.89 L555.77,94.89 L555.84,94.89 L555.91,94.90 L555.97,94.90 L556.04,94.91 L556.11,94.91 L556.17,94.91 L556.24,94.92 L556.31,94.92 L556.38,94.93 L556.44,94.93 L556.51,94.93 L556.58,94.94 L556.64,94.94 L556.71,94.94 L556.78,94.95 L556.84,94.95 L556.91,94.95 L556.98,94.96 L557.05,94.96 L557.11,94.96 L557.18,94.97 L557.25,94.97 L557.31,94.97 L557.38,94.98 L557.45,94.98 L557.51,94.98 L557.58,94.99 L557.65,94.99 L557.72,94.99 L557.78,95.00 L557.85,95.00 L557.92,95.00 L557.98,95.00 L558.05,95.01 L558.12,95.01 L558.19,95.01 L558.25,95.02 L558.32,95.02 L558.39,95.02 L558.45,95.02 L558.52,95.03 L558.59,95.03 L558.65,95.03 L558.72,95.03 L558.79,95.04 L558.86,95.04 L558.92,95.04 L558.99,95.04 L559.06,95.05 L559.12,95.05 L559.19,95.05 L559.26,95.05 L559.32,95.06 L559.39,95.06 L559.46,95.06 L559.53,95.06 L559.59,95.06 L559.66,95.07 L559.73,95.07 L559.79,95.07 L559.86,95.07 L559.93,95.07 L560.00,95.08 L560.06,95.08 L560.13,95.08 L560.20,95.08 L560.26,95.08 L560.33,95.09 L560.40,95.09 L560.46,95.09 L560.53,95.09 L560.60,95.09 L560.67,95.09 L560.73,95.10 L560.80,95.10 L560.87,95.10 L560.93,95.10 L561.00,95.10 L561.07,95.10 L561.13,95.10 L561.20,95.10 L561.27,95.11 L561.34,95.11 L561.40,95.11 L561.47,95.11 L561.54,95.11 L561.60,95.11 L561.67,95.11 L561.74,95.11 L561.81,95.11 L561.87,95.11 L561.94,95.12 L562.01,95.12 L562.07,95.12 L562.14,95.12 L562.21,95.12 L562.27,95.12 L562.34,95.12 L562.41,95.12 L562.48,95.12 L562.54,95.12 L562.61,95.12 L562.68,95.12 L562.74,95.12 L562.81,95.12 L562.88,95.12 L562.95,95.12 L563.01,95.12 L563.08,95.12 L563.15,95.11 L563.21,95.11 L563.28,95.11 L563.35,95.11 L563.41,95.11 L563.48,95.11 L563.55,95.11 L563.62,95.11 L563.68,95.11 L563.75,95.11 L563.82,95.10 L563.88,95.10 L563.95,95.10 L564.02,95.10 L564.08,95.10 L564.15,95.09 L564.22,95.09 L564.29,95.09 L564.35,95.09 L564.42,95.08 L564.49,95.08 L564.55,95.08 L564.62,95.07 L564.69,95.07 L564.76,95.07 L564.82,95.06 L564.89,95.06 L564.96,95.05 L565.02,95.04 L565.09,95.04 L565.16,95.03 L565.22,95.02 L565.29,95.02 L565.36,95.01 L565.43,95.00 L565.49,94.99 L565.56,94.98 L565.63,94.96 L565.69,94.95 L565.76,94.94 L565.83,94.92 L565.89,94.90 L565.96,94.89 L566.03,94.87 L566.10,94.85 L566.16,94.82 L566.23,94.80 L566.30,94.77 L566.36,94.74 L566.43,94.71 L566.50,94.68 L566.57,94.64 L566.63,94.60 L566.70,94.56 L566.77,94.51 L566.83,94.47 L566.90,94.41 L566.97,94.36 L567.03,94.30 L567.10,94.24 L567.17,94.17 L567.24,94.10 L567.30,94.03 L567.37,93.95 L567.44,93.87 L567.50,93.78 L567.57,93.69 L567.64,93.60 L567.70,93.50 L567.77,93.39 L567.84,93.28 L567.91,93.17 L567.97,93.05 L568.04,92.93 L568.11,92.80 L568.17,92.67 L568.24,92.53 L568.31,92.40 L568.38,92.25 L568.44,92.11 L568.51,91.96 L568.58,91.80 L568.64,91.65 L568.71,91.49 L568.78,91.33 L568.84,91.16 L568.91,91.00 L568.98,90.83 L569.05,90.66 L569.11,90.49 L569.18,90.33 L569.25,90.16 L569.31,89.99 L569.38,89.82 L569.45,89.65 L569.52,89.48 L569.58,89.32 L569.65,89.15 L569.72,88.99 L569.78,88.83 L569.85,88.67 L569.92,88.52 L569.98,88.37 L570.05,88.22 L570.12,88.08 L570.19,87.94 L570.25,87.80 L570.32,87.67 L570.39,87.55 L570.45,87.43 L570.52,87.31 L570.59,87.20 L570.65,87.10 L570.72,87.00 L570.79,86.91 L570.86,86.82 L570.92,86.74 L570.99,86.67 L571.06,86.60 L571.12,86.54 L571.19,86.48 L571.26,86.43 L571.33,86.39 L571.39,86.36 L571.46,86.33 L571.53,86.31 L571.59,86.30 L571.66,86.29 L571.73,86.29 L571.79,86.30 L571.86,86.31 L571.93,86.33 L572.00,86.36 L572.06,86.40 L572.13,86.44 L572.20,86.49 L572.26,86.54 L572.33,86.60 L572.40,86.67 L572.46,86.74 L572.53,86.82 L572.60,86.91 L572.67,87.00 L572.73,87.09 L572.80,87.19 L572.87,87.30 L572.93,87.41 L573.00,87.53 L573.07,87.65 L573.14,87.77 L573.20,87.90 L573.27,88.03 L573.34,88.17 L573.40,88.31 L573.47,88.45 L573.54,88.59 L573.60,88.74 L573.67,88.89 L573.74,89.04 L573.81,89.19 L573.87,89.34 L573.94,89.49 L574.01,89.65 L574.07,89.80 L574.14,89.95 L574.21,90.10 L574.28,90.25 L574.34,90.40 L574.41,90.55 L574.48,90.69 L574.54,90.84 L574.61,90.98 L574.68,91.11 L574.74,91.25 L574.81,91.38 L574.88,91.50 L574.95,91.63 L575.01,91.75 L575.08,91.86 L575.15,91.97 L575.21,92.08 L575.28,92.18 L575.35,92.28 L575.41,92.37 L575.48,92.46 L575.55,92.55 L575.62,92.63 L575.68,92.70 L575.75,92.77 L575.82,92.84 L575.88,92.90 L575.95,92.95 L576.02,93.01 L576.09,93.06 L576.15,93.10 L576.22,93.14 L576.29,93.18 L576.35,93.21 L576.42,93.24 L576.49,93.27 L576.55,93.29 L576.62,93.31 L576.69,93.33 L576.76,93.34 L576.82,93.36 L576.89,93.37 L576.96,93.37 L577.02,93.38 L577.09,93.38 L577.16,93.38 L577.22,93.38 L577.29,93.38 L577.36,93.38 L577.43,93.37 L577.49,93.36 L577.56,93.36 L577.63,93.35 L577.69,93.34 L577.76,93.33 L577.83,93.31 L577.90,93.30 L577.96,93.29 L578.03,93.27 L578.10,93.25 L578.16,93.24 L578.23,93.22 L578.30,93.20 L578.36,93.18 L578.43,93.16 L578.50,93.15 L578.57,93.13 L578.63,93.10 L578.70,93.08 L578.77,93.06 L578.83,93.04 L578.90,93.02 L578.97,93.00 L579.03,92.97 L579.10,92.95 L579.17,92.93 L579.24,92.90 L579.30,92.88 L579.37,92.85 L579.44,92.83 L579.50,92.80 L579.57,92.78 L579.64,92.75 L579.71,92.72 L579.77,92.70 L579.84,92.67 L579.91,92.64 L579.97,92.62 L580.04,92.59 L580.11,92.56 L580.17,92.53 L580.24,92.50 L580.31,92.47 L580.38,92.44 L580.44,92.41 L580.51,92.38 L580.58,92.35 L580.64,92.32 L580.71,92.29 L580.78,92.26 L580.85,92.23 L580.91,92.20 L580.98,92.16 L581.05,92.13 L581.11,92.10 L581.18,92.06 L581.25,92.03 L581.31,92.00 L581.38,91.96 L581.45,91.93 L581.52,91.89 L581.58,91.86 L581.65,91.82 L581.72,91.78 L581.78,91.75 L581.85,91.71 L581.92,91.67 L581.98,91.64 L582.05,91.60 L582.12,91.56 L582.19,91.52 L582.25,91.48 L582.32,91.44 L582.39,91.40 L582.45,91.36 L582.52,91.32 L582.59,91.28 L582.66,91.24 L582.72,91.19 L582.79,91.15 L582.86,91.11 L582.92,91.06 L582.99,91.02 L583.06,90.98 L583.12,90.93 L583.19,90.89 L583.26,90.84 L583.33,90.79 L583.39,90.75 L583.46,90.70 L583.53,90.65 L583.59,90.60 L583.66,90.55 L583.73,90.51 L583.79,90.46 L583.86,90.41 L583.93,90.36 L584.00,90.30 L584.06,90.25 L584.13,90.20 L584.20,90.15 L584.26,90.09 L584.33,90.04 L584.40,89.99 L584.47,89.93 L584.53,89.88 L584.60,89.82 L584.67,89.76 L584.73,89.71 L584.80,89.65 L584.87,89.59 L584.93,89.53 L585.00,89.47 L585.07,89.42 L585.14,89.35 L585.20,89.29 L585.27,89.23 L585.34,89.17 L585.40,89.11 L585.47,89.04 L585.54,88.98 L585.60,88.92 L585.67,88.85 L585.74,88.79 L585.81,88.72 L585.87,88.65 L585.94,88.59 L586.01,88.52 L586.07,88.45 L586.14,88.38 L586.21,88.31 L586.28,88.24 L586.34,88.17 L586.41,88.09 L586.48,88.02 L586.54,87.95 L586.61,87.87 L586.68,87.80 L586.74,87.73 L586.81,87.65 L586.88,87.57 L586.95,87.50 L587.01,87.42 L587.08,87.34 L587.15,87.26 L587.21,87.18 L587.28,87.10 L587.35,87.02 L587.42,86.94 L587.48,86.85 L587.55,86.77 L587.62,86.68 L587.68,86.60 L587.75,86.51 L587.82,86.43 L587.88,86.34 L587.95,86.25 L588.02,86.16 L588.09,86.07 L588.15,85.99 L588.22,85.89 L588.29,85.80 L588.35,85.71 L588.42,85.62 L588.49,85.52 L588.55,85.43 L588.62,85.33 L588.69,85.24 L588.76,85.14 L588.82,85.04 L588.89,84.95 L588.96,84.85 L589.02,84.75 L589.09,84.65 L589.16,84.55 L589.23,84.44 L589.29,84.34 L589.36,84.24 L589.43,84.13 L589.49,84.03 L589.56,83.92 L589.63,83.82 L589.69,83.71 L589.76,83.60 L589.83,83.49 L589.90,83.38 L589.96,83.27 L590.03,83.16 L590.10,83.05 L590.16,82.94 L590.23,82.83 L590.30,82.71 L590.36,82.60 L590.43,82.48 L590.50,82.36 L590.57,82.25 L590.63,82.13 L590.70,82.01 L590.77,81.89 L590.83,81.77 L590.90,81.65 L590.97,81.53 L591.04,81.41 L591.10,81.29 L591.17,81.16 L591.24,81.04 L591.30,80.91 L591.37,80.79 L591.44,80.66 L591.50,80.53 L591.57,80.40 L591.64,80.28 L591.71,80.15 L591.77,80.02 L591.84,79.88 L591.91,79.75 L591.97,79.62 L592.04,79.49 L592.11,79.35 L592.18,79.22 L592.24,79.08 L592.31,78.95 L592.38,78.81 L592.44,78.68 L592.51,78.54 L592.58,78.40 L592.64,78.26 L592.71,78.12 L592.78,77.98 L592.85,77.84 L592.91,77.70 L592.98,77.56 L593.05,77.41 L593.11,77.27 L593.18,77.12 L593.25,76.98 L593.31,76.83 L593.38,76.69 L593.45,76.54 L593.52,76.39 L593.58,76.25 L593.65,76.10 L593.72,75.95 L593.78,75.80 L593.85,75.65 L593.92,75.50 L593.99,75.35 L594.05,75.19 L594.12,75.04 L594.19,74.89 L594.25,74.73 L594.32,74.58 L594.39,74.43 L594.45,74.27 L594.52,74.11 L594.59,73.96 L594.66,73.80 L594.72,73.64 L594.79,73.49 L594.86,73.33 L594.92,73.17 L594.99,73.01 L595.06,72.85 L595.12,72.69 L595.19,72.53 L595.26,72.37 L595.33,72.21 L595.39,72.04 L595.46,71.88 L595.53,71.72 L595.59,71.55 L595.66,71.39 L595.73,71.22 L595.80,71.06 L595.86,70.89 L595.93,70.73 L596.00,70.56 L596.06,70.39 L596.13,70.23 L596.20,70.06 L596.26,69.89 L596.33,69.72 L596.40,69.55 L596.47,69.38 L596.53,69.21 L596.60,69.04 L596.67,68.87 L596.73,68.69 L596.80,68.52 L596.87,68.35 L596.93,68.17 L597.00,68.00 L597.07,67.82 L597.14,67.64 L597.20,67.47 L597.27,67.29 L597.34,67.11 L597.40,66.93 L597.47,66.75 L597.54,66.56 L597.61,66.38 L597.67,66.19 L597.74,66.01 L597.81,65.82 L597.87,65.63 L597.94,65.43 L598.01,65.24 L598.07,65.04 L598.14,64.84 L598.21,64.64 L598.28,64.44 L598.34,64.23 L598.41,64.02 L598.48,63.81 L598.54,63.59 L598.61,63.37 L598.68,63.14 L598.75,62.92 L598.81,62.68 L598.88,62.44 L598.95,62.20 L599.01,61.95 L599.08,61.70 L599.15,61.44 L599.21,61.17 L599.28,60.90 L599.35,60.62 L599.42,60.34 L599.48,60.05 L599.55,59.75 L599.62,59.44 L599.68,59.13 L599.75,58.81 L599.82,58.48 L599.88,58.15 L599.95,57.81 L600.02,57.46 L600.09,57.10 L600.15,56.74 L600.22,56.37 L600.29,55.99 L600.35,55.60 L600.42,55.21 L600.49,54.82 L600.56,54.41 L600.62,54.01 L600.69,53.59 L600.76,53.18 L600.82,52.75 L600.89,52.33 L600.96,51.90 L601.02,51.47 L601.09,51.03 L601.16,50.60 L601.23,50.16 L601.29,49.72 L601.36,49.28 L601.43,48.84 L601.49,48.40 L601.56,47.97 L601.63,47.53 L601.69,47.10 L601.76,46.66 L601.83,46.23 L601.90,45.81 L601.96,45.39 L602.03,44.97 L602.10,44.56 L602.16,44.15 L602.23,43.74 L602.30,43.35 L602.37,42.96 L602.43,42.57 L602.50,42.19 L602.57,41.82 L602.63,41.45 L602.70,41.10 L602.77,40.75 L602.83,40.40 L602.90,40.07 L602.97,39.74 L603.04,39.43 L603.10,39.12 L603.17,38.82 L603.24,38.53 L603.30,38.25 L603.37,37.98 L603.44,37.71 L603.50,37.46 L603.57,37.22 L603.64,36.99 L603.71,36.76 L603.77,36.55 L603.84,36.35 L603.91,36.16 L603.97,35.98 L604.04,35.81 L604.11,35.65 L604.18,35.50 L604.24,35.36 L604.31,35.24 L604.38,35.12 L604.44,35.01 L604.51,34.92 L604.58,34.84 L604.64,34.77 L604.71,34.71 L604.78,34.66 L604.85,34.62 L604.91,34.60 L604.98,34.59 L605.05,34.58 L605.11,34.59 L605.18,34.61 L605.25,34.65 L605.32,34.69 L605.38,34.75 L605.45,34.82 L605.52,34.90 L605.58,34.99 L605.65,35.10 L605.72,35.21 L605.78,35.34 L605.85,35.48 L605.92,35.63 L605.99,35.80 L606.05,35.97 L606.12,36.16 L606.19,36.36 L606.25,36.58 L606.32,36.80 L606.39,37.04 L606.45,37.29 L606.52,37.55 L606.59,37.83 L606.66,38.11 L606.72,38.41 L606.79,38.72 L606.86,39.04 L606.92,39.38 L606.99,39.73 L607.06,40.09 L607.13,40.46 L607.19,40.84 L607.26,41.24 L607.33,41.65 L607.39,42.07 L607.46,42.51 L607.53,42.95 L607.59,43.41 L607.66,43.88 L607.73,44.36 L607.80,44.86 L607.86,45.37 L607.93,45.89 L608.00,46.42 L608.06,46.96 L608.13,47.52 L608.20,48.09 L608.26,48.67 L608.33,49.26 L608.40,49.87 L608.47,50.48 L608.53,51.11 L608.60,51.75 L608.67,52.41 L608.73,53.07 L608.80,53.75 L608.87,54.44 L608.94,55.14 L609.00,55.85 L609.07,56.57 L609.14,57.31 L609.20,58.05 L609.27,58.81 L609.34,59.58 L609.40,60.36 L609.47,61.15 L609.54,61.95 L609.61,62.76 L609.67,63.58 L609.74,64.41 L609.81,65.25 L609.87,66.10 L609.94,66.97 L610.01,67.83 L610.07,68.71 L610.14,69.60 L610.21,70.49 L610.28,71.39 L610.34,72.30 L610.41,73.21 L610.48,74.13 L610.54,75.05 L610.61,75.97 L610.68,76.90 L610.75,77.82 L610.81,78.75 L610.88,79.68 L610.95,80.60 L611.01,81.52 L611.08,82.43 L611.15,83.34 L611.21,84.23 L611.28,85.12 L611.35,85.99 L611.42,86.84 L611.48,87.68 L611.55,88.49 L611.62,89.29 L611.68,90.06 L611.75,90.80 L611.82,91.51 L611.89,92.19 L611.95,92.84 L612.02,93.46 L612.09,94.04 L612.15,94.59 L612.22,95.11 L612.29,95.59 L612.35,96.03 L612.42,96.44 L612.49,96.82 L612.56,97.17 L612.62,97.49 L612.69,97.78 L612.76,98.04 L612.82,98.28 L612.89,98.49 L612.96,98.69 L613.02,98.86 L613.09,99.02 L613.16,99.16 L613.23,99.29 L613.29,99.41 L613.36,99.51 L613.43,99.61 L613.49,99.69 L613.56,99.77 L613.63,99.84 L613.70,99.91 L613.76,99.96 L613.83,100.02 L613.90,100.07 L613.96,100.12 L614.03,100.16 L614.10,100.21 L614.16,100.25 L614.23,100.28 L614.30,100.32 L614.37,100.36 L614.43,100.39 L614.50,100.42 L614.57,100.46 L614.63,100.49 L614.70,100.52 L614.77,100.55 L614.83,100.58 L614.90,100.61 L614.97,100.65 L615.04,100.68 L615.10,100.71 L615.17,100.74 L615.24,100.77 L615.30,100.80 L615.37,100.83 L615.44,100.86 L615.51,100.89 L615.57,100.92 L615.64,100.95 L615.71,100.98 L615.77,101.01 L615.84,101.05 L615.91,101.08 L615.97,101.11 L616.04,101.14 L616.11,101.17 L616.18,101.21 L616.24,101.24 L616.31,101.27 L616.38,101.30 L616.44,101.34 L616.51,101.37 L616.58,101.40 L616.65,101.44 L616.71,101.47 L616.78,101.51 L616.85,101.54 L616.91,101.58 L616.98,101.61 L617.05,101.65 L617.11,101.68 L617.18,101.72 L617.25,101.75 L617.32,101.79 L617.38,101.82 L617.45,101.86 L617.52,101.90 L617.58,101.93 L617.65,101.97 L617.72,102.01 L617.78,102.04 L617.85,102.08 L617.92,102.12 L617.99,102.16 L618.05,102.20 L618.12,102.23 L618.19,102.27 L618.25,102.31 L618.32,102.35 L618.39,102.39 L618.46,102.43 L618.52,102.47 L618.59,102.51 L618.66,102.55 L618.72,102.59 L618.79,102.63 L618.86,102.67 L618.92,102.71 L618.99,102.75 L619.06,102.79 L619.13,102.83 L619.19,102.87 L619.26,102.92 L619.33,102.96 L619.39,103.00 L619.46,103.04 L619.53,103.08 L619.59,103.13 L619.66,103.17 L619.73,103.21 L619.80,103.26 L619.86,103.30 L619.93,103.34 L620.00,103.39 L620.06,103.43 L620.13,103.48 L620.20,103.52 L620.27,103.57 L620.33,103.61 L620.40,103.66 L620.47,103.70 L620.53,103.75 L620.60,103.79 L620.67,103.84 L620.73,103.89 L620.80,103.93 L620.87,103.98 L620.94,104.02 L621.00,104.07 L621.07,104.12 L621.14,104.17 L621.20,104.21 L621.27,104.26 L621.34,104.31 L621.40,104.36 L621.47,104.41 L621.54,104.46 L621.61,104.50 L621.67,104.55 L621.74,104.60 L621.81,104.65 L621.87,104.70 L621.94,104.75 L622.01,104.80 L622.08,104.85 L622.14,104.90 L622.21,104.95 L622.28,105.00 L622.34,105.06 L622.41,105.11 L622.48,105.16 L622.54,105.21 L622.61,105.26 L622.68,105.31 L622.75,105.37 L622.81,105.42 L622.88,105.47 L622.95,105.52 L623.01,105.58 L623.08,105.63 L623.15,105.68 L623.22,105.74 L623.28,105.79 L623.35,105.85 L623.42,105.90 L623.48,105.95 L623.55,106.01 L623.62,106.06 L623.68,106.12 L623.75,106.18 L623.82,106.23 L623.89,106.29 L623.95,106.34 L624.02,106.40 L624.09,106.46 L624.15,106.51 L624.22,106.57 L624.29,106.63 L624.35,106.68 L624.42,106.74 L624.49,106.80 L624.56,106.86 L624.62,106.91 L624.69,106.97 L624.76,107.03 L624.82,107.09 L624.89,107.15 L624.96,107.21 L625.03,107.27 L625.09,107.33 L625.16,107.38 L625.23,107.44 L625.29,107.50 L625.36,107.57 L625.43,107.63 L625.49,107.69 L625.56,107.75 L625.63,107.81 L625.70,107.87 L625.76,107.93 L625.83,107.99 L625.90,108.05 L625.96,108.12 L626.03,108.18 L626.10,108.24 L626.16,108.30 L626.23,108.37 L626.30,108.43 L626.37,108.49 L626.43,108.56 L626.50,108.62 L626.57,108.68 L626.63,108.75 L626.70,108.81 L626.77,108.88 L626.84,108.94 L626.90,109.01 L626.97,109.07 L627.04,109.14 L627.10,109.20 L627.17,109.27 L627.24,109.33 L627.30,109.40 L627.37,109.47 L627.44,109.53 L627.51,109.60 L627.57,109.67 L627.64,109.73 L627.71,109.80 L627.77,109.87 L627.84,109.94 L627.91,110.01 L627.97,110.07 L628.04,110.14 L628.11,110.21 L628.18,110.28 L628.24,110.35 L628.31,110.42 L628.38,110.49 L628.44,110.56 L628.51,110.63 L628.58,110.70 L628.65,110.77 L628.71,110.84 L628.78,110.91 L628.85,110.98 L628.91,111.05 L628.98,111.12 L629.05,111.19 L629.11,111.26 L629.18,111.34 L629.25,111.41 L629.32,111.48 L629.38,111.55 L629.45,111.63 L629.52,111.70 L629.58,111.77 L629.65,111.84 L629.72,111.92 L629.79,111.99 L629.85,112.07 L629.92,112.14 L629.99,112.21 L630.05,112.29 L630.12,112.36 L630.19,112.44 L630.25,112.51 L630.32,112.59 L630.39,112.66 L630.46,112.74 L630.52,112.82 L630.59,112.89 L630.66,112.97 L630.72,113.04 L630.79,113.12 L630.86,113.20 L630.92,113.28 L630.99,113.35 L631.06,113.43 L631.13,113.51 L631.19,113.59 L631.26,113.66 L631.33,113.74 L631.39,113.82 L631.46,113.90 L631.53,113.98 L631.60,114.06 L631.66,114.14 L631.73,114.22 L631.80,114.30 L631.86,114.38 L631.93,114.46 L632.00,114.54 L632.06,114.62 L632.13,114.70 L632.20,114.78 L632.27,114.86 L632.33,114.94 L632.40,115.02 L632.47,115.11 L632.53,115.19 L632.60,115.27 L632.67,115.35 L632.73,115.44 L632.80,115.52 L632.87,115.60 L632.94,115.68 L633.00,115.77 L633.07,115.85 L633.14,115.94 L633.20,116.02 L633.27,116.10 L633.34,116.19 L633.41,116.27 L633.47,116.36 L633.54,116.44 L633.61,116.53 L633.67,116.61 L633.74,116.70 L633.81,116.79 L633.87,116.87 L633.94,116.96 L634.01,117.04 L634.08,117.13 L634.14,117.22 L634.21,117.30 L634.28,117.39 L634.34,117.48 L634.41,117.57 L634.48,117.66 L634.54,117.74 L634.61,117.83 L634.68,117.92 L634.75,118.01 L634.81,118.10 L634.88,118.19 L634.95,118.28 L635.01,118.37 L635.08,118.46 L635.15,118.55 L635.22,118.64 L635.28,118.73 L635.35,118.82 L635.42,118.91 L635.48,119.00 L635.55,119.09 L635.62,119.18 L635.68,119.27 L635.75,119.36 L635.82,119.46 L635.89,119.55 L635.95,119.64 L636.02,119.73 L636.09,119.83 L636.15,119.92 L636.22,120.01 L636.29,120.11 L636.36,120.20 L636.42,120.29 L636.49,120.39 L636.56,120.48 L636.62,120.58 L636.69,120.67 L636.76,120.77 L636.82,120.86 L636.89,120.96 L636.96,121.05 L637.03,121.15 L637.09,121.24 L637.16,121.34 L637.23,121.44 L637.29,121.53 L637.36,121.63 L637.43,121.73 L637.49,121.82 L637.56,121.92 L637.63,122.02 L637.70,122.11 L637.76,122.21 L637.83,122.31 L637.90,122.41 L637.96,122.51 L638.03,122.61 L638.10,122.71 L638.17,122.80 L638.23,122.90 L638.30,123.00 L638.37,123.10 L638.43,123.20 L638.50,123.30 L638.57,123.40 L638.63,123.50 L638.70,123.60 L638.77,123.71 L638.84,123.81 L638.90,123.91 L638.97,124.01 L639.04,124.11 L639.10,124.21 L639.17,124.32 L639.24,124.42 L639.30,124.52 L639.37,124.62 L639.44,124.73 L639.51,124.83 L639.57,124.93 L639.64,125.04 L639.71,125.14 L639.77,125.24 L639.84,125.35 L639.91,125.45 L639.98,125.56 L640.04,125.66 L640.11,125.77 L640.18,125.87 L640.24,125.98 L640.31,126.08 L640.38,126.19 L640.44,126.30 L640.51,126.40 L640.58,126.51 L640.65,126.61 L640.71,126.72 L640.78,126.83 L640.85,126.94 L640.91,127.04 L640.98,127.15 L641.05,127.26 L641.12,127.37 L641.18,127.48 L641.25,127.58 L641.32,127.69 L641.38,127.80 L641.45,127.91 L641.52,128.02 L641.58,128.13 L641.65,128.24 L641.72,128.35 L641.79,128.46 L641.85,128.57 L641.92,128.68 L641.99,128.79 L642.05,128.90 L642.12,129.01 L642.19,129.12 L642.25,129.24 L642.32,129.35 L642.39,129.46 L642.46,129.57 L642.52,129.68 L642.59,129.80 L642.66,129.91 L642.72,130.02 L642.79,130.13 L642.86,130.25 L642.93,130.36 L642.99,130.48 L643.06,130.59 L643.13,130.70 L643.19,130.82 L643.26,130.93 L643.33,131.05 L643.39,131.16 L643.46,131.28 L643.53,131.39 L643.60,131.51 L643.66,131.62 L643.73,131.74 L643.80,131.86 L643.86,131.97 L643.93,132.09 L644.00,132.21 L644.06,132.32 L644.13,132.44 L644.20,132.56 L644.27,132.67 L644.33,132.79 L644.40,132.91 L644.47,133.03 L644.53,133.15 L644.60,133.27 L644.67,133.38 L644.74,133.50 L644.80,133.62 L644.87,133.74 L644.94,133.86 L645.00,133.98 L645.07,134.10 L645.14,134.22 L645.20,134.34 L645.27,134.46 L645.34,134.58 L645.41,134.71 L645.47,134.83 L645.54,134.95 L645.61,135.07 L645.67,135.19 L645.74,135.31 L645.81,135.44 L645.87,135.56 L645.94,135.68 L646.01,135.80 L646.08,135.93 L646.14,136.05 L646.21,136.17 L646.28,136.30 L646.34,136.42 L646.41,136.55 L646.48,136.67 L646.55,136.79 L646.61,136.92 L646.68,137.04 L646.75,137.17 L646.81,137.29 L646.88,137.42 L646.95,137.55 L647.01,137.67 L647.08,137.80 L647.15,137.92 L647.22,138.05 L647.28,138.18 L647.35,138.30 L647.42,138.43 L647.48,138.56 L647.55,138.69 L647.62,138.81 L647.69,138.94 L647.75,139.07 L647.82,139.20 L647.89,139.33 L647.95,139.46 L648.02,139.58 L648.09,139.71 L648.15,139.84 L648.22,139.97 L648.29,140.10 L648.36,140.23 L648.42,140.36 L648.49,140.49 L648.56,140.62 L648.62,140.75 L648.69,140.89 L648.76,141.02 L648.82,141.15 L648.89,141.28 L648.96,141.41 L649.03,141.54 L649.09,141.68 L649.16,141.81 L649.23,141.94 L649.29,142.07 L649.36,142.21 L649.43,142.34 L649.50,142.47 L649.56,142.61 L649.63,142.74 L649.70,142.87 L649.76,143.01 L649.83,143.14 L649.90,143.28" stroke="#ff7f0e" stroke-width="1.7" fill="none"/>
</g>
<g clip-path="url(#cRr)">
<line x1="381.8" y1="199.53" x2="648.0" y2="199.53" stroke="#c4c4c4" stroke-width="0.75" stroke-dasharray="1.1 1.1"/>
<line x1="381.8" y1="180.90" x2="648.0" y2="180.90" stroke="#c4c4c4" stroke-width="0.75" stroke-dasharray="1.1 1.1"/>
<line x1="381.8" y1="162.27" x2="648.0" y2="162.27" stroke="#c4c4c4" stroke-width="0.75" stroke-dasharray="1.1 1.1"/>
<path d="M381.9,178.8h0M382.1,190.1h0M382.3,185.9h0M382.5,179.1h0M382.7,181.4h0M382.8,181.5h0M383.0,182.9h0M383.2,187.3h0M383.4,177.8h0M383.6,188.3h0M383.8,182.9h0M384.0,194.4h0M384.2,167.4h0M384.4,190.1h0M384.6,183.4h0M384.7,185.7h0M384.9,178.1h0M385.1,186.2h0M385.3,182.3h0M385.5,187.1h0M385.7,189.8h0M385.9,160.0h0M386.1,177.9h0M386.3,182.8h0M386.5,191.3h0M386.6,190.1h0M386.8,185.4h0M387.0,187.2h0M387.2,161.6h0M387.4,172.6h0M387.6,184.6h0M387.8,187.9h0M388.0,182.0h0M388.2,185.3h0M388.4,189.0h0M388.5,181.9h0M388.7,182.9h0M388.9,185.1h0M389.1,181.5h0M389.3,194.8h0M389.5,176.6h0M389.7,187.7h0M389.9,191.0h0M390.1,190.4h0M390.3,182.1h0M390.5,186.9h0M390.6,191.1h0M390.8,186.4h0M391.0,187.6h0M391.2,190.9h0M391.4,197.3h0M391.6,190.3h0M391.8,176.0h0M392.0,173.0h0M392.2,186.6h0M392.4,181.3h0M392.5,179.4h0M392.7,197.4h0M392.9,182.0h0M393.1,192.4h0M393.3,190.4h0M393.5,183.0h0M393.7,186.8h0M393.9,188.8h0M394.1,185.6h0M394.3,189.1h0M394.4,194.5h0M394.6,184.5h0M394.8,178.2h0M395.0,187.8h0M395.2,181.5h0M395.4,193.5h0M395.6,181.6h0M395.8,184.1h0M396.0,190.0h0M396.2,186.2h0M396.3,193.1h0M396.5,186.4h0M396.7,186.6h0M396.9,189.8h0M397.1,183.3h0M397.3,193.5h0M397.5,188.8h0M397.7,190.0h0M397.9,184.6h0M398.1,190.6h0M398.2,204.1h0M398.4,186.8h0M398.6,183.1h0M398.8,179.8h0M399.0,189.5h0M399.2,185.5h0M399.4,178.5h0M399.6,187.6h0M399.8,178.8h0M400.0,180.5h0M400.1,176.9h0M400.3,186.6h0M400.5,179.9h0M400.7,187.0h0M400.9,168.4h0M401.1,178.3h0M401.3,170.4h0M401.5,187.4h0M401.7,178.5h0M401.9,176.7h0M402.0,184.7h0M402.2,198.4h0M402.4,167.5h0M402.6,175.0h0M402.8,189.8h0M403.0,189.5h0M403.2,178.0h0M403.4,185.2h0M403.6,189.7h0M403.8,185.3h0M404.0,176.7h0M404.1,172.7h0M404.3,177.3h0M404.5,165.6h0M404.7,173.0h0M404.9,185.2h0M405.1,173.4h0M405.3,185.2h0M405.5,181.8h0M405.7,179.0h0M405.9,177.6h0M406.0,174.1h0M406.2,179.3h0M406.4,187.8h0M406.6,207.9h0M406.8,182.0h0M407.0,182.9h0M407.2,177.0h0M407.4,176.1h0M407.6,173.1h0M407.8,182.1h0M407.9,185.4h0M408.1,175.6h0M408.3,177.2h0M408.5,180.7h0M408.7,173.0h0M408.9,182.5h0M409.1,187.6h0M409.3,176.0h0M409.5,169.3h0M409.7,183.4h0M409.8,167.3h0M410.0,167.7h0M410.2,177.5h0M410.4,185.5h0M410.6,179.6h0M410.8,182.8h0M411.0,173.7h0M411.2,186.3h0M411.4,173.3h0M411.6,175.9h0M411.7,177.7h0M411.9,170.1h0M412.1,188.7h0M412.3,167.0h0M412.5,176.4h0M412.7,171.3h0M412.9,191.1h0M413.1,196.3h0M413.3,177.8h0M413.5,166.3h0M413.6,173.8h0M413.8,189.2h0M414.0,171.6h0M414.2,171.9h0M414.4,166.4h0M414.6,173.8h0M414.8,164.3h0M415.0,174.2h0M415.2,166.5h0M415.4,180.9h0M415.5,172.8h0M415.7,159.9h0M415.9,171.4h0M416.1,185.8h0M416.3,157.5h0M416.5,185.0h0M416.7,168.8h0M416.9,181.4h0M417.1,190.1h0M417.3,184.8h0M417.5,180.0h0M417.6,169.1h0M417.8,177.7h0M418.0,161.9h0M418.2,187.9h0M418.4,162.0h0M418.6,178.9h0M418.8,175.6h0M419.0,175.6h0M419.2,175.5h0M419.4,172.8h0M419.5,175.3h0M419.7,176.8h0M419.9,196.2h0M420.1,183.8h0M420.3,167.4h0M420.5,177.7h0M420.7,176.5h0M420.9,170.4h0M421.1,173.2h0M421.3,170.8h0M421.4,150.5h0M421.6,167.9h0M421.8,182.6h0M422.0,166.3h0M422.2,181.7h0M422.4,174.3h0M422.6,179.6h0M422.8,182.3h0M423.0,179.0h0M423.2,176.2h0M423.3,175.1h0M423.5,181.6h0M423.7,172.6h0M423.9,176.7h0M424.1,171.1h0M424.3,175.2h0M424.5,177.8h0M424.7,174.9h0M424.9,173.7h0M425.1,180.2h0M425.2,172.0h0M425.4,155.2h0M425.6,172.1h0M425.8,166.1h0M426.0,171.1h0M426.2,175.9h0M426.4,169.5h0M426.6,183.9h0M426.8,165.1h0M427.0,172.1h0M427.1,177.2h0M427.3,186.5h0M427.5,186.0h0M427.7,162.0h0M427.9,163.8h0M428.1,174.7h0M428.3,172.5h0M428.5,170.4h0M428.7,188.0h0M428.9,177.8h0M429.0,167.3h0M429.2,176.4h0M429.4,180.5h0M429.6,173.5h0M429.8,179.4h0M430.0,169.1h0M430.2,172.4h0M430.4,179.8h0M430.6,166.6h0M430.8,163.7h0M431.0,181.4h0M431.1,175.0h0M431.3,150.2h0M431.5,177.3h0M431.7,170.7h0M431.9,166.6h0M432.1,182.1h0M432.3,176.5h0M432.5,194.6h0M432.7,173.8h0M432.9,168.4h0M433.0,178.2h0M433.2,174.5h0M433.4,179.0h0M433.6,163.0h0M433.8,172.6h0M434.0,177.6h0M434.2,164.7h0M434.4,151.0h0M434.6,177.1h0M434.8,160.0h0M434.9,182.1h0M435.1,169.5h0M435.3,166.6h0M435.5,169.7h0M435.7,167.6h0M435.9,198.9h0M436.1,177.4h0M436.3,173.6h0M436.5,175.0h0M436.7,189.0h0M436.8,175.9h0M437.0,175.4h0M437.2,199.3h0M437.4,199.3h0M437.6,162.8h0M437.8,169.3h0M438.0,189.4h0M438.2,178.3h0M438.4,183.3h0M438.6,174.6h0M438.7,182.6h0M438.9,178.3h0M439.1,176.7h0M439.3,178.7h0M439.5,171.1h0M439.7,173.1h0M439.9,182.1h0M440.1,168.6h0M440.3,179.9h0M440.5,176.8h0M440.6,177.7h0M440.8,168.6h0M441.0,180.6h0M441.2,177.5h0M441.4,172.8h0M441.6,173.0h0M441.8,174.6h0M442.0,176.4h0M442.2,168.2h0M442.4,174.6h0M442.5,175.9h0M442.7,175.3h0M442.9,174.9h0M443.1,170.9h0M443.3,171.2h0M443.5,177.8h0M443.7,173.3h0M443.9,189.7h0M444.1,178.8h0M444.3,178.2h0M444.5,190.7h0M444.6,160.1h0M444.8,166.3h0M445.0,178.8h0M445.2,175.0h0M445.4,173.2h0M445.6,172.1h0M445.8,173.7h0M446.0,183.7h0M446.2,191.5h0M446.4,181.6h0M446.5,170.2h0M446.7,171.4h0M446.9,179.4h0M447.1,171.2h0M447.3,166.6h0M447.5,182.7h0M447.7,168.8h0M447.9,176.3h0M448.1,172.9h0M448.3,177.7h0M448.4,164.4h0M448.6,179.8h0M448.8,171.1h0M449.0,189.2h0M449.2,177.3h0M449.4,176.1h0M449.6,166.2h0M449.8,173.9h0M450.0,177.2h0M450.2,177.6h0M450.3,178.8h0M450.5,181.8h0M450.7,173.9h0M450.9,173.3h0M451.1,178.8h0M451.3,182.9h0M451.5,185.6h0M451.7,180.5h0M451.9,176.5h0M452.1,169.1h0M452.2,182.7h0M452.4,177.1h0M452.6,184.8h0M452.8,185.3h0M453.0,176.3h0M453.2,176.4h0M453.4,187.3h0M453.6,185.0h0M453.8,175.2h0M454.0,177.9h0M454.1,169.6h0M454.3,183.2h0M454.5,182.8h0M454.7,189.8h0M454.9,164.7h0M455.1,182.5h0M455.3,171.8h0M455.5,176.4h0M455.7,168.4h0M455.9,188.0h0M456.0,181.9h0M456.2,173.1h0M456.4,180.5h0M456.6,198.9h0M456.8,176.7h0M457.0,191.8h0M457.2,173.5h0M457.4,166.2h0M457.6,201.6h0M457.8,178.8h0M458.0,180.3h0M458.1,182.0h0M458.3,176.3h0M458.5,166.1h0M458.7,192.6h0M458.9,179.5h0M459.1,164.4h0M459.3,177.4h0M459.5,175.5h0M459.7,179.2h0M459.9,191.9h0M460.0,181.7h0M460.2,194.9h0M460.4,183.8h0M460.6,174.0h0M460.8,188.0h0M461.0,177.8h0M461.2,180.8h0M461.4,181.5h0M461.6,177.1h0M461.8,159.9h0M461.9,169.0h0M462.1,173.6h0M462.3,173.9h0M462.5,181.5h0M462.7,183.6h0M462.9,180.5h0M463.1,193.7h0M463.3,173.8h0M463.5,172.2h0M463.7,182.2h0M463.8,182.0h0M464.0,180.9h0M464.2,181.6h0M464.4,180.1h0M464.6,193.5h0M464.8,185.0h0M465.0,184.8h0M465.2,187.6h0M465.4,179.1h0M465.6,177.4h0M465.7,175.3h0M465.9,182.2h0M466.1,190.9h0M466.3,171.8h0M466.5,181.9h0M466.7,182.0h0M466.9,175.5h0M467.1,191.2h0M467.3,190.9h0M467.5,178.9h0M467.6,186.1h0M467.8,189.8h0M468.0,175.6h0M468.2,183.7h0M468.4,188.6h0M468.6,177.4h0M468.8,188.9h0M469.0,188.4h0M469.2,187.6h0M469.4,190.3h0M469.5,184.3h0M469.7,180.9h0M469.9,185.0h0M470.1,192.7h0M470.3,188.1h0M470.5,182.4h0M470.7,174.3h0M470.9,182.6h0M471.1,187.6h0M471.3,181.9h0M471.5,189.2h0M471.6,186.1h0M471.8,181.8h0M472.0,174.0h0M472.2,180.5h0M472.4,176.4h0M472.6,179.2h0M472.8,193.8h0M473.0,189.6h0M473.2,171.7h0M473.4,177.3h0M473.5,180.5h0M473.7,188.0h0M473.9,181.9h0M474.1,196.9h0M474.3,180.5h0M474.5,172.3h0M474.7,185.1h0M474.9,201.0h0M475.1,184.0h0M475.3,183.9h0M475.4,184.0h0M475.6,179.8h0M475.8,185.6h0M476.0,184.7h0M476.2,181.7h0M476.4,175.3h0M476.6,182.6h0M476.8,179.5h0M477.0,181.4h0M477.2,190.0h0M477.3,184.9h0M477.5,184.2h0M477.7,179.3h0M477.9,183.7h0M478.1,184.8h0M478.3,177.5h0M478.5,183.4h0M478.7,166.2h0M478.9,178.0h0M479.1,183.7h0M479.2,178.3h0M479.4,179.3h0M479.6,188.8h0M479.8,182.0h0M480.0,183.3h0M480.2,185.5h0M480.4,180.6h0M480.6,178.0h0M480.8,178.7h0M481.0,181.2h0M481.1,185.0h0M481.3,187.1h0M481.5,182.8h0M481.7,182.5h0M481.9,176.4h0M482.1,197.6h0M482.3,183.6h0M482.5,187.9h0M482.7,185.6h0M482.9,176.4h0M483.0,190.4h0M483.2,174.5h0M483.4,188.5h0M483.6,182.9h0M483.8,191.9h0M484.0,183.4h0M484.2,176.6h0M484.4,179.3h0M484.6,177.8h0M484.8,179.4h0M485.0,183.5h0M485.1,182.1h0M485.3,185.1h0M485.5,185.7h0M485.7,178.9h0M485.9,176.6h0M486.1,179.8h0M486.3,185.3h0M486.5,180.2h0M486.7,182.2h0M486.9,187.7h0M487.0,184.0h0M487.2,179.3h0M487.4,182.3h0M487.6,185.1h0M487.8,183.4h0M488.0,181.5h0M488.2,185.5h0M488.4,175.7h0M488.6,179.8h0M488.8,179.3h0M488.9,179.1h0M489.1,178.4h0M489.3,185.8h0M489.5,176.5h0M489.7,183.5h0M489.9,182.8h0M490.1,178.8h0M490.3,188.8h0M490.5,181.1h0M490.7,176.2h0M490.8,184.4h0M491.0,187.8h0M491.2,172.5h0M491.4,181.7h0M491.6,183.9h0M491.8,183.5h0M492.0,176.1h0M492.2,180.2h0M492.4,180.6h0M492.6,181.9h0M492.7,180.7h0M492.9,187.8h0M493.1,187.2h0M493.3,179.6h0M493.5,180.6h0M493.7,189.4h0M493.9,197.9h0M494.1,178.4h0M494.3,185.0h0M494.5,177.4h0M494.6,175.6h0M494.8,193.0h0M495.0,190.8h0M495.2,177.6h0M495.4,182.2h0M495.6,179.1h0M495.8,182.9h0M496.0,184.3h0M496.2,185.7h0M496.4,186.0h0M496.5,188.8h0M496.7,177.0h0M496.9,178.8h0M497.1,175.7h0M497.3,186.4h0M497.5,180.6h0M497.7,176.5h0M497.9,184.5h0M498.1,185.0h0M498.3,191.9h0M498.5,180.9h0M498.6,178.6h0M498.8,183.2h0M499.0,175.0h0M499.2,185.9h0M499.4,180.3h0M499.6,178.0h0M499.8,181.7h0M500.0,176.2h0M500.2,177.4h0M500.4,183.8h0M500.5,181.9h0M500.7,195.9h0M500.9,180.8h0M501.1,167.8h0M501.3,182.8h0M501.5,181.7h0M501.7,163.6h0M501.9,187.1h0M502.1,182.4h0M502.3,186.0h0M502.4,183.3h0M502.6,183.5h0M502.8,169.2h0M503.0,176.6h0M503.2,180.8h0M503.4,178.1h0M503.6,181.2h0M503.8,180.9h0M504.0,178.7h0M504.2,174.9h0M504.3,182.0h0M504.5,186.1h0M504.7,175.9h0M504.9,171.9h0M505.1,167.9h0M505.3,180.2h0M505.5,179.1h0M505.7,171.1h0M505.9,184.1h0M506.1,181.1h0M506.2,183.8h0M506.4,184.4h0M506.6,195.2h0M506.8,187.9h0M507.0,177.0h0M507.2,183.0h0M507.4,177.7h0M507.6,180.0h0M507.8,178.8h0M508.0,185.5h0M508.1,182.3h0M508.3,173.2h0M508.5,185.3h0M508.7,176.8h0M508.9,186.8h0M509.1,166.6h0M509.3,182.6h0M509.5,179.2h0M509.7,187.0h0M509.9,176.7h0M510.0,181.2h0M510.2,187.7h0M510.4,188.9h0M510.6,171.6h0M510.8,185.2h0M511.0,183.5h0M511.2,188.3h0M511.4,183.4h0M511.6,176.7h0M511.8,183.5h0M512.0,188.8h0M512.1,176.7h0M512.3,183.4h0M512.5,183.5h0M512.7,183.9h0M512.9,177.9h0M513.1,176.5h0M513.3,198.0h0M513.5,179.0h0M513.7,173.2h0M513.9,185.3h0M514.0,183.5h0M514.2,194.0h0M514.4,183.5h0M514.6,178.2h0M514.8,187.5h0M515.0,178.1h0M515.2,182.2h0M515.4,185.0h0M515.6,175.1h0M515.8,186.0h0M515.9,181.4h0M516.1,180.7h0M516.3,178.0h0M516.5,184.0h0M516.7,180.7h0M516.9,182.4h0M517.1,183.0h0M517.3,163.9h0M517.5,173.7h0M517.7,174.5h0M517.8,193.7h0M518.0,182.1h0M518.2,182.1h0M518.4,182.2h0M518.6,177.1h0M518.8,181.1h0M519.0,176.2h0M519.2,179.6h0M519.4,180.7h0M519.6,186.2h0M519.7,178.0h0M519.9,182.5h0M520.1,180.6h0M520.3,182.8h0M520.5,179.1h0M520.7,179.0h0M520.9,178.1h0M521.1,184.8h0M521.3,173.5h0M521.5,175.8h0M521.6,164.9h0M521.8,163.7h0M522.0,180.5h0M522.2,177.8h0M522.4,183.6h0M522.6,188.5h0M522.8,180.1h0M523.0,181.7h0M523.2,177.0h0M523.4,185.4h0M523.5,178.9h0M523.7,185.3h0M523.9,185.4h0M524.1,176.8h0M524.3,190.4h0M524.5,192.1h0M524.7,183.2h0M524.9,176.6h0M525.1,180.4h0M525.3,182.3h0M525.5,175.6h0M525.6,178.2h0M525.8,178.0h0M526.0,168.6h0M526.2,181.5h0M526.4,192.7h0M526.6,186.7h0M526.8,176.4h0M527.0,183.8h0M527.2,179.2h0M527.4,179.7h0M527.5,179.0h0M527.7,187.6h0M527.9,179.0h0M528.1,170.7h0M528.3,178.9h0M528.5,179.5h0M528.7,179.7h0M528.9,181.4h0M529.1,188.4h0M529.3,179.4h0M529.4,177.8h0M529.6,181.7h0M529.8,180.2h0M530.0,180.5h0M530.2,176.1h0M530.4,178.8h0M530.6,182.9h0M530.8,185.6h0M531.0,181.0h0M531.2,178.2h0M531.3,176.0h0M531.5,177.9h0M531.7,180.1h0M531.9,177.1h0M532.1,182.1h0M532.3,177.4h0M532.5,175.9h0M532.7,174.8h0M532.9,181.3h0M533.1,176.4h0M533.2,175.8h0M533.4,180.5h0M533.6,179.8h0M533.8,181.1h0M534.0,179.1h0M534.2,174.9h0M534.4,183.7h0M534.6,177.6h0M534.8,174.6h0M535.0,170.0h0M535.1,176.2h0M535.3,182.1h0M535.5,179.1h0M535.7,180.2h0M535.9,187.4h0M536.1,172.0h0M536.3,176.6h0M536.5,178.9h0M536.7,172.9h0M536.9,181.3h0M537.0,167.0h0M537.2,179.5h0M537.4,178.4h0M537.6,184.4h0M537.8,172.6h0M538.0,181.2h0M538.2,186.0h0M538.4,179.1h0M538.6,174.1h0M538.8,179.7h0M539.0,188.4h0M539.1,181.7h0M539.3,182.7h0M539.5,187.4h0M539.7,183.3h0M539.9,178.3h0M540.1,175.3h0M540.3,181.7h0M540.5,181.0h0M540.7,180.2h0M540.9,173.2h0M541.0,191.1h0M541.2,169.8h0M541.4,175.2h0M541.6,180.6h0M541.8,173.6h0M542.0,183.8h0M542.2,173.4h0M542.4,178.0h0M542.6,184.7h0M542.8,180.2h0M542.9,172.4h0M543.1,182.4h0M543.3,178.0h0M543.5,175.5h0M543.7,175.6h0M543.9,173.8h0M544.1,182.8h0M544.3,173.5h0M544.5,173.9h0M544.7,178.1h0M544.8,176.2h0M545.0,178.1h0M545.2,178.6h0M545.4,178.4h0M545.6,174.6h0M545.8,182.9h0M546.0,182.3h0M546.2,197.2h0M546.4,181.5h0M546.6,176.6h0M546.7,179.8h0M546.9,175.0h0M547.1,183.0h0M547.3,182.9h0M547.5,180.7h0M547.7,181.0h0M547.9,185.8h0M548.1,181.4h0M548.3,172.3h0M548.5,177.7h0M548.6,183.1h0M548.8,183.5h0M549.0,178.6h0M549.2,174.3h0M549.4,166.5h0M549.6,177.5h0M549.8,173.3h0M550.0,177.3h0M550.2,173.5h0M550.4,180.1h0M550.5,182.7h0M550.7,171.0h0M550.9,177.6h0M551.1,179.5h0M551.3,174.6h0M551.5,179.3h0M551.7,173.6h0M551.9,172.5h0M552.1,174.7h0M552.3,179.4h0M552.5,180.4h0M552.6,177.7h0M552.8,177.2h0M553.0,177.6h0M553.2,178.5h0M553.4,182.1h0M553.6,181.8h0M553.8,182.1h0M554.0,170.6h0M554.2,181.0h0M554.4,171.0h0M554.5,181.6h0M554.7,182.2h0M554.9,192.0h0M555.1,173.1h0M555.3,175.1h0M555.5,179.1h0M555.7,170.0h0M555.9,175.7h0M556.1,176.3h0M556.3,173.4h0M556.4,179.2h0M556.6,185.6h0M556.8,177.6h0M557.0,177.5h0M557.2,178.8h0M557.4,174.1h0M557.6,181.4h0M557.8,180.1h0M558.0,181.3h0M558.2,179.2h0M558.3,180.9h0M558.5,180.0h0M558.7,184.0h0M558.9,177.4h0M559.1,181.4h0M559.3,177.6h0M559.5,178.8h0M559.7,176.6h0M559.9,182.4h0M560.1,177.9h0M560.2,178.4h0M560.4,179.0h0M560.6,182.9h0M560.8,177.3h0M561.0,184.6h0M561.2,176.9h0M561.4,177.6h0M561.6,180.9h0M561.8,186.2h0M562.0,178.0h0M562.1,181.9h0M562.3,181.1h0M562.5,183.0h0M562.7,177.3h0M562.9,184.7h0M563.1,178.5h0M563.3,181.2h0M563.5,192.4h0M563.7,193.7h0M563.9,186.3h0M564.0,178.4h0M564.2,181.3h0M564.4,185.2h0M564.6,167.5h0M564.8,178.5h0M565.0,178.5h0M565.2,178.8h0M565.4,181.0h0M565.6,185.5h0M565.8,178.5h0M566.0,180.7h0M566.1,178.9h0M566.3,175.9h0M566.5,182.9h0M566.7,182.0h0M566.9,181.1h0M567.1,175.1h0M567.3,183.9h0M567.5,182.0h0M567.7,183.2h0M567.9,178.8h0M568.0,187.4h0M568.2,182.3h0M568.4,169.7h0M568.6,180.4h0M568.8,178.7h0M569.0,183.2h0M569.2,181.7h0M569.4,177.4h0M569.6,183.8h0M569.8,179.1h0M569.9,179.5h0M570.1,169.7h0M570.3,174.7h0M570.5,172.3h0M570.7,181.4h0M570.9,177.8h0M571.1,185.9h0M571.3,182.0h0M571.5,177.8h0M571.7,192.7h0M571.8,174.8h0M572.0,176.5h0M572.2,178.2h0M572.4,176.1h0M572.6,185.7h0M572.8,177.6h0M573.0,182.8h0M573.2,184.4h0M573.4,188.9h0M573.6,178.3h0M573.7,188.6h0M573.9,173.6h0M574.1,179.6h0M574.3,184.0h0M574.5,186.7h0M574.7,180.1h0M574.9,184.6h0M575.1,186.5h0M575.3,173.8h0M575.5,183.1h0M575.6,182.8h0M575.8,182.9h0M576.0,176.5h0M576.2,181.1h0M576.4,181.6h0M576.6,186.5h0M576.8,175.9h0M577.0,174.0h0M577.2,185.5h0M577.4,186.5h0M577.5,177.6h0M577.7,178.0h0M577.9,179.1h0M578.1,181.5h0M578.3,181.8h0M578.5,185.2h0M578.7,174.8h0M578.9,179.5h0M579.1,180.7h0M579.3,180.3h0M579.5,179.2h0M579.6,184.3h0M579.8,179.4h0M580.0,182.3h0M580.2,184.2h0M580.4,187.5h0M580.6,182.5h0M580.8,184.4h0M581.0,181.8h0M581.2,187.7h0M581.4,174.1h0M581.5,177.3h0M581.7,194.5h0M581.9,183.1h0M582.1,180.2h0M582.3,188.1h0M582.5,172.0h0M582.7,185.8h0M582.9,186.3h0M583.1,178.3h0M583.3,188.9h0M583.4,182.4h0M583.6,182.5h0M583.8,185.2h0M584.0,182.0h0M584.2,179.6h0M584.4,186.6h0M584.6,187.8h0M584.8,183.3h0M585.0,185.5h0M585.2,194.2h0M585.3,180.3h0M585.5,180.1h0M585.7,185.0h0M585.9,186.5h0M586.1,184.4h0M586.3,192.9h0M586.5,188.8h0M586.7,184.6h0M586.9,183.3h0M587.1,184.0h0M587.2,180.8h0M587.4,177.2h0M587.6,177.8h0M587.8,185.3h0M588.0,180.0h0M588.2,198.1h0M588.4,180.2h0M588.6,179.9h0M588.8,185.6h0M589.0,194.8h0M589.1,181.6h0M589.3,181.0h0M589.5,179.5h0M589.7,186.3h0M589.9,188.6h0M590.1,186.3h0M590.3,185.1h0M590.5,183.3h0M590.7,180.9h0M590.9,184.1h0M591.0,177.2h0M591.2,188.7h0M591.4,181.8h0M591.6,183.7h0M591.8,173.9h0M592.0,182.1h0M592.2,195.8h0M592.4,183.9h0M592.6,189.8h0M592.8,175.9h0M593.0,180.2h0M593.1,180.3h0M593.3,184.5h0M593.5,185.7h0M593.7,180.6h0M593.9,178.0h0M594.1,175.8h0M594.3,183.5h0M594.5,183.3h0M594.7,177.6h0M594.9,177.5h0M595.0,184.2h0M595.2,182.8h0M595.4,176.2h0M595.6,171.8h0M595.8,172.0h0M596.0,174.1h0M596.2,175.2h0M596.4,177.0h0M596.6,169.5h0M596.8,180.8h0M596.9,180.1h0M597.1,167.8h0M597.3,158.2h0M597.5,172.8h0M597.7,161.5h0M597.9,166.2h0M598.1,167.7h0M598.3,169.2h0M598.5,174.6h0M598.7,178.0h0M598.8,169.7h0M599.0,167.4h0M599.2,176.1h0M599.4,171.2h0M612.3,185.8h0M612.5,188.6h0M612.7,179.8h0M612.9,184.4h0M613.1,179.8h0M613.3,182.2h0M613.5,185.2h0M613.7,181.7h0M613.9,175.8h0M614.1,179.6h0M614.2,177.1h0M614.4,183.8h0M614.6,183.8h0M614.8,181.2h0M615.0,187.2h0M615.2,185.5h0M615.4,186.2h0M615.6,183.4h0M615.8,180.5h0M616.0,185.3h0M616.1,179.1h0M616.3,174.6h0M616.5,181.0h0M616.7,183.0h0M616.9,178.6h0M617.1,182.1h0M617.3,196.0h0M617.5,182.5h0M617.7,178.7h0M617.9,178.1h0M618.0,180.3h0M618.2,183.5h0M618.4,180.1h0M618.6,179.6h0M618.8,177.7h0M619.0,180.8h0M619.2,187.9h0M619.4,179.6h0M619.6,183.6h0M619.8,184.7h0M620.0,178.2h0M620.1,178.1h0M620.3,182.1h0M620.5,181.0h0M620.7,182.2h0M620.9,176.1h0M621.1,182.2h0M621.3,180.4h0M621.5,181.7h0M621.7,186.5h0M621.9,184.1h0M622.0,178.8h0M622.2,185.5h0M622.4,185.8h0M622.6,182.7h0M622.8,178.1h0M623.0,177.9h0M623.2,186.1h0M623.4,183.6h0M623.6,182.4h0M623.8,184.4h0M623.9,182.5h0M624.1,183.4h0M624.3,183.3h0M624.5,179.1h0M624.7,178.4h0M624.9,183.2h0M625.1,180.4h0M625.3,183.4h0M625.5,179.1h0M625.7,183.1h0M625.8,179.4h0M626.0,179.0h0M626.2,182.0h0M626.4,184.8h0M626.6,181.3h0M626.8,183.4h0M627.0,186.3h0M627.2,179.5h0M627.4,180.9h0M627.6,178.3h0M627.7,172.9h0M627.9,181.3h0M628.1,183.5h0M628.3,180.5h0M628.5,183.1h0M628.7,182.3h0M628.9,187.1h0M629.1,186.2h0M629.3,180.3h0M629.5,182.1h0M629.6,182.7h0M629.8,179.6h0M630.0,184.1h0M630.2,183.8h0M630.4,181.5h0M630.6,180.7h0M630.8,181.5h0M631.0,185.6h0M631.2,180.6h0M631.4,181.8h0M631.5,183.6h0M631.7,181.5h0M631.9,181.5h0M632.1,182.5h0M632.3,179.0h0M632.5,181.8h0M632.7,179.7h0M632.9,184.0h0M633.1,181.9h0M633.3,180.8h0M633.5,184.7h0M633.6,186.7h0M633.8,184.0h0M634.0,181.7h0M634.2,182.2h0M634.4,186.0h0M634.6,181.6h0M634.8,182.1h0M635.0,181.0h0M635.2,183.6h0M635.4,183.7h0M635.5,182.3h0M635.7,181.2h0M635.9,183.7h0M636.1,181.7h0M636.3,182.1h0M636.5,181.0h0M636.7,184.1h0M636.9,181.0h0M637.1,182.1h0M637.3,181.2h0M637.4,180.8h0M637.6,181.7h0M637.8,180.8h0M638.0,184.4h0M638.2,183.5h0M638.4,180.4h0M638.6,182.1h0M638.8,179.9h0M639.0,180.6h0M639.2,181.6h0M639.3,183.3h0M639.5,182.9h0M639.7,180.0h0M639.9,179.7h0M640.1,181.0h0M640.3,182.9h0M640.5,182.2h0M640.7,180.4h0M640.9,181.2h0M641.1,175.9h0M641.2,182.8h0M641.4,179.4h0M641.6,182.4h0M641.8,183.3h0M642.0,183.3h0M642.2,180.4h0M642.4,181.6h0M642.6,182.2h0M642.8,182.1h0M643.0,182.8h0M643.1,181.5h0M643.3,182.7h0M643.5,183.1h0M643.7,181.4h0M643.9,179.0h0M644.1,183.2h0M644.3,181.8h0M644.5,181.2h0M644.7,181.6h0M644.9,182.5h0M645.0,179.9h0M645.2,181.8h0M645.4,180.4h0M645.6,182.6h0M645.8,182.8h0M646.0,183.4h0M646.2,179.0h0M646.4,181.4h0M646.6,180.3h0M646.8,181.5h0M647.0,182.0h0M647.1,181.5h0M647.3,182.9h0M647.5,181.2h0M647.7,182.1h0M647.9,179.4h0M600.9,150.1h0M601.3,151.0h0M601.1,154.7h0M593.3,157.6h0M593.6,158.9h0M593.3,161.4h0M599.9,161.4h0M602.1,165.2h0M593.9,164.6h0M592.7,165.8h0M590.8,167.1h0M592.0,168.4h0M594.6,169.6h0M589.5,170.9h0M591.4,172.1h0M588.0,192.2h0M591.5,195.3h0M594.2,193.5h0M597.0,188.0h0M597.7,189.4h0M597.7,192.2h0M597.4,195.6h0M597.3,197.0h0M600.4,193.5h0M596.3,199.7h0M595.6,203.6h0M599.0,202.5h0M602.5,185.3h0M606.3,190.8h0M610.4,188.7h0M608.7,196.3h0M610.0,201.8h0M609.0,204.5h0M609.6,208.0h0M605.0,207.3h0M604.5,210.0h0M605.0,211.0h0M603.2,177.0h0M608.0,181.2h0M611.6,169.0h0M611.6,174.0h0M610.5,176.0h0M609.5,178.5h0M604.5,183.0h0M598.5,172.0h0M596.5,175.5h0M595.5,178.0h0M598.8,182.0h0M600.5,186.5h0" stroke="#1f77b4" stroke-width="1.7" stroke-linecap="round" fill="none"/>
</g>
<rect x="381.8" y="6.0" width="266.20" height="136.10" fill="none" stroke="#000" stroke-width="0.85"/>
<rect x="381.8" y="148.3" width="266.20" height="65.20" fill="none" stroke="#000" stroke-width="0.85"/>
<path d="M42.20,139.4v2.1M53.60,139.4v2.1M76.40,139.4v2.1M87.80,139.4v2.1M99.20,139.4v2.1M110.60,139.4v2.1M133.40,139.4v2.1M144.80,139.4v2.1M156.20,139.4v2.1M167.60,139.4v2.1M190.40,139.4v2.1M201.80,139.4v2.1M213.20,139.4v2.1M224.60,139.4v2.1M247.40,139.4v2.1M258.80,139.4v2.1M270.20,139.4v2.1M281.60,139.4v2.1M304.40,139.4v2.1M315.80,139.4v2.1M42.20,212.6v2.1M53.60,212.6v2.1M76.40,212.6v2.1M87.80,212.6v2.1M99.20,212.6v2.1M110.60,212.6v2.1M133.40,212.6v2.1M144.80,212.6v2.1M156.20,212.6v2.1M167.60,212.6v2.1M190.40,212.6v2.1M201.80,212.6v2.1M213.20,212.6v2.1M224.60,212.6v2.1M247.40,212.6v2.1M258.80,212.6v2.1M270.20,212.6v2.1M281.60,212.6v2.1M304.40,212.6v2.1M315.80,212.6v2.1M42.5,113.24h-2.1M42.5,97.94h-2.1M42.5,87.08h-2.1M42.5,78.66h-2.1M42.5,71.78h-2.1M42.5,65.96h-2.1M42.5,60.92h-2.1M42.5,56.48h-2.1M42.5,26.34h-2.1M42.5,11.04h-2.1M42.5,0.18h-2.1M42.5,212.60h-2.1M42.5,207.86h-2.1M42.5,203.13h-2.1M42.5,193.66h-2.1M42.5,188.92h-2.1M42.5,184.19h-2.1M42.5,174.71h-2.1M42.5,169.98h-2.1M42.5,165.24h-2.1M42.5,155.77h-2.1M42.5,151.04h-2.1M42.5,146.30h-2.1M391.31,142.1v2.1M400.81,142.1v2.1M410.32,142.1v2.1M429.34,142.1v2.1M438.84,142.1v2.1M448.35,142.1v2.1M467.36,142.1v2.1M476.87,142.1v2.1M486.38,142.1v2.1M505.39,142.1v2.1M514.90,142.1v2.1M524.40,142.1v2.1M543.42,142.1v2.1M552.93,142.1v2.1M562.43,142.1v2.1M581.45,142.1v2.1M590.95,142.1v2.1M600.46,142.1v2.1M619.48,142.1v2.1M628.98,142.1v2.1M638.49,142.1v2.1M391.31,213.5v2.1M400.81,213.5v2.1M410.32,213.5v2.1M429.34,213.5v2.1M438.84,213.5v2.1M448.35,213.5v2.1M467.36,213.5v2.1M476.87,213.5v2.1M486.38,213.5v2.1M505.39,213.5v2.1M514.90,213.5v2.1M524.40,213.5v2.1M543.42,213.5v2.1M552.93,213.5v2.1M562.43,213.5v2.1M581.45,213.5v2.1M590.95,213.5v2.1M600.46,213.5v2.1M619.48,213.5v2.1M628.98,213.5v2.1M638.49,213.5v2.1M381.8,213.50h-2.1M381.8,208.84h-2.1M381.8,204.19h-2.1M381.8,194.87h-2.1M381.8,190.21h-2.1M381.8,185.56h-2.1M381.8,176.24h-2.1M381.8,171.59h-2.1M381.8,166.93h-2.1M381.8,157.61h-2.1M381.8,152.96h-2.1M381.8,148.30h-2.1" stroke="#000" stroke-width="0.6" fill="none"/>
<path d="M65.00,139.4v3.6M122.00,139.4v3.6M179.00,139.4v3.6M236.00,139.4v3.6M293.00,139.4v3.6M65.00,212.6v3.6M122.00,212.6v3.6M179.00,212.6v3.6M236.00,212.6v3.6M293.00,212.6v3.6M42.5,139.40h-3.6M42.5,52.50h-3.6M42.5,198.39h-3.6M42.5,179.45h-3.6M42.5,160.51h-3.6M381.80,142.1v3.6M419.83,142.1v3.6M457.86,142.1v3.6M495.88,142.1v3.6M533.91,142.1v3.6M571.94,142.1v3.6M609.97,142.1v3.6M648.00,142.1v3.6M381.80,213.5v3.6M419.83,213.5v3.6M457.86,213.5v3.6M495.88,213.5v3.6M533.91,213.5v3.6M571.94,213.5v3.6M609.97,213.5v3.6M648.00,213.5v3.6M381.8,142.10h-3.6M381.8,96.73h-3.6M381.8,51.37h-3.6M381.8,6.00h-3.6M381.8,199.53h-3.6M381.8,180.90h-3.6M381.8,162.27h-3.6" stroke="#000" stroke-width="0.85" fill="none"/>
<rect x="47.4" y="5.9" width="104.70" height="89.40" rx="2.2" fill="#fff" fill-opacity="0.8" stroke="#d6d6d6" stroke-width="0.9"/>
<line x1="50.9" y1="13.100000000000001" x2="72.2" y2="13.100000000000001" stroke="#ff7f0e" stroke-width="1.7"/>
<text x="79.68" y="17.60" font-family="Liberation Sans" font-size="10" textLength="37.90" lengthAdjust="spacingAndGlyphs" >Total Fit</text>
<line x1="50.9" y1="27.55" x2="72.2" y2="27.55" stroke="#2ca02c" stroke-opacity="0.66" stroke-width="1.35" stroke-dasharray="4.8 2.05"/>
<text x="79.97" y="32.05" font-family="Liberation Sans" font-size="10" textLength="45.18" lengthAdjust="spacingAndGlyphs" >Gaussian</text>
<line x1="50.9" y1="42.0" x2="72.2" y2="42.0" stroke="#d62728" stroke-opacity="0.66" stroke-width="1.35" stroke-dasharray="4.8 2.05"/>
<text x="80.01" y="46.50" font-family="Liberation Sans" font-size="10" textLength="52.60" lengthAdjust="spacingAndGlyphs" >Diffusion 1</text>
<line x1="50.9" y1="56.449999999999996" x2="72.2" y2="56.449999999999996" stroke="#9467bd" stroke-opacity="0.66" stroke-width="1.35" stroke-dasharray="4.8 2.05"/>
<text x="80.00" y="60.95" font-family="Liberation Sans" font-size="10" textLength="52.66" lengthAdjust="spacingAndGlyphs" >Diffusion 2</text>
<line x1="50.9" y1="70.9" x2="72.2" y2="70.9" stroke="#8c564b" stroke-opacity="0.66" stroke-width="1.35" stroke-dasharray="4.8 2.05"/>
<text x="80.02" y="75.40" font-family="Liberation Sans" font-size="10" textLength="58.74" lengthAdjust="spacingAndGlyphs" >Background</text>
<path d="M50.9,85.35H72.2M61.55,80.65V90.05" stroke="#1f77b4" stroke-width="1.5" fill="none"/>
<text x="80.01" y="89.85" font-family="Liberation Sans" font-size="10" textLength="67.71" lengthAdjust="spacingAndGlyphs" >Measurement</text>
<rect x="386.6" y="11.3" width="207.00" height="59.30" rx="2.2" fill="#fff" fill-opacity="0.8" stroke="#d6d6d6" stroke-width="0.9"/>
<line x1="389.9" y1="18.5" x2="410.7" y2="18.5" stroke="#ff7f0e" stroke-width="1.7"/>
<text x="418.19" y="22.55" font-family="Liberation Sans" font-size="10" textLength="37.21" lengthAdjust="spacingAndGlyphs" >Total Fit</text>
<line x1="389.9" y1="32.800000000000004" x2="410.7" y2="32.800000000000004" stroke="#2ca02c" stroke-opacity="0.66" stroke-width="1.35" stroke-dasharray="4.8 2.05"/>
<text x="418.47" y="36.85" font-family="Liberation Sans" font-size="10" textLength="44.36" lengthAdjust="spacingAndGlyphs" >Gaussian</text>
<line x1="389.9" y1="47.1" x2="410.7" y2="47.1" stroke="#d62728" stroke-opacity="0.66" stroke-width="1.35" stroke-dasharray="4.8 2.05"/>
<text x="418.52" y="51.15" font-family="Liberation Sans" font-size="10" textLength="51.64" lengthAdjust="spacingAndGlyphs" >Diffusion 1</text>
<line x1="389.9" y1="61.4" x2="410.7" y2="61.4" stroke="#9467bd" stroke-opacity="0.66" stroke-width="1.35" stroke-dasharray="4.8 2.05"/>
<text x="418.52" y="65.45" font-family="Liberation Sans" font-size="10" textLength="51.70" lengthAdjust="spacingAndGlyphs" >Diffusion 2</text>
<line x1="489.3" y1="18.5" x2="509.9" y2="18.5" stroke="#e377c2" stroke-opacity="0.66" stroke-width="1.35" stroke-dasharray="4.8 2.05"/>
<text x="517.08" y="22.55" font-family="Liberation Sans" font-size="10" textLength="60.58" lengthAdjust="spacingAndGlyphs" >Escape Peak</text>
<line x1="489.3" y1="32.800000000000004" x2="509.9" y2="32.800000000000004" stroke="#7f7f7f" stroke-opacity="0.66" stroke-width="1.35" stroke-dasharray="4.8 2.05"/>
<text x="517.02" y="36.85" font-family="Liberation Sans" font-size="10" textLength="72.25" lengthAdjust="spacingAndGlyphs" >Backscattering</text>
<line x1="489.3" y1="47.1" x2="509.9" y2="47.1" stroke="#bcbd22" stroke-opacity="0.66" stroke-width="1.35" stroke-dasharray="4.8 2.05"/>
<text x="517.06" y="51.15" font-family="Liberation Sans" font-size="10" textLength="62.72" lengthAdjust="spacingAndGlyphs" >Noise Pile-up</text>
<path d="M489.3,61.4H509.9M499.60,56.70V66.10" stroke="#1f77b4" stroke-width="1.5" fill="none"/>
<text x="517.03" y="65.45" font-family="Liberation Sans" font-size="10" textLength="66.48" lengthAdjust="spacingAndGlyphs" >Measurement</text>
<text x="51.37" y="227.80" font-family="Liberation Sans" font-size="12" textLength="26.75" lengthAdjust="spacingAndGlyphs" >16.0</text>
<text x="108.37" y="227.80" font-family="Liberation Sans" font-size="12" textLength="26.75" lengthAdjust="spacingAndGlyphs" >16.5</text>
<text x="165.37" y="227.80" font-family="Liberation Sans" font-size="12" textLength="26.75" lengthAdjust="spacingAndGlyphs" >17.0</text>
<text x="222.37" y="227.80" font-family="Liberation Sans" font-size="12" textLength="26.75" lengthAdjust="spacingAndGlyphs" >17.5</text>
<text x="279.37" y="227.80" font-family="Liberation Sans" font-size="12" textLength="26.75" lengthAdjust="spacingAndGlyphs" >18.0</text>
<text x="138.45" y="243.30" font-family="Liberation Sans" font-size="12" textLength="80.59" lengthAdjust="spacingAndGlyphs" >Energy (keV)</text>
<text x="16.11" y="57.65" font-family="Liberation Sans" font-size="12" textLength="14.63" lengthAdjust="spacingAndGlyphs" >10</text>
<text x="31.91" y="53.10" font-family="Liberation Sans" font-size="8.4" textLength="4.51" lengthAdjust="spacingAndGlyphs" >4</text>
<text x="16.11" y="144.25" font-family="Liberation Sans" font-size="12" textLength="14.63" lengthAdjust="spacingAndGlyphs" >10</text>
<text x="31.79" y="139.70" font-family="Liberation Sans" font-size="8.4" textLength="4.79" lengthAdjust="spacingAndGlyphs" >3</text>
<text transform="translate(9.00,114.48) rotate(-90)" x="0" y="0" font-family="Liberation Sans" font-size="12" textLength="89.62" lengthAdjust="spacingAndGlyphs">Counts / 21 eV</text>
<text transform="translate(13.00,219.43) rotate(-90)" x="0" y="0" font-family="Liberation Sans" font-size="12" textLength="80.45" lengthAdjust="spacingAndGlyphs">Residuals (<tspan font-style="italic">σ</tspan>)</text>
<text x="28.92" y="164.81" font-family="Liberation Sans" font-size="12" textLength="7.52" lengthAdjust="spacingAndGlyphs" >2</text>
<text x="29.11" y="183.75" font-family="Liberation Sans" font-size="12" textLength="7.20" lengthAdjust="spacingAndGlyphs" >0</text>
<text x="19.24" y="202.69" font-family="Liberation Sans" font-size="12" textLength="17.29" lengthAdjust="spacingAndGlyphs" >−2</text>
<text class="s" x="44.32" y="272.70" font-family="Liberation Serif" font-size="15.4" textLength="226.29" lengthAdjust="spacingAndGlyphs" >(a) Fit to a krypton K-32 peak.</text>
<text x="378.27" y="228.40" font-family="Liberation Sans" font-size="12" textLength="7.04" lengthAdjust="spacingAndGlyphs" >2</text>
<text x="416.69" y="228.40" font-family="Liberation Sans" font-size="12" textLength="6.35" lengthAdjust="spacingAndGlyphs" >4</text>
<text x="454.33" y="228.40" font-family="Liberation Sans" font-size="12" textLength="6.97" lengthAdjust="spacingAndGlyphs" >6</text>
<text x="492.47" y="228.40" font-family="Liberation Sans" font-size="12" textLength="6.85" lengthAdjust="spacingAndGlyphs" >8</text>
<text x="526.32" y="228.40" font-family="Liberation Sans" font-size="12" textLength="14.74" lengthAdjust="spacingAndGlyphs" >10</text>
<text x="564.34" y="228.40" font-family="Liberation Sans" font-size="12" textLength="14.87" lengthAdjust="spacingAndGlyphs" >12</text>
<text x="602.39" y="228.40" font-family="Liberation Sans" font-size="12" textLength="14.56" lengthAdjust="spacingAndGlyphs" >14</text>
<text x="640.40" y="228.40" font-family="Liberation Sans" font-size="12" textLength="14.81" lengthAdjust="spacingAndGlyphs" >16</text>
<text x="474.25" y="243.30" font-family="Liberation Sans" font-size="12" textLength="80.59" lengthAdjust="spacingAndGlyphs" >Energy (keV)</text>
<text x="356.11" y="146.95" font-family="Liberation Sans" font-size="12" textLength="14.63" lengthAdjust="spacingAndGlyphs" >10</text>
<text x="371.80" y="142.40" font-family="Liberation Sans" font-size="8.4" textLength="4.73" lengthAdjust="spacingAndGlyphs" >0</text>
<text x="356.11" y="101.58" font-family="Liberation Sans" font-size="12" textLength="14.63" lengthAdjust="spacingAndGlyphs" >10</text>
<text x="371.67" y="97.03" font-family="Liberation Sans" font-size="8.4" textLength="4.98" lengthAdjust="spacingAndGlyphs" >2</text>
<text x="356.11" y="56.22" font-family="Liberation Sans" font-size="12" textLength="14.63" lengthAdjust="spacingAndGlyphs" >10</text>
<text x="371.91" y="51.67" font-family="Liberation Sans" font-size="8.4" textLength="4.51" lengthAdjust="spacingAndGlyphs" >4</text>
<text x="356.11" y="10.85" font-family="Liberation Sans" font-size="12" textLength="14.63" lengthAdjust="spacingAndGlyphs" >10</text>
<text x="371.68" y="6.30" font-family="Liberation Sans" font-size="8.4" textLength="4.91" lengthAdjust="spacingAndGlyphs" >6</text>
<text transform="translate(349.30,118.27) rotate(-90)" x="0" y="0" font-family="Liberation Sans" font-size="12" textLength="88.01" lengthAdjust="spacingAndGlyphs">Counts / 10 eV</text>
<text transform="translate(352.40,220.51) rotate(-90)" x="0" y="0" font-family="Liberation Sans" font-size="12" textLength="79.32" lengthAdjust="spacingAndGlyphs">Residuals (<tspan font-style="italic">σ</tspan>)</text>
<text x="368.32" y="166.57" font-family="Liberation Sans" font-size="12" textLength="7.52" lengthAdjust="spacingAndGlyphs" >2</text>
<text x="368.51" y="185.20" font-family="Liberation Sans" font-size="12" textLength="7.20" lengthAdjust="spacingAndGlyphs" >0</text>
<text x="358.64" y="203.83" font-family="Liberation Sans" font-size="12" textLength="17.29" lengthAdjust="spacingAndGlyphs" >−2</text>
<text class="s" x="341.94" y="272.70" font-family="Liberation Serif" font-size="15.4" textLength="311.76" lengthAdjust="spacingAndGlyphs" >(b) Fit to an electron microscope spectrum.</text>
</svg>
</body></html>
